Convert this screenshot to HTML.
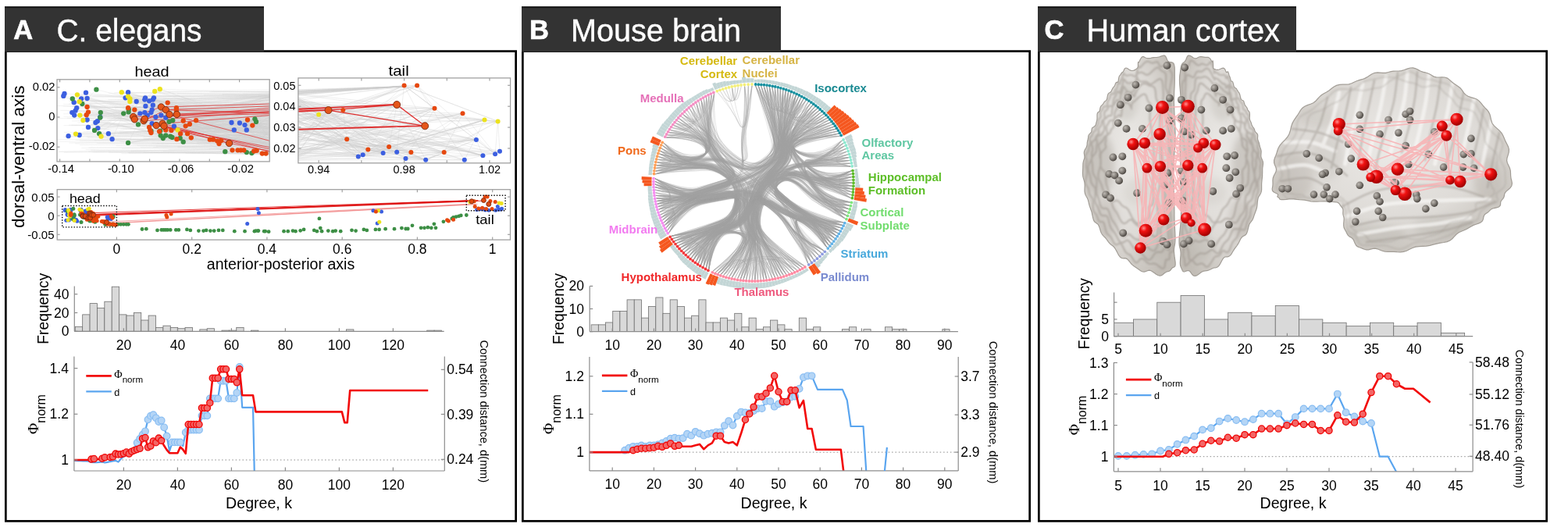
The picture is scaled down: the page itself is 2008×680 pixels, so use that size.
<!DOCTYPE html>
<html><head><meta charset="utf-8"><title>Rich-club figure</title>
<style>html,body{margin:0;padding:0;background:#fff}body{width:2008px;height:680px;overflow:hidden}svg{display:block}</style>
</head><body>
<svg width="2008" height="680" viewBox="0 0 2008 680" font-family="Liberation Sans, Arial, sans-serif">
<rect width="2008" height="680" fill="#fff"/>
<rect x="7.35" y="65.6" width="653.30" height="601.70" fill="none" stroke="#000" stroke-width="2.7"/>
<rect x="6" y="8.5" width="332" height="58.0" fill="#333"/>
<rect x="6" y="8.3" width="332" height="1.8" fill="#111"/>
<text x="17.2" y="50.2" font-size="34.5" text-anchor="start" font-weight="bold" fill="#fff" stroke="#fff" stroke-width="0.7">A</text>
<text x="72.5" y="53.4" font-size="40" text-anchor="start" fill="#fff"  textLength="186" lengthAdjust="spacingAndGlyphs" stroke="#fff" stroke-width="0.35">C. elegans</text>
<rect x="669.35" y="65.6" width="649.30" height="601.70" fill="none" stroke="#000" stroke-width="2.7"/>
<rect x="668" y="8.5" width="332" height="58.0" fill="#333"/>
<rect x="668" y="8.3" width="332" height="1.8" fill="#111"/>
<text x="678.0" y="50.2" font-size="34.5" text-anchor="start" font-weight="bold" fill="#fff" stroke="#fff" stroke-width="0.7">B</text>
<text x="731.0" y="53.4" font-size="40" text-anchor="start" fill="#fff"  textLength="218" lengthAdjust="spacingAndGlyphs" stroke="#fff" stroke-width="0.35">Mouse brain</text>
<rect x="1330.35" y="65.6" width="650.30" height="601.70" fill="none" stroke="#000" stroke-width="2.7"/>
<rect x="1329" y="8.5" width="331" height="58.0" fill="#333"/>
<rect x="1329" y="8.3" width="331" height="1.8" fill="#111"/>
<text x="1337.5" y="50.2" font-size="34.5" text-anchor="start" font-weight="bold" fill="#fff" stroke="#fff" stroke-width="0.7">C</text>
<text x="1391.5" y="53.4" font-size="40" text-anchor="start" fill="#fff"  textLength="247.5" lengthAdjust="spacingAndGlyphs" stroke="#fff" stroke-width="0.35">Human cortex</text>
<clipPath id="chead"><rect x="73" y="101.8" width="272.2" height="105.10000000000001"/></clipPath>
<path d="M82.5,119.9L362.9,137.2M81.3,122.9L362.9,163.1M110.0,118.7L362.9,148.4M111.6,126.0L362.9,168.2M104.1,126.5L362.9,170.0M94.7,131.2L362.9,122.6M98.2,138.2L362.9,118.2M96.6,141.7L362.9,188.0M92.3,144.1L362.9,139.0M95.2,147.6L362.9,136.9M111.6,153.5L362.9,201.4M113.0,162.9L362.9,156.9M87.6,174.2L362.9,187.9M101.7,173.0L362.9,157.4M122.4,157.0L362.9,171.2M124.8,155.2L362.9,129.8M128.3,150.0L362.9,170.8M125.3,164.1L362.9,190.6M138.9,171.2L362.9,161.4M143.6,178.2L362.9,179.8M164.1,118.2L362.9,173.9M164.1,118.2L362.9,122.5M164.1,118.2L362.9,181.3M160.6,125.3L362.9,167.1M160.6,125.3L362.9,142.6M160.6,125.3L362.9,119.7M174.7,130.0L362.9,190.3M174.7,130.0L362.9,157.1M174.7,130.0L362.9,177.9M186.0,125.3L362.9,191.5M186.0,125.3L362.9,177.5M186.0,125.3L362.9,195.1M185.3,127.6L362.9,150.5M185.3,127.6L362.9,184.9M185.3,127.6L362.9,154.7M191.1,129.3L362.9,196.3M191.1,129.3L362.9,191.5M191.1,129.3L362.9,125.3M197.0,125.3L362.9,128.6M197.0,125.3L362.9,135.4M197.0,125.3L362.9,198.8M195.8,127.6L362.9,154.0M195.8,127.6L362.9,170.1M195.8,127.6L362.9,142.5M186.4,135.9L362.9,160.0M186.4,135.9L362.9,149.7M186.4,135.9L362.9,146.8M195.8,134.7L362.9,166.6M195.8,134.7L362.9,166.5M195.8,134.7L362.9,193.6M179.4,145.3L362.9,174.8M179.4,145.3L362.9,195.7M179.4,145.3L362.9,189.6M185.3,144.1L362.9,201.0M185.3,144.1L362.9,173.9M185.3,144.1L362.9,130.9M188.8,147.6L362.9,189.9M188.8,147.6L362.9,198.7M188.8,147.6L362.9,193.7M193.5,144.1L362.9,165.2M193.5,144.1L362.9,177.5M193.5,144.1L362.9,134.9M199.4,150.0L362.9,187.5M199.4,150.0L362.9,165.6M199.4,150.0L362.9,141.2M194.7,140.6L362.9,122.4M194.7,140.6L362.9,189.4M194.7,140.6L362.9,200.9M206.4,147.6L362.9,124.5M206.4,147.6L362.9,184.8M206.4,147.6L362.9,151.8M212.3,150.7L362.9,129.8M212.3,150.7L362.9,141.9M212.3,150.7L362.9,182.2M194.7,158.2L362.9,191.0M194.7,158.2L362.9,120.8M194.7,158.2L362.9,169.1M222.9,161.7L362.9,120.9M222.9,161.7L362.9,177.9M222.9,161.7L362.9,145.1M296.5,157.0L362.9,191.6M296.5,157.0L362.9,200.1M296.5,157.0L362.9,159.8M306.9,157.5L362.9,201.6M306.9,157.5L362.9,143.3M306.9,157.5L362.9,123.6M313.5,160.1L362.9,167.8M313.5,160.1L362.9,119.7M313.5,160.1L362.9,133.8M299.8,166.4L362.9,151.6M299.8,166.4L362.9,168.7M299.8,166.4L362.9,130.3M315.8,166.4L362.9,120.6M315.8,166.4L362.9,190.5M315.8,166.4L362.9,143.6M98.9,121.3L362.9,198.2M101.7,130.2L362.9,193.0M102.4,147.6L362.9,149.0M106.4,154.0L362.9,156.0M97.0,171.6L362.9,161.1M129.5,174.7L362.9,171.6M155.8,118.2L362.9,167.5M155.8,118.2L362.9,164.4M155.8,118.2L362.9,169.6M164.1,123.6L362.9,196.7M164.1,123.6L362.9,160.0M164.1,123.6L362.9,153.6M166.4,126.5L362.9,178.0M166.4,126.5L362.9,137.2M166.4,126.5L362.9,142.5M166.4,130.0L362.9,199.9M166.4,130.0L362.9,161.2M166.4,130.0L362.9,163.5M198.2,117.0L362.9,118.0M198.2,117.0L362.9,152.2M198.2,117.0L362.9,166.2M204.8,114.2L362.9,118.7M204.8,114.2L362.9,169.2M204.8,114.2L362.9,170.6M227.6,166.4L362.9,122.1M227.6,166.4L362.9,170.2M227.6,166.4L362.9,156.5M123.4,114.7L362.9,174.6M92.8,126.5L362.9,146.9M105.3,133.0L362.9,176.9M128.8,144.1L362.9,179.5M128.3,150.5L362.9,118.9M121.0,166.9L362.9,122.2M127.1,171.2L362.9,174.3M158.2,145.3L362.9,198.6M158.2,145.3L362.9,138.3M158.2,145.3L362.9,155.7M164.8,140.1L362.9,167.2M164.8,140.1L362.9,144.1M164.8,140.1L362.9,147.9M164.6,143.4L362.9,143.5M164.6,143.4L362.9,148.3M164.6,143.4L362.9,167.5M164.1,182.9L362.9,142.5M164.1,182.9L362.9,149.0M164.1,182.9L362.9,182.4M177.0,159.4L362.9,119.3M177.0,159.4L362.9,165.3M177.0,159.4L362.9,179.3M193.5,167.6L362.9,143.3M193.5,167.6L362.9,135.9M193.5,167.6L362.9,185.1M205.2,167.6L362.9,137.3M205.2,167.6L362.9,132.9M205.2,167.6L362.9,153.9M205.7,173.5L362.9,176.2M205.7,173.5L362.9,125.7M205.7,173.5L362.9,144.3M208.8,177.0L362.9,145.3M208.8,177.0L362.9,187.6M208.8,177.0L362.9,154.2M212.3,173.5L362.9,189.5M212.3,173.5L362.9,131.4M212.3,173.5L362.9,145.6M218.2,174.7L362.9,172.1M218.2,174.7L362.9,192.0M218.2,174.7L362.9,155.2M220.5,175.9L362.9,136.1M220.5,175.9L362.9,127.3M220.5,175.9L362.9,161.9M216.5,155.9L362.9,133.2M216.5,155.9L362.9,185.4M216.5,155.9L362.9,188.1M221.2,154.2L362.9,132.6M221.2,154.2L362.9,140.6M221.2,154.2L362.9,185.4M230.7,177.0L362.9,171.4M230.7,177.0L362.9,185.3M230.7,177.0L362.9,146.3M234.7,181.7L362.9,128.0M234.7,181.7L362.9,141.8M234.7,181.7L362.9,184.3M288.3,194.2L362.9,140.0M288.3,194.2L362.9,146.4M288.3,194.2L362.9,152.4M315.8,195.1L362.9,152.6M315.8,195.1L362.9,151.7M315.8,195.1L362.9,195.0M322.4,196.1L362.9,130.3M322.4,196.1L362.9,117.4M322.4,196.1L362.9,196.9M326.4,152.3L362.9,191.6M326.4,152.3L362.9,200.6M326.4,152.3L362.9,153.8M328.0,155.9L362.9,197.5M328.0,155.9L362.9,195.6M328.0,155.9L362.9,135.9M111.6,137.0L362.9,180.2M113.0,143.6L362.9,187.9M110.7,147.2L362.9,173.2M172.3,140.6L362.9,161.0M172.3,140.6L362.9,141.5M172.3,140.6L362.9,145.9M164.1,138.2L362.9,136.3M164.1,138.2L362.9,122.8M164.1,138.2L362.9,166.9M214.7,131.6L362.9,141.4M214.7,131.6L362.9,185.7M214.7,131.6L362.9,120.9M225.9,138.2L362.9,193.6M225.9,138.2L362.9,175.8M225.9,138.2L362.9,195.3M225.9,141.7L362.9,193.0M225.9,141.7L362.9,193.2M225.9,141.7L362.9,165.9M234.7,154.7L362.9,118.2M234.7,154.7L362.9,180.2M234.7,154.7L362.9,131.6M237.7,161.3L362.9,142.4M237.7,161.3L362.9,173.2M237.7,161.3L362.9,161.5M242.9,158.9L362.9,152.1M242.9,158.9L362.9,196.6M242.9,158.9L362.9,168.9M251.1,154.2L362.9,146.0M251.1,154.2L362.9,138.4M251.1,154.2L362.9,190.0M191.1,162.9L362.9,157.5M191.1,162.9L362.9,183.3M191.1,162.9L362.9,146.8M192.3,166.9L362.9,133.8M192.3,166.9L362.9,162.3M192.3,166.9L362.9,186.2M193.5,170.0L362.9,131.6M193.5,170.0L362.9,184.1M193.5,170.0L362.9,195.1M204.1,168.3L362.9,185.3M204.1,168.3L362.9,186.8M204.1,168.3L362.9,117.7M212.3,166.4L362.9,170.3M212.3,166.4L362.9,190.1M212.3,166.4L362.9,121.3M219.4,166.9L362.9,140.0M219.4,166.9L362.9,139.8M219.4,166.9L362.9,161.7M226.4,178.2L362.9,152.9M226.4,178.2L362.9,157.1M226.4,178.2L362.9,182.8M231.1,171.2L362.9,117.2M231.1,171.2L362.9,121.7M231.1,171.2L362.9,127.8M240.1,171.2L362.9,127.6M240.1,171.2L362.9,122.8M240.1,171.2L362.9,199.6M244.8,176.3L362.9,189.4M244.8,176.3L362.9,124.3M244.8,176.3L362.9,159.6M268.8,178.7L362.9,143.8M268.8,178.7L362.9,143.7M268.8,178.7L362.9,146.8M273.0,178.7L362.9,171.8M273.0,178.7L362.9,166.7M273.0,178.7L362.9,147.6M278.2,180.6L362.9,133.2M278.2,180.6L362.9,144.9M278.2,180.6L362.9,127.5M280.5,184.1L362.9,164.1M280.5,184.1L362.9,177.7M280.5,184.1L362.9,149.2M283.3,180.1L362.9,123.8M283.3,180.1L362.9,132.2M283.3,180.1L362.9,148.7M297.5,192.3L362.9,168.2M297.5,192.3L362.9,183.3M297.5,192.3L362.9,149.3M304.5,192.3L362.9,184.9M304.5,192.3L362.9,169.8M304.5,192.3L362.9,153.6M308.3,192.3L362.9,148.6M308.3,192.3L362.9,159.1M308.3,192.3L362.9,176.6M312.3,192.3L362.9,152.7M312.3,192.3L362.9,175.8M312.3,192.3L362.9,156.1M325.2,193.5L362.9,137.8M325.2,193.5L362.9,162.4M325.2,193.5L362.9,175.9M328.7,192.8L362.9,123.1M328.7,192.8L362.9,153.0M328.7,192.8L362.9,153.1M335.8,196.6L362.9,191.5M335.8,196.6L362.9,196.4M335.8,196.6L362.9,148.7M340.5,196.6L362.9,193.1M340.5,196.6L362.9,184.0M340.5,196.6L362.9,139.3M317.0,153.5L362.9,156.4M317.0,153.5L362.9,127.5M317.0,153.5L362.9,185.9M323.3,160.6L362.9,173.1M323.3,160.6L362.9,192.2M323.3,160.6L362.9,184.2M170.7,149.5L362.9,173.6M170.7,149.5L362.9,179.2M170.7,149.5L362.9,164.8M172.3,152.8L362.9,125.8M172.3,152.8L362.9,166.8M172.3,152.8L362.9,117.5M184.1,154.7L362.9,129.2M184.1,154.7L362.9,182.6M184.1,154.7L362.9,120.8M185.3,152.3L362.9,124.8M185.3,152.3L362.9,125.5M185.3,152.3L362.9,191.6M200.1,160.6L362.9,132.2M200.1,160.6L362.9,119.0M200.1,160.6L362.9,188.3M208.1,158.2L362.9,127.3M208.1,158.2L362.9,188.5M208.1,158.2L362.9,174.1M210.0,161.3L362.9,187.9M210.0,161.3L362.9,197.7M210.0,161.3L362.9,166.1M206.4,137.0L362.9,184.7M206.4,137.0L362.9,120.1M206.4,137.0L362.9,182.0M212.3,140.6L362.9,160.3M212.3,140.6L362.9,177.6M212.3,140.6L362.9,126.1M217.0,146.5L362.9,180.5M217.0,146.5L362.9,196.2M217.0,146.5L362.9,122.2M226.4,146.5L362.9,144.5M226.4,146.5L362.9,164.8M226.4,146.5L362.9,187.2M293.5,183.4L362.9,137.6M293.5,183.4L362.9,132.3M293.5,183.4L362.9,138.2M193.5,170.0L127.1,171.2M234.7,154.7L204.1,168.3M172.3,140.6L244.8,176.3M160.6,125.3L242.9,158.9M208.1,158.2L105.3,133.0M231.1,171.2L306.9,157.5M240.1,171.2L217.0,146.5M170.7,149.5L222.9,161.7M212.3,166.4L194.7,158.2M306.9,157.5L185.3,127.6M200.1,160.6L170.7,149.5M217.0,146.5L297.5,192.3M102.4,147.6L199.4,150.0M164.1,182.9L129.5,174.7M212.3,150.7L212.3,140.6M234.7,181.7L92.8,126.5M218.2,174.7L231.1,171.2M164.1,182.9L198.2,117.0M221.2,154.2L94.7,131.2M164.1,182.9L323.3,160.6M251.1,154.2L155.8,118.2M315.8,166.4L225.9,138.2M128.8,144.1L315.8,195.1M170.7,149.5L206.4,147.6M244.8,176.3L323.3,160.6M164.1,123.6L335.8,196.6M96.6,141.7L170.7,149.5M138.9,171.2L212.3,166.4M113.0,162.9L335.8,196.6M123.4,114.7L105.3,133.0M125.3,164.1L198.2,117.0M158.2,145.3L128.8,144.1M106.4,154.0L164.8,140.1M194.7,140.6L102.4,147.6M95.2,147.6L158.2,145.3M299.8,166.4L113.0,162.9M234.7,181.7L101.7,130.2M268.8,178.7L186.0,125.3M160.6,125.3L179.4,145.3M186.0,125.3L164.6,143.4M212.3,173.5L95.2,147.6M214.7,131.6L308.3,192.3M111.6,137.0L81.3,122.9M96.6,141.7L328.0,155.9M326.4,152.3L280.5,184.1M251.1,154.2L172.3,152.8M143.6,178.2L166.4,126.5M184.1,154.7L193.5,170.0M188.8,147.6L288.3,194.2M179.4,145.3L193.5,167.6M143.6,178.2L278.2,180.6M186.4,135.9L283.3,180.1M127.1,171.2L185.3,127.6M237.7,161.3L234.7,154.7M308.3,192.3L218.2,174.7M164.6,143.4L195.8,127.6M111.6,137.0L293.5,183.4M195.8,134.7L185.3,152.3M206.4,137.0L164.1,138.2M124.8,155.2L218.2,174.7M101.7,130.2L194.7,158.2M98.9,121.3L234.7,154.7M312.3,192.3L185.3,144.1M195.8,127.6L206.4,147.6M326.4,152.3L244.8,176.3M220.5,175.9L102.4,147.6M325.2,193.5L170.7,149.5M230.7,177.0L98.9,121.3M125.3,164.1L195.8,127.6M101.7,130.2L193.5,170.0M157.5,138.3L362.9,137.2M284.3,120.4L362.9,120.4M129.9,178.5L362.9,176.9M151.0,149.3L362.9,149.7M259.4,145.3L362.9,146.4M96.5,138.7L362.9,133.4M96.6,179.4L362.9,182.3M114.5,132.2L362.9,131.2M252.4,182.3L362.9,183.2M215.0,128.8L362.9,128.1M116.6,159.2L362.9,160.1M118.7,137.1L362.9,140.4M76.2,181.3L362.9,186.9M303.3,147.7L362.9,147.7M212.8,167.7L362.9,170.7M238.4,141.0L362.9,142.7M188.4,165.1L362.9,166.9M69.4,178.7L362.9,181.1M190.3,158.9L362.9,158.6M116.6,159.4L362.9,153.9M192.4,168.7L362.9,168.3M208.6,193.8L362.9,196.3M102.3,180.4L362.9,182.0M81.3,145.8L362.9,142.1M88.0,160.1L362.9,166.0M148.6,186.7L362.9,188.6M102.0,185.7L362.9,187.0M297.8,174.3L362.9,174.6M153.7,181.6L362.9,185.8M281.6,152.0L362.9,152.5M188.6,125.8L362.9,122.3M88.1,133.1L362.9,128.4M191.6,173.0L362.9,173.3M173.1,169.0L362.9,167.3M183.5,177.6L362.9,176.8M113.4,189.0L362.9,191.7M159.4,146.7L362.9,147.0M216.1,135.0L362.9,132.0M120.4,179.7L362.9,175.5M182.4,132.7L362.9,130.3M111.0,149.3L362.9,145.3M75.6,125.9L362.9,121.1M189.9,121.8L362.9,118.2M179.5,149.7L362.9,151.3M81.4,149.3L362.9,147.9M75.4,194.3L362.9,190.2M92.1,155.0L362.9,150.5M222.6,144.7L362.9,142.6M81.6,175.2L362.9,172.1M263.4,154.3L362.9,155.6M143.0,137.0L362.9,134.6M270.0,167.4L362.9,166.9M92.0,171.6L362.9,177.9M215.1,117.3L362.9,114.5M91.2,130.7L362.9,124.4M82.1,169.4L362.9,175.0M118.4,194.9L362.9,194.7M267.3,190.4L362.9,191.7M77.3,141.4L362.9,143.0M302.6,124.1L362.9,123.9M278.7,126.2L362.9,126.0M151.4,171.4L362.9,175.7M111.9,176.2L362.9,179.1M275.2,161.3L362.9,162.3M158.4,150.2L362.9,147.7M261.3,155.5L362.9,154.7M110.7,174.7L362.9,176.0M244.3,148.0L362.9,147.9M106.8,173.9L362.9,167.9M184.1,177.7L362.9,179.1M92.8,136.0L362.9,140.6M227.5,187.3L362.9,189.3M179.9,188.8L362.9,190.7M151.2,146.6L362.9,142.4M167.4,193.5L362.9,190.0M209.3,125.9L362.9,123.2M229.1,136.3L362.9,134.0M106.5,168.6L362.9,169.7M71.7,135.4L362.9,142.3M123.2,162.0L362.9,161.1M261.8,165.4L362.9,166.3M201.0,132.1L362.9,129.9M88.4,183.1L362.9,177.8M74.7,194.3L362.9,190.0M289.5,123.9L362.9,123.9M123.8,183.4L362.9,184.7M227.3,177.9L362.9,179.9M154.3,165.3L362.9,164.8M96.2,183.9L362.9,185.1M270.1,133.5L362.9,133.6M183.5,175.3L362.9,171.9M154.3,155.8L362.9,151.6M205.3,175.9L362.9,175.3M229.0,165.5L362.9,164.0M155.4,196.7L362.9,195.1M175.2,123.8L362.9,121.4M109.6,191.5L362.9,194.3M284.9,196.0L362.9,196.2M298.9,159.9L362.9,159.8M303.0,189.3L362.9,189.6M188.4,178.9L362.9,178.2M315.1,190.7L362.9,190.6M299.6,131.8L362.9,131.4M247.2,140.6L362.9,140.7M226.7,120.3L362.9,121.6M137.0,151.6L362.9,150.0M252.1,176.8L362.9,176.0M94.3,141.0L362.9,139.8M88.0,129.3L362.9,132.9M241.8,195.1L362.9,197.3M285.2,146.8L362.9,146.2M145.9,154.1L362.9,154.4M202.7,145.8L362.9,148.2M139.3,154.1L362.9,158.2M268.2,140.8L362.9,140.1M268.1,117.9L362.9,116.8M199.9,159.9L362.9,157.6M81.2,133.4L362.9,137.2M183.8,195.4L362.9,197.6M310.7,119.9L362.9,119.8M72.1,151.6L362.9,149.3M81.5,160.7L362.9,155.0M145.8,136.8L362.9,139.9M172.1,137.9L362.9,133.9M174.9,167.2L362.9,168.7M294.2,181.7L362.9,181.4M102.3,177.7L362.9,181.4M194.5,183.5L362.9,183.9M137.9,130.5L362.9,125.4M227.7,188.8L362.9,190.9M184.3,170.3L362.9,173.7M269.9,165.2L362.9,165.0M196.9,130.7L362.9,128.4M237.7,196.4L362.9,196.6M169.6,145.2L362.9,144.8M267.1,153.2L362.9,154.6M107.2,142.2L362.9,142.5M170.5,185.1L362.9,188.0M298.8,166.0L362.9,165.6M210.7,161.0L362.9,160.9M137.9,173.8L362.9,178.2M94.1,170.5L362.9,168.8M196.0,188.7L362.9,192.0M227.8,132.7L362.9,134.9M113.5,147.7L362.9,151.7M146.9,138.7L362.9,143.3M301.9,142.4L362.9,142.3M138.5,127.6L362.9,124.9M310.9,123.4L362.9,123.3M118.2,123.4L362.9,123.7M252.3,184.1L362.9,184.6M270.8,117.5L362.9,116.9M306.2,122.6L362.9,122.5M188.1,138.5L362.9,138.8M80.5,135.9L362.9,142.4M104.4,189.5L362.9,185.4M314.0,171.0L362.9,171.0M103.9,121.4L362.9,124.7M112.3,132.2L362.9,136.2M284.9,121.0L362.9,121.8M200.9,147.6L362.9,144.9M165.1,196.0L362.9,194.0M101.2,128.7L362.9,123.9M155.9,190.2L362.9,186.2M116.2,192.2L362.9,198.1M310.9,136.7L362.9,136.7M303.7,155.8L362.9,156.0M146.2,118.8L362.9,117.2M253.6,179.6L362.9,179.8M183.4,160.1L362.9,159.6M200.8,183.7L362.9,181.6M215.6,191.7L362.9,193.7M113.1,194.1L362.9,198.2M110.3,138.3L362.9,134.6M81.9,195.3L362.9,194.0M284.4,126.2L362.9,125.3M283.6,180.6L362.9,181.5M238.1,159.1L362.9,160.3M91.7,160.3L362.9,159.5M105.0,165.1L362.9,162.8M193.9,146.9L362.9,145.6M157.3,165.1L362.9,169.7M300.0,186.0L362.9,186.3M139.6,195.2L362.9,192.7M99.2,157.1L362.9,160.1M153.0,168.7L362.9,166.5M307.6,153.3L362.9,153.3M200.1,187.0L362.9,190.4M199.3,152.4L362.9,153.2M85.9,151.1L362.9,155.9M260.8,121.8L362.9,123.0M163.7,195.5L362.9,194.3M121.8,160.9L362.9,165.4M175.3,186.4L362.9,188.2M158.1,141.1L362.9,141.1M167.4,146.8L362.9,148.2M285.0,163.8L362.9,163.1M123.1,146.7L362.9,148.0M103.3,123.6L362.9,121.3M138.7,119.4L362.9,119.8" stroke="#d2d2d2" stroke-width="0.6" fill="none" opacity="0.45" clip-path="url(#chead)"/>
<path d="M206.4,137.0L346.4,133.0M212.3,140.6L346.4,135.9M217.0,146.5L346.4,140.6M226.4,146.5L346.4,143.4M212.3,140.6L346.4,144.8M208.1,158.2L346.4,147.6M170.7,149.5L346.4,145.7M184.1,154.7L346.4,142.5M200.1,160.6L293.5,183.4M210.0,161.3L293.5,183.4M293.5,183.4L346.4,193.5M210.0,161.3L346.4,191.1M217.0,146.5L346.4,180.6M200.1,160.6L346.4,188.8M208.1,158.2L346.4,194.7M170.7,149.5L206.4,137.0M184.1,154.7L212.3,140.6M172.3,152.8L346.4,138.2" stroke="#e02020" stroke-width="1" fill="none" opacity="0.7" clip-path="url(#chead)"/>
<circle cx="82.5" cy="119.9" r="3.15" fill="#3c5fe0"/>
<circle cx="81.3" cy="122.9" r="3.15" fill="#3c5fe0"/>
<circle cx="110.0" cy="118.7" r="3.15" fill="#3c5fe0"/>
<circle cx="111.6" cy="126.0" r="3.15" fill="#3c5fe0"/>
<circle cx="104.1" cy="126.5" r="3.15" fill="#3c5fe0"/>
<circle cx="94.7" cy="131.2" r="3.15" fill="#3c5fe0"/>
<circle cx="98.2" cy="138.2" r="3.15" fill="#3c5fe0"/>
<circle cx="96.6" cy="141.7" r="3.15" fill="#3c5fe0"/>
<circle cx="92.3" cy="144.1" r="3.15" fill="#3c5fe0"/>
<circle cx="95.2" cy="147.6" r="3.15" fill="#3c5fe0"/>
<circle cx="111.6" cy="153.5" r="3.15" fill="#3c5fe0"/>
<circle cx="113.0" cy="162.9" r="3.15" fill="#3c5fe0"/>
<circle cx="87.6" cy="174.2" r="3.15" fill="#3c5fe0"/>
<circle cx="101.7" cy="173.0" r="3.15" fill="#3c5fe0"/>
<circle cx="122.4" cy="157.0" r="3.15" fill="#3c5fe0"/>
<circle cx="124.8" cy="155.2" r="3.15" fill="#3c5fe0"/>
<circle cx="128.3" cy="150.0" r="3.15" fill="#3c5fe0"/>
<circle cx="125.3" cy="164.1" r="3.15" fill="#3c5fe0"/>
<circle cx="138.9" cy="171.2" r="3.15" fill="#3c5fe0"/>
<circle cx="143.6" cy="178.2" r="3.15" fill="#3c5fe0"/>
<circle cx="164.1" cy="118.2" r="3.15" fill="#3c5fe0"/>
<circle cx="160.6" cy="125.3" r="3.15" fill="#3c5fe0"/>
<circle cx="174.7" cy="130.0" r="3.15" fill="#3c5fe0"/>
<circle cx="186.0" cy="125.3" r="3.15" fill="#3c5fe0"/>
<circle cx="185.3" cy="127.6" r="3.15" fill="#3c5fe0"/>
<circle cx="191.1" cy="129.3" r="3.15" fill="#3c5fe0"/>
<circle cx="197.0" cy="125.3" r="3.15" fill="#3c5fe0"/>
<circle cx="195.8" cy="127.6" r="3.15" fill="#3c5fe0"/>
<circle cx="186.4" cy="135.9" r="3.15" fill="#3c5fe0"/>
<circle cx="195.8" cy="134.7" r="3.15" fill="#3c5fe0"/>
<circle cx="179.4" cy="145.3" r="3.15" fill="#3c5fe0"/>
<circle cx="185.3" cy="144.1" r="3.15" fill="#3c5fe0"/>
<circle cx="188.8" cy="147.6" r="3.15" fill="#3c5fe0"/>
<circle cx="193.5" cy="144.1" r="3.15" fill="#3c5fe0"/>
<circle cx="199.4" cy="150.0" r="3.15" fill="#3c5fe0"/>
<circle cx="194.7" cy="140.6" r="3.15" fill="#3c5fe0"/>
<circle cx="206.4" cy="147.6" r="3.15" fill="#3c5fe0"/>
<circle cx="212.3" cy="150.7" r="3.15" fill="#3c5fe0"/>
<circle cx="194.7" cy="158.2" r="3.15" fill="#3c5fe0"/>
<circle cx="222.9" cy="161.7" r="3.15" fill="#3c5fe0"/>
<circle cx="296.5" cy="157.0" r="3.15" fill="#3c5fe0"/>
<circle cx="306.9" cy="157.5" r="3.15" fill="#3c5fe0"/>
<circle cx="313.5" cy="160.1" r="3.15" fill="#3c5fe0"/>
<circle cx="299.8" cy="166.4" r="3.15" fill="#3c5fe0"/>
<circle cx="315.8" cy="166.4" r="3.15" fill="#3c5fe0"/>
<circle cx="123.4" cy="114.7" r="3.15" fill="#3d8f45"/>
<circle cx="92.8" cy="126.5" r="3.15" fill="#3d8f45"/>
<circle cx="105.3" cy="133.0" r="3.15" fill="#3d8f45"/>
<circle cx="128.8" cy="144.1" r="3.15" fill="#3d8f45"/>
<circle cx="128.3" cy="150.5" r="3.15" fill="#3d8f45"/>
<circle cx="121.0" cy="166.9" r="3.15" fill="#3d8f45"/>
<circle cx="127.1" cy="171.2" r="3.15" fill="#3d8f45"/>
<circle cx="158.2" cy="145.3" r="3.15" fill="#3d8f45"/>
<circle cx="164.8" cy="140.1" r="3.15" fill="#3d8f45"/>
<circle cx="164.6" cy="143.4" r="3.15" fill="#3d8f45"/>
<circle cx="164.1" cy="182.9" r="3.15" fill="#3d8f45"/>
<circle cx="177.0" cy="159.4" r="3.15" fill="#3d8f45"/>
<circle cx="193.5" cy="167.6" r="3.15" fill="#3d8f45"/>
<circle cx="205.2" cy="167.6" r="3.15" fill="#3d8f45"/>
<circle cx="205.7" cy="173.5" r="3.15" fill="#3d8f45"/>
<circle cx="208.8" cy="177.0" r="3.15" fill="#3d8f45"/>
<circle cx="212.3" cy="173.5" r="3.15" fill="#3d8f45"/>
<circle cx="218.2" cy="174.7" r="3.15" fill="#3d8f45"/>
<circle cx="220.5" cy="175.9" r="3.15" fill="#3d8f45"/>
<circle cx="216.5" cy="155.9" r="3.15" fill="#3d8f45"/>
<circle cx="221.2" cy="154.2" r="3.15" fill="#3d8f45"/>
<circle cx="230.7" cy="177.0" r="3.15" fill="#3d8f45"/>
<circle cx="234.7" cy="181.7" r="3.15" fill="#3d8f45"/>
<circle cx="288.3" cy="194.2" r="3.15" fill="#3d8f45"/>
<circle cx="315.8" cy="195.1" r="3.15" fill="#3d8f45"/>
<circle cx="322.4" cy="196.1" r="3.15" fill="#3d8f45"/>
<circle cx="326.4" cy="152.3" r="3.15" fill="#3d8f45"/>
<circle cx="328.0" cy="155.9" r="3.15" fill="#3d8f45"/>
<circle cx="98.9" cy="121.3" r="3.15" fill="#ece21e"/>
<circle cx="101.7" cy="130.2" r="3.15" fill="#ece21e"/>
<circle cx="102.4" cy="147.6" r="3.15" fill="#ece21e"/>
<circle cx="106.4" cy="154.0" r="3.15" fill="#ece21e"/>
<circle cx="97.0" cy="171.6" r="3.15" fill="#ece21e"/>
<circle cx="129.5" cy="174.7" r="3.15" fill="#ece21e"/>
<circle cx="155.8" cy="118.2" r="3.15" fill="#ece21e"/>
<circle cx="164.1" cy="123.6" r="3.15" fill="#ece21e"/>
<circle cx="166.4" cy="126.5" r="3.15" fill="#ece21e"/>
<circle cx="166.4" cy="130.0" r="3.15" fill="#ece21e"/>
<circle cx="198.2" cy="117.0" r="3.15" fill="#ece21e"/>
<circle cx="204.8" cy="114.2" r="3.15" fill="#ece21e"/>
<circle cx="227.6" cy="166.4" r="3.15" fill="#ece21e"/>
<circle cx="111.6" cy="137.0" r="3.15" fill="#e6480f"/>
<circle cx="113.0" cy="143.6" r="3.15" fill="#e6480f"/>
<circle cx="110.7" cy="147.2" r="3.15" fill="#e6480f"/>
<circle cx="172.3" cy="140.6" r="3.15" fill="#e6480f"/>
<circle cx="164.1" cy="138.2" r="3.15" fill="#e6480f"/>
<circle cx="214.7" cy="131.6" r="3.15" fill="#e6480f"/>
<circle cx="225.9" cy="138.2" r="3.15" fill="#e6480f"/>
<circle cx="225.9" cy="141.7" r="3.15" fill="#e6480f"/>
<circle cx="234.7" cy="154.7" r="3.15" fill="#e6480f"/>
<circle cx="237.7" cy="161.3" r="3.15" fill="#e6480f"/>
<circle cx="242.9" cy="158.9" r="3.15" fill="#e6480f"/>
<circle cx="251.1" cy="154.2" r="3.15" fill="#e6480f"/>
<circle cx="191.1" cy="162.9" r="3.15" fill="#e6480f"/>
<circle cx="192.3" cy="166.9" r="3.15" fill="#e6480f"/>
<circle cx="193.5" cy="170.0" r="3.15" fill="#e6480f"/>
<circle cx="204.1" cy="168.3" r="3.15" fill="#e6480f"/>
<circle cx="212.3" cy="166.4" r="3.15" fill="#e6480f"/>
<circle cx="219.4" cy="166.9" r="3.15" fill="#e6480f"/>
<circle cx="226.4" cy="178.2" r="3.15" fill="#e6480f"/>
<circle cx="231.1" cy="171.2" r="3.15" fill="#e6480f"/>
<circle cx="240.1" cy="171.2" r="3.15" fill="#e6480f"/>
<circle cx="244.8" cy="176.3" r="3.15" fill="#e6480f"/>
<circle cx="268.8" cy="178.7" r="3.15" fill="#e6480f"/>
<circle cx="273.0" cy="178.7" r="3.15" fill="#e6480f"/>
<circle cx="278.2" cy="180.6" r="3.15" fill="#e6480f"/>
<circle cx="280.5" cy="184.1" r="3.15" fill="#e6480f"/>
<circle cx="283.3" cy="180.1" r="3.15" fill="#e6480f"/>
<circle cx="297.5" cy="192.3" r="3.15" fill="#e6480f"/>
<circle cx="304.5" cy="192.3" r="3.15" fill="#e6480f"/>
<circle cx="308.3" cy="192.3" r="3.15" fill="#e6480f"/>
<circle cx="312.3" cy="192.3" r="3.15" fill="#e6480f"/>
<circle cx="325.2" cy="193.5" r="3.15" fill="#e6480f"/>
<circle cx="328.7" cy="192.8" r="3.15" fill="#e6480f"/>
<circle cx="335.8" cy="196.6" r="3.15" fill="#e6480f"/>
<circle cx="340.5" cy="196.6" r="3.15" fill="#e6480f"/>
<circle cx="317.0" cy="153.5" r="3.15" fill="#e6480f"/>
<circle cx="323.3" cy="160.6" r="3.15" fill="#e6480f"/>
<circle cx="170.7" cy="149.5" r="4.2" fill="#e5561a" stroke="#7a2a10" stroke-width="0.9"/>
<circle cx="172.3" cy="152.8" r="4.2" fill="#e5561a" stroke="#7a2a10" stroke-width="0.9"/>
<circle cx="184.1" cy="154.7" r="4.2" fill="#e5561a" stroke="#7a2a10" stroke-width="0.9"/>
<circle cx="185.3" cy="152.3" r="4.2" fill="#e5561a" stroke="#7a2a10" stroke-width="0.9"/>
<circle cx="200.1" cy="160.6" r="4.2" fill="#e5561a" stroke="#7a2a10" stroke-width="0.9"/>
<circle cx="208.1" cy="158.2" r="4.2" fill="#e5561a" stroke="#7a2a10" stroke-width="0.9"/>
<circle cx="210.0" cy="161.3" r="4.2" fill="#e5561a" stroke="#7a2a10" stroke-width="0.9"/>
<circle cx="206.4" cy="137.0" r="4.2" fill="#e5561a" stroke="#7a2a10" stroke-width="0.9"/>
<circle cx="212.3" cy="140.6" r="4.2" fill="#e5561a" stroke="#7a2a10" stroke-width="0.9"/>
<circle cx="217.0" cy="146.5" r="4.2" fill="#e5561a" stroke="#7a2a10" stroke-width="0.9"/>
<circle cx="226.4" cy="146.5" r="4.2" fill="#e5561a" stroke="#7a2a10" stroke-width="0.9"/>
<circle cx="293.5" cy="183.4" r="4.2" fill="#e5561a" stroke="#7a2a10" stroke-width="0.9"/>
<rect x="73.0" y="101.8" width="272.2" height="105.1" fill="none" stroke="#a0a0a0" stroke-width="1.3"/>
<line x1="76.6" y1="203.4" x2="76.6" y2="206.9" stroke="#a0a0a0" stroke-width="1.2"/>
<line x1="76.6" y1="101.8" x2="76.6" y2="105.3" stroke="#a0a0a0" stroke-width="1.2"/>
<line x1="114.9" y1="203.4" x2="114.9" y2="206.9" stroke="#a0a0a0" stroke-width="1.2"/>
<line x1="114.9" y1="101.8" x2="114.9" y2="105.3" stroke="#a0a0a0" stroke-width="1.2"/>
<line x1="153.3" y1="203.4" x2="153.3" y2="206.9" stroke="#a0a0a0" stroke-width="1.2"/>
<line x1="153.3" y1="101.8" x2="153.3" y2="105.3" stroke="#a0a0a0" stroke-width="1.2"/>
<line x1="191.6" y1="203.4" x2="191.6" y2="206.9" stroke="#a0a0a0" stroke-width="1.2"/>
<line x1="191.6" y1="101.8" x2="191.6" y2="105.3" stroke="#a0a0a0" stroke-width="1.2"/>
<line x1="230.0" y1="203.4" x2="230.0" y2="206.9" stroke="#a0a0a0" stroke-width="1.2"/>
<line x1="230.0" y1="101.8" x2="230.0" y2="105.3" stroke="#a0a0a0" stroke-width="1.2"/>
<line x1="268.3" y1="203.4" x2="268.3" y2="206.9" stroke="#a0a0a0" stroke-width="1.2"/>
<line x1="268.3" y1="101.8" x2="268.3" y2="105.3" stroke="#a0a0a0" stroke-width="1.2"/>
<line x1="306.6" y1="203.4" x2="306.6" y2="206.9" stroke="#a0a0a0" stroke-width="1.2"/>
<line x1="306.6" y1="101.8" x2="306.6" y2="105.3" stroke="#a0a0a0" stroke-width="1.2"/>
<text x="78.1" y="220.5" font-size="14.8" text-anchor="middle" fill="#000" >-0.14</text>
<text x="154.8" y="220.5" font-size="14.8" text-anchor="middle" fill="#000" >-0.10</text>
<text x="231.5" y="220.5" font-size="14.8" text-anchor="middle" fill="#000" >-0.06</text>
<text x="308.1" y="220.5" font-size="14.8" text-anchor="middle" fill="#000" >-0.02</text>
<line x1="73.0" y1="111.8" x2="76.5" y2="111.8" stroke="#a0a0a0" stroke-width="1.2"/>
<text x="70.5" y="116.0" font-size="14.8" text-anchor="end" fill="#000" >0.02</text>
<line x1="73.0" y1="150.0" x2="76.5" y2="150.0" stroke="#a0a0a0" stroke-width="1.2"/>
<text x="70.5" y="154.2" font-size="14.8" text-anchor="end" fill="#000" >0</text>
<line x1="73.0" y1="188.2" x2="76.5" y2="188.2" stroke="#a0a0a0" stroke-width="1.2"/>
<text x="70.5" y="192.4" font-size="14.8" text-anchor="end" fill="#000" >-0.02</text>
<text x="194.5" y="98.2" font-size="18.7" text-anchor="middle" fill="#000" textLength="44.2" lengthAdjust="spacingAndGlyphs">head</text>
<clipPath id="ctail"><rect x="381.9" y="99.9" width="271.70000000000005" height="108.9"/></clipPath>
<path d="M375.3,199.4L464.7,198.2M375.3,156.8L508.2,134.0M375.3,191.1L640.0,193.8M375.3,188.7L471.3,191.6M375.3,156.5L545.2,204.8M375.3,169.3L458.8,200.6M375.3,195.7L544.2,161.3M375.3,137.2L592.5,145.3M375.3,196.7L568.7,194.9M375.3,166.5L556.5,138.7M375.3,190.7L508.2,194.7M375.3,196.0L408.2,146.7M375.3,119.6L508.2,134.0M375.3,151.3L637.6,155.4M375.3,191.5L444.2,178.2M375.3,159.3L592.5,145.3M375.3,151.8L458.8,200.6M375.3,173.9L490.6,196.1M375.3,173.3L545.2,204.8M375.3,143.7L568.7,194.9M375.3,125.7L609.9,178.9M375.3,178.9L439.3,141.1M375.3,122.8L618.4,199.2M375.3,183.8L420.5,141.1M375.3,123.0L517.6,109.5M375.3,146.1L408.2,146.7M375.3,173.5L556.5,138.7M375.3,191.0L420.5,141.1M375.3,174.7L490.6,196.1M375.3,137.3L420.5,141.1M375.3,135.1L544.2,161.3M375.3,202.7L534.1,109.5M375.3,174.4L517.6,109.5M375.3,197.8L458.8,200.6M375.3,163.9L490.6,196.1M375.3,191.2L444.2,178.2M375.3,137.8L637.6,155.4M375.3,190.8L464.7,198.2M375.3,152.5L508.2,134.0M375.3,204.9L545.2,204.8M375.3,202.9L498.1,188.1M375.3,135.2L568.7,194.9M375.3,147.7L490.6,196.1M375.3,128.9L464.7,198.2M375.3,149.6L458.8,200.6M375.3,148.8L618.4,199.2M375.3,194.0L490.6,196.1M375.3,193.7L609.9,178.9M375.3,164.1L620.5,153.5M375.3,122.4L408.2,146.7M375.3,193.7L519.5,202.9M375.3,134.4L471.3,191.6M375.3,133.5L556.5,138.7M375.3,200.9L556.5,138.7M375.3,200.0L458.8,200.6M375.3,152.6L471.3,191.6M375.3,145.3L618.4,199.2M375.3,120.4L637.6,155.4M375.3,139.1L545.2,204.8M375.3,191.5L534.1,109.5M375.3,138.2L508.2,134.0M375.3,151.9L444.2,178.2M375.3,142.5L508.2,134.0M375.3,140.6L594.8,204.8M375.3,203.4L609.9,178.9M375.3,127.0L498.1,188.1M375.3,144.2L444.2,178.2M375.3,167.6L498.1,188.1M375.3,160.2L471.3,191.6M375.3,136.3L545.2,204.8M375.3,149.7L498.1,188.1M375.3,132.8L618.4,199.2M375.3,164.5L508.2,194.7M375.3,165.3L508.2,194.7M375.3,132.9L568.7,194.9M375.3,156.6L534.1,109.5M375.3,124.1L464.7,198.2M375.3,193.9L637.6,155.4M375.3,118.7L444.2,178.2M375.3,141.1L408.2,146.7M375.3,178.4L498.1,188.1M375.3,151.9L458.8,200.6M375.3,205.2L508.2,134.0M375.3,153.4L508.2,194.7M375.3,160.3L444.2,178.2M375.3,127.3L408.2,146.7M375.3,147.4L609.9,178.9M375.3,130.0L420.5,141.1M375.3,126.7L458.8,200.6M375.3,130.2L568.7,194.9M375.3,159.8L464.7,198.2M375.3,130.6L620.5,153.5M375.3,150.6L534.1,109.5M375.3,169.2L640.0,193.8M375.3,173.8L508.2,194.7M375.3,125.4L618.4,199.2M375.3,204.3L490.6,196.1M375.3,144.1L545.2,204.8M375.3,196.2L464.7,198.2M375.3,146.0L408.2,146.7M375.3,191.8L609.9,178.9M375.3,175.3L517.6,109.5M375.3,154.9L464.7,198.2M375.3,182.8L508.2,134.0M375.3,154.9L508.2,134.0M375.3,167.8L498.1,188.1M375.3,143.5L471.3,191.6M375.3,167.4L544.2,161.3M375.3,180.8L420.5,141.1M375.3,166.6L420.5,141.1M375.3,198.9L637.6,155.4M375.3,132.5L544.2,161.3M375.3,158.7L408.2,146.7M375.3,166.5L508.2,134.0M375.3,126.6L534.1,109.5M375.3,171.3L594.8,204.8M375.3,135.1L458.8,200.6M375.3,176.6L556.5,138.7M375.3,126.1L464.7,198.2M375.3,127.5L544.2,161.3M375.3,194.7L458.8,200.6M375.3,145.3L526.4,194.9M375.3,123.0L526.4,194.9M375.3,178.2L498.1,188.1M375.3,201.2L556.5,138.7M375.3,136.0L556.5,138.7M375.3,159.7L408.2,146.7M375.3,130.2L508.2,134.0M375.3,203.1L444.2,178.2M375.3,140.7L618.4,199.2M375.3,162.7L471.3,191.6M375.3,176.7L498.1,188.1M375.3,205.2L634.1,197.3M375.3,148.1L420.5,141.1M375.3,197.8L556.5,138.7M375.3,194.7L592.5,145.3M375.3,184.2L498.1,188.1M375.3,205.1L420.5,141.1M375.3,204.2L420.5,141.1M375.3,191.1L592.5,145.3M375.3,131.8L545.2,204.8M375.3,160.9L458.8,200.6M375.3,129.0L620.5,153.5M375.3,183.7L458.8,200.6M375.3,167.6L490.6,196.1M375.3,155.3L634.1,197.3M375.3,155.5L568.7,194.9M375.3,165.7L490.6,196.1M375.3,197.6L592.5,145.3M375.3,121.2L444.2,178.2M375.3,155.6L517.6,109.5M375.3,136.0L618.4,199.2M375.3,128.8L609.9,178.9M375.3,202.3L594.8,204.8M375.3,182.1L508.2,134.0M375.3,140.0L519.5,202.9M375.3,166.8L609.9,178.9M375.3,203.4L508.2,134.0M375.3,135.2L444.2,178.2M375.3,136.5L609.9,178.9M375.3,123.7L408.2,146.7M375.3,183.1L592.5,145.3M375.3,127.5L420.5,141.1M375.3,176.8L508.2,194.7M375.3,182.4L526.4,194.9M375.3,129.3L508.2,194.7M375.3,124.2L545.2,204.8M375.3,129.4L517.6,109.5M375.3,179.5L519.5,202.9M375.3,187.3L544.2,161.3M594.8,204.8L620.5,153.5M464.7,198.2L545.2,204.8M508.2,194.7L620.5,153.5M526.4,194.9L444.2,178.2M594.8,204.8L640.0,193.8M517.6,109.5L439.3,141.1M568.7,194.9L545.2,204.8M594.8,204.8L408.2,146.7M444.2,178.2L517.6,109.5M534.1,109.5L420.5,141.1M458.8,200.6L609.9,178.9M420.5,141.1L640.0,193.8M508.2,134.0L556.5,138.7M534.1,109.5L634.1,197.3M471.3,191.6L544.2,161.3M517.6,109.5L634.1,197.3M464.7,198.2L620.5,153.5M545.2,204.8L609.9,178.9M420.5,141.1L519.5,202.9M498.1,188.1L620.5,153.5M620.5,153.5L498.1,188.1M634.1,197.3L517.6,109.5M508.2,134.0L471.3,191.6M498.1,188.1L444.2,178.2M408.2,146.7L544.2,161.3M556.5,138.7L544.2,161.3M420.5,141.1L490.6,196.1M556.5,138.7L464.7,198.2M545.2,204.8L508.2,194.7M498.1,188.1L568.7,194.9M556.5,138.7L517.6,109.5M544.2,161.3L517.6,109.5M490.6,196.1L420.5,141.1M498.1,188.1L471.3,191.6M620.5,153.5L490.6,196.1M458.8,200.6L526.4,194.9M519.5,202.9L618.4,199.2M508.2,194.7L544.2,161.3M545.2,204.8L609.9,178.9M471.3,191.6L458.8,200.6M490.6,196.1L408.2,146.7M519.5,202.9L568.7,194.9M634.1,197.3L439.3,141.1M444.2,178.2L634.1,197.3M620.5,153.5L458.8,200.6M458.8,200.6L556.5,138.7M568.7,194.9L490.6,196.1M508.2,194.7L592.5,145.3M620.5,153.5L458.8,200.6M592.5,145.3L568.7,194.9M458.8,200.6L444.2,178.2M498.1,188.1L508.2,134.0M458.8,200.6L568.7,194.9M556.5,138.7L439.3,141.1M637.6,155.4L439.3,141.1M637.6,155.4L634.1,197.3M498.1,188.1L609.9,178.9M618.4,199.2L408.2,146.7M517.6,109.5L517.6,109.5M517.6,109.5L637.6,155.4M508.2,194.7L517.6,109.5M534.1,109.5L594.8,204.8M458.8,200.6L637.6,155.4M517.6,109.5L534.1,109.5M508.2,134.0L545.2,204.8M568.7,194.9L568.7,194.9M640.0,193.8L637.6,155.4M637.6,155.4L568.7,194.9M618.4,199.2L568.7,194.9M634.1,197.3L592.5,145.3M568.7,194.9L519.5,202.9M490.6,196.1L439.3,141.1M544.2,161.3L519.5,202.9M534.1,109.5L556.5,138.7M545.2,204.8L471.3,191.6M498.1,188.1L439.3,141.1M444.2,178.2L609.9,178.9M544.2,161.3L458.8,200.6M609.9,178.9L618.4,199.2M609.9,178.9L458.8,200.6M592.5,145.3L519.5,202.9M444.2,178.2L439.3,141.1M545.2,204.8L568.7,194.9M458.8,200.6L458.8,200.6M517.6,109.5L637.6,155.4M439.3,141.1L508.2,134.0M545.2,204.8L637.6,155.4M439.3,141.1L408.2,146.7M545.2,204.8L594.8,204.8M420.5,141.1L464.7,198.2M375.3,120.2L518.8,110.5M375.3,117.8L518.8,110.5M375.3,117.1L518.8,110.5M375.3,121.3L518.8,110.5M375.3,117.0L518.8,110.5M375.3,118.1L518.8,110.5M375.3,119.2L518.8,110.5M375.3,120.3L518.8,110.5M375.3,120.0L518.8,110.5M375.3,116.2L518.8,110.5M375.3,115.4L518.8,110.5M375.3,116.6L518.8,110.5M375.3,118.1L518.8,110.5M375.3,117.7L518.8,110.5M375.3,120.0L518.8,110.5M375.3,119.8L518.8,110.5M375.3,118.9L518.8,110.5M375.3,119.4L518.8,110.5M375.3,121.8L518.8,110.5M375.3,115.0L518.8,110.5M375.3,117.5L518.8,110.5M375.3,117.4L518.8,110.5M375.3,117.0L518.8,110.5M375.3,119.3L518.8,110.5M375.3,121.2L518.8,110.5" stroke="#cfcfcf" stroke-width="0.6" fill="none" opacity="0.55" clip-path="url(#ctail)"/>
<path d="M375.3,139.6L508.2,134.0M375.3,140.6L508.2,133.5M375.3,143.4L420.5,141.1M375.3,142.5L420.5,140.6M375.3,166.2L544.2,161.3M375.3,165.5L544.2,160.8M420.5,141.1L544.2,161.3M508.2,134.0L544.2,161.3M420.5,141.1L508.2,134.0" stroke="#dd1111" stroke-width="1.3" fill="none" opacity="0.85" clip-path="url(#ctail)"/>
<circle cx="458.8" cy="200.6" r="3.0" fill="#3c5fe0"/>
<circle cx="464.7" cy="198.2" r="3.0" fill="#3c5fe0"/>
<circle cx="490.6" cy="196.1" r="3.0" fill="#3c5fe0"/>
<circle cx="508.2" cy="194.7" r="3.0" fill="#3c5fe0"/>
<circle cx="519.5" cy="202.9" r="3.0" fill="#3c5fe0"/>
<circle cx="545.2" cy="204.8" r="3.0" fill="#3c5fe0"/>
<circle cx="594.8" cy="204.8" r="3.0" fill="#3c5fe0"/>
<circle cx="609.9" cy="178.9" r="3.0" fill="#3c5fe0"/>
<circle cx="618.4" cy="199.2" r="3.0" fill="#3c5fe0"/>
<circle cx="634.1" cy="197.3" r="3.0" fill="#3c5fe0"/>
<circle cx="640.0" cy="193.8" r="3.0" fill="#3c5fe0"/>
<circle cx="408.2" cy="146.7" r="3.0" fill="#ece21e"/>
<circle cx="620.5" cy="153.5" r="3.0" fill="#ece21e"/>
<circle cx="637.6" cy="155.4" r="3.0" fill="#ece21e"/>
<circle cx="517.6" cy="109.5" r="3.0" fill="#e6480f"/>
<circle cx="534.1" cy="109.5" r="3.0" fill="#e6480f"/>
<circle cx="439.3" cy="141.1" r="3.0" fill="#e6480f"/>
<circle cx="556.5" cy="138.7" r="3.0" fill="#e6480f"/>
<circle cx="592.5" cy="145.3" r="3.0" fill="#e6480f"/>
<circle cx="444.2" cy="178.2" r="3.0" fill="#e6480f"/>
<circle cx="471.3" cy="191.6" r="3.0" fill="#e6480f"/>
<circle cx="498.1" cy="188.1" r="3.0" fill="#e6480f"/>
<circle cx="526.4" cy="194.9" r="3.0" fill="#e6480f"/>
<circle cx="568.7" cy="194.9" r="3.0" fill="#e6480f"/>
<circle cx="420.5" cy="141.1" r="4.5" fill="#e5561a" stroke="#7a2a10" stroke-width="0.9"/>
<circle cx="508.2" cy="134.0" r="4.5" fill="#e5561a" stroke="#7a2a10" stroke-width="0.9"/>
<circle cx="544.2" cy="161.3" r="4.5" fill="#e5561a" stroke="#7a2a10" stroke-width="0.9"/>
<rect x="381.9" y="99.9" width="271.7" height="108.9" fill="none" stroke="#a0a0a0" stroke-width="1.3"/>
<line x1="408.2" y1="205.3" x2="408.2" y2="208.8" stroke="#a0a0a0" stroke-width="1.2"/>
<line x1="408.2" y1="99.9" x2="408.2" y2="103.4" stroke="#a0a0a0" stroke-width="1.2"/>
<line x1="462.9" y1="205.3" x2="462.9" y2="208.8" stroke="#a0a0a0" stroke-width="1.2"/>
<line x1="462.9" y1="99.9" x2="462.9" y2="103.4" stroke="#a0a0a0" stroke-width="1.2"/>
<line x1="517.6" y1="205.3" x2="517.6" y2="208.8" stroke="#a0a0a0" stroke-width="1.2"/>
<line x1="517.6" y1="99.9" x2="517.6" y2="103.4" stroke="#a0a0a0" stroke-width="1.2"/>
<line x1="572.3" y1="205.3" x2="572.3" y2="208.8" stroke="#a0a0a0" stroke-width="1.2"/>
<line x1="572.3" y1="99.9" x2="572.3" y2="103.4" stroke="#a0a0a0" stroke-width="1.2"/>
<line x1="627.0" y1="205.3" x2="627.0" y2="208.8" stroke="#a0a0a0" stroke-width="1.2"/>
<line x1="627.0" y1="99.9" x2="627.0" y2="103.4" stroke="#a0a0a0" stroke-width="1.2"/>
<text x="408.2" y="221.8" font-size="14.5" text-anchor="middle" fill="#000" >0.94</text>
<text x="517.6" y="221.8" font-size="14.5" text-anchor="middle" fill="#000" >0.98</text>
<text x="627.0" y="221.8" font-size="14.5" text-anchor="middle" fill="#000" >1.02</text>
<line x1="381.9" y1="109.3" x2="385.4" y2="109.3" stroke="#a0a0a0" stroke-width="1.2"/>
<line x1="650.1" y1="109.3" x2="653.6" y2="109.3" stroke="#a0a0a0" stroke-width="1.2"/>
<text x="378.5" y="114.5" font-size="14.5" text-anchor="end" fill="#000" >0.05</text>
<line x1="381.9" y1="136.2" x2="385.4" y2="136.2" stroke="#a0a0a0" stroke-width="1.2"/>
<line x1="650.1" y1="136.2" x2="653.6" y2="136.2" stroke="#a0a0a0" stroke-width="1.2"/>
<text x="378.5" y="141.4" font-size="14.5" text-anchor="end" fill="#000" >0.04</text>
<line x1="381.9" y1="163.1" x2="385.4" y2="163.1" stroke="#a0a0a0" stroke-width="1.2"/>
<line x1="650.1" y1="163.1" x2="653.6" y2="163.1" stroke="#a0a0a0" stroke-width="1.2"/>
<text x="378.5" y="168.3" font-size="14.5" text-anchor="end" fill="#000" >0.03</text>
<line x1="381.9" y1="190.0" x2="385.4" y2="190.0" stroke="#a0a0a0" stroke-width="1.2"/>
<line x1="650.1" y1="190.0" x2="653.6" y2="190.0" stroke="#a0a0a0" stroke-width="1.2"/>
<text x="378.5" y="195.2" font-size="14.5" text-anchor="end" fill="#000" >0.02</text>
<text x="510.6" y="97.2" font-size="18.5" text-anchor="middle" fill="#000" textLength="26.2" lengthAdjust="spacingAndGlyphs">tail</text>
<clipPath id="cbot"><rect x="73.2" y="242.7" width="580.3" height="64.40000000000003"/></clipPath>
<path d="M118.5,274.6L617.8,257.2M119.1,274.7L600.4,257.3M120.4,275.5L598.3,257.0M114.7,275.5L612.4,256.5M124.2,276.1L611.5,257.5M115.4,272.7L608.5,256.5" stroke="#dd0d0d" stroke-width="0.9" fill="none" opacity="0.9" clip-path="url(#cbot)"/>
<path d="M133.6,284.2L596.9,261.5M138.1,286.3L611.5,261.6M139.1,285.7L609.7,261.3" stroke="#ea5050" stroke-width="0.8" fill="none" opacity="0.6" clip-path="url(#cbot)"/>
<circle cx="182.0" cy="293.5" r="2.4" fill="#3d8f45"/>
<circle cx="187.3" cy="293.2" r="2.4" fill="#3d8f45"/>
<circle cx="201.5" cy="294.9" r="2.4" fill="#3d8f45"/>
<circle cx="206.8" cy="294.4" r="2.4" fill="#3d8f45"/>
<circle cx="209.4" cy="294.4" r="2.4" fill="#3d8f45"/>
<circle cx="212.0" cy="294.4" r="2.4" fill="#3d8f45"/>
<circle cx="214.7" cy="294.4" r="2.4" fill="#3d8f45"/>
<circle cx="218.2" cy="294.4" r="2.4" fill="#3d8f45"/>
<circle cx="225.3" cy="294.4" r="2.4" fill="#3d8f45"/>
<circle cx="228.8" cy="294.4" r="2.4" fill="#3d8f45"/>
<circle cx="239.4" cy="293.9" r="2.4" fill="#3d8f45"/>
<circle cx="243.8" cy="294.9" r="2.4" fill="#3d8f45"/>
<circle cx="254.4" cy="295.6" r="2.4" fill="#3d8f45"/>
<circle cx="260.6" cy="295.6" r="2.4" fill="#3d8f45"/>
<circle cx="264.1" cy="294.9" r="2.4" fill="#3d8f45"/>
<circle cx="269.4" cy="295.6" r="2.4" fill="#3d8f45"/>
<circle cx="274.2" cy="295.6" r="2.4" fill="#3d8f45"/>
<circle cx="280.0" cy="294.9" r="2.4" fill="#3d8f45"/>
<circle cx="285.3" cy="294.9" r="2.4" fill="#3d8f45"/>
<circle cx="300.3" cy="296.2" r="2.4" fill="#3d8f45"/>
<circle cx="313.5" cy="296.2" r="2.4" fill="#3d8f45"/>
<circle cx="325.9" cy="296.2" r="2.4" fill="#3d8f45"/>
<circle cx="327.6" cy="295.6" r="2.4" fill="#3d8f45"/>
<circle cx="330.3" cy="295.6" r="2.4" fill="#3d8f45"/>
<circle cx="338.2" cy="296.2" r="2.4" fill="#3d8f45"/>
<circle cx="151.2" cy="287.3" r="2.4" fill="#3d8f45"/>
<circle cx="154.7" cy="287.3" r="2.4" fill="#3d8f45"/>
<circle cx="158.2" cy="287.3" r="2.4" fill="#3d8f45"/>
<circle cx="161.8" cy="287.3" r="2.4" fill="#3d8f45"/>
<circle cx="164.4" cy="287.3" r="2.4" fill="#3d8f45"/>
<circle cx="144.1" cy="286.8" r="2.4" fill="#3d8f45"/>
<circle cx="140.6" cy="286.8" r="2.4" fill="#3d8f45"/>
<circle cx="134.4" cy="286.8" r="2.4" fill="#3d8f45"/>
<circle cx="330.9" cy="295.6" r="2.4" fill="#3d8f45"/>
<circle cx="339.7" cy="296.2" r="2.4" fill="#3d8f45"/>
<circle cx="344.1" cy="296.7" r="2.4" fill="#3d8f45"/>
<circle cx="363.5" cy="296.2" r="2.4" fill="#3d8f45"/>
<circle cx="368.8" cy="296.2" r="2.4" fill="#3d8f45"/>
<circle cx="375.0" cy="295.6" r="2.4" fill="#3d8f45"/>
<circle cx="378.5" cy="296.2" r="2.4" fill="#3d8f45"/>
<circle cx="384.7" cy="295.3" r="2.4" fill="#3d8f45"/>
<circle cx="389.1" cy="293.9" r="2.4" fill="#3d8f45"/>
<circle cx="402.3" cy="294.9" r="2.4" fill="#3d8f45"/>
<circle cx="405.9" cy="296.2" r="2.4" fill="#3d8f45"/>
<circle cx="410.3" cy="292.1" r="2.4" fill="#3d8f45"/>
<circle cx="412.1" cy="296.2" r="2.4" fill="#3d8f45"/>
<circle cx="420.3" cy="295.6" r="2.4" fill="#3d8f45"/>
<circle cx="426.2" cy="296.2" r="2.4" fill="#3d8f45"/>
<circle cx="429.7" cy="295.6" r="2.4" fill="#3d8f45"/>
<circle cx="436.2" cy="296.2" r="2.4" fill="#3d8f45"/>
<circle cx="450.5" cy="294.8" r="2.4" fill="#3d8f45"/>
<circle cx="455.6" cy="295.6" r="2.4" fill="#3d8f45"/>
<circle cx="465.9" cy="293.9" r="2.4" fill="#3d8f45"/>
<circle cx="469.8" cy="294.9" r="2.4" fill="#3d8f45"/>
<circle cx="480.9" cy="293.9" r="2.4" fill="#3d8f45"/>
<circle cx="485.6" cy="293.9" r="2.4" fill="#3d8f45"/>
<circle cx="493.6" cy="293.2" r="2.4" fill="#3d8f45"/>
<circle cx="505.0" cy="293.2" r="2.4" fill="#3d8f45"/>
<circle cx="514.4" cy="292.1" r="2.4" fill="#3d8f45"/>
<circle cx="519.7" cy="293.0" r="2.4" fill="#3d8f45"/>
<circle cx="522.3" cy="293.0" r="2.4" fill="#3d8f45"/>
<circle cx="528.0" cy="288.8" r="2.4" fill="#3d8f45"/>
<circle cx="539.1" cy="291.8" r="2.4" fill="#3d8f45"/>
<circle cx="543.5" cy="291.8" r="2.4" fill="#3d8f45"/>
<circle cx="547.9" cy="291.2" r="2.4" fill="#3d8f45"/>
<circle cx="552.3" cy="291.8" r="2.4" fill="#3d8f45"/>
<circle cx="555.9" cy="286.8" r="2.4" fill="#3d8f45"/>
<circle cx="558.0" cy="291.8" r="2.4" fill="#3d8f45"/>
<circle cx="567.9" cy="283.8" r="2.4" fill="#3d8f45"/>
<circle cx="578.8" cy="279.9" r="2.4" fill="#3d8f45"/>
<circle cx="580.6" cy="278.5" r="2.4" fill="#3d8f45"/>
<circle cx="584.1" cy="277.6" r="2.4" fill="#3d8f45"/>
<circle cx="587.6" cy="276.8" r="2.4" fill="#3d8f45"/>
<circle cx="590.3" cy="275.9" r="2.4" fill="#3d8f45"/>
<circle cx="597.3" cy="275.5" r="2.4" fill="#3d8f45"/>
<circle cx="408.9" cy="279.9" r="2.4" fill="#3d8f45"/>
<circle cx="83.5" cy="268.6" r="2.5" fill="#3c5fe0"/>
<circle cx="83.2" cy="269.4" r="2.5" fill="#3c5fe0"/>
<circle cx="90.4" cy="268.3" r="2.5" fill="#3c5fe0"/>
<circle cx="90.8" cy="270.1" r="2.5" fill="#3c5fe0"/>
<circle cx="88.9" cy="270.3" r="2.5" fill="#3c5fe0"/>
<circle cx="86.6" cy="271.4" r="2.5" fill="#3c5fe0"/>
<circle cx="87.4" cy="273.2" r="2.5" fill="#3c5fe0"/>
<circle cx="87.0" cy="274.1" r="2.5" fill="#3c5fe0"/>
<circle cx="86.0" cy="274.7" r="2.5" fill="#3c5fe0"/>
<circle cx="86.7" cy="275.6" r="2.5" fill="#3c5fe0"/>
<circle cx="90.8" cy="277.1" r="2.5" fill="#3c5fe0"/>
<circle cx="91.2" cy="279.5" r="2.5" fill="#3c5fe0"/>
<circle cx="84.8" cy="282.3" r="2.5" fill="#3c5fe0"/>
<circle cx="88.3" cy="282.0" r="2.5" fill="#3c5fe0"/>
<circle cx="93.5" cy="278.0" r="2.5" fill="#3c5fe0"/>
<circle cx="94.1" cy="277.5" r="2.5" fill="#3c5fe0"/>
<circle cx="95.0" cy="276.2" r="2.5" fill="#3c5fe0"/>
<circle cx="94.2" cy="279.8" r="2.5" fill="#3c5fe0"/>
<circle cx="97.7" cy="281.5" r="2.5" fill="#3c5fe0"/>
<circle cx="98.8" cy="283.3" r="2.5" fill="#3c5fe0"/>
<circle cx="104.0" cy="268.2" r="2.5" fill="#3c5fe0"/>
<circle cx="103.1" cy="270.0" r="2.5" fill="#3c5fe0"/>
<circle cx="106.6" cy="271.1" r="2.5" fill="#3c5fe0"/>
<circle cx="109.5" cy="270.0" r="2.5" fill="#3c5fe0"/>
<circle cx="109.3" cy="270.6" r="2.5" fill="#3c5fe0"/>
<circle cx="110.8" cy="271.0" r="2.5" fill="#3c5fe0"/>
<circle cx="112.3" cy="270.0" r="2.5" fill="#3c5fe0"/>
<circle cx="112.0" cy="270.6" r="2.5" fill="#3c5fe0"/>
<circle cx="109.6" cy="272.6" r="2.5" fill="#3c5fe0"/>
<circle cx="112.0" cy="272.3" r="2.5" fill="#3c5fe0"/>
<circle cx="107.8" cy="275.0" r="2.5" fill="#3c5fe0"/>
<circle cx="109.3" cy="274.7" r="2.5" fill="#3c5fe0"/>
<circle cx="110.2" cy="275.6" r="2.5" fill="#3c5fe0"/>
<circle cx="111.4" cy="274.7" r="2.5" fill="#3c5fe0"/>
<circle cx="112.8" cy="276.2" r="2.5" fill="#3c5fe0"/>
<circle cx="111.7" cy="273.8" r="2.5" fill="#3c5fe0"/>
<circle cx="114.6" cy="275.6" r="2.5" fill="#3c5fe0"/>
<circle cx="116.1" cy="276.4" r="2.5" fill="#3c5fe0"/>
<circle cx="111.7" cy="278.3" r="2.5" fill="#3c5fe0"/>
<circle cx="118.7" cy="279.2" r="2.5" fill="#3c5fe0"/>
<circle cx="137.2" cy="278.0" r="2.5" fill="#3c5fe0"/>
<circle cx="139.8" cy="278.1" r="2.5" fill="#3c5fe0"/>
<circle cx="141.5" cy="278.7" r="2.5" fill="#3c5fe0"/>
<circle cx="138.1" cy="280.4" r="2.5" fill="#3c5fe0"/>
<circle cx="142.1" cy="280.4" r="2.5" fill="#3c5fe0"/>
<circle cx="93.8" cy="267.3" r="2.5" fill="#3d8f45"/>
<circle cx="86.1" cy="270.3" r="2.5" fill="#3d8f45"/>
<circle cx="89.2" cy="271.9" r="2.5" fill="#3d8f45"/>
<circle cx="95.1" cy="274.7" r="2.5" fill="#3d8f45"/>
<circle cx="95.0" cy="276.3" r="2.5" fill="#3d8f45"/>
<circle cx="93.2" cy="280.5" r="2.5" fill="#3d8f45"/>
<circle cx="94.7" cy="281.5" r="2.5" fill="#3d8f45"/>
<circle cx="102.5" cy="275.0" r="2.5" fill="#3d8f45"/>
<circle cx="104.2" cy="273.7" r="2.5" fill="#3d8f45"/>
<circle cx="104.1" cy="274.5" r="2.5" fill="#3d8f45"/>
<circle cx="104.0" cy="284.5" r="2.5" fill="#3d8f45"/>
<circle cx="107.2" cy="278.6" r="2.5" fill="#3d8f45"/>
<circle cx="111.4" cy="280.6" r="2.5" fill="#3d8f45"/>
<circle cx="114.3" cy="280.6" r="2.5" fill="#3d8f45"/>
<circle cx="114.4" cy="282.1" r="2.5" fill="#3d8f45"/>
<circle cx="115.2" cy="283.0" r="2.5" fill="#3d8f45"/>
<circle cx="116.1" cy="282.1" r="2.5" fill="#3d8f45"/>
<circle cx="117.6" cy="282.4" r="2.5" fill="#3d8f45"/>
<circle cx="118.2" cy="282.7" r="2.5" fill="#3d8f45"/>
<circle cx="117.2" cy="277.7" r="2.5" fill="#3d8f45"/>
<circle cx="118.3" cy="277.3" r="2.5" fill="#3d8f45"/>
<circle cx="120.7" cy="283.0" r="2.5" fill="#3d8f45"/>
<circle cx="121.7" cy="284.2" r="2.5" fill="#3d8f45"/>
<circle cx="135.2" cy="287.4" r="2.5" fill="#3d8f45"/>
<circle cx="142.1" cy="287.6" r="2.5" fill="#3d8f45"/>
<circle cx="143.7" cy="287.8" r="2.5" fill="#3d8f45"/>
<circle cx="144.7" cy="276.8" r="2.5" fill="#3d8f45"/>
<circle cx="145.1" cy="277.7" r="2.5" fill="#3d8f45"/>
<circle cx="87.6" cy="269.0" r="2.5" fill="#ece21e"/>
<circle cx="88.3" cy="271.2" r="2.5" fill="#ece21e"/>
<circle cx="88.5" cy="275.6" r="2.5" fill="#ece21e"/>
<circle cx="89.5" cy="277.2" r="2.5" fill="#ece21e"/>
<circle cx="87.1" cy="281.7" r="2.5" fill="#ece21e"/>
<circle cx="95.3" cy="282.4" r="2.5" fill="#ece21e"/>
<circle cx="101.9" cy="268.2" r="2.5" fill="#ece21e"/>
<circle cx="104.0" cy="269.5" r="2.5" fill="#ece21e"/>
<circle cx="104.6" cy="270.3" r="2.5" fill="#ece21e"/>
<circle cx="104.6" cy="271.1" r="2.5" fill="#ece21e"/>
<circle cx="112.5" cy="267.9" r="2.5" fill="#ece21e"/>
<circle cx="114.2" cy="267.2" r="2.5" fill="#ece21e"/>
<circle cx="119.9" cy="280.4" r="2.5" fill="#ece21e"/>
<circle cx="90.8" cy="272.9" r="2.5" fill="#e6480f"/>
<circle cx="91.2" cy="274.6" r="2.5" fill="#e6480f"/>
<circle cx="90.6" cy="275.5" r="2.5" fill="#e6480f"/>
<circle cx="106.0" cy="273.8" r="2.5" fill="#e6480f"/>
<circle cx="104.0" cy="273.2" r="2.5" fill="#e6480f"/>
<circle cx="116.7" cy="271.6" r="2.5" fill="#e6480f"/>
<circle cx="119.5" cy="273.2" r="2.5" fill="#e6480f"/>
<circle cx="119.5" cy="274.1" r="2.5" fill="#e6480f"/>
<circle cx="121.7" cy="277.4" r="2.5" fill="#e6480f"/>
<circle cx="122.5" cy="279.0" r="2.5" fill="#e6480f"/>
<circle cx="123.8" cy="278.5" r="2.5" fill="#e6480f"/>
<circle cx="125.8" cy="277.3" r="2.5" fill="#e6480f"/>
<circle cx="110.8" cy="279.5" r="2.5" fill="#e6480f"/>
<circle cx="111.1" cy="280.5" r="2.5" fill="#e6480f"/>
<circle cx="111.4" cy="281.2" r="2.5" fill="#e6480f"/>
<circle cx="114.0" cy="280.8" r="2.5" fill="#e6480f"/>
<circle cx="116.1" cy="280.4" r="2.5" fill="#e6480f"/>
<circle cx="117.9" cy="280.5" r="2.5" fill="#e6480f"/>
<circle cx="119.6" cy="283.3" r="2.5" fill="#e6480f"/>
<circle cx="120.8" cy="281.5" r="2.5" fill="#e6480f"/>
<circle cx="123.1" cy="281.5" r="2.5" fill="#e6480f"/>
<circle cx="124.2" cy="282.8" r="2.5" fill="#e6480f"/>
<circle cx="130.3" cy="283.4" r="2.5" fill="#e6480f"/>
<circle cx="131.3" cy="283.4" r="2.5" fill="#e6480f"/>
<circle cx="132.6" cy="283.9" r="2.5" fill="#e6480f"/>
<circle cx="133.2" cy="284.8" r="2.5" fill="#e6480f"/>
<circle cx="133.9" cy="283.8" r="2.5" fill="#e6480f"/>
<circle cx="137.5" cy="286.9" r="2.5" fill="#e6480f"/>
<circle cx="139.2" cy="286.9" r="2.5" fill="#e6480f"/>
<circle cx="140.2" cy="286.9" r="2.5" fill="#e6480f"/>
<circle cx="141.2" cy="286.9" r="2.5" fill="#e6480f"/>
<circle cx="144.4" cy="287.2" r="2.5" fill="#e6480f"/>
<circle cx="145.3" cy="287.0" r="2.5" fill="#e6480f"/>
<circle cx="147.1" cy="287.9" r="2.5" fill="#e6480f"/>
<circle cx="148.3" cy="287.9" r="2.5" fill="#e6480f"/>
<circle cx="142.4" cy="277.1" r="2.5" fill="#e6480f"/>
<circle cx="144.0" cy="278.9" r="2.5" fill="#e6480f"/>
<circle cx="105.6" cy="276.1" r="3.0" fill="#e04a10" stroke="#7a2a10" stroke-width="0.9"/>
<circle cx="106.0" cy="276.9" r="3.0" fill="#e04a10" stroke="#7a2a10" stroke-width="0.9"/>
<circle cx="109.0" cy="277.4" r="3.0" fill="#e04a10" stroke="#7a2a10" stroke-width="0.9"/>
<circle cx="109.3" cy="276.8" r="3.0" fill="#e04a10" stroke="#7a2a10" stroke-width="0.9"/>
<circle cx="113.0" cy="278.9" r="3.0" fill="#e04a10" stroke="#7a2a10" stroke-width="0.9"/>
<circle cx="115.0" cy="278.3" r="3.0" fill="#e04a10" stroke="#7a2a10" stroke-width="0.9"/>
<circle cx="115.5" cy="279.0" r="3.0" fill="#e04a10" stroke="#7a2a10" stroke-width="0.9"/>
<circle cx="114.6" cy="272.9" r="3.0" fill="#e04a10" stroke="#7a2a10" stroke-width="0.9"/>
<circle cx="116.1" cy="273.8" r="3.0" fill="#e04a10" stroke="#7a2a10" stroke-width="0.9"/>
<circle cx="117.3" cy="275.3" r="3.0" fill="#e04a10" stroke="#7a2a10" stroke-width="0.9"/>
<circle cx="119.6" cy="275.3" r="3.0" fill="#e04a10" stroke="#7a2a10" stroke-width="0.9"/>
<circle cx="136.5" cy="284.6" r="3.0" fill="#e04a10" stroke="#7a2a10" stroke-width="0.9"/>
<circle cx="610.7" cy="268.5" r="2.5" fill="#3c5fe0"/>
<circle cx="611.8" cy="268.0" r="2.5" fill="#3c5fe0"/>
<circle cx="616.3" cy="267.7" r="2.5" fill="#3c5fe0"/>
<circle cx="619.4" cy="267.4" r="2.5" fill="#3c5fe0"/>
<circle cx="621.4" cy="268.9" r="2.5" fill="#3c5fe0"/>
<circle cx="625.9" cy="269.2" r="2.5" fill="#3c5fe0"/>
<circle cx="634.7" cy="269.2" r="2.5" fill="#3c5fe0"/>
<circle cx="637.3" cy="264.6" r="2.5" fill="#3c5fe0"/>
<circle cx="638.8" cy="268.2" r="2.5" fill="#3c5fe0"/>
<circle cx="641.6" cy="267.9" r="2.5" fill="#3c5fe0"/>
<circle cx="642.6" cy="267.2" r="2.5" fill="#3c5fe0"/>
<circle cx="601.8" cy="258.8" r="2.5" fill="#ece21e"/>
<circle cx="639.2" cy="260.0" r="2.5" fill="#ece21e"/>
<circle cx="642.2" cy="260.4" r="2.5" fill="#ece21e"/>
<circle cx="621.1" cy="252.1" r="2.5" fill="#e6480f"/>
<circle cx="624.0" cy="252.1" r="2.5" fill="#e6480f"/>
<circle cx="607.3" cy="257.8" r="2.5" fill="#e6480f"/>
<circle cx="627.9" cy="257.4" r="2.5" fill="#e6480f"/>
<circle cx="634.2" cy="258.5" r="2.5" fill="#e6480f"/>
<circle cx="608.2" cy="264.5" r="2.5" fill="#e6480f"/>
<circle cx="612.9" cy="266.9" r="2.5" fill="#e6480f"/>
<circle cx="617.6" cy="266.2" r="2.5" fill="#e6480f"/>
<circle cx="622.6" cy="267.4" r="2.5" fill="#e6480f"/>
<circle cx="630.1" cy="267.4" r="2.5" fill="#e6480f"/>
<circle cx="604.0" cy="257.8" r="3.0" fill="#e04a10" stroke="#7a2a10" stroke-width="0.9"/>
<circle cx="619.4" cy="256.5" r="3.0" fill="#e04a10" stroke="#7a2a10" stroke-width="0.9"/>
<circle cx="625.8" cy="261.4" r="3.0" fill="#e04a10" stroke="#7a2a10" stroke-width="0.9"/>
<circle cx="477.9" cy="269.7" r="2.5" fill="#3c5fe0"/>
<circle cx="488.5" cy="271.1" r="2.5" fill="#3c5fe0"/>
<circle cx="483.2" cy="285.9" r="2.5" fill="#3c5fe0"/>
<circle cx="484.4" cy="269.7" r="2.5" fill="#ece21e"/>
<circle cx="485.8" cy="284.3" r="2.5" fill="#ece21e"/>
<circle cx="481.4" cy="270.9" r="2.5" fill="#e6480f"/>
<circle cx="572.6" cy="281.7" r="2.5" fill="#e6480f"/>
<circle cx="574.4" cy="282.9" r="2.5" fill="#e6480f"/>
<circle cx="580.6" cy="281.2" r="2.5" fill="#e6480f"/>
<circle cx="330.0" cy="267.4" r="2.5" fill="#3c5fe0"/>
<circle cx="331.4" cy="272.7" r="2.5" fill="#3c5fe0"/>
<circle cx="316.7" cy="286.5" r="2.5" fill="#3c5fe0"/>
<circle cx="212.9" cy="275.5" r="2.5" fill="#e6480f"/>
<circle cx="213.8" cy="278.0" r="2.5" fill="#e6480f"/>
<circle cx="219.1" cy="274.1" r="2.5" fill="#e6480f"/>
<rect x="73.2" y="242.7" width="580.3" height="64.4" fill="none" stroke="#a0a0a0" stroke-width="1.3"/>
<line x1="149.4" y1="303.6" x2="149.4" y2="307.1" stroke="#a0a0a0" stroke-width="1.2"/>
<line x1="149.4" y1="242.7" x2="149.4" y2="246.2" stroke="#a0a0a0" stroke-width="1.2"/>
<text x="149.4" y="325.2" font-size="17.5" text-anchor="middle" fill="#000" >0</text>
<line x1="245.7" y1="303.6" x2="245.7" y2="307.1" stroke="#a0a0a0" stroke-width="1.2"/>
<line x1="245.7" y1="242.7" x2="245.7" y2="246.2" stroke="#a0a0a0" stroke-width="1.2"/>
<text x="245.7" y="325.2" font-size="17.5" text-anchor="middle" fill="#000" >0.2</text>
<line x1="341.9" y1="303.6" x2="341.9" y2="307.1" stroke="#a0a0a0" stroke-width="1.2"/>
<line x1="341.9" y1="242.7" x2="341.9" y2="246.2" stroke="#a0a0a0" stroke-width="1.2"/>
<text x="341.9" y="325.2" font-size="17.5" text-anchor="middle" fill="#000" >0.4</text>
<line x1="438.2" y1="303.6" x2="438.2" y2="307.1" stroke="#a0a0a0" stroke-width="1.2"/>
<line x1="438.2" y1="242.7" x2="438.2" y2="246.2" stroke="#a0a0a0" stroke-width="1.2"/>
<text x="438.2" y="325.2" font-size="17.5" text-anchor="middle" fill="#000" >0.6</text>
<line x1="534.4" y1="303.6" x2="534.4" y2="307.1" stroke="#a0a0a0" stroke-width="1.2"/>
<line x1="534.4" y1="242.7" x2="534.4" y2="246.2" stroke="#a0a0a0" stroke-width="1.2"/>
<text x="534.4" y="325.2" font-size="17.5" text-anchor="middle" fill="#000" >0.8</text>
<line x1="630.7" y1="303.6" x2="630.7" y2="307.1" stroke="#a0a0a0" stroke-width="1.2"/>
<line x1="630.7" y1="242.7" x2="630.7" y2="246.2" stroke="#a0a0a0" stroke-width="1.2"/>
<text x="630.7" y="325.2" font-size="17.5" text-anchor="middle" fill="#000" >1</text>
<line x1="73.2" y1="252.1" x2="76.7" y2="252.1" stroke="#a0a0a0" stroke-width="1.2"/>
<line x1="650.0" y1="252.1" x2="653.5" y2="252.1" stroke="#a0a0a0" stroke-width="1.2"/>
<text x="69.5" y="257.5" font-size="15" text-anchor="end" fill="#000" >0.05</text>
<line x1="73.2" y1="276.2" x2="76.7" y2="276.2" stroke="#a0a0a0" stroke-width="1.2"/>
<line x1="650.0" y1="276.2" x2="653.5" y2="276.2" stroke="#a0a0a0" stroke-width="1.2"/>
<text x="69.5" y="281.6" font-size="15" text-anchor="end" fill="#000" >0</text>
<line x1="73.2" y1="300.3" x2="76.7" y2="300.3" stroke="#a0a0a0" stroke-width="1.2"/>
<line x1="650.0" y1="300.3" x2="653.5" y2="300.3" stroke="#a0a0a0" stroke-width="1.2"/>
<text x="69.5" y="305.7" font-size="15" text-anchor="end" fill="#000" >-0.05</text>
<rect x="79.7" y="263.5" width="69.7" height="27.4" fill="none" stroke="#111" stroke-width="1.4" stroke-dasharray="1.5 2"/>
<rect x="597.3" y="250.3" width="49.8" height="19.4" fill="none" stroke="#111" stroke-width="1.4" stroke-dasharray="1.5 2"/>
<text x="108.8" y="260.4" font-size="16.5" text-anchor="middle" fill="#000" textLength="39.7" lengthAdjust="spacingAndGlyphs">head</text>
<text x="621.0" y="286.8" font-size="16.5" text-anchor="middle" fill="#000" textLength="23.6" lengthAdjust="spacingAndGlyphs">tail</text>
<text x="359.5" y="344.9" font-size="19.6" text-anchor="middle" fill="#000" >anterior-posterior axis</text>
<text transform="translate(31.2,200.7) rotate(-90)" x="0" y="0" font-size="22.5" text-anchor="middle" fill="#000">dorsal-ventral axis</text>
<rect x="96.30" y="418.35" width="9.38" height="5.95" fill="#d9d9d9" stroke="#6f6f6f" stroke-width="0.8"/>
<rect x="105.68" y="402.88" width="9.38" height="21.42" fill="#d9d9d9" stroke="#6f6f6f" stroke-width="0.8"/>
<rect x="115.07" y="388.60" width="9.38" height="35.70" fill="#d9d9d9" stroke="#6f6f6f" stroke-width="0.8"/>
<rect x="124.45" y="394.55" width="9.38" height="29.75" fill="#d9d9d9" stroke="#6f6f6f" stroke-width="0.8"/>
<rect x="133.84" y="386.22" width="9.38" height="38.08" fill="#d9d9d9" stroke="#6f6f6f" stroke-width="0.8"/>
<rect x="143.22" y="367.18" width="9.38" height="57.12" fill="#d9d9d9" stroke="#6f6f6f" stroke-width="0.8"/>
<rect x="152.60" y="402.88" width="9.38" height="21.42" fill="#d9d9d9" stroke="#6f6f6f" stroke-width="0.8"/>
<rect x="161.99" y="404.07" width="9.38" height="20.23" fill="#d9d9d9" stroke="#6f6f6f" stroke-width="0.8"/>
<rect x="171.37" y="400.50" width="9.38" height="23.80" fill="#d9d9d9" stroke="#6f6f6f" stroke-width="0.8"/>
<rect x="180.76" y="410.02" width="9.38" height="14.28" fill="#d9d9d9" stroke="#6f6f6f" stroke-width="0.8"/>
<rect x="190.14" y="404.07" width="9.38" height="20.23" fill="#d9d9d9" stroke="#6f6f6f" stroke-width="0.8"/>
<rect x="199.52" y="419.54" width="9.38" height="4.76" fill="#d9d9d9" stroke="#6f6f6f" stroke-width="0.8"/>
<rect x="208.91" y="417.16" width="9.38" height="7.14" fill="#d9d9d9" stroke="#6f6f6f" stroke-width="0.8"/>
<rect x="218.29" y="419.54" width="9.38" height="4.76" fill="#d9d9d9" stroke="#6f6f6f" stroke-width="0.8"/>
<rect x="227.68" y="420.73" width="9.38" height="3.57" fill="#d9d9d9" stroke="#6f6f6f" stroke-width="0.8"/>
<rect x="237.06" y="419.54" width="9.38" height="4.76" fill="#d9d9d9" stroke="#6f6f6f" stroke-width="0.8"/>
<rect x="255.83" y="421.92" width="9.38" height="2.38" fill="#d9d9d9" stroke="#6f6f6f" stroke-width="0.8"/>
<rect x="265.21" y="420.73" width="9.38" height="3.57" fill="#d9d9d9" stroke="#6f6f6f" stroke-width="0.8"/>
<rect x="283.98" y="423.11" width="9.38" height="1.19" fill="#d9d9d9" stroke="#6f6f6f" stroke-width="0.8"/>
<rect x="293.36" y="423.11" width="9.38" height="1.19" fill="#d9d9d9" stroke="#6f6f6f" stroke-width="0.8"/>
<rect x="302.75" y="419.54" width="9.38" height="4.76" fill="#d9d9d9" stroke="#6f6f6f" stroke-width="0.8"/>
<rect x="321.52" y="423.11" width="9.38" height="1.19" fill="#d9d9d9" stroke="#6f6f6f" stroke-width="0.8"/>
<rect x="443.51" y="421.92" width="9.38" height="2.38" fill="#d9d9d9" stroke="#6f6f6f" stroke-width="0.8"/>
<rect x="546.73" y="423.11" width="9.38" height="1.19" fill="#d9d9d9" stroke="#6f6f6f" stroke-width="0.8"/>
<rect x="556.12" y="423.11" width="9.38" height="1.19" fill="#d9d9d9" stroke="#6f6f6f" stroke-width="0.8"/>
<line x1="95.3" y1="366.5" x2="95.3" y2="424.3" stroke="#8c8c8c" stroke-width="1.2"/>
<line x1="95.3" y1="424.3" x2="568.7" y2="424.3" stroke="#8c8c8c" stroke-width="1.2"/>
<line x1="158.4" y1="420.3" x2="158.4" y2="424.3" stroke="#8c8c8c" stroke-width="1.2"/>
<text x="158.4" y="447.6" font-size="17.5" text-anchor="middle" fill="#000" >20</text>
<line x1="227.4" y1="420.3" x2="227.4" y2="424.3" stroke="#8c8c8c" stroke-width="1.2"/>
<text x="227.4" y="447.6" font-size="17.5" text-anchor="middle" fill="#000" >40</text>
<line x1="296.4" y1="420.3" x2="296.4" y2="424.3" stroke="#8c8c8c" stroke-width="1.2"/>
<text x="296.4" y="447.6" font-size="17.5" text-anchor="middle" fill="#000" >60</text>
<line x1="365.4" y1="420.3" x2="365.4" y2="424.3" stroke="#8c8c8c" stroke-width="1.2"/>
<text x="365.4" y="447.6" font-size="17.5" text-anchor="middle" fill="#000" >80</text>
<line x1="434.4" y1="420.3" x2="434.4" y2="424.3" stroke="#8c8c8c" stroke-width="1.2"/>
<text x="434.4" y="447.6" font-size="17.5" text-anchor="middle" fill="#000" >100</text>
<line x1="503.4" y1="420.3" x2="503.4" y2="424.3" stroke="#8c8c8c" stroke-width="1.2"/>
<text x="503.4" y="447.6" font-size="17.5" text-anchor="middle" fill="#000" >120</text>
<line x1="95.3" y1="424.3" x2="99.3" y2="424.3" stroke="#8c8c8c" stroke-width="1.2"/>
<text x="88.5" y="430.3" font-size="17.5" text-anchor="end" fill="#000" >0</text>
<line x1="95.3" y1="400.5" x2="99.3" y2="400.5" stroke="#8c8c8c" stroke-width="1.2"/>
<text x="88.5" y="406.5" font-size="17.5" text-anchor="end" fill="#000" >20</text>
<line x1="95.3" y1="376.7" x2="99.3" y2="376.7" stroke="#8c8c8c" stroke-width="1.2"/>
<text x="88.5" y="382.7" font-size="17.5" text-anchor="end" fill="#000" >40</text>
<text transform="translate(62.0,395.2) rotate(-90)" x="0" y="0" font-size="19.3" text-anchor="middle" fill="#000">Frequency</text>
<clipPath id="cA"><rect x="94.9" y="446.5" width="474.4" height="156.5"/></clipPath>
<line x1="94.9" y1="589.0" x2="569.3" y2="589.0" stroke="#8a8a8a" stroke-width="1" stroke-dasharray="1.5 2.9"/>
<polyline points="92.85,589.59 96.30,589.88 99.75,590.17 103.20,590.17 106.65,590.47 110.10,590.47 113.55,590.76 117.00,591.94 120.45,592.23 123.90,592.23 127.35,591.94 130.80,591.35 134.25,592.52 137.70,591.94 141.15,591.05 144.60,590.47 148.05,589.88 151.50,591.64 154.95,587.53 158.40,584.60 161.85,582.54 165.30,580.19 168.75,577.26 172.20,572.86 175.65,566.99 179.10,562.00 182.55,556.71 186.00,552.31 189.45,537.34 192.90,532.65 196.35,531.18 199.80,535.29 203.25,539.99 206.70,538.52 210.15,547.32 213.60,558.48 217.05,577.55 220.50,566.40 223.95,566.40 227.40,566.40 230.85,566.40 234.30,571.10 237.75,553.78 241.20,550.55 244.65,550.55 248.10,550.55 251.55,550.55 255.00,550.55 258.45,532.35 261.90,532.35 265.35,532.35 268.80,510.34 272.25,510.34 275.70,510.34 279.15,510.34 282.60,487.74 286.05,487.74 289.50,487.74 292.95,510.34 296.40,510.34 299.85,510.34 303.30,503.00 306.75,469.84 310.20,521.79 313.65,521.79 317.10,521.79 320.55,521.79 324.00,521.79 326.07,618.35" fill="none" stroke="#5aa5ef" stroke-width="2.2" stroke-linejoin="round" clip-path="url(#cA)"/>
<circle cx="175.65" cy="566.99" r="4.3" fill="#b4d5f6" stroke="#88bdf2" stroke-width="1.2"/>
<circle cx="179.10" cy="562.00" r="4.3" fill="#b4d5f6" stroke="#88bdf2" stroke-width="1.2"/>
<circle cx="182.55" cy="556.71" r="4.3" fill="#b4d5f6" stroke="#88bdf2" stroke-width="1.2"/>
<circle cx="186.00" cy="552.31" r="4.3" fill="#b4d5f6" stroke="#88bdf2" stroke-width="1.2"/>
<circle cx="189.45" cy="537.34" r="4.3" fill="#b4d5f6" stroke="#88bdf2" stroke-width="1.2"/>
<circle cx="192.90" cy="532.65" r="4.3" fill="#b4d5f6" stroke="#88bdf2" stroke-width="1.2"/>
<circle cx="196.35" cy="531.18" r="4.3" fill="#b4d5f6" stroke="#88bdf2" stroke-width="1.2"/>
<circle cx="199.80" cy="535.29" r="4.3" fill="#b4d5f6" stroke="#88bdf2" stroke-width="1.2"/>
<circle cx="203.25" cy="539.99" r="4.3" fill="#b4d5f6" stroke="#88bdf2" stroke-width="1.2"/>
<circle cx="206.70" cy="538.52" r="4.3" fill="#b4d5f6" stroke="#88bdf2" stroke-width="1.2"/>
<circle cx="210.15" cy="547.32" r="4.3" fill="#b4d5f6" stroke="#88bdf2" stroke-width="1.2"/>
<circle cx="213.60" cy="558.48" r="4.3" fill="#b4d5f6" stroke="#88bdf2" stroke-width="1.2"/>
<circle cx="220.50" cy="566.40" r="4.3" fill="#b4d5f6" stroke="#88bdf2" stroke-width="1.2"/>
<circle cx="223.95" cy="566.40" r="4.3" fill="#b4d5f6" stroke="#88bdf2" stroke-width="1.2"/>
<circle cx="227.40" cy="566.40" r="4.3" fill="#b4d5f6" stroke="#88bdf2" stroke-width="1.2"/>
<circle cx="230.85" cy="566.40" r="4.3" fill="#b4d5f6" stroke="#88bdf2" stroke-width="1.2"/>
<circle cx="237.75" cy="553.78" r="4.3" fill="#b4d5f6" stroke="#88bdf2" stroke-width="1.2"/>
<circle cx="241.20" cy="550.55" r="4.3" fill="#b4d5f6" stroke="#88bdf2" stroke-width="1.2"/>
<circle cx="244.65" cy="550.55" r="4.3" fill="#b4d5f6" stroke="#88bdf2" stroke-width="1.2"/>
<circle cx="248.10" cy="550.55" r="4.3" fill="#b4d5f6" stroke="#88bdf2" stroke-width="1.2"/>
<circle cx="251.55" cy="550.55" r="4.3" fill="#b4d5f6" stroke="#88bdf2" stroke-width="1.2"/>
<circle cx="255.00" cy="550.55" r="4.3" fill="#b4d5f6" stroke="#88bdf2" stroke-width="1.2"/>
<circle cx="258.45" cy="532.35" r="4.3" fill="#b4d5f6" stroke="#88bdf2" stroke-width="1.2"/>
<circle cx="261.90" cy="532.35" r="4.3" fill="#b4d5f6" stroke="#88bdf2" stroke-width="1.2"/>
<circle cx="265.35" cy="532.35" r="4.3" fill="#b4d5f6" stroke="#88bdf2" stroke-width="1.2"/>
<circle cx="268.80" cy="510.34" r="4.3" fill="#b4d5f6" stroke="#88bdf2" stroke-width="1.2"/>
<circle cx="272.25" cy="510.34" r="4.3" fill="#b4d5f6" stroke="#88bdf2" stroke-width="1.2"/>
<circle cx="275.70" cy="510.34" r="4.3" fill="#b4d5f6" stroke="#88bdf2" stroke-width="1.2"/>
<circle cx="279.15" cy="510.34" r="4.3" fill="#b4d5f6" stroke="#88bdf2" stroke-width="1.2"/>
<circle cx="282.60" cy="487.74" r="4.3" fill="#b4d5f6" stroke="#88bdf2" stroke-width="1.2"/>
<circle cx="286.05" cy="487.74" r="4.3" fill="#b4d5f6" stroke="#88bdf2" stroke-width="1.2"/>
<circle cx="289.50" cy="487.74" r="4.3" fill="#b4d5f6" stroke="#88bdf2" stroke-width="1.2"/>
<circle cx="292.95" cy="510.34" r="4.3" fill="#b4d5f6" stroke="#88bdf2" stroke-width="1.2"/>
<circle cx="296.40" cy="510.34" r="4.3" fill="#b4d5f6" stroke="#88bdf2" stroke-width="1.2"/>
<circle cx="299.85" cy="510.34" r="4.3" fill="#b4d5f6" stroke="#88bdf2" stroke-width="1.2"/>
<circle cx="303.30" cy="503.00" r="4.3" fill="#b4d5f6" stroke="#88bdf2" stroke-width="1.2"/>
<circle cx="306.75" cy="469.84" r="4.3" fill="#b4d5f6" stroke="#88bdf2" stroke-width="1.2"/>
<polyline points="92.85,589.00 96.30,589.00 99.75,589.00 103.20,589.00 106.65,589.00 110.10,589.00 113.55,589.00 117.00,588.12 120.45,587.53 123.90,588.41 127.35,587.83 130.80,587.24 134.25,585.77 137.70,586.06 141.15,585.48 144.60,584.89 148.05,581.08 151.50,581.96 154.95,581.66 158.40,580.78 161.85,579.02 165.30,581.08 168.75,578.14 172.20,576.67 175.65,575.50 179.10,574.32 182.55,561.70 186.00,560.53 189.45,572.86 192.90,571.10 196.35,564.93 199.80,566.69 203.25,561.12 206.70,564.35 210.15,570.80 213.60,576.09 217.05,580.19 220.50,580.19 223.95,580.19 227.40,580.19 230.85,572.56 234.30,575.79 237.75,580.78 241.20,543.51 244.65,543.51 248.10,543.51 251.55,543.51 255.00,543.51 258.45,522.38 261.90,522.38 265.35,522.38 268.80,515.92 272.25,484.22 275.70,484.22 279.15,484.22 282.60,472.77 286.05,472.77 289.50,472.77 292.95,485.39 296.40,485.39 299.85,485.39 303.30,489.80 306.75,472.77 310.20,506.23 313.65,506.23 317.10,506.23 320.55,506.23 324.00,506.23 327.45,527.37 330.90,527.37 334.35,527.37 337.80,527.37 341.25,527.37 344.70,527.37 348.15,527.37 351.60,527.37 355.05,527.37 358.50,527.37 361.95,527.37 365.40,527.37 368.85,527.37 372.30,527.37 375.75,527.37 379.20,527.37 382.65,527.37 386.10,527.37 389.55,527.37 393.00,527.37 396.45,527.37 399.90,527.37 403.35,527.37 406.80,527.37 410.25,527.37 413.70,527.37 417.15,527.37 420.60,527.37 424.05,527.37 427.50,527.37 430.95,527.37 434.40,527.37 437.85,527.37 441.30,541.16 444.75,541.16 448.20,500.07 451.65,500.07 455.10,500.07 458.55,500.07 462.00,500.07 465.45,500.07 468.90,500.07 472.35,500.07 475.80,500.07 479.25,500.07 482.70,500.07 486.15,500.07 489.60,500.07 493.05,500.07 496.50,500.07 499.95,500.07 503.40,500.07 506.85,500.07 510.30,500.07 513.75,500.07 517.20,500.07 520.65,500.07 524.10,500.07 527.55,500.07 531.00,500.07 534.45,500.07 537.90,500.07 541.35,500.07 544.80,500.07 548.25,500.07" fill="none" stroke="#f20a0a" stroke-width="2.6" stroke-linejoin="round" clip-path="url(#cA)"/>
<circle cx="117.00" cy="588.12" r="4.1" fill="#f36666" stroke="#f00505" stroke-width="1.3"/>
<circle cx="120.45" cy="587.53" r="4.1" fill="#f36666" stroke="#f00505" stroke-width="1.3"/>
<circle cx="130.80" cy="587.24" r="4.1" fill="#f36666" stroke="#f00505" stroke-width="1.3"/>
<circle cx="134.25" cy="585.77" r="4.1" fill="#f36666" stroke="#f00505" stroke-width="1.3"/>
<circle cx="141.15" cy="585.48" r="4.1" fill="#f36666" stroke="#f00505" stroke-width="1.3"/>
<circle cx="144.60" cy="584.89" r="4.1" fill="#f36666" stroke="#f00505" stroke-width="1.3"/>
<circle cx="148.05" cy="581.08" r="4.1" fill="#f36666" stroke="#f00505" stroke-width="1.3"/>
<circle cx="151.50" cy="581.96" r="4.1" fill="#f36666" stroke="#f00505" stroke-width="1.3"/>
<circle cx="154.95" cy="581.66" r="4.1" fill="#f36666" stroke="#f00505" stroke-width="1.3"/>
<circle cx="158.40" cy="580.78" r="4.1" fill="#f36666" stroke="#f00505" stroke-width="1.3"/>
<circle cx="161.85" cy="579.02" r="4.1" fill="#f36666" stroke="#f00505" stroke-width="1.3"/>
<circle cx="165.30" cy="581.08" r="4.1" fill="#f36666" stroke="#f00505" stroke-width="1.3"/>
<circle cx="168.75" cy="578.14" r="4.1" fill="#f36666" stroke="#f00505" stroke-width="1.3"/>
<circle cx="172.20" cy="576.67" r="4.1" fill="#f36666" stroke="#f00505" stroke-width="1.3"/>
<circle cx="175.65" cy="575.50" r="4.1" fill="#f36666" stroke="#f00505" stroke-width="1.3"/>
<circle cx="179.10" cy="574.32" r="4.1" fill="#f36666" stroke="#f00505" stroke-width="1.3"/>
<circle cx="182.55" cy="561.70" r="4.1" fill="#f36666" stroke="#f00505" stroke-width="1.3"/>
<circle cx="186.00" cy="560.53" r="4.1" fill="#f36666" stroke="#f00505" stroke-width="1.3"/>
<circle cx="189.45" cy="572.86" r="4.1" fill="#f36666" stroke="#f00505" stroke-width="1.3"/>
<circle cx="192.90" cy="571.10" r="4.1" fill="#f36666" stroke="#f00505" stroke-width="1.3"/>
<circle cx="196.35" cy="564.93" r="4.1" fill="#f36666" stroke="#f00505" stroke-width="1.3"/>
<circle cx="199.80" cy="566.69" r="4.1" fill="#f36666" stroke="#f00505" stroke-width="1.3"/>
<circle cx="203.25" cy="561.12" r="4.1" fill="#f36666" stroke="#f00505" stroke-width="1.3"/>
<circle cx="206.70" cy="564.35" r="4.1" fill="#f36666" stroke="#f00505" stroke-width="1.3"/>
<circle cx="241.20" cy="543.51" r="4.1" fill="#f36666" stroke="#f00505" stroke-width="1.3"/>
<circle cx="244.65" cy="543.51" r="4.1" fill="#f36666" stroke="#f00505" stroke-width="1.3"/>
<circle cx="248.10" cy="543.51" r="4.1" fill="#f36666" stroke="#f00505" stroke-width="1.3"/>
<circle cx="251.55" cy="543.51" r="4.1" fill="#f36666" stroke="#f00505" stroke-width="1.3"/>
<circle cx="255.00" cy="543.51" r="4.1" fill="#f36666" stroke="#f00505" stroke-width="1.3"/>
<circle cx="258.45" cy="522.38" r="4.1" fill="#f36666" stroke="#f00505" stroke-width="1.3"/>
<circle cx="261.90" cy="522.38" r="4.1" fill="#f36666" stroke="#f00505" stroke-width="1.3"/>
<circle cx="265.35" cy="522.38" r="4.1" fill="#f36666" stroke="#f00505" stroke-width="1.3"/>
<circle cx="268.80" cy="515.92" r="4.1" fill="#f36666" stroke="#f00505" stroke-width="1.3"/>
<circle cx="272.25" cy="484.22" r="4.1" fill="#f36666" stroke="#f00505" stroke-width="1.3"/>
<circle cx="275.70" cy="484.22" r="4.1" fill="#f36666" stroke="#f00505" stroke-width="1.3"/>
<circle cx="279.15" cy="484.22" r="4.1" fill="#f36666" stroke="#f00505" stroke-width="1.3"/>
<circle cx="282.60" cy="472.77" r="4.1" fill="#f36666" stroke="#f00505" stroke-width="1.3"/>
<circle cx="286.05" cy="472.77" r="4.1" fill="#f36666" stroke="#f00505" stroke-width="1.3"/>
<circle cx="289.50" cy="472.77" r="4.1" fill="#f36666" stroke="#f00505" stroke-width="1.3"/>
<circle cx="292.95" cy="485.39" r="4.1" fill="#f36666" stroke="#f00505" stroke-width="1.3"/>
<circle cx="296.40" cy="485.39" r="4.1" fill="#f36666" stroke="#f00505" stroke-width="1.3"/>
<circle cx="299.85" cy="485.39" r="4.1" fill="#f36666" stroke="#f00505" stroke-width="1.3"/>
<circle cx="303.30" cy="489.80" r="4.1" fill="#f36666" stroke="#f00505" stroke-width="1.3"/>
<circle cx="306.75" cy="472.77" r="4.1" fill="#f36666" stroke="#f00505" stroke-width="1.3"/>
<line x1="94.9" y1="456.5" x2="94.9" y2="603.0" stroke="#8c8c8c" stroke-width="1.2"/>
<line x1="569.3" y1="456.5" x2="569.3" y2="603.0" stroke="#8c8c8c" stroke-width="1.2"/>
<line x1="94.9" y1="603.0" x2="569.3" y2="603.0" stroke="#8c8c8c" stroke-width="1.2"/>
<line x1="158.4" y1="598.5" x2="158.4" y2="603.0" stroke="#8c8c8c" stroke-width="1.2"/>
<text x="158.4" y="626.7" font-size="17.5" text-anchor="middle" fill="#000" >20</text>
<line x1="227.4" y1="598.5" x2="227.4" y2="603.0" stroke="#8c8c8c" stroke-width="1.2"/>
<text x="227.4" y="626.7" font-size="17.5" text-anchor="middle" fill="#000" >40</text>
<line x1="296.4" y1="598.5" x2="296.4" y2="603.0" stroke="#8c8c8c" stroke-width="1.2"/>
<text x="296.4" y="626.7" font-size="17.5" text-anchor="middle" fill="#000" >60</text>
<line x1="365.4" y1="598.5" x2="365.4" y2="603.0" stroke="#8c8c8c" stroke-width="1.2"/>
<text x="365.4" y="626.7" font-size="17.5" text-anchor="middle" fill="#000" >80</text>
<line x1="434.4" y1="598.5" x2="434.4" y2="603.0" stroke="#8c8c8c" stroke-width="1.2"/>
<text x="434.4" y="626.7" font-size="17.5" text-anchor="middle" fill="#000" >100</text>
<line x1="503.4" y1="598.5" x2="503.4" y2="603.0" stroke="#8c8c8c" stroke-width="1.2"/>
<text x="503.4" y="626.7" font-size="17.5" text-anchor="middle" fill="#000" >120</text>
<line x1="94.9" y1="589.0" x2="99.4" y2="589.0" stroke="#8c8c8c" stroke-width="1.2"/>
<text x="87.9" y="595.0" font-size="17.5" text-anchor="end" fill="#000" >1</text>
<line x1="94.9" y1="530.3" x2="99.4" y2="530.3" stroke="#8c8c8c" stroke-width="1.2"/>
<text x="87.9" y="536.3" font-size="17.5" text-anchor="end" fill="#000" >1.2</text>
<line x1="94.9" y1="471.6" x2="99.4" y2="471.6" stroke="#8c8c8c" stroke-width="1.2"/>
<text x="87.9" y="477.6" font-size="17.5" text-anchor="end" fill="#000" >1.4</text>
<line x1="564.8" y1="473.3" x2="569.3" y2="473.3" stroke="#8c8c8c" stroke-width="1.2"/>
<text x="572.3" y="479.3" font-size="17.5" text-anchor="start" fill="#000" >0.54</text>
<line x1="564.8" y1="530.5" x2="569.3" y2="530.5" stroke="#8c8c8c" stroke-width="1.2"/>
<text x="572.3" y="536.5" font-size="17.5" text-anchor="start" fill="#000" >0.39</text>
<line x1="564.8" y1="588.3" x2="569.3" y2="588.3" stroke="#8c8c8c" stroke-width="1.2"/>
<text x="572.3" y="594.3" font-size="17.5" text-anchor="start" fill="#000" >0.24</text>
<line x1="110.3" y1="481.4" x2="142.8" y2="481.4" stroke="#f20a0a" stroke-width="2.6"/>
<line x1="110.3" y1="501.4" x2="142.8" y2="501.4" stroke="#5aa5ef" stroke-width="2.2"/>
<text x="146.3" y="483.5" font-size="14.2" fill="#000" font-family="Liberation Serif, serif">&#934;<tspan font-family="Liberation Sans, Arial, sans-serif" font-size="11.6" dy="6.5">norm</tspan></text>
<text x="146.3" y="506.5" font-size="12.6" text-anchor="start" fill="#000" >d</text>
<text transform="translate(49.4,530.6) rotate(-90)" x="0" y="0" font-size="19.5" text-anchor="middle" fill="#000"><tspan font-family="Liberation Serif, serif">&#934;</tspan><tspan font-size="16" dy="8.8">norm</tspan></text>
<text x="331.6" y="651.4" font-size="19.6" text-anchor="middle" fill="#000" >Degree, k</text>
<text transform="translate(614.5,526.8) rotate(90)" x="0" y="0" font-size="14.6" text-anchor="middle" fill="#000">Connection distance, d(mm)</text>
<path d="M1034.8 130.8Q998.4 175.0 998.3 187.7T979.3 214.1T938.2 234.7T899.0 247.6T843.8 268.0M897.8 338.9Q909.6 296.9 925.8 289.2T945.4 259.9T932.2 224.1T907.0 193.2T853.5 176.2M1087.6 205.5Q1050.7 212.5 1030.5 213.5T991.9 228.4T967.2 263.8T964.1 297.1T937.6 355.0M958.3 110.2Q959.2 142.0 955.8 158.1T955.5 193.7T941.8 201.8T915.5 176.8T901.4 127.0M874.1 319.9Q903.1 294.9 859.8 302.3M839.9 219.0Q880.3 216.4 902.5 214.4T944.2 225.1T982.6 251.6T1019.3 273.3T1076.5 291.7M839.9 219.0Q876.5 207.7 894.4 202.5T908.3 181.4T898.2 128.8M1073.7 171.2Q1010.8 182.4 1013.5 195.1T999.9 221.5T998.8 250.0T1028.6 273.1T1063.8 311.0M922.7 117.2Q939.4 145.1 945.5 157.5T953.9 155.9T958.3 110.2M999.3 114.7Q1001.5 169.8 1037.7 132.7M1073.7 171.2Q1009.6 183.8 1011.1 197.0T995.6 224.6T973.4 260.8T974.6 294.9T1006.6 351.1M1002.7 115.7Q1001.0 173.7 1004.7 186.9T993.4 214.3T994.8 243.8T1026.1 269.4T1076.5 291.7M1090.1 218.9Q1058.4 238.0 1038.7 225.1T1002.7 224.9T1001.5 251.2T1031.1 272.5T1078.3 288.3M981.5 356.9Q967.3 310.2 959.2 298.8T953.1 266.3T933.7 248.3T896.1 253.9T839.0 236.0M850.1 284.9Q883.8 261.3 901.2 257.7T941.2 249.7T982.3 258.2T1018.8 277.8T1066.2 307.9M859.8 302.3Q907.5 292.9 928.8 289.0T957.4 265.9T983.0 259.5T1018.1 280.3T1066.2 307.9M1034.8 130.8Q1006.8 176.8 1012.3 189.0T1035.3 227.8T1088.4 258.9M1040.6 134.8Q1004.0 178.9 1005.2 192.6T989.1 221.3T966.7 258.8T967.0 294.3T966.8 358.0M1063.6 156.8Q1011.9 180.6 1016.3 191.7T1039.2 217.9T1090.0 249.6M885.4 330.1Q908.1 299.1 924.1 292.9T943.6 266.6T927.3 250.7T892.6 257.5T847.3 278.3M999.3 114.7Q1000.4 176.8 1001.7 190.2T987.0 218.9T966.7 256.9T967.6 293.0T996.0 354.2M1009.5 118.0Q1003.2 170.6 1046.2 139.2M891.5 334.7Q906.5 295.9 923.5 289.5T943.8 262.1T930.5 227.5T894.6 214.2T841.1 211.7M839.1 228.8Q877.0 247.0 892.1 241.9T927.4 230.4T932.5 210.9T909.4 182.8T898.2 128.8M1025.6 125.3Q1000.0 170.5 1000.4 180.8T982.9 202.8T947.2 202.7T920.6 175.9T904.6 125.2" fill="none" stroke="#a2a2a2" stroke-width="0.55" stroke-opacity="0.5"/>
<path d="M1078.3 179.8Q1053.9 205.0 1038.0 204.2T1040.3 217.1T1091.0 234.2M891.5 334.7Q916.6 298.8 936.0 291.6T962.6 263.8T988.8 229.9T1030.4 228.1T1091.0 234.2M866.6 311.4Q911.2 297.4 930.7 292.1T957.2 267.8T982.3 261.6T1009.9 289.5T1054.9 320.9M1003.1 352.2Q977.2 311.9 972.1 301.6T972.1 271.6T993.2 263.9T1024.9 281.8T1061.3 313.9M913.1 347.0Q963.8 313.0 955.8 357.7M978.3 110.7Q996.3 174.8 999.3 188.7T986.8 217.7T968.0 255.5T971.7 291.3T1023.5 343.8M1078.3 288.3Q1044.9 282.2 1030.7 278.7T1021.3 289.4T1048.5 326.8M963.0 110.0Q960.5 141.8 957.1 157.8T957.0 193.2T943.5 201.1T917.1 176.3T914.6 120.4M907.8 344.5Q915.6 296.1 936.2 289.5T963.6 261.3T989.0 225.7T1028.4 210.9T1081.6 186.9M974.8 110.4Q994.7 166.9 1006.1 116.8M869.0 314.3Q912.5 298.3 931.6 292.7T957.8 267.8T982.9 261.3T1018.6 280.5T1058.8 316.8M944.8 356.4Q967.7 312.0 964.3 301.4T966.9 270.6T990.3 262.2T1024.4 279.1T1074.7 295.1M1031.8 128.9Q1004.5 175.6 1008.0 188.9T996.0 216.4T996.4 245.8T1028.3 268.8T1070.6 301.6M974.8 110.4Q996.7 173.8 1000.4 187.2T989.3 215.4T991.1 245.7T1022.8 272.2T1061.3 313.9M1051.5 143.8Q1008.6 178.5 1011.2 191.2T998.1 218.0T997.8 247.0T1028.4 270.8T1070.6 301.6M898.2 128.8Q902.2 165.4 875.3 147.0M840.1 250.4Q875.7 254.2 889.8 249.6T923.1 239.7T926.4 222.4T891.9 212.8T839.5 222.8M904.4 342.7Q910.8 295.0 928.2 287.0T949.7 256.6T937.8 219.2T913.4 187.0T901.4 127.0M901.1 340.9Q907.0 294.0 924.8 287.6T946.2 259.4T933.1 223.3T908.9 191.1T859.1 166.8M1068.4 304.8Q1043.4 284.6 1029.4 280.7T1020.2 290.9T1045.2 329.6M967.6 110.0Q991.6 174.4 994.5 188.8T981.2 218.6T960.8 256.9T963.9 293.1T963.2 358.0M1090.8 226.5Q1058.8 237.4 1040.9 223.6T1039.7 232.0T1088.4 258.9M885.4 330.1Q906.6 295.6 923.2 288.8T943.4 260.8T930.3 226.0T894.1 214.7T843.6 200.7M919.0 118.5Q942.0 144.4 945.3 111.5M869.0 314.3Q909.7 297.1 929.6 292.6T956.3 269.2T980.8 263.2T1009.0 290.6T1038.3 334.8" fill="none" stroke="#a2a2a2" stroke-width="0.55" stroke-opacity="0.5"/>
<path d="M901.1 340.9Q906.5 296.0 924.0 290.4T944.7 264.0T927.7 246.3T892.6 252.7T839.1 228.8M847.3 278.3Q875.9 253.5 890.4 250.2T924.2 241.0T927.4 222.1T892.7 211.3T843.6 200.7M871.5 317.1Q912.9 296.0 932.9 289.7T960.4 263.1T987.2 230.2T1029.4 229.1T1090.0 249.6M1037.7 132.7Q1005.2 179.6 1005.6 192.8T988.8 221.0T966.5 258.6T966.4 294.2T966.8 358.0M1009.5 118.0Q994.7 171.5 994.8 183.5T976.4 208.5T939.3 211.3T899.6 205.7T841.1 211.7M959.5 357.9Q965.0 311.5 956.9 300.6T951.3 269.3T932.8 252.4T895.6 257.6T846.0 274.9M879.6 325.2Q913.4 297.4 933.5 291.5T960.9 265.6T987.3 233.2T1028.0 240.1T1085.1 271.6M848.6 186.6Q876.0 204.5 892.5 201.6T902.5 185.7T853.5 176.2M882.5 327.7Q905.2 295.0 922.3 288.8T942.8 261.6T929.7 227.4T893.6 216.6T840.4 215.3M1019.3 122.1Q997.8 175.9 998.8 189.8T982.0 218.6T958.2 256.0T932.9 286.4T901.1 340.9M1067.9 162.4Q1010.1 180.1 1013.2 192.8T1000.4 218.9T999.9 247.0T1029.2 271.2T1078.3 288.3M913.1 347.0Q957.5 310.7 950.1 302.4T925.9 297.1T871.5 317.1M971.2 110.2Q990.8 174.0 993.3 188.5T979.1 218.3T957.7 256.4T958.4 292.6T930.4 353.2M981.9 111.1Q990.9 173.1 991.9 186.7T975.1 214.8T951.3 251.5T925.8 281.0T862.0 305.4M865.5 157.9Q902.0 166.1 907.9 123.5M874.1 319.9Q911.3 293.8 932.3 287.8T960.7 261.1T987.4 227.2T1029.5 224.9T1090.1 218.9M848.6 186.6Q876.0 208.4 894.0 201.8T907.0 180.6T886.2 137.2M923.4 351.1Q959.7 310.9 952.3 300.3T948.0 269.6T930.7 253.3T894.9 259.6T851.7 288.2M871.5 317.1Q911.3 297.7 931.1 292.7T957.8 268.4T982.7 262.0T1011.2 288.9T1054.9 320.9M1091.0 234.2Q1056.9 239.2 1036.2 228.3T998.4 230.8T976.1 264.9T975.2 297.2T1020.2 345.5M971.2 110.2Q991.4 174.5 992.9 188.5T977.4 217.6T955.3 255.5T931.0 285.8T907.8 344.5M842.9 264.5Q877.3 252.0 892.3 246.6T927.4 234.5T932.2 214.0T909.3 184.3T892.1 132.9M967.6 110.0Q997.2 168.6 1012.8 119.3M891.5 334.7Q908.1 296.9 924.3 289.7T944.0 261.3T930.7 226.4T894.8 213.2T843.6 200.7M992.4 113.0Q993.8 174.5 995.2 188.6T979.1 217.7T956.2 255.3T931.2 285.6T901.1 340.9" fill="none" stroke="#a2a2a2" stroke-width="0.55" stroke-opacity="0.5"/>
<path d="M1043.4 137.0Q1005.9 180.9 1004.7 193.4T985.4 220.7T961.3 257.8T958.5 293.0T913.1 347.0M981.9 111.1Q989.1 170.2 990.3 182.9T973.4 209.1T933.7 229.1T895.8 240.5T839.1 228.8M1037.7 132.7Q1000.0 176.1 999.3 188.5T979.7 214.5T938.5 235.2T899.4 248.6T844.9 271.5M840.1 250.4Q882.0 255.0 899.7 252.5T940.1 246.1T981.5 255.6T1017.3 277.9T1066.2 307.9M970.5 357.9Q972.4 312.7 967.8 302.4T968.6 272.2T990.8 264.3T1023.4 282.2T1061.3 313.9M859.8 302.3Q909.8 295.0 930.0 290.0T957.4 265.9T983.0 259.5T1018.0 280.3T1066.2 307.9M988.9 112.2Q1002.8 174.4 1008.4 185.9T1034.2 214.1T1091.0 234.2M1006.6 351.1Q979.1 311.9 1026.7 342.1M897.8 338.9Q914.0 297.5 935.0 292.2T962.9 266.7T988.8 233.7T1028.6 241.8T1086.3 267.4M978.3 110.7Q991.7 173.7 992.0 186.7T974.4 214.2T935.3 236.3T898.1 250.2T856.9 297.7M870.2 152.3Q903.4 173.8 913.6 190.8T941.9 222.6T957.7 259.5T964.4 294.3T1003.1 352.2M1065.7 159.5Q1012.9 178.9 1016.5 188.3T1036.7 200.2T1083.0 190.6M879.6 325.2Q913.5 296.0 933.7 289.4T961.3 262.2T987.9 228.4T1029.9 225.9T1090.8 226.5M839.3 243.2Q882.9 252.3 900.8 248.1T941.9 238.7T984.8 221.5T1027.9 222.7T1090.1 218.9M1037.7 132.7Q1008.5 178.7 1013.1 190.8T1035.3 228.9T1083.6 275.8M888.4 332.4Q909.2 300.4 925.1 294.2T944.7 268.3T928.6 252.9T893.9 259.7T856.9 297.7M1037.7 132.7Q1000.7 173.9 999.8 184.8T980.0 208.2T942.2 209.7T901.9 202.8T848.6 186.6M1046.2 139.2Q1004.5 178.8 1006.6 192.7T991.9 221.4T970.2 258.7T970.7 294.0T996.0 354.2M839.0 236.0Q875.9 251.5 890.0 246.4T923.6 235.7T927.2 217.8T892.8 208.0T847.2 190.1M1051.5 143.8Q1011.0 180.7 1012.1 192.8T997.2 219.1T996.6 248.6T1026.3 273.6T1058.8 316.8M866.6 311.4Q904.3 294.1 920.8 287.5T941.1 260.5T928.4 226.9T892.9 216.3T839.5 222.8M894.6 336.8Q908.4 293.2 926.5 285.7T948.9 255.8T937.4 218.6T913.2 186.6T904.6 125.2M948.5 356.9Q969.9 312.5 965.2 302.2T966.3 272.1T989.1 264.2T1022.4 282.2T1061.3 313.9M996.0 354.2Q970.0 313.6 944.8 356.4M1067.9 162.4Q1008.9 182.9 1010.1 196.1T994.2 223.9T971.8 260.4T970.7 295.1T996.0 354.2" fill="none" stroke="#a2a2a2" stroke-width="0.55" stroke-opacity="0.5"/>
<path d="M1081.6 186.9Q1049.6 208.8 1029.7 210.6T991.5 226.6T967.1 262.5T964.7 296.4T941.2 355.8M1090.9 238.1Q1058.8 239.2 1040.9 225.0T1039.6 233.5T1088.4 258.9M848.7 281.6Q883.2 259.8 900.7 257.0T940.7 249.8T981.7 258.6T1018.0 278.7T1061.3 313.9M963.0 110.0Q957.7 142.7 954.5 159.1T954.0 195.2T939.4 203.9T912.6 179.1T875.3 147.0M1090.0 249.6Q1058.8 239.9 1040.8 225.9T1039.4 234.7T1088.4 258.9M894.6 336.8Q909.0 300.1 925.3 294.3T945.3 268.8T929.0 253.2T894.7 261.8T856.9 297.7M839.1 228.8Q876.3 243.4 891.9 240.0T927.7 230.3T932.9 210.7T912.5 180.1T901.4 127.0M1009.5 118.0Q1003.2 176.8 1005.0 189.8T991.2 217.7T991.3 248.5T1013.9 282.9T1038.3 334.8M970.5 357.9Q968.7 310.7 959.3 299.6T952.1 267.7T933.0 250.2T895.3 254.4T840.6 253.9M1078.3 179.8Q1053.6 205.6 1037.7 205.6T1038.5 230.2T1088.4 258.9M853.3 291.4Q884.2 260.0 902.0 256.9T942.4 248.9T983.8 256.6T1020.4 275.7T1078.3 288.3M883.4 139.5Q905.6 171.9 915.9 189.0T944.3 220.9T960.2 258.0T966.7 293.0T1016.8 347.0M1022.5 123.7Q997.9 173.9 997.2 185.7T977.7 210.9T936.8 230.8T897.9 243.2T839.0 236.0M1089.2 213.1Q1056.1 213.7 1039.4 211.4T1039.5 231.5T1087.5 263.2M847.3 278.3Q877.5 252.4 892.7 247.6T927.8 235.9T932.5 215.0T908.9 185.5T892.1 132.9M977.9 357.4Q964.3 312.1 956.3 303.4T928.2 296.0T869.0 314.3M1051.5 143.8Q1002.7 179.1 1002.8 192.5T984.4 220.3T959.3 256.8T932.0 285.7T888.4 332.4M839.7 246.8Q876.2 251.7 890.6 246.4T924.6 235.1T928.5 216.2T904.8 188.0T859.1 166.8M840.6 253.9Q876.4 251.2 891.2 246.1T925.7 234.6T930.0 214.9T906.6 186.1T872.7 149.6M1012.8 119.3Q1004.9 175.4 1010.5 187.4T1035.7 215.7T1090.0 249.6M1006.1 116.8Q998.9 175.9 1001.0 190.0T986.6 219.3T965.7 257.3T967.1 293.4T981.5 356.9M907.8 344.5Q914.9 298.1 935.9 293.1T963.7 267.9T989.2 235.0T1028.1 244.8T1083.6 275.8M1054.9 320.9Q1027.5 303.1 1054.9 320.9M1029.9 340.3Q969.2 311.8 920.0 349.8M937.7 113.0Q939.7 144.9 922.7 117.2" fill="none" stroke="#a2a2a2" stroke-width="0.55" stroke-opacity="0.5"/>
<path d="M1056.6 148.8Q1010.3 176.6 1014.8 186.7T1036.5 200.9T1083.0 190.6M871.5 317.1Q906.2 291.6 923.8 283.8T946.0 254.0T935.0 217.5T910.7 186.9T898.2 128.8M1090.4 245.8Q1053.6 242.9 1031.5 230.9T990.6 232.2T965.2 266.1T962.2 298.0T916.5 348.5M974.8 110.4Q991.4 174.0 991.9 187.4T974.9 215.4T951.5 252.4T926.9 282.6T869.0 314.3M876.8 322.6Q905.4 293.6 922.4 286.6T943.2 258.2T930.7 222.9T905.2 193.2T853.5 176.2M1056.6 148.8Q1009.6 176.1 1014.4 186.2T1036.1 199.5T1081.6 186.9M843.8 268.0Q875.9 252.3 890.5 248.3T924.6 238.1T928.2 218.8T903.4 191.1T853.5 176.2M855.0 294.6Q878.1 261.2 891.9 255.6T924.7 244.1T927.6 225.3T892.9 213.3T839.9 219.0M897.8 338.9Q913.0 296.7 934.4 292.0T962.8 267.0T988.6 234.2T1027.5 245.0T1085.1 271.6M923.4 351.1Q957.7 311.8 951.2 303.6T926.1 297.1T882.5 327.7M1031.8 128.9Q999.2 176.0 998.9 188.9T979.8 215.9T939.1 237.3T900.4 251.3T855.0 294.6M1085.1 271.6Q1054.4 261.5 1035.8 240.8T1000.7 232.5T999.1 258.1T1028.7 277.9T1058.8 316.8M985.4 111.6Q998.0 173.0 1005.7 186.3T1032.2 225.9T1088.4 258.9M864.2 308.4Q900.7 290.2 918.9 285.0T941.0 259.1T928.5 225.2T893.0 214.3T841.8 208.0M1063.6 156.8Q1003.8 176.6 1003.0 187.3T983.1 209.9T944.7 210.4T913.3 186.0T853.5 176.2M888.4 332.4Q905.7 296.4 922.8 290.8T943.4 264.8T926.8 247.9T891.5 252.6T840.1 250.4M1034.8 130.8Q1006.9 179.6 1007.5 192.5T991.8 220.2T970.8 257.6T970.6 293.1T1010.0 349.8M856.9 297.7Q878.0 257.9 892.2 253.1T925.7 241.7T928.8 221.7T893.8 210.7T850.1 183.2M840.6 253.9Q882.0 253.4 900.1 251.5T941.0 245.3T982.7 254.2T1020.2 273.6T1076.5 291.7M1091.0 234.2Q1058.9 235.8 1040.9 223.2T1039.4 233.6T1088.4 258.9M840.1 250.4Q881.1 251.6 899.1 251.0T939.8 246.5T981.0 256.2T1017.9 276.8T1061.3 313.9M1074.7 295.1Q1039.6 289.6 1027.3 283.1T1019.1 291.4T1034.7 337.3M974.2 357.7Q963.7 312.0 957.4 301.3T953.3 270.2T934.5 253.8T897.8 262.2T851.7 288.2M1090.7 241.9Q1058.7 240.7 1040.7 226.3T1039.1 235.4T1086.3 267.4M882.5 327.7Q905.2 293.8 922.6 287.2T943.5 259.2T930.7 224.0T895.1 211.1T850.1 183.2" fill="none" stroke="#a2a2a2" stroke-width="0.55" stroke-opacity="0.5"/>
<path d="M875.3 147.0Q909.4 168.7 919.0 186.5T947.5 218.2T984.6 247.2T1020.5 270.8T1070.6 301.6M970.5 357.9Q966.6 311.3 958.3 300.3T952.3 268.8T933.4 251.7T896.0 257.4T843.8 268.0M1065.7 159.5Q1008.6 183.1 1009.0 196.2T991.8 223.8T968.6 260.6T967.9 295.4T966.8 358.0M1037.7 132.7Q1008.1 175.7 1013.2 186.8T1037.4 212.9T1090.1 218.9M888.4 332.4Q909.1 294.5 926.1 286.3T947.3 255.9T935.6 219.1T911.5 187.3T892.1 132.9M1059.0 151.4Q1006.6 181.1 1007.9 194.6T991.9 222.9T969.2 260.0T969.0 295.0T977.9 357.4M1069.9 165.3Q1004.7 180.5 1003.5 192.2T982.8 216.9T940.5 236.1T899.9 246.6T841.3 257.5M1026.7 342.1Q981.5 309.8 976.1 299.4T975.5 269.1T996.4 261.1T1027.6 279.2T1074.7 295.1M1019.3 122.1Q1004.8 174.0 1010.7 185.6T1036.2 212.7T1090.5 222.7M981.9 111.1Q995.5 175.2 997.9 189.2T984.3 218.6T964.2 256.8T964.4 293.1T985.2 356.4M901.1 340.9Q914.6 295.4 935.2 288.8T962.8 260.6T988.3 225.1T1027.8 210.0T1080.0 183.4M985.4 111.6Q999.6 175.0 1006.3 188.2T1031.7 227.5T1082.1 279.8M876.8 322.6Q914.4 296.1 933.9 288.7T960.8 260.4T987.3 226.0T1027.6 211.7T1087.6 205.5M1081.6 186.9Q1054.4 207.8 1038.3 207.0T1039.0 229.9T1088.4 258.9M885.4 330.1Q912.2 298.4 932.5 293.7T959.5 269.5T984.1 262.5T1019.9 280.3T1058.8 316.8M1040.6 134.8Q1003.0 178.5 1004.2 192.4T988.0 221.2T965.2 258.7T963.5 294.3T952.1 357.4M864.2 308.4Q909.0 293.5 930.2 289.0T958.9 264.8T984.8 257.5T1020.0 277.7T1079.9 284.8M1091.0 234.2Q1058.2 238.1 1038.2 226.8T1001.7 228.2T1000.1 254.7T1029.5 275.6T1063.8 311.0M1088.5 209.3Q1055.2 212.2 1036.9 211.8T1002.3 224.4T1001.0 251.2T1031.6 271.3T1074.7 295.1M848.6 186.6Q876.2 208.2 894.4 201.5T906.2 181.5T892.1 132.9M879.6 325.2Q913.1 295.3 933.5 288.7T961.2 261.2T987.7 227.0T1028.2 213.6T1089.2 213.1M1069.9 165.3Q1011.1 180.4 1016.2 191.6T1039.7 218.3T1090.7 241.9M1037.7 132.7Q1007.7 177.0 1010.2 189.4T997.2 215.8T997.6 244.7T1028.5 268.9T1078.3 288.3M963.0 110.0Q959.8 141.9 956.4 158.0T956.2 193.6T942.5 201.6T916.6 176.2T904.6 125.2M948.5 356.9Q961.1 312.0 953.4 303.4T926.8 296.4T869.0 314.3" fill="none" stroke="#a2a2a2" stroke-width="0.55" stroke-opacity="0.5"/>
<path d="M1043.4 137.0Q1007.5 174.8 1013.0 185.7T1035.6 199.9T1086.6 201.7M1078.3 179.8Q1051.5 209.1 1032.2 210.2T995.8 225.5T973.3 261.5T973.3 295.6T1003.1 352.2M1046.2 139.2Q1003.8 179.6 1003.6 192.8T985.3 220.7T960.9 257.7T934.5 287.2T907.8 344.5M1090.1 218.9Q1058.7 235.2 1040.8 222.4T1039.2 233.2T1087.5 263.2M904.4 342.7Q911.3 301.9 901.1 340.9M1083.6 275.8Q1054.5 262.5 1083.6 275.8M883.4 139.5Q903.5 164.0 889.1 135.0M1034.8 130.8Q1007.8 177.4 1012.9 189.3T1035.8 226.1T1088.4 258.9M1078.3 179.8Q1054.9 208.1 1038.4 205.1T1040.1 217.5T1090.1 218.9M871.5 317.1Q902.0 293.8 859.8 302.3M1046.2 139.2Q1000.9 176.5 1000.2 188.8T980.4 214.4T938.8 234.6T899.5 247.7T842.0 261.0M1040.6 134.8Q999.9 174.4 999.3 186.1T979.7 210.6T941.6 212.9T901.0 206.5T840.4 215.3M1028.7 127.0Q1002.3 178.5 1002.0 191.6T983.9 219.6T960.2 257.0T958.6 292.5T913.1 347.0M1083.6 275.8Q1055.2 260.0 1082.1 279.8M1089.2 213.1Q1055.7 211.7 1039.3 209.9T1040.8 223.9T1089.4 253.4M1085.1 271.6Q1054.3 262.6 1036.2 240.9T1001.7 231.1T1000.6 256.2T1030.6 275.5T1072.7 298.4M1059.0 151.4Q1001.2 177.6 1001.1 190.2T981.8 216.2T940.0 236.2T900.4 249.6T843.8 268.0M1048.9 141.5Q1007.4 180.5 1008.4 193.7T992.5 221.6T970.8 258.8T970.1 294.1T999.6 353.2M859.8 302.3Q909.1 293.2 930.1 288.3T958.6 263.8T985.5 232.3T1026.6 240.8T1082.1 279.8M842.9 264.5Q876.9 254.2 891.4 248.4T925.6 236.1T929.6 216.3T905.7 187.6T867.8 155.0M864.2 308.4Q903.7 290.3 921.3 283.3T943.3 254.7T931.7 219.0T907.9 188.3T872.7 149.6M1054.1 146.3Q1008.0 180.5 1009.5 193.7T994.6 221.5T973.3 258.3T973.8 293.2T1020.2 345.5M981.9 111.1Q999.1 168.9 1031.8 128.9M845.9 193.6Q876.1 205.2 893.2 201.2T903.9 183.8T870.2 152.3M1023.5 343.8Q974.5 309.2 965.5 298.4T957.9 267.3T937.3 250.6T898.6 257.6T843.8 268.0" fill="none" stroke="#a2a2a2" stroke-width="0.55" stroke-opacity="0.5"/>
<path d="M888.4 332.4Q912.4 298.7 932.6 294.1T959.5 270.1T984.0 263.1T1011.9 289.7T1054.9 320.9M978.3 110.7Q996.7 175.1 999.5 188.8T986.8 217.7T968.0 255.5T971.2 291.3T1023.5 343.8M856.9 297.7Q885.0 261.7 902.7 258.0T942.9 249.3T984.2 256.7T1020.9 275.4T1079.9 284.8M985.4 111.6Q994.0 175.0 995.5 189.0T980.1 218.3T958.0 256.3T957.5 292.4T923.4 351.1M985.4 111.6Q993.8 174.9 995.0 188.8T978.9 217.8T956.4 255.6T932.7 286.8T907.8 344.5M978.3 110.7Q991.3 171.4 991.3 183.2T973.1 208.3T936.8 211.5T898.1 206.2T839.9 219.0M879.6 325.2Q908.7 299.7 924.1 293.0T943.3 266.6T927.2 251.0T892.9 258.7T850.1 284.9M1019.3 122.1Q1005.7 176.7 1011.0 188.9T1034.6 226.4T1086.3 267.4M1069.9 165.3Q1007.8 182.6 1009.6 196.2T994.1 224.2T971.6 260.8T971.6 295.3T992.4 355.0M1054.1 146.3Q1001.4 175.2 1001.0 186.6T981.4 210.4T943.0 211.9T902.6 203.2T844.7 197.1M930.4 353.2Q960.9 311.1 953.3 300.4T948.6 269.5T931.0 253.1T894.8 258.3T850.1 284.9M948.5 356.9Q966.4 313.3 962.7 303.2T964.6 273.7T986.7 266.4T1012.9 292.2T1038.3 334.8M904.4 342.7Q916.8 297.8 936.8 290.7T963.7 262.5T989.4 227.5T1028.5 211.6T1087.6 205.5M1067.9 162.4Q1012.0 179.8 1016.5 190.3T1039.5 215.9T1090.5 222.7M1090.5 222.7Q1058.5 237.0 1040.4 224.2T1038.4 236.2T1082.1 279.8M841.3 257.5Q875.4 252.6 889.7 248.8T923.4 239.3T926.8 221.3T892.4 210.3T841.8 208.0M839.5 222.8Q880.5 215.6 902.4 214.5T943.7 226.2T981.9 252.9T1018.2 275.3T1070.6 301.6M1048.9 141.5Q1008.8 175.3 1013.7 185.5T1035.4 198.4T1081.6 186.9M891.5 334.7Q905.4 294.9 922.9 289.0T943.8 262.1T930.5 227.5T894.3 215.4T841.1 211.7M981.5 356.9Q966.5 311.2 958.9 300.1T953.4 268.4T934.1 251.3T896.6 257.8T842.9 264.5M1081.6 186.9Q1053.8 205.7 1038.0 205.7T1040.3 219.6T1089.4 253.4M1086.6 201.7Q1054.5 209.1 1036.5 209.6T1002.3 223.0T1001.3 249.9T1032.0 269.9T1078.3 288.3M1016.1 120.6Q995.9 173.0 995.8 185.3T977.0 211.2T936.3 231.3T897.6 244.0T839.3 243.2M1078.3 179.8Q1052.6 206.3 1034.5 207.8T1000.0 222.9T998.6 251.3T1028.5 273.6T1058.8 316.8M879.6 325.2Q907.2 292.8 924.7 285.0T946.6 255.0T935.2 218.3T911.5 186.6T895.1 130.8" fill="none" stroke="#a2a2a2" stroke-width="0.55" stroke-opacity="0.5"/>
<path d="M1019.3 122.1Q999.6 176.3 1001.7 190.5T986.9 219.9T965.1 257.8T964.3 293.8T966.8 358.0M848.7 281.6Q877.0 258.3 891.0 253.2T924.2 242.2T927.2 223.5T892.4 213.0T841.1 211.7M1066.2 307.9Q1040.7 288.6 1027.9 282.9T1019.7 291.4T1045.2 329.6M1054.1 146.3Q1004.9 180.1 1006.2 193.9T990.0 222.4T966.9 259.6T965.7 294.9T959.5 357.9M949.2 111.0Q940.0 144.9 937.7 113.0M859.8 302.3Q902.0 292.6 919.3 287.3T940.5 262.1T924.8 246.4T890.6 253.1T841.3 257.5M1022.5 123.7Q1006.0 177.0 1011.2 189.4T1034.6 227.1T1085.1 271.6M977.9 357.4Q966.7 311.8 957.4 303.2T929.2 296.7T866.6 311.4M855.0 294.6Q877.6 258.8 891.7 254.1T924.9 243.2T927.8 224.1T893.0 212.2T841.8 208.0M850.1 284.9Q883.8 261.4 901.1 257.9T941.0 249.9T982.0 258.5T1017.9 279.1T1063.8 311.0M848.6 186.6Q878.7 201.8 896.5 197.8T909.2 179.5T911.2 121.9M897.8 338.9Q904.9 292.7 923.4 287.1T945.4 259.9T932.2 224.1T906.9 193.3T853.5 176.2M897.8 338.9Q910.9 297.4 932.1 294.1T959.8 271.4T983.7 264.5T1010.7 291.5T1045.2 329.6M944.8 356.4Q966.1 311.6 956.9 301.1T950.5 270.6T932.6 254.4T896.0 259.6T855.0 294.6M920.0 349.8Q964.1 311.8 960.3 301.8T962.6 272.1T986.0 264.8T1012.9 290.9T1051.8 323.9M1061.3 313.9Q1042.1 286.7 1028.8 281.8T1022.2 289.4T1054.9 320.9M888.4 332.4Q910.0 294.4 927.1 286.0T948.8 255.1T937.6 217.9T914.0 185.8T911.2 121.9M953.6 110.5Q956.9 142.6 953.7 158.9T953.4 194.9T939.3 203.4T913.0 178.4T880.6 141.9M923.4 351.1Q957.0 310.4 950.7 299.4T947.4 268.0T929.8 251.2T893.9 257.1T843.8 268.0M1025.6 125.3Q999.2 171.4 999.0 182.0T980.5 204.6T943.8 205.3T915.1 180.1T872.7 149.6M907.8 344.5Q916.1 300.9 935.8 295.7T962.1 270.8T986.1 263.3T1021.1 280.7T1061.3 313.9M871.5 317.1Q904.0 295.4 921.2 290.1T942.1 265.0T926.2 249.4T891.7 255.7T846.0 274.9M866.6 311.4Q905.4 290.6 923.2 282.9T945.7 253.3T934.9 216.9T910.9 186.3T901.4 127.0M859.1 166.8Q899.1 168.4 883.4 139.5M1054.1 146.3Q1005.7 180.2 1007.1 193.9T991.4 222.4T968.9 259.6T967.4 294.8T977.9 357.4" fill="none" stroke="#a2a2a2" stroke-width="0.55" stroke-opacity="0.5"/>
<path d="M952.1 357.4Q962.4 312.8 954.9 304.5T928.9 298.2T885.4 330.1M862.0 305.4Q911.1 296.7 930.5 291.3T957.1 266.9T982.4 260.7T1018.1 280.4T1058.8 316.8M1043.4 137.0Q1008.0 178.3 1013.2 190.6T1035.4 230.0T1085.1 271.6M1031.8 128.9Q997.0 172.9 997.3 185.2T978.7 210.5T940.8 213.2T900.4 207.6T839.5 222.8M916.5 348.5Q960.0 310.8 951.5 302.5T925.1 296.3T871.5 317.1M1040.6 134.8Q1007.3 177.2 1012.9 189.4T1035.5 228.5T1088.4 258.9M1031.8 128.9Q1001.4 177.9 1001.9 191.5T984.7 220.0T961.1 257.5T959.7 293.0T920.0 349.8M1090.1 218.9Q1054.6 234.9 1032.9 225.6T993.0 230.0T968.5 265.0T967.0 297.9T948.5 356.9M847.2 190.1Q875.8 205.0 892.5 201.9T903.5 184.8T855.3 173.0M879.6 325.2Q906.8 293.3 924.0 285.6T945.3 256.1T933.4 219.7T907.8 189.8T877.9 144.4M1061.3 154.0Q1010.9 177.8 1015.5 188.2T1037.0 201.6T1087.6 205.5M1090.9 230.4Q1056.4 237.3 1035.5 227.4T997.1 230.9T974.3 265.3T973.7 297.8T1003.1 352.2M1083.0 190.6Q1050.5 208.0 1031.3 210.5T994.4 227.1T971.0 262.9T969.5 296.8T977.9 357.4M855.0 294.6Q884.0 263.9 900.9 260.4T939.9 252.6T980.1 261.5T1008.6 289.5T1041.8 332.3M970.5 357.9Q964.8 313.4 957.8 305.4T931.4 298.9T904.4 342.7M1051.5 143.8Q1005.4 180.4 1006.1 193.8T989.2 222.2T966.0 259.4T964.9 294.7T952.1 357.4M841.3 257.5Q882.5 255.9 900.3 253.0T940.9 245.9T982.5 254.8T1019.2 275.4T1074.7 295.1M1048.9 141.5Q1005.2 178.3 1008.1 192.1T994.7 220.6T973.9 257.4T975.0 292.3T1029.9 340.3M894.6 336.8Q907.7 298.7 924.5 293.1T944.7 267.6T928.2 251.5T893.0 257.3T848.7 281.6M865.5 157.9Q900.3 176.0 910.7 192.4T938.7 223.6T953.6 260.5T956.8 295.4T966.8 358.0M1070.6 301.6Q1040.9 288.3 1028.0 282.6T1021.4 289.8T1041.8 332.3M1034.8 130.8Q1007.3 178.2 1012.3 190.7T1034.9 229.2T1082.1 279.8M999.3 114.7Q1000.3 173.6 1004.1 186.8T992.9 214.4T994.4 244.1T1026.5 268.7T1074.7 295.1M1059.0 151.4Q1003.0 178.4 1002.0 190.3T981.7 215.5T939.7 235.1T899.5 246.2T841.3 257.5M862.0 305.4Q904.7 290.5 922.1 282.9T943.9 253.6T932.7 217.7T908.8 187.2T883.4 139.5" fill="none" stroke="#a2a2a2" stroke-width="0.55" stroke-opacity="0.5"/>
<path d="M1085.6 198.0Q1054.6 207.5 1038.6 206.8T1040.7 219.8T1090.4 245.8M967.6 110.0Q991.4 174.5 994.0 188.9T980.4 218.6T959.7 256.9T960.6 293.2T952.1 357.4M920.0 349.8Q959.4 309.0 951.6 297.6T946.7 265.2T929.1 247.4T892.8 251.3T839.0 232.4M1088.5 209.3Q1054.5 209.7 1038.4 209.8T1038.3 235.2T1083.6 275.8M971.2 110.2Q991.9 174.8 993.2 188.7T977.4 217.6T955.3 255.5T931.1 285.9T907.8 344.5M1078.3 288.3Q1041.9 286.2 1028.6 281.2T1020.1 290.3T1034.7 337.3M978.3 110.7Q999.5 173.8 1006.2 186.2T1033.4 214.7T1090.0 249.6M1051.5 143.8Q1007.5 176.5 1013.6 188.4T1038.4 216.5T1091.0 234.2M1006.1 116.8Q1001.5 174.1 1008.4 187.0T1033.7 225.7T1088.4 258.9M840.4 215.3Q875.2 208.4 892.3 204.0T903.6 185.3T865.5 157.9M1019.3 122.1Q1003.2 174.2 1006.9 187.3T995.4 214.4T996.4 243.6T1029.0 266.3T1079.9 284.8M1043.4 137.0Q1009.1 178.0 1011.2 190.2T997.8 216.2T998.0 245.0T1028.6 269.3T1078.3 288.3M1061.3 154.0Q1007.6 182.3 1007.7 195.4T990.2 223.2T966.7 260.2T965.1 295.1T952.1 357.4M848.7 281.6Q877.3 259.9 855.0 294.6M930.1 114.8Q940.0 144.9 946.2 157.3T955.9 155.7T958.3 110.2M1090.4 245.8Q1058.1 242.8 1038.2 229.7T1001.8 229.1T1000.3 255.3T1029.0 277.0T1066.2 307.9M871.5 317.1Q909.4 295.2 930.5 290.9T958.8 267.2T984.1 260.3T1019.6 279.5T1068.4 304.8M839.0 236.0Q875.5 250.8 889.7 246.3T923.3 236.5T926.8 219.0T892.2 210.0T843.6 200.7M839.0 232.4Q882.6 250.9 900.7 247.8T941.8 240.1T984.7 224.3T1027.9 225.4T1089.4 253.4M963.2 358.0Q963.1 312.8 955.6 304.4T929.0 297.7T882.5 327.7M897.8 338.9Q907.1 295.2 924.4 288.7T945.0 260.7T931.7 225.2T896.0 210.7T848.6 186.6M1090.9 238.1Q1054.4 239.7 1032.5 229.1T992.2 231.9T967.4 266.2T965.4 298.5T937.6 355.0M844.9 271.5Q877.9 252.8 893.1 247.2T928.5 234.6T933.6 213.7T910.7 184.0T904.6 125.2M1063.6 156.8Q1003.1 178.0 1002.2 189.6T982.0 213.9T939.8 232.5T899.6 243.4T839.1 228.8M850.1 284.9Q883.9 256.2 902.0 252.9T943.1 243.9T985.7 225.8T1028.6 223.2T1090.9 230.4" fill="none" stroke="#a2a2a2" stroke-width="0.55" stroke-opacity="0.5"/>
<path d="M1040.6 134.8Q1008.6 173.8 1048.9 141.5M985.4 111.6Q996.9 168.0 999.3 114.7M959.5 357.9Q963.2 311.8 954.7 303.1T926.5 295.4T864.2 308.4M1084.3 194.2Q1053.9 207.8 1035.9 208.8T1001.7 223.0T1000.5 250.4T1029.8 273.1T1072.7 298.4M841.1 211.7Q875.8 209.9 894.1 203.3T907.8 181.4T898.2 128.8M874.1 319.9Q902.7 293.4 920.4 288.2T941.9 262.6T925.6 245.9T890.7 250.4T839.1 239.6M850.1 284.9Q877.7 255.6 892.3 250.2T926.5 238.0T930.4 217.5T907.1 187.5T870.2 152.3M1071.8 168.2Q1012.0 181.7 1014.4 193.8T1000.9 219.3T1000.3 247.0T1030.5 269.7T1079.9 284.8M1019.3 122.1Q995.0 173.4 995.8 186.8T978.0 214.2T937.5 235.4T898.7 247.9T848.7 281.6M999.3 114.7Q996.0 175.3 997.7 189.5T982.3 218.9T960.2 256.9T960.4 292.9T934.0 354.2M978.3 110.7Q995.1 175.4 997.2 189.4T983.2 218.7T962.8 256.9T965.1 293.2T974.2 357.7M1090.8 226.5Q1058.3 237.9 1038.4 226.0T1002.0 226.9T1000.6 253.5T1029.8 275.0T1068.4 304.8M992.4 113.0Q998.2 174.9 1001.2 188.8T988.6 217.8T969.4 255.5T972.8 291.2T1026.7 342.1M1065.7 159.5Q1011.6 181.0 1016.1 192.4T1037.9 228.0T1088.4 258.9M1023.5 343.8Q978.1 312.4 988.8 355.8M907.8 344.5Q910.2 300.4 926.6 294.6T946.2 268.6T929.3 252.5T894.1 259.6T850.1 284.9M977.9 357.4Q971.8 313.9 977.9 357.4M923.4 351.1Q960.7 312.2 953.4 304.3T927.3 297.9T897.8 338.9M891.5 334.7Q912.6 295.5 934.0 290.2T962.5 264.4T988.8 230.8T1030.4 229.2T1090.7 241.9M1074.7 295.1Q1041.4 287.8 1068.4 304.8M891.5 334.7Q914.7 298.4 934.9 292.6T962.1 266.6T988.2 233.9T1027.8 243.2T1085.1 271.6M920.0 349.8Q957.9 309.7 950.9 298.6T946.8 266.9T929.2 249.6T893.5 255.9T840.6 253.9M919.0 118.5Q940.7 144.8 945.8 157.4T955.8 155.9T953.6 110.5M1059.0 151.4Q1011.8 179.6 1016.0 190.4T1039.0 216.1T1090.9 238.1M1058.8 316.8Q1040.2 288.8 1026.8 283.7T1018.3 292.7T1034.7 337.3" fill="none" stroke="#a2a2a2" stroke-width="0.55" stroke-opacity="0.5"/>
<path d="M1054.1 146.3Q1000.6 176.4 1000.4 188.8T981.0 214.4T939.2 234.0T899.5 246.4T840.1 250.4M882.5 327.7Q912.5 294.7 933.3 288.4T961.4 261.2T987.8 226.8T1028.1 212.8T1088.5 209.3M1075.4 174.3Q1007.2 184.3 1007.0 197.2T988.1 224.2T962.8 260.1T935.3 288.5T904.4 342.7M839.1 239.6Q882.2 254.9 899.7 251.9T939.9 245.2T981.2 255.1T1017.8 276.4T1063.8 311.0M1012.8 119.3Q995.8 174.7 996.7 188.5T979.5 217.0T955.2 253.9T928.9 283.4T876.8 322.6M1025.6 125.3Q999.8 176.9 1001.0 190.8T984.6 219.8T961.4 257.5T959.3 293.2T926.9 352.2M1079.9 284.8Q1044.8 282.2 1030.7 278.5T1021.3 289.3T1048.5 326.8M1006.1 116.8Q1002.8 171.9 1008.8 182.9T1032.8 197.7T1083.0 190.6M1090.1 218.9Q1058.9 236.4 1090.4 245.8M963.2 358.0Q969.8 312.4 966.4 301.7T968.7 271.0T991.4 262.7T1024.5 280.2T1072.7 298.4M904.4 342.7Q916.9 301.6 936.1 295.8T961.9 270.4T986.1 262.9T1021.1 280.6T1063.8 311.0M891.5 334.7Q913.5 298.4 934.0 293.3T961.3 268.4T986.3 260.6T1019.9 281.0T1074.7 295.1M971.2 110.2Q996.3 172.6 1000.5 185.8T990.3 213.2T992.8 242.7T1026.4 266.5T1079.9 284.8M971.2 110.2Q996.1 174.5 999.4 188.0T987.7 216.5T989.2 247.4T1013.3 281.7T1045.2 329.6M1080.0 183.4Q1054.1 205.7 1038.2 204.9T1040.4 219.3T1090.9 238.1M1048.9 141.5Q1000.2 177.2 1000.6 190.6T982.1 218.0T956.3 253.8T928.7 282.2T862.0 305.4M839.0 236.0Q875.2 250.9 889.5 247.1T923.0 238.2T926.4 221.3T891.7 212.5T839.5 222.8M839.5 222.8Q873.9 211.7 841.1 211.7M1043.4 137.0Q1003.8 179.4 1004.0 192.8T986.4 221.0T962.7 258.3T960.1 293.7T926.9 352.2M888.4 332.4Q915.2 298.0 935.1 291.4T962.2 264.4T988.5 231.0T1030.2 228.1T1090.4 245.8M897.8 338.9Q913.7 300.3 933.4 295.6T959.5 271.6T983.3 264.8T1010.3 291.7T1041.8 332.3M1076.5 291.7Q1043.5 284.6 1030.0 279.9T1021.4 289.4T1051.8 323.9M1028.7 127.0Q998.8 174.4 998.0 186.2T978.3 211.3T937.2 231.0T897.6 241.3T839.0 236.0M1019.3 122.1Q999.9 175.2 1003.4 189.6T990.9 219.0T970.7 256.5T972.4 292.1T1020.2 345.5M1009.5 118.0Q1000.7 173.7 1004.7 187.3T993.7 215.3T994.7 245.0T1026.4 269.8T1070.6 301.6" fill="none" stroke="#a2a2a2" stroke-width="0.55" stroke-opacity="0.5"/>
<path d="M1026.7 342.1Q980.7 310.3 975.4 300.1T974.7 270.3T995.3 262.8T1027.4 279.2T1063.8 311.0M876.8 322.6Q912.9 296.5 933.2 290.5T960.8 264.4T987.4 231.6T1028.0 239.6T1088.4 258.9M859.8 302.3Q909.7 296.4 929.1 291.5T955.3 267.9T980.1 262.3T1007.4 291.0T1038.3 334.8M857.2 169.8Q899.8 167.9 886.2 137.2M1063.6 156.8Q1010.5 181.0 1012.6 193.6T998.6 220.3T997.8 249.2T1027.6 273.1T1061.3 313.9M1091.0 234.2Q1058.7 234.8 1038.9 224.3T1002.9 226.2T1001.8 252.0T1031.2 272.9T1079.9 284.8M839.5 222.8Q874.5 211.3 891.9 205.8T902.3 187.0T865.5 157.9M851.7 288.2Q876.6 255.6 891.0 252.1T924.5 242.6T927.5 223.6T893.1 211.1T841.8 208.0M904.4 342.7Q918.3 300.8 937.5 294.1T963.6 267.1T989.3 234.0T1029.1 241.2T1086.3 267.4M851.7 288.2Q884.8 260.1 902.5 255.7T943.1 246.0T985.6 228.5T1028.4 228.9T1089.4 253.4M850.1 284.9Q877.4 260.8 848.7 281.6M907.8 344.5Q916.5 298.1 936.9 292.0T964.3 265.1T990.0 231.1T1031.2 228.8T1090.9 238.1M1067.9 162.4Q1008.9 183.8 1008.8 196.7T990.9 224.1T967.2 260.8T965.9 295.5T952.1 357.4M859.8 302.3Q903.7 288.8 921.8 281.6T944.6 252.6T933.8 216.6T910.0 186.2T895.1 130.8M848.6 186.6Q881.2 213.1 903.4 210.9T945.0 221.9T983.1 249.5T1019.5 272.3T1074.7 295.1M882.5 327.7Q907.3 293.0 924.8 285.3T946.7 255.4T935.1 218.7T911.7 186.6T892.1 132.9M907.8 344.5Q916.0 298.8 936.6 293.2T963.9 267.3T989.5 234.2T1029.1 241.9T1086.3 267.4M874.1 319.9Q907.2 292.5 924.5 284.5T946.3 254.3T935.2 217.7T911.5 186.3T898.2 128.8M953.6 110.5Q955.5 143.5 952.2 160.3T951.5 197.2T936.6 206.6T909.6 182.6T855.3 173.0M894.6 336.8Q908.0 299.2 924.8 293.7T945.1 268.3T928.7 252.6T894.1 260.5T853.3 291.4M1048.9 141.5Q1005.8 177.3 1012.3 190.3T1036.4 228.3T1085.1 271.6M840.6 253.9Q882.1 256.4 899.5 253.7T939.6 247.1T980.8 256.8T1017.4 277.7T1058.8 316.8M1040.6 134.8Q1004.4 177.1 1007.6 190.9T994.8 219.3T994.0 249.5T1016.6 282.6T1041.8 332.3M1090.1 218.9Q1055.6 238.4 1034.3 227.4T995.4 230.0T972.0 265.0T968.6 298.0T981.5 356.9M1090.8 226.5Q1058.4 237.4 1038.5 225.7T1002.2 226.7T1000.8 253.2T1028.9 276.3T1070.6 301.6" fill="none" stroke="#a2a2a2" stroke-width="0.55" stroke-opacity="0.5"/>
<path d="M871.5 317.1Q910.9 296.5 931.3 291.6T958.8 267.2T984.1 260.3T1019.8 279.3T1068.4 304.8M985.4 111.6Q995.6 175.6 997.2 189.5T982.2 218.8T961.0 257.0T962.7 293.1T952.1 357.4M985.4 111.6Q991.5 172.8 992.1 186.0T974.6 213.3T935.1 235.0T897.4 248.3T850.1 284.9M1043.4 137.0Q1002.7 178.8 1003.5 192.5T986.4 221.0T962.7 258.3T961.4 293.6T926.9 352.2M1025.6 125.3Q1004.4 177.2 1006.5 190.6T992.7 218.7T992.1 249.3T1015.6 282.4T1034.7 337.3M842.0 261.0Q878.3 252.9 893.4 246.5T929.0 233.1T934.5 212.4T912.7 182.1T914.6 120.4M1002.7 115.7Q998.2 168.1 1002.7 115.7M981.9 111.1Q996.9 173.5 1000.8 187.2T989.9 215.7T991.4 246.1T1023.4 271.7T1058.8 316.8M959.5 357.9Q972.6 313.0 1020.2 345.5M848.7 281.6Q879.3 257.1 894.0 250.0T928.9 235.7T933.9 214.5T911.7 183.6T904.6 125.2M1069.9 165.3Q1007.2 174.1 1012.8 119.3M1002.7 115.7Q997.8 175.7 999.8 189.8T985.2 219.2T963.9 257.3T964.7 293.5T966.8 358.0M1002.7 115.7Q996.4 175.5 996.4 188.7T978.4 216.6T954.4 253.6T928.1 282.9T876.8 322.6M882.5 327.7Q907.2 299.0 882.5 327.7M851.7 288.2Q882.9 259.8 900.3 257.8T940.0 251.5T980.5 260.4T1010.1 287.9T1048.5 326.8M888.4 332.4Q907.6 292.5 925.8 285.0T948.5 255.2T937.2 218.1T912.0 187.6T907.9 123.5M847.3 278.3Q876.5 256.9 890.7 252.3T924.0 241.8T927.1 223.3T893.2 210.0T841.1 211.7M844.9 271.5Q876.6 254.3 891.1 249.2T925.1 237.7T928.9 218.1T905.6 188.6T859.1 166.8M1061.3 313.9Q1042.7 285.7 1029.0 281.4T1020.6 290.7T1051.8 323.9M1067.9 162.4Q1001.8 177.8 1001.8 189.9T982.4 214.7T940.2 233.3T899.4 242.5T839.0 232.4M839.0 232.4Q877.0 246.3 892.4 241.5T928.2 230.4T933.5 210.6T910.5 182.3T907.9 123.5M869.0 314.3Q911.1 292.9 931.7 286.4T959.8 258.9T986.5 224.6T1026.6 209.3T1085.6 198.0M847.2 190.1Q881.4 211.3 903.0 210.7T943.8 223.7T981.5 251.7T1017.5 275.2T1061.3 313.9M1022.5 123.7Q996.3 170.6 996.9 182.1T979.0 206.0T942.0 207.3T912.2 183.4T857.2 169.8M1084.3 194.2Q1053.9 204.0 1080.0 183.4" fill="none" stroke="#a2a2a2" stroke-width="0.55" stroke-opacity="0.5"/>
<path d="M876.8 322.6Q911.4 296.4 932.2 291.3T960.1 266.6T985.6 259.0T1021.3 277.4T1078.3 288.3M874.1 319.9Q907.3 299.0 885.4 330.1M1037.7 132.7Q999.7 173.9 999.1 185.3T979.5 209.5T941.6 211.6T901.5 203.9T842.7 204.3M1046.2 139.2Q1008.3 178.5 1010.5 191.2T997.0 218.2T996.7 247.6T1027.2 271.9T1063.8 311.0M1084.3 194.2Q1054.4 211.1 1035.8 210.9T1000.8 224.2T999.3 252.0T1028.4 275.0T1061.3 313.9M1082.1 279.8Q1050.5 263.2 1030.0 243.4T991.3 236.3T966.7 269.3T964.1 300.5T937.6 355.0M842.0 261.0Q875.9 253.2 890.3 248.5T924.1 237.9T927.7 219.0T893.2 208.7T850.1 183.2M1006.1 116.8Q1005.3 174.5 1010.4 185.4T1035.3 211.6T1090.1 218.9M874.1 319.9Q904.6 295.6 921.5 289.9T942.0 264.0T925.9 247.7T891.3 254.1T841.3 257.5M996.0 354.2Q968.8 310.2 960.8 298.9T954.7 266.8T934.8 249.2T896.4 253.5T839.7 246.8M1016.8 347.0Q971.3 310.1 963.6 299.4T957.5 268.4T937.2 252.0T898.7 258.8T847.3 278.3M1090.1 218.9Q1058.5 235.0 1038.6 223.7T1002.6 225.1T1001.4 251.6T1031.5 271.9T1076.5 291.7M1028.7 127.0Q999.7 176.9 1000.5 190.7T983.5 219.4T959.6 256.8T934.6 287.4T907.8 344.5M995.9 113.8Q1000.3 174.6 1003.5 187.8T991.5 215.7T992.7 246.0T1024.5 271.2T1061.3 313.9M1009.5 118.0Q996.5 172.1 995.9 183.3T976.7 207.4T939.7 209.7T900.3 203.0T844.7 197.1M844.7 197.1Q877.5 203.1 894.8 199.4T907.1 181.1T892.1 132.9M846.0 274.9Q877.3 258.6 891.2 252.3T924.3 239.8T927.7 220.8T893.2 209.4T847.2 190.1M851.7 288.2Q883.2 258.8 900.8 256.9T941.0 250.5T981.9 259.1T1017.7 279.6T1061.3 313.9M1073.7 171.2Q1003.1 180.6 1003.1 193.1T983.6 218.8T941.3 238.4T901.0 250.2T846.0 274.9M872.7 149.6Q902.8 174.7 914.3 190.8T944.2 221.4T960.7 258.0T968.0 292.6T1029.9 340.3M870.2 152.3Q906.5 171.1 917.4 187.6T947.5 217.8T985.1 246.2T1021.1 269.6T1078.3 288.3M839.0 232.4Q874.8 247.6 889.4 244.5T923.3 236.2T926.8 218.7T892.8 207.4T843.6 200.7M1009.5 118.0Q1005.7 173.4 1010.3 183.5T1032.8 197.0T1081.6 186.9M1085.1 271.6Q1052.0 265.3 1033.0 243.8T996.8 235.1T974.2 268.3T973.8 299.6T1006.6 351.1M845.9 193.6Q874.1 210.5 840.4 215.3" fill="none" stroke="#a2a2a2" stroke-width="0.55" stroke-opacity="0.5"/>
<path d="M841.1 211.7Q876.4 216.2 896.2 215.6T933.4 228.9T947.9 264.0T954.0 297.0T930.4 353.2M1028.7 127.0Q997.5 175.3 998.1 188.8T980.2 216.7T955.0 253.0T929.3 283.0T864.2 308.4M955.8 357.7Q968.6 313.4 964.2 303.4T965.1 273.9T986.9 266.7T1013.1 292.3T1034.7 337.3M977.9 357.4Q976.2 312.4 970.1 302.2T969.4 272.1T991.4 264.3T1022.7 283.7T1061.3 313.9M848.6 186.6Q876.6 207.0 894.7 200.8T907.2 180.6T895.1 130.8M1048.9 141.5Q1001.1 176.9 1000.5 189.3T980.8 215.2T939.2 235.5T899.3 246.9T843.8 268.0M981.5 356.9Q966.9 310.9 959.1 299.7T953.3 267.9T933.9 250.5T896.1 255.8T841.3 257.5M843.6 200.7Q879.1 215.2 900.2 214.4T939.9 227.4T956.8 262.7T964.5 296.0T1013.5 348.5M1071.8 168.2Q1004.1 177.0 1004.0 187.6T984.8 209.8T946.5 209.4T916.7 182.8T865.5 157.9M1048.9 141.5Q1009.9 179.5 1011.6 191.8T997.5 218.2T997.2 247.4T1027.7 271.4T1066.2 307.9M874.1 319.9Q905.9 296.4 922.1 290.0T941.9 263.2T925.7 246.6T891.0 252.5T839.7 246.8M1069.9 165.3Q1010.9 177.7 1015.5 187.5T1036.6 199.7T1078.3 179.8M1051.5 143.8Q1008.6 178.3 1011.3 191.1T998.2 217.7T998.1 246.6T1028.6 270.4T1072.7 298.4M840.1 250.4Q880.6 253.7 898.1 252.8T937.8 248.3T978.2 258.7T1006.5 288.6T1034.7 337.3M839.3 243.2Q875.3 250.2 889.7 246.3T923.5 236.8T927.0 218.8T892.4 209.5T845.9 193.6M1090.9 238.1Q1058.8 237.0 1040.8 224.3T1038.9 235.8T1086.3 267.4M1012.8 119.3Q998.8 174.3 997.0 185.3T976.7 209.5T939.4 212.5T899.3 208.0T839.5 222.8M1089.2 213.1Q1053.9 204.5 1087.6 205.5M1075.4 174.3Q1005.0 177.6 1005.0 188.0T985.9 209.6T947.8 208.7T917.5 182.2T875.3 147.0M958.3 110.2Q956.3 146.6 952.7 165.0T951.4 205.1T932.8 234.2T896.0 248.1T847.3 278.3M1074.7 295.1Q1045.7 281.5 1076.5 291.7M1019.3 122.1Q1003.0 174.7 1006.5 188.1T994.7 215.7T995.4 245.3T1026.6 270.3T1070.6 301.6M1085.6 198.0Q1053.8 208.0 1035.9 209.2T1001.6 223.7T1000.4 251.0T1029.8 273.3T1070.6 301.6M885.4 330.1Q915.5 298.9 935.0 292.3T961.7 265.5T988.0 232.6T1028.1 241.0T1087.5 263.2M978.3 110.7Q995.9 175.1 998.6 189.0T985.6 218.2T966.2 256.2T969.2 292.3T1006.6 351.1" fill="none" stroke="#a2a2a2" stroke-width="0.55" stroke-opacity="0.5"/>
<path d="M885.4 330.1Q906.4 297.9 901.1 340.9M864.2 308.4Q910.4 295.0 930.9 289.8T958.7 265.1T984.6 257.9T1020.8 276.7T1078.3 288.3M937.7 113.0Q942.6 144.2 949.2 111.0M862.0 305.4Q903.7 295.6 876.8 322.6M1054.1 146.3Q1010.3 179.9 1014.9 191.6T1036.9 227.9T1086.3 267.4M840.4 215.3Q873.7 212.4 839.9 219.0M897.8 338.9Q907.1 298.2 924.5 293.3T945.4 268.5T928.9 252.7T894.0 259.6T853.3 291.4M864.2 308.4Q908.0 295.5 928.4 291.5T955.5 268.8T980.0 263.1T1008.6 290.4T1034.7 337.3M1043.4 137.0Q1007.7 173.2 1028.7 127.0M855.3 173.0Q903.6 174.8 915.1 190.7T946.0 220.0T983.9 247.8T1020.5 270.4T1078.3 288.3M840.1 250.4Q876.5 252.7 890.9 247.0T924.9 235.1T928.9 215.9T905.3 187.5T863.3 160.8M1085.6 198.0Q1055.0 210.9 1038.5 209.8T1038.8 232.3T1083.6 275.8M985.4 111.6Q997.4 168.0 1012.8 119.3M1063.6 156.8Q1004.6 177.1 1003.4 187.5T983.1 209.9T944.7 210.4T913.1 186.2T853.5 176.2M1088.5 209.3Q1056.0 211.0 1039.4 208.0T1040.9 219.8T1090.5 222.7M864.2 308.4Q908.8 293.6 930.1 289.1T958.7 265.1T984.6 257.9T1020.4 277.2T1078.3 288.3M850.1 284.9Q883.6 259.0 901.4 256.2T941.8 248.8T983.2 256.9T1019.5 276.7T1074.7 295.1M841.3 257.5Q875.1 251.9 889.5 248.7T923.3 240.2T926.6 222.5T891.6 214.0T839.9 219.0M885.4 330.1Q913.0 297.2 933.6 291.8T961.4 266.4T987.5 234.0T1028.0 241.4T1083.6 275.8M843.8 268.0Q876.7 258.4 853.3 291.4M1073.7 171.2Q1006.4 178.3 1005.5 188.2T985.6 209.4T947.4 208.7T917.4 182.1T872.7 149.6M981.9 111.1Q999.7 174.8 1006.3 187.7T1031.5 227.5T1085.1 271.6M948.5 356.9Q960.4 311.8 952.8 303.0T925.8 295.3T864.2 308.4M897.8 338.9Q914.5 297.0 935.3 291.2T963.2 264.8T989.2 231.1T1030.7 228.3T1090.7 241.9M1063.8 311.0Q1042.5 285.6 1028.4 281.8T1020.1 291.1T1038.3 334.8" fill="none" stroke="#a2a2a2" stroke-width="0.55" stroke-opacity="0.5"/>
<path d="M1012.8 119.3Q995.2 173.7 995.6 186.9T977.5 214.1T937.2 235.6T898.3 247.2T850.1 284.9M992.4 113.0Q992.3 172.1 992.6 184.7T974.6 211.2T934.7 231.8T896.9 245.6T840.6 253.9M882.5 327.7Q913.1 296.7 933.7 290.9T961.4 264.9T987.8 232.0T1028.4 239.4T1088.4 258.9M886.2 137.2Q907.1 170.7 918.3 187.1T948.3 217.7T985.0 247.1T1019.9 272.0T1066.2 307.9M840.4 215.3Q879.0 215.9 900.0 215.6T939.5 228.9T956.6 263.8T964.0 296.7T1013.5 348.5M851.7 288.2Q884.7 263.4 901.9 258.8T941.7 249.6T982.9 257.8T1019.4 277.3T1070.6 301.6M1028.7 127.0Q1000.6 176.9 1002.4 191.1T987.1 220.4T964.6 258.2T965.0 293.9T955.8 357.7M1089.4 253.4Q1058.0 241.1 1038.1 229.3T1001.7 229.9T1000.2 255.8T1028.3 278.3T1066.2 307.9M891.5 334.7Q908.1 296.4 924.4 289.1T944.3 260.5T931.1 225.3T895.1 212.7T847.2 190.1M891.5 334.7Q907.6 299.0 866.6 311.4M1009.5 118.0Q1001.6 174.2 1005.2 187.5T993.7 215.3T994.7 245.0T1026.2 270.0T1070.6 301.6M926.9 352.2Q960.5 309.2 952.5 297.7T947.4 265.2T929.6 247.2T893.4 251.7T839.1 228.8M875.3 147.0Q899.8 167.3 875.3 147.0M934.0 354.2Q960.5 311.6 952.4 303.0T925.6 296.1T869.0 314.3M1006.6 351.1Q975.2 312.3 970.7 302.3T971.0 272.9T991.5 265.7T1014.4 292.9T1041.8 332.3M1012.8 119.3Q1003.0 171.4 1009.0 182.3T1032.4 195.8T1078.3 179.8M1046.2 139.2Q1007.6 178.1 1010.2 191.0T997.0 218.2T996.7 247.6T1027.0 272.1T1063.8 311.0M1002.7 115.7Q998.6 168.4 999.3 114.7M842.0 261.0Q875.9 254.2 839.1 228.8M839.3 243.2Q882.9 252.5 900.8 248.6T941.9 239.8T984.9 223.1T1028.1 223.3T1091.0 234.2M844.7 197.1Q875.5 206.0 892.2 202.7T903.5 185.1T855.3 173.0M850.1 183.2Q881.8 211.1 903.7 209.8T945.0 221.8T983.0 249.6T1019.2 272.7T1072.7 298.4M888.4 332.4Q904.6 293.6 922.4 287.8T943.8 260.8T930.6 225.8T894.5 214.0T844.7 197.1M871.5 317.1Q904.7 294.4 921.3 287.8T941.7 260.5T928.9 226.6T893.5 214.3T840.4 215.3M907.8 344.5Q914.4 298.6 935.3 294.0T962.9 269.6T987.3 261.7T1022.4 279.0T1072.7 298.4" fill="none" stroke="#a2a2a2" stroke-width="0.55" stroke-opacity="0.5"/>
<path d="M1046.2 139.2Q1000.4 176.2 999.9 188.5T980.3 214.2T938.8 234.2T898.9 245.6T841.3 257.5M847.2 190.1Q875.1 207.6 892.1 203.1T902.9 185.3T855.3 173.0M859.1 166.8Q902.1 175.9 912.7 192.6T941.8 223.7T958.3 260.0T964.3 294.3T1016.8 347.0M842.0 261.0Q876.7 250.7 891.7 246.0T926.6 234.6T931.2 214.4T908.6 184.7T883.4 139.5M1086.6 201.7Q1055.4 211.6 1037.0 210.8T1002.5 222.8T1001.5 249.5T1030.7 272.0T1079.9 284.8M839.5 222.8Q874.8 211.3 892.5 205.3T903.8 185.4T875.3 147.0M859.8 302.3Q909.0 290.5 930.1 284.4T958.8 257.7T985.8 223.7T1026.2 208.9T1085.6 198.0M941.5 112.2Q942.5 144.1 937.7 113.0M978.3 110.7Q998.3 174.6 1001.3 187.8T989.5 215.6T991.1 246.1T1023.7 271.0T1058.8 316.8M981.5 356.9Q968.7 310.8 960.0 299.7T953.3 267.9T933.9 250.5T896.2 256.0T841.3 257.5M1051.5 143.8Q1005.9 179.5 1007.9 193.2T993.3 221.7T971.7 258.7T973.0 293.8T1006.6 351.1M1090.1 218.9Q1058.0 233.0 1038.0 223.4T1001.4 226.8T999.8 253.9T1029.0 275.6T1061.3 313.9M1016.1 120.6Q1002.3 174.7 1005.8 188.1T994.0 216.0T994.7 245.9T1026.3 270.4T1066.2 307.9M999.6 353.2Q979.3 311.2 973.4 300.7T972.8 270.0T994.6 261.6T1026.1 280.0T1076.5 291.7M914.6 120.4Q913.7 166.0 923.4 183.6T951.4 215.7T987.3 245.5T1021.6 270.6T1068.4 304.8M891.5 334.7Q912.6 295.2 934.0 289.7T962.6 263.5T988.8 229.5T1030.4 226.9T1090.9 230.4M985.4 111.6Q996.7 174.8 999.7 188.8T987.1 218.0T967.8 255.9T970.6 291.8T1016.8 347.0M845.9 193.6Q877.9 204.5 896.1 199.4T908.9 180.2T914.6 120.4M920.0 349.8Q957.8 310.7 950.3 302.1T923.8 294.8T864.2 308.4M1009.5 118.0Q1001.1 173.7 1005.0 187.2T993.8 215.0T994.9 244.7T1026.9 269.0T1072.7 298.4M845.9 193.6Q876.4 203.7 893.1 200.8T902.8 185.0T863.3 160.8M1059.0 151.4Q1007.3 181.1 1008.8 194.6T993.3 222.7T971.1 259.6T971.4 294.6T996.0 354.2M1040.6 134.8Q1002.6 178.0 1004.7 192.1T989.7 221.2T967.5 258.7T967.0 294.3T974.2 357.7M844.7 197.1Q874.6 211.2 892.4 204.4T903.7 184.2T870.2 152.3M981.5 356.9Q972.9 313.1 968.2 303.0T968.6 273.3T989.9 265.9T1014.2 292.5T1045.2 329.6" fill="none" stroke="#a2a2a2" stroke-width="0.55" stroke-opacity="0.5"/>
<path d="M863.3 160.8Q903.3 165.2 914.6 120.4M920.0 349.8Q959.7 311.0 952.2 300.5T948.0 270.1T930.9 254.2T895.7 262.0T856.9 297.7M999.3 114.7Q1002.7 175.5 1008.6 188.0T1032.9 226.9T1086.3 267.4M1065.7 159.5Q1006.9 182.5 1007.3 195.8T989.9 223.7T965.9 260.4T963.4 295.2T941.2 355.8M839.9 219.0Q877.9 220.6 899.4 218.2T939.5 229.3T956.5 264.1T963.6 296.8T1013.5 348.5M891.5 334.7Q909.2 294.9 926.1 286.9T947.0 256.7T934.9 219.9T911.1 187.7T883.4 139.5M1087.5 263.2Q1054.7 261.2 1036.5 239.7T1002.0 230.3T1000.8 255.6T1028.6 278.1T1072.7 298.4M995.9 113.8Q998.0 173.7 1002.0 187.7T990.8 216.5T991.7 247.1T1015.8 280.7T1051.8 323.9M1026.7 342.1Q975.3 309.2 966.2 298.6T958.5 267.9T937.9 251.6T899.3 259.3T847.3 278.3M1056.6 148.8Q1007.3 180.8 1008.7 194.2T993.3 222.4T971.3 259.3T970.9 294.4T999.6 353.2M879.6 325.2Q912.0 297.6 932.3 292.6T959.6 268.1T984.7 260.9T1019.9 280.0T1068.4 304.8M1016.8 347.0Q977.7 311.3 973.1 301.1T973.3 271.3T994.0 263.8T1025.1 282.1T1058.8 316.8M920.0 349.8Q962.3 312.3 916.5 348.5M992.4 355.0Q975.3 312.3 970.5 302.0T970.9 271.9T992.4 264.1T1024.6 281.8T1061.3 313.9M839.3 243.2Q875.3 251.5 889.6 247.5T923.2 238.1T926.5 220.7T892.7 208.7T841.1 211.7M1031.8 128.9Q998.5 173.6 998.0 185.4T978.7 210.2T940.9 212.9T900.7 206.3T839.9 219.0M1061.3 154.0Q1005.3 172.3 1019.3 122.1M1016.8 347.0Q972.5 310.4 962.1 302.0T929.9 294.3T866.6 311.4M1012.8 119.3Q1000.3 175.4 1003.4 189.5T990.5 218.6T970.6 256.1T973.2 291.7T1023.5 343.8M971.2 110.2Q990.9 174.2 993.3 188.6T978.9 218.2T957.3 256.3T956.7 292.5T926.9 352.2M981.5 356.9Q968.2 312.0 960.1 301.4T954.3 270.6T935.4 254.4T897.9 260.6T855.0 294.6M901.1 340.9Q917.1 298.9 936.8 292.1T963.6 264.4T989.5 230.4T1030.8 229.3T1091.0 234.2M1013.5 348.5Q970.7 309.0 962.8 297.7T956.5 265.4T936.1 247.6T897.1 252.1T839.0 236.0M888.4 332.4Q913.6 298.8 933.7 293.5T960.7 268.6T985.6 261.1T1020.7 279.7T1070.6 301.6M920.0 349.8Q957.8 310.7 951.1 300.0T947.5 269.2T930.2 252.9T894.6 259.5T850.1 284.9" fill="none" stroke="#a2a2a2" stroke-width="0.55" stroke-opacity="0.5"/>
<path d="M1012.8 119.3Q999.8 176.0 1002.1 190.1T988.1 219.4T967.3 257.3T968.2 293.3T992.4 355.0M1086.6 201.7Q1054.5 206.1 1038.6 205.2T1040.8 217.7T1090.5 222.7M871.5 317.1Q903.3 293.9 920.6 288.2T941.6 262.1T925.4 245.3T891.1 251.9T839.0 236.0M1080.0 183.4Q1053.1 205.6 1037.3 206.5T1037.2 235.0T1083.6 275.8M891.5 334.7Q912.7 294.5 933.9 288.7T962.3 261.6T988.4 226.9T1028.0 211.4T1087.6 205.5M866.6 311.4Q903.1 294.4 920.4 289.3T941.6 264.4T925.8 248.9T891.3 254.8T846.0 274.9M1083.6 275.8Q1049.4 264.9 1028.9 243.8T989.9 235.3T964.6 268.3T960.8 299.4T916.5 348.5M1019.3 122.1Q1004.3 172.9 1010.3 184.1T1033.8 198.5T1086.6 201.7M1078.3 179.8Q1051.5 206.7 1033.0 208.7T997.6 224.8T975.8 260.5T975.4 294.3T1026.7 342.1M882.5 327.7Q913.2 299.7 932.6 294.4T958.7 269.8T983.2 263.1T1011.7 289.5T1051.8 323.9M842.9 264.5Q876.8 251.9 891.7 246.9T926.5 235.1T931.0 214.9T906.4 186.9T880.6 141.9M985.4 111.6Q996.6 172.4 1001.3 186.3T991.1 214.6T992.9 244.6T1026.0 268.4T1070.6 301.6M1087.5 263.2Q1055.8 258.0 1037.3 237.6T1002.5 229.2T1001.5 254.2T1030.4 275.2T1079.9 284.8M844.7 197.1Q875.2 207.7 892.4 203.0T902.3 185.7T863.3 160.8M882.5 327.7Q912.3 298.7 932.2 293.8T958.9 269.6T983.5 262.8T1011.4 289.7T1054.9 320.9M1071.8 168.2Q1008.3 184.3 1007.8 197.0T988.9 224.1T964.1 260.4T961.4 294.7T920.0 349.8M1075.4 174.3Q1013.2 183.2 1017.4 194.2T1038.0 230.8T1088.4 258.9M992.4 355.0Q969.2 313.2 926.9 352.2M1054.1 146.3Q1008.3 177.9 1011.5 190.7T998.9 217.2T998.8 245.8T1029.0 269.9T1078.3 288.3M1088.5 209.3Q1054.4 210.4 1036.3 211.2T1001.8 225.1T1000.4 252.2T1029.7 274.2T1068.4 304.8M1063.6 156.8Q1004.7 179.0 1003.0 190.1T982.0 213.9T939.8 232.5T899.5 242.8T839.1 228.8M934.0 354.2Q960.1 311.4 953.1 300.7T949.1 269.9T931.4 253.5T895.4 260.1T851.7 288.2M840.6 253.9Q881.7 251.2 900.0 250.2T941.2 244.7T983.0 253.5T1020.1 273.5T1079.9 284.8M844.9 271.5Q875.7 255.4 840.1 250.4M1031.8 128.9Q1000.9 177.5 1001.6 191.3T984.7 220.0T961.1 257.5T959.3 293.0T920.0 349.8" fill="none" stroke="#a2a2a2" stroke-width="0.55" stroke-opacity="0.5"/>
<path d="M971.2 110.2Q992.7 173.8 996.6 188.4T984.8 218.1T965.7 256.2T970.1 292.2T1006.6 351.1M907.8 344.5Q909.3 298.7 925.8 292.6T945.4 265.8T928.2 248.5T892.8 254.7T839.7 246.8M985.4 111.6Q990.6 170.5 991.3 182.8T973.8 208.4T937.4 211.6T898.6 205.6T839.9 219.0M1019.3 122.1Q997.6 175.7 998.2 189.3T980.6 217.6T956.2 254.6T930.7 284.9T882.5 327.7M885.4 330.1Q903.2 292.9 921.4 287.8T943.2 261.6T930.0 227.2T893.9 215.7T841.1 211.7M926.4 116.0Q941.7 144.4 945.3 111.5M978.3 110.7Q998.8 168.9 1022.5 123.7M995.9 113.8Q1000.9 172.9 1007.8 185.2T1034.7 212.4T1091.0 234.2M1087.6 205.5Q1054.1 205.3 1038.5 205.2T1040.8 219.9T1090.8 226.5M839.0 236.0Q875.1 252.1 843.8 268.0M847.3 278.3Q876.6 257.1 890.7 252.2T924.1 241.5T927.2 222.9T892.7 211.4T841.8 208.0M1072.7 298.4Q1045.2 282.3 1066.2 307.9M1016.1 120.6Q1002.0 176.8 1003.9 190.5T989.5 219.2T969.0 257.0T969.8 292.8T1006.6 351.1M845.9 193.6Q880.8 213.8 902.8 211.9T944.2 223.4T982.2 251.0T1018.3 274.2T1068.4 304.8M930.4 353.2Q963.5 312.1 961.0 301.7T964.6 271.5T988.1 263.7T1021.5 282.3T1063.8 311.0M1006.6 351.1Q971.6 311.0 963.3 300.5T956.8 269.8T937.1 253.6T899.0 260.5T853.3 291.4M1082.1 279.8Q1053.8 263.3 1035.3 242.3T1000.4 233.4T998.9 258.8T1028.1 279.0T1058.8 316.8M1083.0 190.6Q1055.2 209.7 1038.7 207.9T1040.4 220.6T1089.4 253.4M842.0 261.0Q875.1 249.9 889.9 247.0T924.0 238.1T927.5 219.4T893.1 208.7T848.6 186.6M1090.0 249.6Q1058.8 238.5 1040.8 225.4T1039.1 235.7T1087.5 263.2M1028.7 127.0Q997.3 172.5 997.3 184.4T978.5 209.2T940.8 211.6T900.8 204.8T841.8 208.0M1090.0 249.6Q1058.7 236.1 1040.7 224.4T1039.0 236.2T1086.3 267.4M971.2 110.2Q988.3 172.0 989.6 185.4T973.1 213.2T934.1 234.9T896.8 248.1T850.1 284.9M1051.5 143.8Q1003.3 179.3 1002.5 192.0T982.9 218.9T957.2 254.9T930.4 284.1T869.0 314.3M839.1 239.6Q875.7 247.9 890.6 243.7T925.2 233.5T929.3 214.4T905.3 186.7T867.8 155.0" fill="none" stroke="#a2a2a2" stroke-width="0.55" stroke-opacity="0.5"/>
<path d="M937.6 355.0Q962.5 311.6 954.6 301.1T949.7 270.4T932.1 254.3T896.0 260.7T855.0 294.6M876.8 322.6Q906.2 296.2 922.4 289.5T942.1 262.1T925.8 244.9T891.2 250.8T839.1 228.8M882.5 327.7Q906.2 297.5 922.9 291.8T943.2 266.1T927.0 250.1T892.4 257.4T846.0 274.9M1022.5 123.7Q996.5 174.4 996.9 187.6T978.6 214.8T938.1 236.2T899.3 249.2T851.7 288.2M850.1 284.9Q877.3 258.5 891.3 253.0T924.6 241.4T927.7 222.3T893.1 210.5T844.7 197.1M995.9 113.8Q997.8 174.4 1001.3 188.6T989.2 217.7T970.0 255.3T972.4 291.0T1029.9 340.3M862.0 305.4Q910.5 293.4 931.1 287.7T959.4 261.9T986.5 229.4T1029.0 228.6T1090.0 249.6M967.6 110.0Q994.4 171.9 999.3 185.5T989.8 213.4T992.4 243.0T1025.6 267.5T1078.3 288.3M864.2 308.4Q901.6 293.4 888.4 332.4M1019.3 122.1Q1004.0 174.8 1007.2 187.7T995.3 214.7T996.2 243.9T1027.5 268.7T1078.3 288.3M1089.2 213.1Q1054.7 207.7 1038.9 207.1T1041.0 221.5T1091.0 234.2M1090.5 222.7Q1058.8 234.6 1040.7 222.4T1039.3 233.3T1086.3 267.4M866.6 311.4Q903.0 294.6 920.6 289.9T942.1 265.6T926.6 250.7T892.7 258.8T853.3 291.4M839.0 236.0Q882.3 253.2 900.1 250.4T940.7 243.6T982.3 253.2T1019.4 274.0T1074.7 295.1M1065.7 159.5Q1012.4 180.7 1016.6 191.5T1039.4 218.2T1090.7 241.9M907.9 123.5Q908.3 170.6 920.4 186.0T950.9 215.8T987.1 245.4T1021.3 270.8T1070.6 301.6M839.0 236.0Q882.4 254.0 900.0 251.0T940.4 244.1T981.9 253.9T1019.1 274.6T1070.6 301.6M1006.1 116.8Q995.7 174.1 995.3 186.7T976.6 213.4T936.4 234.7T897.9 247.2T847.3 278.3M871.5 317.1Q911.4 296.5 931.7 291.3T959.2 266.5T984.8 259.3T1021.2 277.1T1074.7 295.1M1010.0 349.8Q981.8 310.5 975.3 300.0T974.1 269.4T995.5 261.0T1027.3 278.6T1078.3 288.3M841.3 257.5Q875.0 251.7 889.5 248.7T923.3 240.5T926.5 222.9T892.0 212.7T839.5 222.8M1068.4 304.8Q1042.2 286.3 1028.6 281.7T1020.6 290.6T1041.8 332.3M844.7 197.1Q878.6 215.8 899.7 214.6T939.2 227.3T955.8 262.8T962.6 296.4T1003.1 352.2M1066.2 307.9Q1042.8 286.1 1070.6 301.6M1002.7 115.7Q1002.8 173.2 1009.0 184.9T1035.1 211.8T1090.5 222.7" fill="none" stroke="#a2a2a2" stroke-width="0.55" stroke-opacity="0.5"/>
<path d="M923.4 351.1Q969.2 312.4 1020.2 345.5M1086.6 201.7Q1053.2 202.9 1038.0 203.8T1040.8 219.5T1090.8 226.5M904.6 125.2Q902.0 166.6 853.5 176.2M1086.3 267.4Q1055.2 258.8 1036.3 239.2T1000.8 232.1T999.2 257.8T1028.2 278.7T1058.8 316.8M985.4 111.6Q991.6 173.6 993.2 187.7T977.2 216.7T954.0 254.1T928.9 284.1T885.4 330.1M1085.1 271.6Q1054.3 262.8 1082.1 279.8M856.9 297.7Q877.8 259.1 891.9 254.5T925.0 243.8T927.9 224.7T892.9 213.0T841.1 211.7M1082.1 279.8Q1052.5 263.8 1033.2 243.5T996.7 235.9T974.3 268.8T971.8 299.8T1010.0 349.8M963.0 110.0Q955.7 145.0 952.4 162.5T951.3 200.9T935.7 211.8T897.2 207.1T839.5 222.8M891.5 334.7Q906.4 297.2 923.4 291.6T943.9 265.8T927.2 249.2T892.5 256.5T842.0 261.0M867.8 155.0Q904.5 172.9 914.0 190.6T941.6 222.9T957.5 259.7T962.5 294.5T1003.1 352.2M1048.9 141.5Q999.5 173.9 999.7 185.6T980.8 209.9T942.6 211.5T901.7 205.4T844.7 197.1M844.9 271.5Q877.9 261.9 856.9 297.7M1006.1 116.8Q1003.2 175.4 1005.7 188.2T993.1 215.4T994.2 245.3T1025.9 270.2T1068.4 304.8M1037.7 132.7Q1004.7 178.7 1006.1 192.3T990.8 220.8T969.2 258.3T969.2 293.9T992.4 355.0M978.3 110.7Q995.1 174.7 998.1 188.9T985.3 218.3T965.8 256.4T968.7 292.5T1003.1 352.2M845.9 193.6Q879.0 213.7 899.8 213.3T938.8 227.1T955.2 262.8T962.6 296.4T996.0 354.2M855.0 294.6Q878.3 257.7 892.7 252.1T926.5 239.7T930.1 219.2T905.8 189.6T863.3 160.8M937.6 355.0Q961.8 311.6 954.2 301.0T949.6 270.2T931.9 253.9T895.6 259.7T853.3 291.4M907.9 123.5Q910.9 168.0 921.8 184.5T951.2 215.3T987.5 244.8T1022.8 268.5T1074.7 295.1M985.4 111.6Q999.9 175.2 1006.4 188.3T1031.3 228.6T1082.1 279.8M862.0 305.4Q908.2 290.5 930.0 285.4T959.4 259.8T986.5 226.5T1029.0 225.2T1090.5 222.7M1019.3 122.1Q999.3 176.6 1000.2 190.5T983.6 219.4T960.5 257.1T959.9 292.8T923.4 351.1M839.0 232.4Q882.3 253.6 899.9 250.7T940.2 244.0T981.7 253.9T1018.6 275.1T1068.4 304.8M1069.9 165.3Q1003.8 178.1 1003.2 189.2T983.1 212.4T944.2 213.3T903.1 204.9T844.7 197.1" fill="none" stroke="#a2a2a2" stroke-width="0.55" stroke-opacity="0.5"/>
<path d="M1059.0 151.4Q1008.0 177.3 1014.2 189.1T1038.9 216.9T1091.0 234.2M1067.9 162.4Q1003.1 172.9 971.2 110.2M840.4 215.3Q874.8 210.4 892.3 204.8T902.0 186.8T870.2 152.3M1071.8 168.2Q1011.6 182.8 1013.6 195.3T999.3 221.7T998.1 250.4T1027.5 274.2T1058.8 316.8M1029.9 340.3Q973.8 310.1 963.8 302.0T932.5 295.6T876.8 322.6M1081.6 186.9Q1049.2 207.9 1029.3 210.1T991.2 226.5T966.7 262.4T963.7 296.3T937.6 355.0M1085.1 271.6Q1054.3 262.7 1036.1 241.0T1001.6 231.4T1000.4 256.5T1029.5 277.1T1070.6 301.6M841.1 211.7Q881.2 212.8 903.1 212.0T944.5 224.0T982.9 250.7T1019.6 272.5T1078.3 288.3M981.9 111.1Q990.5 171.0 991.1 183.3T973.4 209.1T933.7 229.1T896.0 241.6T839.1 228.8M1009.5 118.0Q1000.9 170.5 1007.9 181.9T1032.5 196.5T1080.0 183.4M953.6 110.5Q955.1 144.6 951.6 161.9T950.5 199.9T935.2 210.3T897.6 203.4T841.8 208.0M839.0 236.0Q877.0 248.7 892.0 243.2T927.2 231.3T932.2 211.6T909.6 182.7T895.1 130.8M839.1 228.8Q876.4 251.7 890.3 245.9T923.7 234.7T927.3 216.9T893.0 207.1T848.6 186.6M853.3 291.4Q883.9 261.3 901.3 258.3T941.2 250.9T982.0 259.3T1018.8 278.2T1061.3 313.9M879.6 325.2Q912.8 294.9 933.3 288.4T961.1 260.9T987.6 226.6T1028.3 213.7T1088.5 209.3M904.6 125.2Q908.0 168.8 916.2 186.9T941.1 220.1T954.2 257.9T957.6 293.7T944.8 356.4M901.1 340.9Q911.9 297.7 933.1 294.1T960.9 270.9T984.9 263.8T1012.4 290.2T1054.9 320.9M937.7 113.0Q943.0 144.1 948.0 156.8T956.0 155.6T958.3 110.2M1019.3 122.1Q1000.1 177.2 1000.5 190.7T983.4 219.3T960.2 257.0T958.4 292.7T920.0 349.8M1040.6 134.8Q1005.4 177.0 1011.7 190.1T1035.4 229.1T1083.6 275.8M1089.2 213.1Q1054.2 205.2 1084.3 194.2M1090.7 241.9Q1058.2 239.2 1038.2 227.8T1001.7 229.0T1000.1 255.3T1028.4 277.7T1063.8 311.0M1087.6 205.5Q1054.7 210.0 1038.4 209.7T1038.8 233.1T1083.6 275.8M988.8 355.8Q965.9 310.2 959.0 298.7T953.9 266.1T934.2 248.2T896.3 253.4T839.0 236.0M911.2 121.9Q908.0 168.3 915.9 186.2T940.0 219.2T952.1 256.9T954.5 292.6T920.0 349.8" fill="none" stroke="#a2a2a2" stroke-width="0.55" stroke-opacity="0.5"/>
<path d="M848.6 186.6Q876.3 204.2 893.0 200.9T904.2 183.6T861.2 163.7M1083.6 275.8Q1053.9 263.1 1035.5 241.9T1000.6 233.0T999.0 258.5T1028.5 278.4T1058.8 316.8M848.7 281.6Q875.8 252.2 890.5 249.7T924.4 241.1T927.6 222.0T893.1 210.0T844.7 197.1M1002.7 115.7Q1002.5 175.1 1005.2 188.0T992.8 215.3T994.0 245.2T1025.4 270.7T1068.4 304.8M971.2 110.2Q991.6 174.4 991.7 187.4T974.2 214.9T950.7 251.7T926.0 281.7T864.2 308.4M885.4 330.1Q912.8 294.5 933.5 287.9T961.3 260.0T987.5 225.0T1027.8 211.5T1083.0 190.6M1009.5 118.0Q999.2 174.8 1002.7 189.0T990.4 218.3T970.6 255.8T973.4 291.4T1026.7 342.1M1028.7 127.0Q1000.8 177.4 1001.7 191.2T984.9 220.0T961.6 257.6T960.5 293.2T926.9 352.2M1069.9 165.3Q1007.8 182.4 1009.8 196.0T994.7 224.1T972.3 260.6T970.5 295.1T999.6 353.2M1079.9 284.8Q1043.7 283.8 1030.0 279.4T1021.3 289.3T1045.2 329.6M839.9 219.0Q880.4 215.7 902.4 214.3T943.8 225.8T982.0 252.6T1019.0 274.0T1070.6 301.6M851.7 288.2Q885.3 261.5 902.8 255.9T943.2 244.8T985.8 226.9T1028.6 225.7T1090.9 238.1M848.6 186.6Q876.1 205.8 893.3 201.2T903.5 183.9T870.2 152.3M859.8 302.3Q906.7 290.9 928.9 287.1T958.6 263.8T985.5 232.3T1026.2 242.2T1082.1 279.8M1028.7 127.0Q1007.0 176.4 1009.3 188.7T996.4 214.9T997.1 243.9T1028.2 268.3T1079.9 284.8M995.9 113.8Q1003.3 171.4 1056.6 148.8M859.8 302.3Q911.1 296.2 930.5 290.7T957.2 266.1T982.8 259.8T1018.9 279.1T1063.8 311.0M885.4 330.1Q910.7 298.1 931.1 294.0T958.0 270.9T982.0 264.4T1008.8 292.1T1038.3 334.8M885.4 330.1Q915.0 298.5 934.8 292.1T961.7 265.5T988.0 232.6T1027.8 241.9T1087.5 263.2M1084.3 194.2Q1053.2 205.1 1035.7 207.2T1002.1 222.3T1001.1 249.3T1030.7 271.5T1078.3 288.3M1063.6 156.8Q1004.6 181.1 1005.4 194.8T988.0 222.9T963.5 259.6T960.0 294.3T920.0 349.8M879.6 325.2Q910.1 291.8 931.6 286.0T960.4 258.7T986.6 223.5T1026.8 209.3T1078.3 179.8M1006.1 116.8Q993.7 170.7 994.2 182.8T976.2 207.8T939.2 210.4T899.8 204.0T842.7 204.3M1089.2 213.1Q1054.8 211.1 1036.7 211.5T1002.3 224.8T1001.1 251.5T1030.5 273.1T1074.7 295.1M846.0 274.9Q883.3 258.6 901.0 255.4T941.4 247.7T982.9 256.1T1019.5 276.1T1074.7 295.1" fill="none" stroke="#a2a2a2" stroke-width="0.55" stroke-opacity="0.5"/>
<path d="M874.1 319.9Q911.1 296.0 931.8 291.0T959.8 266.3T985.3 258.8T1021.4 277.0T1078.3 288.3M869.0 314.3Q904.5 295.2 921.1 289.1T941.4 262.9T925.4 246.6T891.0 253.2T840.1 250.4M988.8 355.8Q974.8 311.8 970.5 301.1T971.7 270.3T993.8 261.8T1026.5 278.8T1076.5 291.7M1090.7 241.9Q1059.0 233.8 1091.0 234.2M1090.1 218.9Q1055.2 235.2 1033.7 225.8T994.3 230.1T970.4 265.1T968.6 298.1T966.8 358.0M1061.3 154.0Q1007.1 181.1 1008.9 194.7T993.8 222.9T971.7 259.7T971.7 294.6T999.6 353.2M1072.7 298.4Q1044.1 283.8 1030.2 279.8T1020.8 290.2T1051.8 323.9M874.1 319.9Q905.1 296.5 921.9 290.9T942.5 265.5T926.5 249.9T892.3 257.8T847.3 278.3M1081.6 186.9Q1053.4 207.7 1035.2 208.7T1000.7 223.2T999.4 251.2T1029.0 273.7T1063.8 311.0M1073.7 171.2Q1007.3 183.7 1008.1 197.1T991.0 225.0T966.9 261.3T964.8 295.8T944.8 356.4M845.9 193.6Q877.5 204.5 895.5 199.6T908.1 180.5T904.6 125.2M930.4 353.2Q965.1 312.2 961.6 301.9T964.2 271.9T987.5 264.3T1020.3 283.7T1058.8 316.8M981.5 356.9Q975.8 312.8 1020.2 345.5M916.5 348.5Q954.8 310.6 949.4 299.9T947.1 269.0T930.0 252.8T894.2 258.4T850.1 284.9M974.8 110.4Q994.3 175.6 995.9 189.4T981.1 218.6T960.2 256.9T961.6 293.1T952.1 357.4M1029.9 340.3Q979.5 310.1 974.9 299.9T975.1 270.1T995.5 262.7T1026.9 280.3T1063.8 311.0M1009.5 118.0Q1000.6 173.6 1004.7 187.2T993.7 215.3T994.7 245.0T1026.8 269.1T1070.6 301.6M1040.6 134.8Q999.8 174.0 999.3 185.5T979.8 209.7T941.8 211.8T901.5 204.4T842.7 204.3M882.5 327.7Q912.5 298.4 932.6 293.3T959.6 268.8T984.5 261.7T1020.4 279.5T1063.8 311.0M1078.3 179.8Q1054.7 207.7 1038.4 205.4T1040.2 218.7T1090.9 230.4M1069.9 165.3Q1009.9 181.0 1012.9 193.9T999.8 220.5T999.0 248.9T1028.6 272.7T1068.4 304.8M1046.2 139.2Q1004.0 179.5 1002.3 191.5T981.9 217.8T956.1 253.6T928.1 281.7T862.0 305.4M851.7 288.2Q878.6 257.1 893.1 250.9T927.4 237.6T931.6 216.7T907.5 187.3T880.6 141.9M901.1 340.9Q916.9 299.0 936.7 292.3T963.6 265.0T989.5 231.2T1030.8 228.6T1090.7 241.9M1040.6 134.8Q1005.9 176.6 1009.1 189.8T996.8 217.3T996.8 246.6T1027.5 271.0T1068.4 304.8" fill="none" stroke="#a2a2a2" stroke-width="0.55" stroke-opacity="0.5"/>
<path d="M1067.9 162.4Q1010.8 180.8 1013.4 193.3T1000.1 219.4T999.5 247.7T1029.4 271.1T1074.7 295.1M945.3 111.5Q941.2 144.5 926.4 116.0M898.2 128.8Q908.2 170.0 919.8 186.0T949.9 216.3T986.4 245.8T1022.4 268.7T1070.6 301.6M914.6 120.4Q911.4 167.5 919.9 185.9T945.5 219.5T959.6 257.5T963.0 293.4T988.8 355.8M841.3 257.5Q875.4 250.1 890.1 246.6T924.3 237.0T928.0 218.0T904.2 189.7T853.5 176.2M850.1 183.2Q875.2 207.2 841.1 211.7M891.5 334.7Q914.8 299.6 934.5 294.0T961.2 268.6T986.1 260.9T1021.6 278.8T1072.7 298.4M967.6 110.0Q991.9 175.0 993.7 189.0T979.0 218.4T957.8 256.5T959.3 292.7T934.0 354.2M853.3 291.4Q876.7 257.9 839.7 246.8M845.9 193.6Q875.0 208.5 892.2 203.3T904.0 184.1T861.2 163.7M888.4 332.4Q909.0 299.4 924.5 292.5T943.5 265.3T926.9 248.7T892.4 256.5T841.3 257.5M1046.2 139.2Q1001.1 177.2 1000.5 189.8T981.0 216.2T939.7 237.1T899.9 248.5T850.1 284.9M839.9 219.0Q875.2 210.8 893.1 204.6T905.4 183.7T883.4 139.5M1090.9 238.1Q1058.5 234.8 1038.7 224.8T1002.5 227.4T1001.2 253.3T1030.8 273.9T1074.7 295.1M859.8 302.3Q910.4 293.6 930.9 288.0T959.0 262.6T986.0 230.6T1027.0 239.8T1087.5 263.2M978.3 110.7Q996.0 173.1 1000.2 186.9T989.7 215.4T991.4 245.8T1023.8 271.1T1061.3 313.9M1075.4 174.3Q1004.2 177.3 1004.5 187.9T985.7 209.8T947.6 209.0T917.5 182.2T872.7 149.6M1025.6 125.3Q1003.3 175.7 1006.6 189.3T994.2 217.5T994.3 247.6T1018.3 280.2T1054.9 320.9M963.0 110.0Q961.3 146.2 955.4 164.4T951.7 204.3T932.8 233.1T895.6 245.9T843.8 268.0M866.6 311.4Q910.3 296.6 930.3 291.8T957.2 267.8T982.3 261.6T1010.9 288.8T1054.9 320.9M1051.5 143.8Q1005.0 180.3 1005.4 193.7T988.1 222.0T964.4 259.1T963.8 294.3T937.6 355.0M981.5 356.9Q971.0 313.1 967.3 302.9T968.8 273.1T990.3 265.6T1014.0 292.5T1048.5 326.8M1059.0 151.4Q1001.0 170.4 988.9 112.2M974.8 110.4Q1000.5 176.3 1006.2 188.8T1030.9 227.7T1082.1 279.8M1056.6 148.8Q1010.8 176.6 1014.9 186.2T1035.4 197.9T1078.3 179.8" fill="none" stroke="#a2a2a2" stroke-width="0.55" stroke-opacity="0.5"/>
<path d="M841.3 257.5Q877.3 250.5 892.6 245.2T928.2 233.1T933.4 212.6T911.8 182.2T904.6 125.2M920.0 349.8Q957.3 310.0 950.6 298.9T946.9 267.4T929.4 250.4T893.5 256.2T842.0 261.0M839.1 239.6Q882.1 256.8 899.2 253.3T938.7 246.4T979.6 256.8T1007.7 287.2T1048.5 326.8M1046.2 139.2Q1008.9 178.2 1011.2 190.6T997.8 217.0T997.9 245.9T1029.1 269.1T1074.7 295.1M1059.0 151.4Q1010.6 177.7 1015.4 188.1T1036.5 200.7T1088.5 209.3M1083.6 275.8Q1055.1 260.0 1036.5 239.7T1001.7 231.3T1000.7 256.2T1030.4 275.7T1074.7 295.1M904.4 342.7Q908.9 294.5 926.5 287.3T947.9 257.9T935.3 221.1T909.8 189.8T877.9 144.4M876.8 322.6Q911.0 295.6 932.1 290.7T960.4 265.9T986.7 233.8T1027.4 241.7T1082.1 279.8M1075.4 174.3Q1006.3 177.3 1006.4 187.2T987.9 208.1T950.6 206.6T920.0 180.4T901.4 127.0M879.6 325.2Q908.9 298.2 923.9 290.4T942.5 261.9T929.4 228.0T893.9 215.0T839.5 222.8M999.6 353.2Q971.0 312.2 961.5 304.1T931.7 297.5T888.4 332.4M898.2 128.8Q907.9 169.4 916.8 187.4T942.9 220.5T957.2 258.3T961.9 294.0T977.9 357.4M1067.9 162.4Q1006.3 182.4 1007.1 195.9T989.8 223.9T965.7 260.5T962.6 295.2T937.6 355.0M886.2 137.2Q904.2 163.5 870.2 152.3M1082.1 279.8Q1051.4 264.9 1031.8 244.3T994.6 236.4T971.4 269.5T969.6 300.8T981.5 356.9M874.1 319.9Q907.1 294.5 923.2 286.6T943.4 257.2T931.0 221.7T905.9 191.7T859.1 166.8M844.7 197.1Q875.2 207.1 892.1 203.1T903.0 185.4T857.2 169.8M1043.4 137.0Q1007.9 175.9 1013.4 187.2T1037.8 214.0T1090.5 222.7M1086.3 267.4Q1052.1 261.8 1032.0 242.0T994.2 235.2T970.5 268.7T969.6 300.2T970.5 357.9M1019.3 122.1Q998.7 168.9 978.3 110.7M1040.6 134.8Q1002.2 178.5 1001.9 191.6T983.3 219.3T958.5 256.1T932.5 286.2T888.4 332.4M1090.1 218.9Q1058.5 237.9 1040.5 224.3T1038.7 235.0T1083.6 275.8M1088.4 258.9Q1051.8 260.7 1031.5 240.9T993.1 234.2T968.7 268.0T966.5 299.8T952.1 357.4M847.3 278.3Q876.9 258.5 890.8 253.2T924.0 242.1T927.1 223.7T892.6 212.1T840.4 215.3M1090.9 238.1Q1058.7 238.2 1040.7 225.1T1038.9 235.8T1085.1 271.6" fill="none" stroke="#a2a2a2" stroke-width="0.55" stroke-opacity="0.5"/>
<path d="M904.4 342.7Q914.6 296.7 935.7 291.3T963.9 265.2T989.7 231.4T1031.0 227.5T1090.7 241.9M897.8 338.9Q908.7 299.7 925.3 294.1T945.4 268.5T928.9 252.7T894.2 260.5T853.3 291.4M847.3 278.3Q883.5 258.9 901.2 255.7T941.7 247.8T983.2 256.0T1020.3 275.0T1076.5 291.7M937.6 355.0Q960.8 309.7 953.3 298.2T948.5 265.5T930.4 247.4T893.6 250.7T839.1 228.8M1046.2 139.2Q1002.2 178.5 1003.4 192.5T986.7 221.3T962.9 258.5T961.0 293.8T926.9 352.2M1046.2 139.2Q1008.7 175.2 1013.6 185.5T1035.8 200.0T1083.0 190.6M1090.5 222.7Q1058.8 236.7 1090.8 226.5M888.4 332.4Q906.9 296.4 923.5 289.7T943.4 262.1T930.2 227.7T894.2 215.5T840.4 215.3M1083.6 275.8Q1053.2 262.8 1034.0 242.6T997.9 235.0T975.9 267.9T975.1 298.8T1023.5 343.8M846.0 274.9Q877.9 253.1 893.0 247.7T928.2 235.2T933.0 214.3T910.6 183.9T898.2 128.8M1090.1 218.9Q1054.7 232.9 1033.0 224.6T993.2 230.0T968.9 265.0T965.6 298.1T952.1 357.4M871.5 317.1Q912.6 294.0 932.5 286.7T959.6 258.1T986.1 223.3T1026.2 208.2T1080.0 183.4M1043.4 137.0Q1006.4 172.5 1046.2 139.2M1051.5 143.8Q1010.4 178.6 1015.0 189.7T1038.4 216.9T1090.7 241.9M876.8 322.6Q914.0 297.7 933.7 291.4T960.7 265.0T987.2 232.5T1028.0 239.7T1086.3 267.4M864.2 308.4Q910.5 296.6 930.2 291.6T957.0 267.5T982.1 261.3T1010.4 289.0T1054.9 320.9M1026.7 342.1Q973.1 311.4 964.6 303.7T936.0 298.4T907.8 344.5M897.8 338.9Q914.0 295.5 935.0 289.4T963.0 262.1T988.9 227.2T1028.0 210.9T1087.6 205.5M869.0 314.3Q910.0 292.6 931.3 287.1T960.2 261.1T987.1 227.6T1029.4 225.9T1090.8 226.5M1090.1 218.9Q1058.0 239.2 1038.2 226.2T1002.0 226.1T1000.5 252.9T1030.4 273.7T1068.4 304.8M1073.7 171.2Q1004.9 182.4 1006.9 196.5T991.0 225.0T966.9 261.3T963.8 295.8T944.8 356.4M992.4 113.0Q1002.7 176.3 1008.2 188.7T1032.4 226.8T1083.6 275.8M839.3 243.2Q881.8 252.5 899.7 250.7T940.4 244.9T981.9 254.4T1019.6 274.0T1070.6 301.6M843.8 268.0Q881.8 258.5 899.0 256.2T938.4 250.0T978.9 259.8T1007.1 289.1T1038.3 334.8M1046.2 139.2Q1007.7 177.3 1010.6 190.1T998.0 216.7T998.1 245.6T1029.5 268.4T1076.5 291.7" fill="none" stroke="#a2a2a2" stroke-width="0.55" stroke-opacity="0.5"/>
<path d="M916.5 348.5Q962.8 312.0 959.0 302.1T961.2 272.8T984.3 265.8T1011.0 292.3T1038.3 334.8M1075.4 174.3Q1007.6 178.2 1007.0 187.7T987.7 208.2T950.3 206.8T922.1 178.4T898.2 128.8M847.2 190.1Q875.4 206.5 892.4 202.5T903.2 184.9T857.2 169.8M1022.5 123.7Q1003.6 174.3 1010.3 186.9T1036.4 215.9T1090.4 245.8M859.8 302.3Q909.4 290.9 930.4 284.8T958.9 257.9T985.9 224.1T1026.7 210.2T1086.6 201.7M1031.8 128.9Q1008.0 177.2 1012.9 188.9T1036.9 216.0T1089.4 253.4M866.6 311.4Q902.0 293.4 919.9 288.8T941.6 264.4T925.8 248.9T891.6 256.3T846.0 274.9M848.7 281.6Q876.8 252.5 891.7 248.6T926.2 237.9T930.1 217.6T907.3 187.2T867.8 155.0M978.3 110.7Q1000.3 171.9 1006.4 182.8T1031.6 199.3T1084.3 194.2M901.1 340.9Q913.8 299.3 934.2 294.8T961.2 270.6T985.3 263.3T1020.7 280.7T1058.8 316.8M898.2 128.8Q904.2 163.9 904.6 125.2M1063.8 311.0Q1041.9 286.9 1028.6 282.0T1020.1 291.1T1048.5 326.8M1090.7 241.9Q1053.9 243.3 1031.9 231.0T991.4 232.1T966.3 266.2T963.8 298.3T926.9 352.2M1073.7 171.2Q1011.6 182.6 1016.3 194.3T1037.7 231.5T1085.1 271.6M870.2 152.3Q902.5 174.2 912.5 191.2T940.3 222.9T955.5 260.0T963.2 294.7T981.5 356.9M876.8 322.6Q904.5 295.5 921.6 289.8T942.3 264.0T926.0 247.6T891.6 254.7T840.6 253.9M840.6 253.9Q882.5 258.7 899.7 255.0T939.4 247.4T980.4 257.2T1009.0 286.8T1054.9 320.9M1089.2 213.1Q1055.9 212.4 1039.4 210.3T1040.8 223.6T1089.4 253.4M879.6 325.2Q904.2 296.2 871.5 317.1M876.8 322.6Q903.2 294.5 921.0 289.7T942.4 264.8T926.2 248.7T891.3 253.7T842.9 264.5M877.9 144.4Q905.7 171.6 917.6 187.3T948.5 216.7T985.8 245.2T1023.0 266.6T1079.9 284.8M1071.8 168.2Q1013.5 182.2 1017.4 192.8T1039.8 218.5T1090.4 245.8M859.8 302.3Q902.5 291.3 919.6 284.9T940.7 257.9T928.3 223.9T893.3 212.0T843.6 200.7M894.6 336.8Q909.5 299.3 925.1 292.3T944.0 264.7T927.2 247.5T891.6 251.5T839.3 243.2M851.7 288.2Q878.7 256.1 893.6 250.1T928.3 236.9T932.8 215.8T908.4 186.7T892.1 132.9" fill="none" stroke="#a2a2a2" stroke-width="0.55" stroke-opacity="0.5"/>
<path d="M1071.8 168.2Q1005.4 182.6 1006.2 196.2T988.6 224.0T963.8 260.3T959.8 294.6T916.5 348.5M904.4 342.7Q913.1 298.9 933.8 294.8T961.0 271.4T984.8 264.2T1012.6 290.2T1051.8 323.9M1088.4 258.9Q1050.3 262.5 1029.9 241.6T990.9 233.8T965.7 267.4T962.5 299.0T923.4 351.1M839.1 228.8Q881.7 253.5 899.0 251.1T938.7 245.2T979.6 256.0T1008.2 286.3T1048.5 326.8M1037.7 132.7Q998.4 176.3 1000.2 190.6T983.9 219.7T959.6 256.8T933.7 286.9T901.1 340.9M871.5 317.1Q907.1 298.7 894.6 336.8M1090.9 238.1Q1058.5 238.8 1038.6 227.0T1002.4 227.6T1001.0 253.7T1031.2 273.3T1072.7 298.4M888.4 332.4Q915.9 297.8 935.4 290.5T962.2 262.4T988.4 228.2T1030.1 226.4T1090.1 218.9M891.5 334.7Q907.7 299.0 924.5 293.7T945.0 268.5T928.8 253.1T894.1 260.0T856.9 297.7M1028.7 127.0Q1006.0 174.6 1011.8 186.1T1036.9 212.5T1090.5 222.7M1061.3 154.0Q1007.4 180.1 1010.1 193.7T996.4 221.7T994.8 251.5T1017.3 283.6T1034.7 337.3M920.0 349.8Q960.0 312.0 952.7 304.0T927.6 298.4T894.6 336.8M863.3 160.8Q901.2 176.3 912.4 192.5T941.9 223.2T958.3 259.7T964.4 294.2T1013.5 348.5M856.9 297.7Q878.2 261.1 892.0 255.7T924.9 244.4T927.7 225.5T892.8 214.0T839.9 219.0M1090.5 222.7Q1058.8 238.3 1089.4 253.4M1025.6 125.3Q1002.1 177.0 1004.3 190.9T990.0 219.9T969.0 257.6T970.6 293.2T999.6 353.2M1069.9 165.3Q1011.5 182.3 1013.5 194.8T999.3 221.1T998.3 249.9T1027.7 273.8T1061.3 313.9M859.8 302.3Q910.6 292.6 931.1 286.4T959.2 259.8T986.4 226.7T1029.0 223.7T1090.8 226.5M1063.6 156.8Q1005.2 180.9 1007.1 194.9T991.6 223.6T968.4 260.4T967.1 295.3T966.8 358.0M1066.2 307.9Q1041.4 288.0 1061.3 313.9M1040.6 134.8Q1007.2 173.7 1065.7 159.5M876.8 322.6Q910.8 297.2 931.3 292.6T958.6 268.7T983.5 262.0T1019.0 280.7T1058.8 316.8M862.0 305.4Q909.2 295.0 929.7 290.4T957.2 266.7T982.7 260.4T1019.1 278.9T1061.3 313.9M981.9 111.1Q995.6 172.6 1000.2 186.7T990.1 215.5T991.6 245.8T1024.3 270.5T1061.3 313.9M864.2 308.4Q904.9 296.0 921.3 290.2T941.6 264.8T926.0 249.8T892.1 257.7T850.1 284.9" fill="none" stroke="#a2a2a2" stroke-width="0.55" stroke-opacity="0.5"/>
<path d="M974.8 110.4Q993.1 175.2 994.5 189.1T979.0 218.2T957.2 256.2T957.4 292.3T923.4 351.1M1069.9 165.3Q1011.7 183.5 1012.9 196.0T997.6 222.7T995.8 252.1T1016.9 284.8T1038.3 334.8M853.5 176.2Q900.0 178.2 911.1 194.5T940.4 225.0T956.8 261.2T963.0 295.3T1006.6 351.1M977.9 357.4Q969.5 313.1 960.4 305.1T932.5 299.5T901.1 340.9M1070.6 301.6Q1044.0 283.9 1030.0 280.0T1021.5 289.7T1051.8 323.9M842.9 264.5Q875.3 253.1 839.3 243.2M967.6 110.0Q996.6 170.3 1003.9 181.6T1030.2 197.2T1081.6 186.9M995.9 113.8Q997.8 175.1 1000.5 189.2T987.4 218.5T967.5 256.5T969.1 292.5T1006.6 351.1M859.8 302.3Q910.2 293.7 930.7 288.3T958.8 263.2T985.8 231.4T1026.5 241.2T1085.1 271.6M839.1 239.6Q881.8 253.5 899.5 251.2T939.9 245.2T981.2 255.1T1017.6 276.9T1063.8 311.0M1016.8 347.0Q972.6 309.8 964.2 299.0T957.3 267.9T936.9 251.2T898.3 257.8T844.9 271.5M913.1 347.0Q960.9 309.7 952.1 299.2T946.6 268.4T929.4 252.0T894.2 259.6T847.3 278.3M1073.7 171.2Q1008.6 184.8 1008.2 197.5T989.4 224.6T964.6 260.8T963.0 295.0T923.4 351.1M907.8 344.5Q908.8 296.1 925.9 289.4T946.2 261.0T932.6 225.3T896.5 211.2T850.1 183.2M1034.8 130.8Q1007.3 176.8 1012.6 188.8T1037.1 216.8T1089.4 253.4M897.8 338.9Q916.5 298.0 936.3 290.8T963.1 262.6T989.1 228.0T1028.7 213.4T1089.2 213.1M897.8 338.9Q907.6 297.9 924.4 292.1T944.5 265.7T927.6 248.8T892.5 255.4T840.6 253.9M1051.5 143.8Q1006.7 176.1 1013.2 188.1T1038.4 217.0T1091.0 234.2M1043.4 137.0Q1001.3 178.0 1001.8 191.6T984.0 219.9T959.3 256.7T933.9 287.2T894.6 336.8M1040.6 134.8Q1005.3 178.3 1007.5 191.8T993.4 220.2T972.6 257.3T974.6 292.4T1023.5 343.8M1040.6 134.8Q1008.1 178.8 1013.0 191.1T1035.3 229.5T1082.1 279.8M913.1 347.0Q960.1 311.9 953.1 304.2T928.6 299.0T907.8 344.5M971.2 110.2Q998.0 174.1 1005.0 186.9T1031.1 226.2T1087.5 263.2M985.2 356.4Q968.4 310.0 960.0 298.5T953.5 265.9T934.0 247.8T895.9 252.2T839.0 232.4M1086.6 201.7Q1053.2 207.0 1035.5 209.2T1001.4 224.5T1000.0 252.0T1028.7 275.1T1066.2 307.9" fill="none" stroke="#a2a2a2" stroke-width="0.55" stroke-opacity="0.5"/>
<path d="M948.5 356.9Q968.4 312.9 964.1 302.7T965.6 272.8T988.1 265.3T1015.1 290.4T1051.8 323.9M843.8 268.0Q876.8 257.9 856.9 297.7M851.7 288.2Q877.3 258.7 891.3 253.7T924.5 242.6T927.5 223.6T892.5 213.1T841.8 208.0M895.1 130.8Q907.6 170.7 918.9 186.9T948.7 217.7T984.9 247.6T1019.2 273.1T1058.8 316.8M862.0 305.4Q902.3 293.8 920.0 289.2T941.8 265.2T926.4 250.5T892.7 259.0T855.0 294.6M851.7 288.2Q877.4 257.2 891.6 252.2T925.2 240.7T928.4 221.0T893.8 209.3T850.1 183.2M1090.7 241.9Q1058.1 237.3 1038.1 226.9T1001.5 229.2T999.8 255.6T1029.2 276.4T1061.3 313.9M891.5 334.7Q908.8 300.0 925.1 294.2T945.0 268.5T928.8 253.1T894.3 260.6T856.9 297.7M1002.7 115.7Q1001.1 173.6 1004.8 186.7T993.5 214.0T995.0 243.5T1026.5 268.8T1078.3 288.3M1019.3 122.1Q1004.2 175.0 1007.3 187.8T995.3 214.7T996.2 243.9T1027.9 268.2T1078.3 288.3M1038.3 334.8Q1023.1 306.8 1041.8 332.3M862.0 305.4Q909.6 296.1 929.5 291.3T956.3 267.7T981.3 261.7T1010.5 288.8T1048.5 326.8M885.4 330.1Q905.7 296.8 922.7 291.3T943.3 265.6T926.9 249.2T892.3 256.5T842.9 264.5M1091.0 234.2Q1058.9 237.4 1040.9 224.0T1039.4 233.7T1088.4 258.9M999.6 353.2Q972.9 312.4 969.6 302.1T971.2 272.2T992.3 264.7T1017.7 290.0T1054.9 320.9M967.6 110.0Q990.5 174.2 992.7 188.6T978.2 218.1T956.7 256.2T957.2 292.3T923.4 351.1M842.7 204.3Q875.5 217.7 895.4 215.8T932.5 227.8T946.6 263.0T950.0 296.2T916.5 348.5M999.6 353.2Q971.0 309.5 962.1 298.1T955.0 265.6T935.0 247.6T896.4 251.2T839.0 232.4M855.0 294.6Q878.1 261.2 891.9 255.6T924.7 244.1T927.6 225.3T892.6 214.0T839.9 219.0M977.9 357.4Q966.2 311.4 958.6 300.4T953.2 269.0T934.0 252.0T896.9 259.3T844.9 271.5M1088.4 258.9Q1055.2 260.0 1082.1 279.8M883.4 139.5Q903.1 172.1 912.2 189.3T938.1 221.4T951.5 258.7T954.8 294.0T934.0 354.2M1006.1 116.8Q996.8 175.3 996.3 188.0T977.5 215.2T952.9 251.6T927.0 281.2T859.8 302.3M839.1 228.8Q881.4 252.0 898.9 250.2T939.0 245.0T979.9 255.7T1009.0 285.7T1051.8 323.9M1090.4 245.8Q1058.1 240.4 1038.1 228.6T1001.6 229.4T1000.1 255.6T1028.9 277.0T1063.8 311.0" fill="none" stroke="#a2a2a2" stroke-width="0.55" stroke-opacity="0.5"/>
<path d="M851.7 288.2Q879.7 257.7 894.5 250.6T929.5 236.2T934.5 214.8T911.5 184.5T907.9 123.5M1019.3 122.1Q995.6 169.3 996.9 180.7T980.0 204.1T943.6 204.8T916.3 178.7T875.3 147.0M937.6 355.0Q964.9 312.8 920.0 349.8M874.1 319.9Q912.2 296.3 932.6 290.6T960.3 265.0T986.9 232.8T1027.1 242.1T1085.1 271.6M1079.9 284.8Q1043.2 284.2 1029.3 280.0T1019.2 290.9T1034.7 337.3M1089.4 253.4Q1058.6 238.9 1040.6 226.0T1038.8 236.7T1086.3 267.4M1088.5 209.3Q1055.4 213.4 1036.8 212.6T1001.9 224.8T1000.6 251.9T1030.6 272.9T1070.6 301.6M1090.9 238.1Q1054.4 240.9 1032.5 229.7T992.2 231.9T967.4 266.2T965.9 298.5T937.6 355.0M842.9 264.5Q878.1 252.2 893.4 246.4T929.1 233.5T934.5 212.7T912.3 182.7T914.6 120.4M988.9 112.2Q999.4 170.9 1006.5 182.5T1031.8 197.7T1085.6 198.0M963.0 110.0Q955.9 146.4 952.6 164.5T951.7 204.3T932.8 233.1T895.9 247.0T843.8 268.0M892.1 132.9Q901.2 167.0 853.5 176.2M992.4 113.0Q992.6 173.1 993.1 186.3T975.4 213.7T935.8 235.4T897.9 248.7T851.7 288.2M848.7 281.6Q877.1 253.6 891.9 249.1T926.3 237.7T930.3 217.3T906.2 188.1T870.2 152.3M853.3 291.4Q884.6 259.2 902.5 255.5T943.3 246.3T985.8 228.7T1028.5 226.6T1089.4 253.4M888.4 332.4Q914.0 297.1 934.5 291.1T962.2 264.7T988.4 231.4T1030.2 229.9T1090.0 249.6M988.8 355.8Q968.2 310.6 960.2 299.4T954.0 267.5T934.4 250.1T896.7 256.6T840.6 253.9M904.4 342.7Q909.3 299.7 925.8 294.0T945.7 268.2T928.9 252.0T893.5 257.8T848.7 281.6M1065.7 159.5Q1004.3 179.3 1003.0 190.7T982.2 215.0T940.0 233.8T899.7 244.8T839.1 239.6M1019.3 122.1Q997.2 168.5 967.6 110.0M923.4 351.1Q959.2 310.7 951.0 302.1T924.4 295.1T862.0 305.4M1025.6 125.3Q1002.2 173.8 1006.7 187.4T995.9 215.0T996.7 244.2T1029.0 267.0T1078.3 288.3M1080.0 183.4Q1050.9 207.5 1032.0 209.7T995.7 226.0T973.1 261.9T972.9 295.9T999.6 353.2M1043.4 137.0Q1007.3 181.1 1007.0 193.8T989.4 221.5T966.9 258.9T965.3 294.5T966.8 358.0M992.4 113.0Q999.4 176.1 1001.4 189.6T987.6 218.2T968.0 256.1T970.5 292.1T1013.5 348.5" fill="none" stroke="#a2a2a2" stroke-width="0.55" stroke-opacity="0.5"/>
<path d="M839.0 236.0Q877.1 250.6 891.6 244.5T926.1 232.1T930.7 212.8T907.6 184.3T880.6 141.9M1025.6 125.3Q1007.3 174.0 1011.8 184.0T1033.3 196.0T1080.0 183.4M897.8 338.9Q915.6 296.8 935.7 289.8T962.8 261.5T988.7 226.4T1028.0 210.7T1085.6 198.0M1069.9 165.3Q1011.0 176.5 1048.9 141.5M963.0 110.0Q957.3 147.0 953.7 165.5T952.4 206.1T933.8 235.6T897.1 250.0T853.3 291.4M911.2 121.9Q907.7 161.6 914.6 120.4M1078.3 179.8Q1054.2 207.7 1037.9 206.9T1038.4 230.7T1087.5 263.2M850.1 284.9Q878.8 253.9 894.2 248.4T929.8 235.7T935.1 214.2T912.7 183.6T914.6 120.4M971.2 110.2Q994.3 175.9 995.8 189.6T981.0 218.6T960.3 256.9T961.0 293.2T955.8 357.7M978.3 110.7Q995.4 174.2 998.9 188.3T987.1 217.5T968.3 255.3T972.3 291.1T1026.7 342.1M848.7 281.6Q877.7 254.8 892.4 249.4T926.9 237.1T931.1 216.5T907.7 186.6T877.9 144.4M948.5 356.9Q971.0 312.0 966.1 301.5T967.2 270.9T990.3 262.6T1024.0 280.0T1072.7 298.4M999.3 114.7Q998.8 175.6 1001.3 189.5T987.8 218.6T967.8 256.5T970.4 292.5T1006.6 351.1M839.1 228.8Q877.9 248.2 893.1 242.2T928.7 229.8T934.2 210.0T911.8 181.4T914.6 120.4M843.6 200.7Q876.8 207.9 895.3 201.5T908.7 180.5T911.2 121.9M840.1 250.4Q875.9 253.6 890.0 248.5T923.5 237.8T927.0 219.7T892.4 210.1T844.7 197.1M867.8 155.0Q901.3 174.6 911.0 191.6T938.1 223.3T952.6 260.3T956.7 295.2T955.8 357.7M885.4 330.1Q912.5 296.3 933.5 291.0T961.7 265.5T988.0 232.6T1027.8 242.0T1087.5 263.2M866.6 311.4Q903.9 295.0 920.7 289.3T941.4 263.9T925.6 248.2T891.1 254.4T843.8 268.0M907.8 344.5Q914.7 300.5 934.7 296.0T960.8 272.0T984.4 265.0T1010.4 292.3T1045.2 329.6M839.0 232.4Q875.0 249.3 889.3 246.0T923.0 237.8T926.4 221.0T891.8 212.0T839.5 222.8M847.2 190.1Q874.9 209.5 892.5 203.4T903.8 183.9T865.5 157.9M966.8 358.0Q961.3 312.2 954.3 303.5T927.7 296.2T869.0 314.3M1083.6 275.8Q1054.0 263.7 1036.0 241.5T1001.9 231.1T1000.9 255.8T1030.5 275.5T1076.5 291.7M1029.9 340.3Q973.3 309.6 963.1 301.3T931.6 294.6T866.6 311.4" fill="none" stroke="#a2a2a2" stroke-width="0.55" stroke-opacity="0.5"/>
<path d="M859.8 302.3Q900.4 289.6 918.5 284.3T940.6 258.4T928.2 224.7T892.7 214.7T841.8 208.0M971.2 110.2Q995.8 172.7 1000.1 186.1T989.9 213.9T992.2 243.8T1025.3 268.4T1074.7 295.1M971.2 110.2Q997.5 172.6 1004.9 185.0T1033.0 213.4T1090.9 238.1M988.9 112.2Q1001.7 174.3 1007.8 186.3T1034.2 214.9T1090.4 245.8M847.3 278.3Q875.5 252.5 839.1 228.8M1069.9 165.3Q1006.2 182.4 1007.7 196.1T991.4 224.4T967.7 261.0T966.8 295.6T955.8 357.7M876.8 322.6Q903.8 294.1 921.2 288.4T942.1 262.1T925.8 244.9T890.9 249.6T839.1 228.8M1009.5 118.0Q1004.5 172.8 1009.8 183.4T1033.2 198.3T1083.0 190.6M1085.1 271.6Q1050.8 267.0 1031.8 244.8T995.2 235.5T972.0 268.9T968.5 300.3T985.2 356.4M1002.7 115.7Q1001.5 174.6 1008.2 187.6T1033.4 225.9T1086.3 267.4M839.1 228.8Q875.5 247.2 890.1 243.2T924.4 233.5T928.2 215.2T906.1 186.3T857.2 169.8M856.9 297.7Q878.8 257.9 893.2 252.1T927.2 239.4T930.9 218.5T906.7 188.7T870.2 152.3M988.9 112.2Q1002.1 176.3 1007.7 188.9T1031.7 228.2T1082.1 279.8M930.1 114.8Q941.0 144.5 933.9 113.8M882.5 327.7Q905.2 296.9 922.7 292.0T943.8 267.3T927.8 251.9T893.4 259.4T853.3 291.4M864.2 308.4Q902.6 293.3 919.8 287.9T940.9 262.5T925.1 246.5T890.9 253.6T840.6 253.9M886.2 137.2Q898.8 168.3 875.3 147.0M864.2 308.4Q908.4 290.2 930.1 284.6T959.2 258.0T986.0 223.8T1026.7 209.7T1084.3 194.2M1082.1 279.8Q1054.2 262.3 1035.7 241.6T1000.8 233.0T999.4 258.1T1028.6 278.5T1063.8 311.0M841.3 257.5Q882.2 257.6 899.5 254.7T939.4 247.8T980.4 257.5T1009.9 286.2T1054.9 320.9M861.2 163.7Q898.2 169.1 875.3 147.0M1076.5 291.7Q1041.5 287.2 1028.6 281.6T1020.0 290.6T1041.8 332.3M1090.1 218.9Q1058.7 236.5 1040.7 223.0T1039.0 234.0T1087.5 263.2M879.6 325.2Q908.0 296.5 923.6 288.7T942.9 259.7T930.1 224.9T894.5 212.1T845.9 193.6M974.8 110.4Q990.8 170.1 991.1 181.5T973.5 205.6T937.6 207.7T899.5 200.6T850.1 183.2" fill="none" stroke="#a2a2a2" stroke-width="0.55" stroke-opacity="0.5"/>
<path d="M1078.3 179.8Q1053.6 203.3 1081.6 186.9M1016.1 120.6Q996.3 170.8 996.5 182.2T978.2 205.9T941.3 207.4T911.1 184.3T855.3 173.0M941.5 112.2Q939.5 145.0 937.7 113.0M1086.3 267.4Q1050.6 263.4 1030.3 242.7T991.7 235.0T967.1 268.4T964.6 299.9T937.6 355.0M1085.1 271.6Q1055.9 257.3 1037.2 237.8T1002.3 230.1T1001.3 254.8T1031.6 273.5T1079.9 284.8M999.3 114.7Q1000.5 174.2 1003.9 187.5T992.3 215.4T993.5 245.4T1025.9 269.6T1066.2 307.9M882.5 327.7Q908.1 299.6 894.6 336.8M1006.1 116.8Q996.5 175.1 996.1 187.9T977.5 215.2T952.9 251.6T927.9 281.9T859.8 302.3M1016.1 120.6Q1006.2 175.8 1011.3 187.3T1036.0 215.2T1090.7 241.9M857.2 169.8Q898.1 177.8 908.2 194.0T935.6 224.7T949.9 261.1T954.5 295.5T937.6 355.0M1061.3 154.0Q1004.2 171.9 1002.7 115.7M934.0 354.2Q965.1 312.5 961.7 302.2T964.3 272.3T987.4 264.8T1013.5 291.0T1054.9 320.9M874.1 319.9Q906.2 295.6 922.2 288.5T942.0 260.5T929.2 226.4T893.5 214.9T841.1 211.7M1071.8 168.2Q1011.0 181.5 1013.8 194.0T1000.5 220.0T999.8 248.1T1029.8 271.1T1074.7 295.1M974.8 110.4Q998.4 172.0 1005.5 183.9T1033.2 211.8T1090.1 218.9M1056.6 148.8Q1003.5 177.1 1002.1 188.0T981.4 211.5T942.9 213.2T902.3 205.0T841.8 208.0M842.0 261.0Q877.8 251.9 893.0 246.1T928.5 233.4T933.8 212.7T911.4 182.9T907.9 123.5M999.6 353.2Q970.6 312.1 961.1 304.0T931.1 297.1T885.4 330.1M1012.8 119.3Q1003.6 175.8 1009.6 188.6T1033.4 228.6T1085.1 271.6M1090.8 226.5Q1058.2 234.6 1038.2 224.5T1001.7 227.4T1000.1 254.1T1029.0 276.1T1063.8 311.0M1010.0 349.8Q973.9 311.9 963.9 304.1T933.8 298.4T897.8 338.9M840.1 250.4Q881.0 254.5 898.5 253.0T938.3 247.9T979.0 258.2T1006.3 288.8T1041.8 332.3M843.6 200.7Q875.7 208.6 893.6 202.6T905.2 183.0T886.2 137.2M1078.3 179.8Q1053.9 208.6 1037.6 208.1T1037.4 233.8T1082.1 279.8M1063.6 156.8Q1003.4 180.4 1004.9 194.4T988.3 223.0T963.9 259.7T961.5 294.4T923.4 351.1" fill="none" stroke="#a2a2a2" stroke-width="0.55" stroke-opacity="0.5"/>
<path d="M874.1 319.9Q903.5 294.0 920.8 288.4T941.8 262.4T925.6 245.5T890.7 249.9T839.0 236.0M1074.7 295.1Q1042.4 285.9 1028.8 281.2T1021.8 289.2T1038.3 334.8M926.9 352.2Q959.3 310.4 952.0 299.4T947.7 267.9T930.0 250.9T894.1 257.4T842.9 264.5M842.7 204.3Q874.9 208.6 892.2 203.8T904.9 183.8T863.3 160.8M992.4 113.0Q992.3 170.2 992.8 182.0T975.0 206.6T938.5 209.0T899.8 201.7T845.9 193.6M934.0 354.2Q960.7 311.4 953.4 300.7T949.1 269.9T931.4 253.5T895.6 260.5T851.7 288.2M999.3 114.7Q993.8 173.4 994.1 186.6T976.2 213.9T936.3 235.6T898.0 247.5T851.7 288.2M1075.4 174.3Q1000.8 172.4 967.6 110.0M857.2 169.8Q899.5 177.0 909.5 193.7T937.0 224.8T951.8 261.4T957.1 295.8T955.8 357.7M1056.6 148.8Q1008.6 176.2 1014.2 187.1T1036.8 201.6T1087.6 205.5M953.6 110.5Q958.3 146.1 953.3 164.4T950.6 204.1T932.0 232.8T895.1 245.8T842.9 264.5M1010.0 349.8Q969.7 310.0 962.2 299.0T956.3 267.4T936.1 250.4T897.5 256.2T842.0 261.0M882.5 327.7Q914.1 297.8 934.1 291.7T961.3 265.5T987.6 232.9T1028.2 240.4T1086.3 267.4M988.9 112.2Q997.4 173.1 1001.7 186.9T991.0 215.4T992.4 245.6T1025.9 268.6T1063.8 311.0M974.8 110.4Q994.8 175.7 996.5 189.5T982.0 218.7T961.4 256.9T962.2 293.3T963.2 358.0M988.8 355.8Q969.4 311.6 961.1 300.9T954.8 270.0T935.6 253.7T897.8 259.8T851.7 288.2M992.4 113.0Q999.2 176.3 1001.0 189.8T986.8 218.5T966.9 256.5T969.0 292.6T1003.1 352.2M1059.0 151.4Q1003.5 175.5 1002.8 186.1T983.1 208.4T945.1 208.7T915.1 183.2T861.2 163.7M839.1 239.6Q875.8 249.9 890.3 245.2T924.4 234.6T928.2 216.0T904.1 188.5T857.2 169.8M862.0 305.4Q901.3 289.9 919.3 284.1T941.2 257.4T928.9 223.1T893.9 210.9T847.2 190.1M1073.7 171.2Q1012.5 182.0 1017.0 193.0T1039.8 219.8T1090.0 249.6M869.0 314.3Q903.5 289.7 922.0 283.0T944.8 254.4T933.5 218.2T910.8 186.2T886.2 137.2M1022.5 123.7Q1002.1 175.1 1005.8 188.9T993.8 217.3T994.0 247.5T1017.6 280.6T1054.9 320.9M901.1 340.9Q917.4 299.5 937.0 292.7T963.5 265.3T989.4 231.6T1030.8 229.0T1090.4 245.8M1028.7 127.0Q1000.4 171.3 1000.3 181.6T982.1 203.7T945.8 203.9T917.4 178.3T889.1 135.0" fill="none" stroke="#a2a2a2" stroke-width="0.55" stroke-opacity="0.5"/>
<path d="M1083.0 190.6Q1053.7 206.8 1035.8 207.9T1001.8 222.1T1000.8 249.4T1030.0 272.5T1076.5 291.7M1086.6 201.7Q1054.2 206.4 1038.5 206.4T1040.7 221.3T1090.4 245.8M1054.1 146.3Q1010.3 179.8 1012.2 192.1T998.2 218.5T997.8 247.5T1028.3 271.2T1068.4 304.8M953.6 110.5Q954.6 144.7 951.3 162.1T950.5 200.1T935.1 210.7T897.6 203.4T841.1 211.7M985.4 111.6Q992.9 174.4 994.2 188.4T978.2 217.4T955.3 255.0T930.4 285.2T897.8 338.9M841.3 257.5Q883.3 254.7 901.1 250.1T942.1 240.2T984.9 222.5T1028.0 223.1T1090.1 218.9M847.2 190.1Q874.4 210.2 891.7 204.6T902.5 185.9T853.5 176.2M1059.0 151.4Q1011.0 178.6 1015.6 189.4T1038.9 214.3T1090.8 226.5M1026.7 342.1Q974.5 308.0 965.5 296.7T957.9 264.7T937.1 247.2T897.7 251.8T839.0 236.0M886.2 137.2Q901.6 174.1 912.1 190.2T939.5 221.4T953.2 258.8T957.5 294.3T948.5 356.9M1022.5 123.7Q1004.9 171.4 1040.6 134.8M904.4 342.7Q916.2 297.5 936.6 291.0T963.9 263.5T989.7 228.9T1030.9 225.1T1090.1 218.9M1040.6 134.8Q1000.7 175.7 999.7 187.4T979.6 212.4T938.1 232.0T898.3 242.8T839.1 239.6M1076.5 291.7Q1045.6 281.6 1070.6 301.6M840.4 215.3Q877.2 206.9 895.4 201.6T909.2 180.9T911.2 121.9M1022.5 123.7Q999.9 176.8 1001.2 190.8T985.3 219.9T962.6 257.7T961.6 293.6T941.2 355.8M1054.1 146.3Q1002.7 178.0 1001.5 189.9T981.2 215.2T939.4 235.1T899.7 247.8T842.0 261.0M839.5 222.8Q876.8 218.8 897.2 217.7T935.4 230.4T950.8 265.4T956.8 298.3T959.5 357.9M1084.3 194.2Q1054.8 211.0 1036.4 210.4T1001.7 223.0T1000.5 250.4T1030.5 272.0T1072.7 298.4M894.6 336.8Q913.2 298.7 933.7 294.0T960.9 269.8T985.4 262.4T1020.6 280.4T1063.8 311.0M1073.7 171.2Q1004.6 181.5 1003.9 193.7T983.6 219.1T941.5 238.8T901.1 250.5T847.3 278.3M923.4 351.1Q959.8 311.9 952.3 303.7T926.5 297.4T885.4 330.1M1058.8 316.8Q1041.4 287.4 1028.1 282.6T1020.9 290.6T1048.5 326.8M971.2 110.2Q997.0 171.2 1004.6 183.2T1030.7 198.5T1089.2 213.1M1086.3 267.4Q1054.8 261.1 1036.5 239.8T1001.9 230.7T1000.7 255.9T1030.7 275.2T1072.7 298.4" fill="none" stroke="#a2a2a2" stroke-width="0.55" stroke-opacity="0.5"/>
<path d="M1012.8 119.3Q1002.0 177.1 1003.6 190.6T988.9 219.2T968.4 257.0T970.0 292.9T1003.1 352.2M1009.5 118.0Q997.3 175.6 996.9 188.5T978.3 216.0T953.8 252.6T927.8 282.3T866.6 311.4M992.4 355.0Q978.0 311.8 972.2 301.4T971.6 271.0T993.4 262.8T1025.9 280.1T1070.6 301.6M1048.9 141.5Q1009.2 179.2 1014.0 191.3T1036.0 229.4T1085.1 271.6M847.3 278.3Q884.3 259.0 902.0 254.2T942.7 244.1T985.4 226.5T1028.4 227.1T1090.7 241.9M850.1 183.2Q880.5 211.2 901.4 211.3T940.8 225.4T957.7 261.3T963.1 295.1T1016.8 347.0M904.4 342.7Q917.8 298.1 937.1 290.3T963.1 260.8T988.6 225.2T1027.7 209.2T1080.0 183.4M841.8 208.0Q876.9 207.7 895.3 201.7T908.1 181.5T911.2 121.9M988.9 112.2Q993.4 174.3 994.0 187.8T976.8 216.0T953.1 253.1T927.8 283.1T874.1 319.9M841.3 257.5Q875.6 253.5 889.9 249.1T923.5 239.1T926.9 221.0T892.8 209.0T842.7 204.3M1078.3 288.3Q1046.8 279.5 1078.3 288.3M1043.4 137.0Q998.3 174.3 998.7 186.7T979.9 212.3T938.3 231.8T898.7 243.4T839.0 236.0M1025.6 125.3Q999.6 176.8 1000.7 190.7T984.1 219.6T960.7 257.2T957.0 292.9T920.0 349.8M871.5 317.1Q903.3 291.2 921.2 284.8T943.1 256.9T930.9 221.5T904.6 192.8T859.1 166.8M1067.9 162.4Q1005.7 178.5 1004.1 188.8T983.2 211.0T944.6 211.6T903.6 203.3T850.1 183.2M1056.6 148.8Q1002.7 177.8 1001.6 189.7T981.3 214.7T939.4 234.2T899.3 245.3T840.1 250.4M1025.6 125.3Q997.9 175.5 998.1 188.8T979.9 216.5T954.8 252.9T928.3 282.2T864.2 308.4M1054.1 146.3Q1008.9 181.2 1009.9 194.1T994.3 221.6T973.0 258.5T973.6 293.4T1016.8 347.0M1090.7 241.9Q1055.2 240.2 1033.6 229.6T994.1 232.5T970.1 266.8T966.8 299.2T963.2 358.0M1051.5 143.8Q1004.0 178.7 1006.7 192.9T992.5 221.9T970.6 259.1T971.8 294.2T996.0 354.2M894.6 336.8Q904.9 294.1 922.9 288.7T944.2 262.0T930.8 227.3T894.5 215.2T841.8 208.0M1059.0 151.4Q1008.5 181.8 1009.4 194.9T993.3 222.7T971.1 259.6T971.1 294.6T996.0 354.2M882.5 327.7Q912.2 295.9 933.2 290.5T961.4 264.9T987.8 232.0T1028.7 238.4T1088.4 258.9M1006.1 116.8Q1002.0 174.7 1005.1 187.8T993.1 215.4T994.2 245.3T1025.9 270.1T1068.4 304.8M1090.8 226.5Q1058.3 234.9 1038.3 224.6T1001.9 227.1T1000.3 253.8T1030.1 274.4T1066.2 307.9" fill="none" stroke="#a2a2a2" stroke-width="0.55" stroke-opacity="0.5"/>
<path d="M1046.2 139.2Q1002.2 172.0 1002.8 182.4T985.3 204.1T949.1 203.6T920.2 177.7T907.9 123.5M985.4 111.6Q999.6 169.1 1031.8 128.9M1012.8 119.3Q1000.2 175.9 1002.6 190.0T988.9 219.2T968.4 257.0T970.6 292.8T1003.1 352.2M904.4 342.7Q914.7 297.1 935.8 291.7T963.8 265.8T989.6 232.2T1030.8 232.0T1090.0 249.6M894.6 336.8Q917.0 302.1 935.5 295.8T960.7 270.0T985.1 262.7T1019.8 281.5T1061.3 313.9M926.9 352.2Q962.0 312.6 959.2 302.6T962.3 273.2T985.1 266.1T1012.3 291.7T1038.3 334.8M842.0 261.0Q883.4 255.5 901.3 251.1T942.2 241.4T985.1 224.0T1028.2 221.8T1090.9 230.4M877.9 144.4Q906.8 170.9 917.8 187.5T947.6 218.2T984.6 247.3T1019.9 271.8T1068.4 304.8M974.2 357.7Q968.7 314.1 970.5 357.9M842.0 261.0Q876.3 257.1 851.7 288.2M839.1 228.8Q882.9 250.1 900.8 246.3T941.9 237.4T984.8 220.8T1028.0 221.9T1090.5 222.7M1089.4 253.4Q1058.5 241.1 1040.4 227.5T1038.6 237.6T1083.6 275.8M859.8 302.3Q909.2 291.2 930.4 285.5T959.2 259.2T986.3 225.9T1028.9 223.3T1090.1 218.9M1061.3 154.0Q1007.4 182.0 1008.0 195.3T991.0 223.3T967.9 260.2T966.0 295.3T963.2 358.0M871.5 317.1Q904.9 292.2 922.2 285.0T943.6 256.2T931.5 220.6T907.1 190.0T865.5 157.9M988.8 355.8Q972.8 311.7 969.5 301.0T971.8 270.1T993.9 261.5T1027.1 277.7T1078.3 288.3M1009.5 118.0Q1001.2 175.1 1004.3 188.7T992.0 217.1T992.4 247.7T1016.8 280.6T1048.5 326.8M894.6 336.8Q909.8 294.5 927.1 286.4T948.7 256.0T937.0 218.8T912.1 187.5T901.4 127.0M888.4 332.4Q913.0 299.1 933.1 294.1T959.8 269.7T984.4 262.7T1019.6 281.1T1058.8 316.8M907.8 344.5Q908.8 295.6 926.0 288.8T946.6 260.2T933.2 224.2T907.9 192.8T855.3 173.0M842.7 204.3Q877.8 204.6 895.7 200.0T909.3 180.1T911.2 121.9M1090.1 218.9Q1058.9 230.7 1090.9 238.1M1086.6 201.7Q1050.4 210.1 1030.7 212.2T992.9 228.2T968.6 263.7T966.3 297.3T952.1 357.4M859.8 302.3Q907.6 292.9 928.9 288.9T957.5 265.7T983.2 259.2T1019.5 278.2T1068.4 304.8M839.1 239.6Q875.3 246.9 890.1 243.5T924.7 234.2T928.6 215.4T904.7 187.6T861.2 163.7" fill="none" stroke="#a2a2a2" stroke-width="0.55" stroke-opacity="0.5"/>
<path d="M1090.7 241.9Q1056.1 239.6 1035.0 229.3T996.3 232.3T973.1 266.5T971.2 298.8T992.4 355.0M1048.9 141.5Q1000.2 176.2 1000.0 188.7T980.6 214.7T939.1 234.7T898.9 244.9T842.0 261.0M848.6 186.6Q874.7 208.6 843.6 200.7M944.8 356.4Q970.5 312.4 965.2 302.2T965.8 272.3T988.6 264.5T1021.8 282.7T1058.8 316.8M1031.8 128.9Q997.6 173.7 997.6 186.1T978.6 211.7T937.5 231.5T898.0 242.6T839.1 239.6M839.9 219.0Q876.6 207.0 894.2 202.3T907.2 182.2T892.1 132.9M1061.3 154.0Q1006.0 181.1 1007.4 194.9T991.3 223.3T968.3 260.2T968.3 295.1T966.8 358.0M859.8 302.3Q903.9 293.5 920.2 287.0T940.3 260.2T924.6 243.8T890.7 251.4T839.0 232.4M995.9 113.8Q993.9 169.5 994.4 180.6T976.8 204.0T940.8 205.3T912.2 181.3T865.5 157.9M992.4 113.0Q990.5 168.8 992.0 181.0T975.3 205.8T939.0 207.9T899.9 202.1T850.1 183.2M1075.4 174.3Q1010.8 184.9 1011.7 197.8T995.5 225.0T973.1 261.1T972.5 295.4T1003.1 352.2M992.4 355.0Q967.4 310.0 959.9 298.5T954.3 266.1T934.5 248.1T896.3 253.0T839.0 236.0M842.7 204.3Q875.7 207.1 893.1 202.4T905.3 183.0T875.3 147.0M1022.5 123.7Q996.2 172.1 996.4 184.1T977.8 209.1T940.3 211.7T900.1 206.1T841.1 211.7M839.5 222.8Q875.8 207.8 893.0 203.6T905.1 184.2T875.3 147.0M992.4 113.0Q1002.0 170.4 1019.3 122.1M974.8 110.4Q1000.3 175.3 1006.4 187.5T1032.0 224.0T1087.5 263.2M992.4 113.0Q998.4 172.8 1002.7 186.4T992.2 214.2T993.8 244.0T1025.4 269.7T1074.7 295.1M879.6 325.2Q914.1 295.4 933.7 287.9T960.5 259.0T986.7 223.9T1026.8 209.2T1080.0 183.4M992.4 113.0Q998.7 174.6 1001.8 188.4T989.7 217.0T990.4 247.9T1013.6 282.3T1041.8 332.3M1034.8 130.8Q1000.3 168.9 1006.1 116.8M874.1 319.9Q903.8 294.2 921.0 288.4T941.8 262.1T925.6 245.1T891.0 251.0T839.0 232.4M894.6 336.8Q914.1 297.3 934.9 291.8T962.7 265.9T988.7 232.7T1028.8 240.3T1088.4 258.9M851.7 288.2Q883.1 262.2 900.1 259.2T939.3 252.1T979.5 261.3T1006.7 290.6T1038.3 334.8M1056.6 148.8Q1006.8 181.6 1006.9 194.7T989.4 222.6T966.0 259.7T964.7 294.8T948.5 356.9" fill="none" stroke="#a2a2a2" stroke-width="0.55" stroke-opacity="0.5"/>
<path d="M988.9 112.2Q995.1 175.2 997.0 189.3T982.1 218.8T960.5 256.9T961.5 293.1T944.8 356.4M842.0 261.0Q875.3 253.5 839.7 246.8M1083.6 275.8Q1053.6 264.7 1035.7 242.2T1001.6 231.6T1000.5 256.5T1030.4 275.8T1072.7 298.4M1071.8 168.2Q1004.7 181.6 1004.0 193.9T983.9 219.8T942.0 239.9T901.7 251.6T853.3 291.4M864.2 308.4Q911.9 298.2 930.6 292.7T956.3 268.2T981.1 262.2T1010.4 289.0T1045.2 329.6M1088.5 209.3Q1055.8 211.3 1039.4 209.1T1040.9 220.2T1090.7 241.9M1025.6 125.3Q1003.7 177.1 1005.9 190.6T992.1 219.1T971.9 256.4T972.7 291.8T1026.7 342.1M1051.5 143.8Q1010.8 177.4 1015.1 187.7T1036.1 200.6T1088.5 209.3M842.7 204.3Q874.7 209.5 892.1 204.2T903.9 184.6T863.3 160.8M1051.5 143.8Q1002.5 176.6 1001.2 187.9T980.7 212.1T942.3 214.4T901.3 208.2T839.5 222.8M1002.7 115.7Q1000.3 175.2 1003.2 188.9T990.5 217.5T990.8 248.3T1015.3 281.4T1038.3 334.8M1019.3 122.1Q1001.0 177.1 1002.4 190.9T986.9 219.9T965.1 257.8T965.1 293.8T966.8 358.0M948.5 356.9Q962.5 312.4 954.6 304.1T928.1 297.8T879.6 325.2M1087.6 205.5Q1053.9 207.5 1036.3 209.0T1002.4 223.4T1001.4 250.2T1030.7 272.3T1078.3 288.3M1063.6 156.8Q1005.8 181.4 1007.2 195.1T991.0 223.5T967.6 260.4T966.2 295.3T959.5 357.9M1006.1 116.8Q1002.4 173.3 1009.0 185.3T1035.3 214.9T1090.9 230.4M1051.5 143.8Q1007.5 180.8 1008.4 193.9T992.5 221.9T970.6 259.1T970.4 294.3T996.0 354.2M1059.0 151.4Q1008.7 181.6 1009.9 194.7T994.3 222.4T972.6 259.2T973.5 294.0T1010.0 349.8M842.7 204.3Q878.0 216.3 898.7 215.4T937.6 228.4T953.8 263.8T959.6 297.3T985.2 356.4M851.7 288.2Q884.4 264.9 901.2 260.2T940.3 251.3T980.9 260.1T1009.7 288.2T1051.8 323.9M1019.3 122.1Q1007.5 175.3 1012.1 185.8T1034.6 201.3T1089.2 213.1M1065.7 159.5Q1004.5 179.7 1003.1 191.3T982.3 215.8T940.1 235.0T899.9 246.4T840.1 250.4M839.1 239.6Q881.5 254.2 899.0 251.9T939.0 246.2T979.9 256.5T1009.4 285.8T1051.8 323.9M894.6 336.8Q907.4 295.4 924.4 288.6T944.8 260.2T931.6 224.7T895.5 212.4T850.1 183.2M967.6 110.0Q986.4 170.7 988.2 184.2T972.2 211.6T933.0 232.7T895.8 246.0T842.9 264.5" fill="none" stroke="#a2a2a2" stroke-width="0.55" stroke-opacity="0.5"/>
<path d="M888.4 332.4Q913.1 297.8 933.7 292.6T961.3 267.6T986.4 259.7T1021.8 277.9T1078.3 288.3M920.0 349.8Q965.1 312.9 1003.1 352.2M904.4 342.7Q917.0 298.2 937.0 291.4T963.9 263.5T989.7 228.9T1030.9 226.5T1090.1 218.9M839.9 219.0Q873.9 212.4 891.3 206.7T902.4 187.2T857.2 169.8M1087.5 263.2Q1054.2 262.2 1035.9 240.6T1001.1 231.4T999.6 257.2T1028.7 278.0T1061.3 313.9M999.6 353.2Q974.7 312.9 1013.5 348.5M866.6 311.4Q902.3 292.9 919.8 287.4T941.1 261.7T925.1 245.2T890.7 251.4T839.1 239.6M1059.0 151.4Q1002.7 178.3 1001.9 190.4T981.7 215.7T939.8 235.5T899.7 247.1T842.0 261.0M1090.8 226.5Q1058.9 234.4 1090.1 218.9M846.0 274.9Q883.4 255.3 901.5 252.1T942.6 243.4T985.4 225.9T1028.4 225.1T1090.9 238.1M1090.8 226.5Q1054.9 236.0 1033.1 226.6T993.3 230.8T968.9 265.6T967.6 298.3T952.1 357.4M985.4 111.6Q991.5 172.9 992.1 186.1T974.7 213.6T935.3 235.3T897.6 248.6T851.7 288.2M995.9 113.8Q994.1 174.2 994.5 187.6T976.9 215.5T952.8 252.3T925.9 280.8T866.6 311.4M1006.6 351.1Q979.2 311.1 973.7 300.6T973.4 270.1T994.9 261.8T1026.8 279.4T1074.7 295.1M901.1 340.9Q908.1 299.4 894.6 336.8M871.5 317.1Q913.7 298.0 933.0 291.7T959.6 265.7T985.3 258.2T1021.8 275.9T1079.9 284.8M1025.6 125.3Q1002.0 176.0 1005.1 190.0T992.3 218.9T972.2 256.2T973.8 291.5T1029.9 340.3M995.9 113.8Q997.0 176.0 998.1 189.8T982.2 218.8T960.3 256.9T959.7 293.0T937.6 355.0M1048.9 141.5Q1004.0 179.4 1005.1 193.2T988.6 221.9T965.4 259.2T964.5 294.5T948.5 356.9M1016.1 120.6Q1005.1 173.1 1010.5 183.8T1033.5 198.0T1084.3 194.2M839.1 228.8Q875.0 250.4 844.9 271.5M907.8 344.5Q914.9 295.7 936.0 289.7T964.0 262.4T989.5 227.3T1029.3 213.5T1086.6 201.7M839.3 243.2Q875.3 249.4 889.8 245.6T923.9 236.0T927.5 217.7T893.1 207.9T850.1 183.2M1090.7 241.9Q1058.5 239.8 1038.7 227.5T1002.6 227.5T1001.4 253.3T1030.2 274.9T1076.5 291.7M839.1 228.8Q881.3 252.6 898.7 250.7T938.5 245.5T979.3 256.3T1008.8 285.9T1045.2 329.6" fill="none" stroke="#a2a2a2" stroke-width="0.55" stroke-opacity="0.5"/>
<path d="M864.2 308.4Q910.4 293.3 931.3 287.5T959.7 261.6T986.7 228.8T1029.1 229.0T1090.7 241.9M850.1 183.2Q880.4 211.0 901.3 211.2T940.5 225.6T957.3 261.4T964.8 295.2T1013.5 348.5M1079.9 284.8Q1043.2 284.5 1029.6 279.9T1019.9 290.4T1041.8 332.3M1009.5 118.0Q999.7 175.2 1002.8 189.3T990.1 218.4T970.3 256.0T972.1 291.7T1023.5 343.8M1086.6 201.7Q1055.5 208.9 1085.6 198.0M1023.5 343.8Q973.8 308.7 965.0 297.6T957.6 266.0T936.9 248.8T897.8 254.1T840.1 250.4M1028.7 127.0Q1001.0 177.7 1001.2 191.1T983.5 219.4T959.6 256.8T933.8 286.7T907.8 344.5M843.8 268.0Q877.3 248.5 893.0 244.7T929.2 233.9T934.6 212.9T911.8 183.3T914.6 120.4M864.2 308.4Q907.3 291.9 924.0 283.4T945.5 253.0T934.7 216.7T910.4 186.6T901.4 127.0M981.5 356.9Q967.1 312.3 958.2 303.9T929.5 297.0T876.8 322.6M1056.6 148.8Q1011.5 181.2 1015.4 192.8T1036.3 230.7T1083.6 275.8M1041.8 332.3Q1024.1 306.0 1045.2 329.6M839.1 239.6Q880.9 251.0 898.8 250.3T939.2 245.9T980.3 256.2T1011.1 284.3T1054.9 320.9M850.1 183.2Q879.6 211.5 900.1 211.7T938.7 226.1T954.7 262.2T960.1 296.3T988.8 355.8M888.4 332.4Q909.9 296.4 925.8 287.9T945.5 257.6T933.0 221.4T908.1 190.4T867.8 155.0M866.6 311.4Q912.5 296.2 932.3 290.1T959.5 264.1T986.3 232.1T1027.3 240.1T1085.1 271.6M894.6 336.8Q912.5 294.1 934.0 288.4T962.5 261.3T988.4 226.3T1028.2 211.5T1085.6 198.0M988.9 112.2Q992.6 173.8 993.4 187.3T976.2 215.4T952.3 252.2T928.1 283.0T866.6 311.4M913.1 347.0Q963.3 311.6 959.2 301.7T961.2 272.4T984.4 265.4T1010.5 292.5T1041.8 332.3M842.9 264.5Q875.2 253.5 840.1 250.4M841.1 211.7Q873.8 211.6 845.9 193.6M985.4 111.6Q995.2 174.2 998.6 188.6T986.3 218.3T966.7 256.3T969.1 292.4T1006.6 351.1M1090.9 230.4Q1059.0 236.7 1090.7 241.9M853.3 291.4Q877.0 258.7 848.7 281.6M974.8 110.4Q994.6 175.0 997.3 189.1T984.1 218.5T964.4 256.6T966.5 292.9T992.4 355.0" fill="none" stroke="#a2a2a2" stroke-width="0.55" stroke-opacity="0.5"/>
<path d="M843.6 200.7Q880.7 213.2 902.4 212.4T943.3 225.0T981.0 252.8T1016.7 276.5T1058.8 316.8M1087.5 263.2Q1054.7 260.6 1036.1 239.9T1001.0 231.6T999.3 257.5T1028.0 278.8T1058.8 316.8M901.1 340.9Q907.9 299.3 888.4 332.4M1083.6 275.8Q1054.2 262.7 1036.0 241.3T1001.4 231.8T1000.3 256.9T1029.7 276.9T1070.6 301.6M967.6 110.0Q990.2 174.0 992.9 188.5T979.0 218.4T957.8 256.5T959.0 292.7T934.0 354.2M967.6 110.0Q995.8 174.4 999.1 187.9T987.6 216.3T989.2 247.1T1014.4 280.7T1048.5 326.8M839.0 232.4Q875.4 253.0 843.8 268.0M970.5 357.9Q967.0 310.1 958.4 298.5T952.0 265.8T932.9 247.6T895.6 252.9T839.1 228.8M1080.0 183.4Q1055.4 211.5 1038.7 208.7T1038.3 231.5T1088.4 258.9M1089.2 213.1Q1054.9 207.3 1086.6 201.7M913.1 347.0Q956.4 310.7 949.5 302.3T923.8 295.2T869.0 314.3M1025.6 125.3Q997.9 175.1 997.7 187.9T978.8 214.8T938.2 236.0T899.5 250.0T850.1 284.9M1031.8 128.9Q1004.2 175.8 1007.6 189.3T995.5 217.1T995.7 246.8T1026.1 272.0T1063.8 311.0M864.2 308.4Q911.2 293.8 931.6 287.7T959.7 261.3T986.7 228.4T1029.2 224.4T1090.9 238.1M1006.1 116.8Q994.8 172.3 994.7 184.5T975.9 209.9T935.5 229.9T896.9 241.5T839.0 232.4M1067.9 162.4Q1004.8 178.5 1003.5 189.2T982.8 212.1T944.1 213.1T903.0 204.6T844.7 197.1M907.8 344.5Q915.0 299.1 935.6 294.3T962.9 269.6T987.3 261.7T1021.7 280.1T1072.7 298.4M953.6 110.5Q953.5 146.0 950.8 163.8T950.4 203.0T931.7 231.3T894.7 243.9T840.1 250.4M1063.6 156.8Q1005.2 176.6 1004.2 186.6T984.1 208.3T946.2 208.2T915.3 183.1T867.8 155.0M1054.1 146.3Q1004.4 180.4 1004.2 193.5T985.6 221.2T960.8 257.8T934.5 287.6T901.1 340.9M847.3 278.3Q881.8 258.0 899.2 256.5T938.8 251.0T979.1 260.5T1006.8 290.0T1038.3 334.8M844.7 197.1Q876.5 209.5 895.2 202.1T909.5 179.6T911.2 121.9M1020.2 345.5Q971.0 311.4 962.6 303.5T934.0 297.8T891.5 334.7M841.8 208.0Q873.8 211.8 847.2 190.1M844.7 197.1Q875.6 206.7 892.8 202.2T904.1 183.8T867.8 155.0" fill="none" stroke="#a2a2a2" stroke-width="0.55" stroke-opacity="0.5"/>
<path d="M1037.7 132.7Q1007.2 177.3 1012.6 189.5T1035.5 228.0T1087.5 263.2M840.6 253.9Q875.9 255.0 889.9 250.2T923.2 240.1T926.5 222.6T891.7 213.5T839.5 222.8M1087.6 205.5Q1053.3 212.8 1034.1 213.4T997.8 227.8T975.5 262.9T974.2 296.1T1016.8 347.0M920.0 349.8Q957.4 310.2 950.7 299.3T947.0 267.9T929.6 251.1T893.6 256.7T843.8 268.0M1025.6 125.3Q1006.7 177.5 1008.4 190.0T994.7 216.9T994.9 246.9T1025.3 272.6T1061.3 313.9M1016.1 120.6Q1000.9 177.0 1002.4 190.8T987.1 219.7T965.6 257.7T965.9 293.7T974.2 357.7M1026.7 342.1Q973.1 309.9 965.4 299.6T959.2 269.3T938.9 253.6T900.5 261.5T856.9 297.7M871.5 317.1Q905.7 297.2 922.2 291.4T942.5 266.0T926.8 250.8T892.7 258.7T851.7 288.2M842.0 261.0Q876.5 249.4 891.8 245.2T927.1 234.2T931.8 213.9T908.1 185.2T889.1 135.0M904.4 342.7Q914.3 297.3 935.5 292.4T963.6 267.1T989.3 234.0T1028.6 242.9T1086.3 267.4M1091.0 234.2Q1056.4 238.8 1035.5 228.3T997.2 231.3T974.3 265.6T973.2 298.1T1003.1 352.2M1087.5 263.2Q1054.2 263.0 1036.3 240.4T1002.1 230.0T1001.0 255.2T1030.9 274.7T1074.7 295.1M999.3 114.7Q999.5 175.6 1002.0 189.3T988.8 218.2T969.2 256.0T972.1 291.7T1020.2 345.5M948.5 356.9Q966.9 313.1 963.3 302.9T965.4 273.1T987.8 265.6T1013.3 292.0T1048.5 326.8M1022.5 123.7Q997.9 174.6 997.3 187.0T977.9 213.1T937.2 233.8T898.3 246.6T842.9 264.5M845.9 193.6Q877.3 207.0 895.8 200.6T908.2 180.9T914.6 120.4M999.6 353.2Q967.1 311.8 958.9 303.4T930.9 296.9T874.1 319.9M1078.3 179.8Q1053.7 203.4 1083.0 190.6M981.5 356.9Q971.5 313.3 967.3 303.2T968.1 273.7T989.2 266.4T1014.0 292.6T1038.3 334.8M1012.8 119.3Q1001.3 174.6 1004.9 188.3T993.1 216.5T993.7 246.7T1025.3 271.3T1058.8 316.8M864.2 308.4Q904.9 293.5 921.1 286.3T941.2 258.2T928.8 224.0T893.7 211.8T844.7 197.1M1067.9 162.4Q1011.3 182.0 1013.3 194.4T999.1 220.8T998.1 249.6T1028.1 273.0T1061.3 313.9M953.6 110.5Q958.3 142.1 954.9 158.3T954.8 193.9T941.1 202.0T916.1 176.0T898.2 128.8M1073.7 171.2Q1010.1 185.8 1008.9 198.0T989.4 224.6T964.6 260.8T962.4 295.0T923.4 351.1M1025.6 125.3Q998.1 176.0 999.2 190.0T982.4 218.8T958.3 256.1T933.0 286.5T897.8 338.9" fill="none" stroke="#a2a2a2" stroke-width="0.55" stroke-opacity="0.5"/>
<path d="M844.9 271.5Q876.4 253.9 890.9 249.2T924.8 238.2T928.5 218.7T904.0 190.5T855.3 173.0M992.4 355.0Q969.6 311.8 961.5 301.3T955.6 270.7T936.4 254.6T898.7 261.0T856.9 297.7M1085.6 198.0Q1054.4 207.9 1038.4 207.8T1038.3 233.6T1087.5 263.2M1089.2 213.1Q1055.5 209.9 1039.3 207.8T1041.0 219.9T1090.8 226.5M844.9 271.5Q875.8 254.3 890.2 250.5T923.8 240.8T927.0 222.4T892.5 211.2T841.8 208.0M841.1 211.7Q876.9 214.8 896.6 215.0T933.6 229.0T948.3 264.1T953.6 297.2T934.0 354.2M1073.7 171.2Q1011.6 181.4 1016.6 192.5T1039.9 217.9T1090.4 245.8M876.8 322.6Q904.0 295.8 921.6 290.9T943.0 266.3T927.0 250.8T892.8 258.7T850.1 284.9M1022.5 123.7Q998.1 174.6 997.4 186.8T977.8 212.5T937.0 233.0T897.7 244.1T841.3 257.5M897.8 338.9Q908.5 299.3 925.1 293.7T945.2 268.0T928.6 252.0T893.8 259.8T850.1 284.9M851.7 288.2Q885.1 261.2 902.6 256.3T943.1 246.0T985.6 228.5T1028.4 228.5T1089.4 253.4M999.3 114.7Q998.8 174.2 1002.4 188.2T990.7 217.0T991.3 247.7T1016.4 280.4T1045.2 329.6M1002.7 115.7Q996.5 175.4 996.1 188.3T977.6 215.7T953.3 252.5T927.1 281.8T866.6 311.4M995.9 113.8Q999.1 173.3 1003.2 186.8T992.2 214.8T993.7 244.7T1025.7 269.7T1070.6 301.6M1073.7 171.2Q1004.9 181.8 1004.1 194.1T983.9 219.6T941.8 239.5T901.2 250.2T850.1 284.9M981.9 111.1Q991.3 171.7 991.4 183.9T973.4 209.6T933.7 229.8T895.8 241.8T839.0 236.0M974.2 357.7Q975.0 312.0 969.7 301.5T970.0 270.8T992.5 262.3T1024.6 280.7T1074.7 295.1M926.9 352.2Q970.3 312.0 1029.9 340.3M1067.9 162.4Q1008.3 181.7 1010.8 195.1T996.5 223.0T975.0 259.2T975.7 293.4T1026.7 342.1M874.1 319.9Q906.5 293.8 923.1 286.0T943.7 256.7T931.5 221.1T905.5 191.9T863.3 160.8M1016.8 347.0Q971.2 312.7 934.0 354.2M1038.3 334.8Q1022.1 307.5 1038.3 334.8M1061.3 154.0Q1005.1 181.0 1006.2 194.7T989.4 223.1T965.6 260.0T964.8 294.8T941.2 355.8M901.1 340.9Q916.6 298.3 936.6 291.5T963.6 263.9T989.5 229.6T1030.8 228.6T1090.8 226.5M1090.9 230.4Q1058.8 235.2 1040.8 223.1T1039.2 234.4T1086.3 267.4" fill="none" stroke="#a2a2a2" stroke-width="0.55" stroke-opacity="0.5"/>
<path d="M1040.6 134.8Q1001.6 177.8 1003.3 192.0T987.5 221.1T964.4 258.6T962.4 294.2T944.8 356.4M888.4 332.4Q914.8 297.1 934.9 290.4T962.2 263.0T988.5 229.0T1030.3 226.3T1090.8 226.5M869.0 314.3Q904.4 296.0 921.5 290.9T942.5 266.2T926.9 251.2T893.1 259.6T855.0 294.6M952.1 357.4Q963.3 311.0 955.5 299.9T950.3 268.2T931.8 250.9T894.8 256.0T842.0 261.0M850.1 183.2Q879.6 212.0 900.2 211.9T939.0 226.1T955.1 262.1T959.6 296.2T992.4 355.0M851.7 288.2Q884.1 260.8 901.6 257.4T941.8 249.3T983.1 257.5T1020.2 276.0T1072.7 298.4M988.9 112.2Q1000.0 172.4 1007.0 184.5T1034.2 212.1T1090.8 226.5M955.8 357.7Q963.8 313.2 916.5 348.5M879.6 325.2Q915.1 297.6 934.5 290.6T961.3 263.1T987.9 229.6T1029.9 226.6T1090.9 238.1M1002.7 115.7Q999.9 175.8 1002.3 189.5T988.9 218.4T969.1 256.2T971.7 292.0T1016.8 347.0M839.0 232.4Q874.4 248.5 842.0 261.0M839.0 236.0Q876.3 251.4 890.5 245.7T924.4 234.2T928.2 215.7T904.5 188.0T857.2 169.8M1088.5 209.3Q1055.1 211.7 1036.8 211.6T1002.3 224.4T1001.0 251.2T1030.8 272.5T1074.7 295.1M839.1 228.8Q880.9 252.5 898.2 250.9T937.7 246.0T978.1 257.1T1007.7 286.6T1034.7 337.3M1086.6 201.7Q1054.6 206.4 1038.7 205.2T1040.7 217.5T1090.1 218.9M879.6 325.2Q913.5 296.1 933.8 289.6T961.3 262.5T987.9 228.8T1029.9 226.6T1090.9 230.4M1063.6 156.8Q1003.3 176.8 1002.6 187.8T982.6 211.0T944.0 211.9T902.9 204.2T847.2 190.1M978.3 110.7Q999.5 175.1 1005.9 188.0T1031.0 228.3T1083.6 275.8M851.7 288.2Q883.2 260.0 900.7 257.7T940.5 251.0T981.2 259.8T1008.8 288.8T1054.9 320.9M839.1 228.8Q876.8 246.3 892.0 241.5T927.4 230.4T932.5 210.9T912.0 180.4T898.2 128.8M966.8 358.0Q966.7 311.8 958.4 301.1T952.4 270.0T933.7 253.5T896.9 260.5T850.1 284.9M874.1 319.9Q906.7 297.7 922.6 291.3T942.3 265.0T926.2 249.2T891.4 254.3T844.9 271.5M842.9 264.5Q881.9 255.2 899.8 253.6T940.3 247.8T981.5 257.0T1018.2 277.3T1063.8 311.0M1006.1 116.8Q1004.3 171.4 1046.2 139.2M1071.8 168.2Q1002.2 178.7 1002.3 190.8T982.8 215.6T940.5 234.1T899.7 243.9T839.0 236.0" fill="none" stroke="#a2a2a2" stroke-width="0.55" stroke-opacity="0.5"/>
<path d="M1061.3 154.0Q1006.4 182.0 1005.5 194.7T986.1 221.8T961.0 258.2T934.4 287.6T897.8 338.9M1080.0 183.4Q1053.7 208.3 1035.4 208.6T1000.9 222.4T999.8 250.3T1029.0 273.6T1068.4 304.8M871.5 317.1Q904.2 293.1 921.2 286.5T942.1 258.9T929.5 224.3T894.2 211.5T845.9 193.6M856.9 297.7Q884.9 258.2 902.9 254.6T943.8 245.2T986.2 226.8T1028.9 226.2T1090.9 230.4M1002.7 115.7Q999.1 175.3 1002.0 189.3T988.9 218.4T969.1 256.2T971.4 292.0T1016.8 347.0M1046.2 139.2Q1004.5 178.4 1007.0 192.3T993.0 221.1T971.7 258.2T970.8 293.5T1010.0 349.8" fill="none" stroke="#a2a2a2" stroke-width="0.55" stroke-opacity="0.5"/>
<path d="M915.5 115.1L919.3 113.6L916.2 105.5L912.2 107.0Z" fill="#c3d6d6"/>
<path d="M919.3 113.6L923.1 112.3L920.8 105.5L916.7 106.9Z" fill="#c3d6d6"/>
<path d="M923.1 112.3L926.9 111.1L924.9 104.4L920.8 105.7Z" fill="#c3d6d6"/>
<path d="M926.9 111.1L930.8 110.0L929.1 103.6L925.0 104.7Z" fill="#c3d6d6"/>
<path d="M930.8 110.0L934.7 109.0L933.4 103.5L929.3 104.5Z" fill="#c3d6d6"/>
<path d="M934.7 109.0L938.7 108.1L937.7 103.2L933.6 104.1Z" fill="#c3d6d6"/>
<path d="M938.7 108.1L942.6 107.4L941.8 102.7L937.7 103.4Z" fill="#c3d6d6"/>
<path d="M942.6 107.4L946.6 106.8L946.0 102.6L941.9 103.2Z" fill="#c3d6d6"/>
<path d="M946.6 106.8L950.7 106.3L950.2 102.3L946.1 102.8Z" fill="#c3d6d6"/>
<circle cx="918.3" cy="116.7" r="1.9" fill="#f3ef7a"/>
<circle cx="922.0" cy="115.3" r="1.9" fill="#f3ef7a"/>
<circle cx="925.8" cy="114.1" r="1.9" fill="#f3ef7a"/>
<circle cx="929.6" cy="112.9" r="1.9" fill="#f3ef7a"/>
<circle cx="933.4" cy="111.9" r="1.9" fill="#f3ef7a"/>
<circle cx="937.2" cy="111.0" r="1.9" fill="#f3ef7a"/>
<circle cx="941.1" cy="110.2" r="1.9" fill="#f3ef7a"/>
<circle cx="945.0" cy="109.5" r="1.9" fill="#f3ef7a"/>
<circle cx="949.0" cy="109.0" r="1.9" fill="#f3ef7a"/>
<path d="M950.7 106.3L955.6 105.8L955.1 98.4L949.9 98.9Z" fill="#c3d6d6"/>
<path d="M955.6 105.8L960.5 105.6L960.3 100.1L955.2 100.4Z" fill="#c3d6d6"/>
<path d="M960.5 105.6L965.4 105.5L965.4 100.2L960.3 100.3Z" fill="#c3d6d6"/>
<circle cx="953.4" cy="108.5" r="1.9" fill="#f3ef7a"/>
<circle cx="958.2" cy="108.2" r="1.9" fill="#f3ef7a"/>
<circle cx="963.0" cy="108.0" r="1.9" fill="#f3ef7a"/>
<path d="M965.9 105.5L969.6 105.6L969.7 102.0L965.9 101.9Z" fill="#c3d6d6"/>
<path d="M969.6 105.6L973.3 105.8L973.5 101.8L969.7 101.6Z" fill="#c3d6d6"/>
<path d="M973.3 105.8L977.0 106.0L977.3 101.8L973.5 101.5Z" fill="#c3d6d6"/>
<path d="M977.0 106.0L980.6 106.4L981.1 102.2L977.3 101.8Z" fill="#c3d6d6"/>
<path d="M980.6 106.4L984.3 106.9L984.9 102.7L981.1 102.2Z" fill="#c3d6d6"/>
<path d="M984.3 106.9L987.9 107.5L988.7 103.1L984.9 102.5Z" fill="#c3d6d6"/>
<path d="M987.9 107.5L991.6 108.2L992.5 103.8L988.7 103.0Z" fill="#c3d6d6"/>
<path d="M991.6 108.2L995.2 109.0L996.2 104.5L992.5 103.7Z" fill="#c3d6d6"/>
<path d="M995.2 109.0L998.7 109.9L999.9 105.4L996.2 104.5Z" fill="#c3d6d6"/>
<path d="M998.7 109.9L1002.3 110.9L1003.7 106.3L1000.0 105.3Z" fill="#c3d6d6"/>
<path d="M1002.3 110.9L1005.8 111.9L1007.4 107.3L1003.7 106.1Z" fill="#c3d6d6"/>
<path d="M1005.8 111.9L1009.3 113.1L1011.0 108.3L1007.4 107.1Z" fill="#c3d6d6"/>
<path d="M1009.3 113.1L1012.8 114.4L1014.6 109.7L1011.0 108.3Z" fill="#c3d6d6"/>
<path d="M1012.8 114.4L1016.2 115.8L1018.2 111.0L1014.7 109.5Z" fill="#c3d6d6"/>
<path d="M1016.2 115.8L1019.6 117.3L1022.0 111.9L1018.5 110.4Z" fill="#c3d6d6"/>
<path d="M1019.6 117.3L1022.9 118.8L1025.5 113.5L1022.0 111.9Z" fill="#c3d6d6"/>
<path d="M1022.9 118.8L1026.2 120.5L1029.1 115.0L1025.7 113.2Z" fill="#c3d6d6"/>
<path d="M1026.2 120.5L1029.4 122.2L1032.5 116.8L1029.1 115.0Z" fill="#c3d6d6"/>
<path d="M1029.4 122.2L1032.6 124.1L1036.1 118.2L1032.8 116.3Z" fill="#c3d6d6"/>
<path d="M1032.6 124.1L1035.7 126.0L1039.5 120.2L1036.2 118.2Z" fill="#c3d6d6"/>
<path d="M1035.7 126.0L1038.8 128.0L1042.7 122.3L1039.5 120.2Z" fill="#c3d6d6"/>
<path d="M1038.8 128.0L1041.8 130.1L1045.9 124.5L1042.8 122.3Z" fill="#c3d6d6"/>
<path d="M1041.8 130.1L1044.8 132.3L1049.2 126.5L1046.1 124.2Z" fill="#c3d6d6"/>
<path d="M1044.8 132.3L1047.7 134.6L1052.4 128.7L1049.4 126.3Z" fill="#c3d6d6"/>
<path d="M1047.7 134.6L1050.5 136.9L1055.5 131.2L1052.5 128.7Z" fill="#c3d6d6"/>
<path d="M1050.5 136.9L1053.3 139.3L1058.5 133.6L1055.6 131.0Z" fill="#c3d6d6"/>
<path d="M1053.3 139.3L1055.9 141.8L1061.4 136.2L1058.6 133.6Z" fill="#c3d6d6"/>
<path d="M1055.9 141.8L1058.5 144.4L1064.5 138.6L1061.7 135.9Z" fill="#c3d6d6"/>
<path d="M1058.5 144.4L1061.1 147.0L1071.4 137.6L1068.6 134.6Z" fill="#f5571f"/>
<path d="M1061.1 147.0L1063.5 149.8L1074.9 139.9L1072.1 136.9Z" fill="#f5571f"/>
<path d="M1063.5 149.8L1065.9 152.5L1078.3 142.4L1075.6 139.3Z" fill="#f5571f"/>
<path d="M1065.9 152.5L1068.2 155.4L1081.7 145.0L1079.1 141.8Z" fill="#f5571f"/>
<path d="M1068.2 155.4L1070.4 158.3L1085.0 147.7L1082.5 144.4Z" fill="#f5571f"/>
<path d="M1070.4 158.3L1072.6 161.3L1088.2 150.5L1085.8 147.1Z" fill="#f5571f"/>
<path d="M1072.6 161.3L1074.6 164.3L1091.4 153.4L1089.1 149.9Z" fill="#f5571f"/>
<path d="M1074.6 164.3L1076.6 167.4L1094.5 156.5L1092.3 152.9Z" fill="#f5571f"/>
<path d="M1076.6 167.4L1078.5 170.5L1097.6 159.6L1095.4 156.0Z" fill="#f5571f"/>
<path d="M1078.5 170.5L1080.2 173.7L1100.5 162.9L1098.5 159.1Z" fill="#f5571f"/>
<circle cx="967.7" cy="108.0" r="1.9" fill="#17909f"/>
<circle cx="971.3" cy="108.2" r="1.9" fill="#17909f"/>
<circle cx="974.9" cy="108.4" r="1.9" fill="#17909f"/>
<circle cx="978.5" cy="108.7" r="1.9" fill="#17909f"/>
<circle cx="982.1" cy="109.1" r="1.9" fill="#17909f"/>
<circle cx="985.7" cy="109.7" r="1.9" fill="#17909f"/>
<circle cx="989.3" cy="110.3" r="1.9" fill="#17909f"/>
<circle cx="992.8" cy="111.0" r="1.9" fill="#17909f"/>
<circle cx="996.3" cy="111.8" r="1.9" fill="#17909f"/>
<circle cx="999.8" cy="112.8" r="1.9" fill="#17909f"/>
<circle cx="1003.3" cy="113.8" r="1.9" fill="#17909f"/>
<circle cx="1006.8" cy="114.9" r="1.9" fill="#17909f"/>
<circle cx="1010.2" cy="116.1" r="1.9" fill="#17909f"/>
<circle cx="1013.5" cy="117.4" r="1.9" fill="#17909f"/>
<circle cx="1016.9" cy="118.8" r="1.9" fill="#17909f"/>
<circle cx="1020.2" cy="120.3" r="1.9" fill="#17909f"/>
<circle cx="1023.4" cy="121.9" r="1.9" fill="#17909f"/>
<circle cx="1026.6" cy="123.6" r="1.9" fill="#17909f"/>
<circle cx="1029.8" cy="125.3" r="1.9" fill="#17909f"/>
<circle cx="1032.9" cy="127.2" r="1.9" fill="#17909f"/>
<circle cx="1035.9" cy="129.1" r="1.9" fill="#17909f"/>
<circle cx="1038.9" cy="131.1" r="1.9" fill="#17909f"/>
<circle cx="1041.8" cy="133.2" r="1.9" fill="#17909f"/>
<circle cx="1044.7" cy="135.4" r="1.9" fill="#17909f"/>
<circle cx="1047.5" cy="137.6" r="1.9" fill="#17909f"/>
<circle cx="1050.2" cy="140.0" r="1.9" fill="#17909f"/>
<circle cx="1052.9" cy="142.4" r="1.9" fill="#17909f"/>
<circle cx="1055.5" cy="144.9" r="1.9" fill="#17909f"/>
<circle cx="1058.0" cy="147.4" r="1.9" fill="#17909f"/>
<circle cx="1060.5" cy="150.1" r="1.9" fill="#17909f"/>
<circle cx="1062.8" cy="152.8" r="1.9" fill="#17909f"/>
<circle cx="1065.1" cy="155.5" r="1.9" fill="#17909f"/>
<circle cx="1067.3" cy="158.3" r="1.9" fill="#17909f"/>
<circle cx="1069.5" cy="161.2" r="1.9" fill="#17909f"/>
<circle cx="1071.5" cy="164.2" r="1.9" fill="#17909f"/>
<circle cx="1073.5" cy="167.1" r="1.9" fill="#17909f"/>
<circle cx="1075.4" cy="170.2" r="1.9" fill="#17909f"/>
<circle cx="1077.2" cy="173.3" r="1.9" fill="#17909f"/>
<path d="M1081.5 176.1L1083.3 179.7L1091.8 175.7L1089.9 171.8Z" fill="#c3d6d6"/>
<path d="M1083.3 179.7L1084.9 183.4L1092.8 180.0L1091.1 176.1Z" fill="#c3d6d6"/>
<path d="M1084.9 183.4L1086.5 187.1L1093.6 184.3L1092.0 180.4Z" fill="#c3d6d6"/>
<path d="M1086.5 187.1L1087.9 190.9L1094.7 188.5L1093.2 184.5Z" fill="#c3d6d6"/>
<path d="M1087.9 190.9L1089.3 194.7L1096.1 192.5L1094.7 188.5Z" fill="#c3d6d6"/>
<path d="M1089.3 194.7L1090.4 198.6L1096.9 196.7L1095.7 192.7Z" fill="#c3d6d6"/>
<path d="M1090.4 198.6L1091.5 202.5L1097.3 201.0L1096.1 196.9Z" fill="#c3d6d6"/>
<path d="M1091.5 202.5L1092.5 206.4L1097.0 205.4L1096.0 201.3Z" fill="#c3d6d6"/>
<path d="M1092.5 206.4L1093.3 210.4L1097.5 209.6L1096.6 205.5Z" fill="#c3d6d6"/>
<path d="M1093.3 210.4L1094.0 214.3L1098.0 213.7L1097.3 209.6Z" fill="#c3d6d6"/>
<circle cx="1080.1" cy="179.0" r="1.9" fill="#8de8cf"/>
<circle cx="1081.8" cy="182.6" r="1.9" fill="#8de8cf"/>
<circle cx="1083.4" cy="186.2" r="1.9" fill="#8de8cf"/>
<circle cx="1084.9" cy="189.9" r="1.9" fill="#8de8cf"/>
<circle cx="1086.2" cy="193.6" r="1.9" fill="#8de8cf"/>
<circle cx="1087.5" cy="197.4" r="1.9" fill="#8de8cf"/>
<circle cx="1088.6" cy="201.2" r="1.9" fill="#8de8cf"/>
<circle cx="1089.6" cy="205.0" r="1.9" fill="#8de8cf"/>
<circle cx="1090.4" cy="208.9" r="1.9" fill="#8de8cf"/>
<circle cx="1091.2" cy="212.8" r="1.9" fill="#8de8cf"/>
<path d="M1094.3 216.4L1094.8 220.3L1098.4 219.9L1097.9 215.9Z" fill="#c3d6d6"/>
<path d="M1094.8 220.3L1095.1 224.3L1098.9 224.0L1098.5 219.9Z" fill="#c3d6d6"/>
<path d="M1095.1 224.3L1095.4 228.3L1099.2 228.1L1099.0 224.0Z" fill="#c3d6d6"/>
<path d="M1095.4 228.3L1095.5 232.3L1099.7 232.2L1099.6 228.1Z" fill="#c3d6d6"/>
<path d="M1095.5 232.3L1095.5 236.2L1100.1 236.3L1100.1 232.2Z" fill="#c3d6d6"/>
<path d="M1095.5 236.2L1095.3 240.2L1101.3 240.5L1101.5 236.3Z" fill="#c3d6d6"/>
<path d="M1095.3 240.2L1095.1 244.2L1105.1 245.0L1105.3 240.7Z" fill="#f5571f"/>
<path d="M1095.1 244.2L1094.7 248.2L1106.6 249.5L1107.0 245.2Z" fill="#f5571f"/>
<path d="M1094.7 248.2L1094.2 252.1L1108.1 254.1L1108.6 249.7Z" fill="#f5571f"/>
<path d="M1094.2 252.1L1093.6 256.1L1109.3 258.8L1110.0 254.4Z" fill="#f5571f"/>
<circle cx="1092.0" cy="218.6" r="1.9" fill="#5dbb2a"/>
<circle cx="1092.5" cy="222.5" r="1.9" fill="#5dbb2a"/>
<circle cx="1092.8" cy="226.4" r="1.9" fill="#5dbb2a"/>
<circle cx="1092.9" cy="230.3" r="1.9" fill="#5dbb2a"/>
<circle cx="1093.0" cy="234.2" r="1.9" fill="#5dbb2a"/>
<circle cx="1092.9" cy="238.2" r="1.9" fill="#5dbb2a"/>
<circle cx="1092.7" cy="242.1" r="1.9" fill="#5dbb2a"/>
<circle cx="1092.4" cy="246.0" r="1.9" fill="#5dbb2a"/>
<circle cx="1092.0" cy="249.8" r="1.9" fill="#5dbb2a"/>
<circle cx="1091.4" cy="253.7" r="1.9" fill="#5dbb2a"/>
<path d="M1093.3 257.6L1092.4 262.1L1097.5 263.2L1098.4 258.6Z" fill="#c3d6d6"/>
<path d="M1092.4 262.1L1091.3 266.5L1097.0 268.0L1098.1 263.3Z" fill="#c3d6d6"/>
<path d="M1091.3 266.5L1090.0 270.8L1095.8 272.5L1097.1 268.0Z" fill="#c3d6d6"/>
<path d="M1090.0 270.8L1088.6 275.1L1094.5 277.1L1096.0 272.6Z" fill="#c3d6d6"/>
<path d="M1088.6 275.1L1087.1 279.4L1093.2 281.7L1094.8 277.2Z" fill="#c3d6d6"/>
<path d="M1087.1 279.4L1085.4 283.6L1097.4 288.6L1099.2 284.0Z" fill="#f5571f"/>
<circle cx="1090.4" cy="259.3" r="1.9" fill="#80e57e"/>
<circle cx="1089.4" cy="263.7" r="1.9" fill="#80e57e"/>
<circle cx="1088.3" cy="268.0" r="1.9" fill="#80e57e"/>
<circle cx="1087.0" cy="272.2" r="1.9" fill="#80e57e"/>
<circle cx="1085.5" cy="276.4" r="1.9" fill="#80e57e"/>
<circle cx="1083.9" cy="280.6" r="1.9" fill="#80e57e"/>
<path d="M1084.8 284.9L1083.2 288.5L1091.4 292.3L1093.1 288.4Z" fill="#c3d6d6"/>
<path d="M1083.2 288.5L1081.4 292.0L1089.2 296.0L1091.1 292.2Z" fill="#c3d6d6"/>
<path d="M1081.4 292.0L1079.5 295.6L1085.7 298.9L1087.7 295.2Z" fill="#c3d6d6"/>
<path d="M1079.5 295.6L1077.6 299.0L1083.4 302.5L1085.5 298.8Z" fill="#c3d6d6"/>
<path d="M1077.6 299.0L1075.5 302.4L1081.1 305.9L1083.3 302.4Z" fill="#c3d6d6"/>
<path d="M1075.5 302.4L1073.3 305.7L1078.7 309.4L1081.0 305.9Z" fill="#c3d6d6"/>
<path d="M1073.3 305.7L1071.0 309.0L1075.6 312.3L1078.0 308.9Z" fill="#c3d6d6"/>
<path d="M1071.0 309.0L1068.6 312.2L1073.0 315.6L1075.5 312.2Z" fill="#c3d6d6"/>
<path d="M1068.6 312.2L1066.1 315.3L1069.7 318.3L1072.3 315.1Z" fill="#c3d6d6"/>
<path d="M1066.1 315.3L1063.5 318.3L1066.9 321.3L1069.6 318.1Z" fill="#c3d6d6"/>
<path d="M1063.5 318.3L1060.8 321.3L1063.6 323.9L1066.3 320.8Z" fill="#c3d6d6"/>
<circle cx="1081.8" cy="285.7" r="1.9" fill="#62b2e6"/>
<circle cx="1080.1" cy="289.2" r="1.9" fill="#62b2e6"/>
<circle cx="1078.3" cy="292.6" r="1.9" fill="#62b2e6"/>
<circle cx="1076.4" cy="296.1" r="1.9" fill="#62b2e6"/>
<circle cx="1074.4" cy="299.4" r="1.9" fill="#62b2e6"/>
<circle cx="1072.3" cy="302.7" r="1.9" fill="#62b2e6"/>
<circle cx="1070.1" cy="305.9" r="1.9" fill="#62b2e6"/>
<circle cx="1067.8" cy="309.1" r="1.9" fill="#62b2e6"/>
<circle cx="1065.4" cy="312.2" r="1.9" fill="#62b2e6"/>
<circle cx="1062.9" cy="315.2" r="1.9" fill="#62b2e6"/>
<circle cx="1060.3" cy="318.1" r="1.9" fill="#62b2e6"/>
<path d="M1059.6 322.5L1056.5 325.6L1058.9 328.1L1062.2 324.9Z" fill="#c3d6d6"/>
<path d="M1056.5 325.6L1053.2 328.7L1056.2 331.9L1059.6 328.8Z" fill="#c3d6d6"/>
<path d="M1053.2 328.7L1049.8 331.7L1053.0 335.4L1056.5 332.3Z" fill="#c3d6d6"/>
<path d="M1049.8 331.7L1046.3 334.5L1050.0 339.1L1053.7 336.1Z" fill="#c3d6d6"/>
<path d="M1046.3 334.5L1042.8 337.2L1047.2 343.2L1051.0 340.3Z" fill="#c3d6d6"/>
<path d="M1042.8 337.2L1039.1 339.8L1047.0 351.3L1051.1 348.4Z" fill="#f5571f"/>
<path d="M1039.1 339.8L1035.3 342.2L1041.8 352.4L1045.9 349.7Z" fill="#f5571f"/>
<circle cx="1056.3" cy="322.3" r="1.9" fill="#8d9be0"/>
<circle cx="1053.1" cy="325.4" r="1.9" fill="#8d9be0"/>
<circle cx="1049.9" cy="328.3" r="1.9" fill="#8d9be0"/>
<circle cx="1046.5" cy="331.2" r="1.9" fill="#8d9be0"/>
<circle cx="1043.0" cy="333.9" r="1.9" fill="#8d9be0"/>
<circle cx="1039.5" cy="336.5" r="1.9" fill="#8d9be0"/>
<circle cx="1035.8" cy="338.9" r="1.9" fill="#8d9be0"/>
<path d="M1033.8 343.2L1030.6 345.1L1032.3 348.2L1035.7 346.2Z" fill="#c3d6d6"/>
<path d="M1030.6 345.1L1027.2 346.9L1029.1 350.3L1032.5 348.4Z" fill="#c3d6d6"/>
<path d="M1027.2 346.9L1023.9 348.7L1025.7 352.3L1029.2 350.5Z" fill="#c3d6d6"/>
<path d="M1023.9 348.7L1020.4 350.3L1022.2 354.1L1025.7 352.4Z" fill="#c3d6d6"/>
<path d="M1020.4 350.3L1017.0 351.9L1018.6 355.8L1022.2 354.2Z" fill="#c3d6d6"/>
<path d="M1017.0 351.9L1013.4 353.3L1015.0 357.3L1018.7 355.8Z" fill="#c3d6d6"/>
<path d="M1013.4 353.3L1009.9 354.7L1011.4 358.8L1015.1 357.4Z" fill="#c3d6d6"/>
<path d="M1009.9 354.7L1006.3 355.9L1007.7 360.2L1011.4 358.9Z" fill="#c3d6d6"/>
<path d="M1006.3 355.9L1002.6 357.0L1004.0 361.7L1007.8 360.5Z" fill="#c3d6d6"/>
<path d="M1002.6 357.0L999.0 358.1L1000.3 363.0L1004.1 362.0Z" fill="#c3d6d6"/>
<path d="M999.0 358.1L995.3 359.0L996.5 364.2L1000.3 363.2Z" fill="#c3d6d6"/>
<path d="M995.3 359.0L991.5 359.8L992.7 365.3L996.5 364.4Z" fill="#c3d6d6"/>
<path d="M991.5 359.8L987.8 360.5L988.9 366.6L992.8 365.9Z" fill="#c3d6d6"/>
<path d="M987.8 360.5L984.0 361.1L985.0 367.6L988.9 367.0Z" fill="#c3d6d6"/>
<path d="M984.0 361.1L980.2 361.6L981.0 368.2L985.0 367.7Z" fill="#c3d6d6"/>
<path d="M980.2 361.6L976.4 362.0L977.0 368.9L981.0 368.4Z" fill="#c3d6d6"/>
<path d="M976.4 362.0L972.6 362.3L973.0 369.2L977.0 368.9Z" fill="#c3d6d6"/>
<path d="M972.6 362.3L968.8 362.4L969.0 369.4L973.0 369.2Z" fill="#c3d6d6"/>
<path d="M968.8 362.4L965.0 362.5L965.0 369.8L969.0 369.8Z" fill="#c3d6d6"/>
<path d="M965.0 362.5L961.2 362.4L961.0 369.9L965.0 370.0Z" fill="#c3d6d6"/>
<path d="M961.2 362.4L957.4 362.3L956.9 369.8L961.0 370.0Z" fill="#c3d6d6"/>
<path d="M957.4 362.3L953.6 362.0L952.9 369.6L956.9 369.9Z" fill="#c3d6d6"/>
<path d="M953.6 362.0L949.8 361.6L948.9 369.2L952.9 369.6Z" fill="#c3d6d6"/>
<path d="M949.8 361.6L946.0 361.1L944.8 368.8L948.9 369.4Z" fill="#c3d6d6"/>
<path d="M946.0 361.1L942.2 360.5L940.8 368.2L944.8 368.9Z" fill="#c3d6d6"/>
<path d="M942.2 360.5L938.5 359.8L936.8 367.6L940.8 368.4Z" fill="#c3d6d6"/>
<path d="M938.5 359.8L934.7 359.0L932.8 366.9L936.8 367.8Z" fill="#c3d6d6"/>
<path d="M934.7 359.0L931.0 358.1L928.9 366.1L932.8 367.1Z" fill="#c3d6d6"/>
<path d="M931.0 358.1L927.4 357.0L924.9 365.2L928.8 366.3Z" fill="#c3d6d6"/>
<path d="M927.4 357.0L923.7 355.9L921.0 364.2L924.9 365.4Z" fill="#c3d6d6"/>
<path d="M923.7 355.9L920.1 354.7L917.1 363.0L920.9 364.3Z" fill="#c3d6d6"/>
<path d="M920.1 354.7L916.6 353.3L912.1 364.5L916.0 365.9Z" fill="#f5571f"/>
<path d="M916.6 353.3L913.0 351.9L907.9 363.8L911.7 365.4Z" fill="#f5571f"/>
<path d="M913.0 351.9L909.6 350.3L903.6 363.0L907.5 364.7Z" fill="#f5571f"/>
<circle cx="1030.9" cy="342.0" r="1.9" fill="#ff8aa2"/>
<circle cx="1027.7" cy="343.9" r="1.9" fill="#ff8aa2"/>
<circle cx="1024.4" cy="345.6" r="1.9" fill="#ff8aa2"/>
<circle cx="1021.1" cy="347.3" r="1.9" fill="#ff8aa2"/>
<circle cx="1017.7" cy="348.8" r="1.9" fill="#ff8aa2"/>
<circle cx="1014.2" cy="350.3" r="1.9" fill="#ff8aa2"/>
<circle cx="1010.8" cy="351.7" r="1.9" fill="#ff8aa2"/>
<circle cx="1007.2" cy="352.9" r="1.9" fill="#ff8aa2"/>
<circle cx="1003.7" cy="354.1" r="1.9" fill="#ff8aa2"/>
<circle cx="1000.1" cy="355.2" r="1.9" fill="#ff8aa2"/>
<circle cx="996.5" cy="356.1" r="1.9" fill="#ff8aa2"/>
<circle cx="992.8" cy="357.0" r="1.9" fill="#ff8aa2"/>
<circle cx="989.2" cy="357.7" r="1.9" fill="#ff8aa2"/>
<circle cx="985.5" cy="358.4" r="1.9" fill="#ff8aa2"/>
<circle cx="981.8" cy="358.9" r="1.9" fill="#ff8aa2"/>
<circle cx="978.1" cy="359.3" r="1.9" fill="#ff8aa2"/>
<circle cx="974.3" cy="359.7" r="1.9" fill="#ff8aa2"/>
<circle cx="970.6" cy="359.9" r="1.9" fill="#ff8aa2"/>
<circle cx="966.9" cy="360.0" r="1.9" fill="#ff8aa2"/>
<circle cx="963.1" cy="360.0" r="1.9" fill="#ff8aa2"/>
<circle cx="959.4" cy="359.9" r="1.9" fill="#ff8aa2"/>
<circle cx="955.6" cy="359.7" r="1.9" fill="#ff8aa2"/>
<circle cx="951.9" cy="359.3" r="1.9" fill="#ff8aa2"/>
<circle cx="948.2" cy="358.9" r="1.9" fill="#ff8aa2"/>
<circle cx="944.5" cy="358.4" r="1.9" fill="#ff8aa2"/>
<circle cx="940.8" cy="357.7" r="1.9" fill="#ff8aa2"/>
<circle cx="937.1" cy="357.0" r="1.9" fill="#ff8aa2"/>
<circle cx="933.5" cy="356.1" r="1.9" fill="#ff8aa2"/>
<circle cx="929.9" cy="355.2" r="1.9" fill="#ff8aa2"/>
<circle cx="926.3" cy="354.1" r="1.9" fill="#ff8aa2"/>
<circle cx="922.8" cy="352.9" r="1.9" fill="#ff8aa2"/>
<circle cx="919.2" cy="351.7" r="1.9" fill="#ff8aa2"/>
<circle cx="915.8" cy="350.3" r="1.9" fill="#ff8aa2"/>
<circle cx="912.3" cy="348.8" r="1.9" fill="#ff8aa2"/>
<path d="M907.5 349.4L904.0 347.6L899.7 355.8L903.4 357.7Z" fill="#c3d6d6"/>
<path d="M904.0 347.6L900.5 345.7L896.0 353.6L899.7 355.6Z" fill="#c3d6d6"/>
<path d="M900.5 345.7L897.1 343.7L892.6 351.1L896.3 353.2Z" fill="#c3d6d6"/>
<path d="M897.1 343.7L893.7 341.7L889.1 348.8L892.7 351.0Z" fill="#c3d6d6"/>
<path d="M893.7 341.7L890.5 339.5L885.7 346.3L889.2 348.6Z" fill="#c3d6d6"/>
<path d="M890.5 339.5L887.2 337.2L882.5 343.6L885.9 346.0Z" fill="#c3d6d6"/>
<path d="M887.2 337.2L884.1 334.8L879.2 341.1L882.5 343.6Z" fill="#c3d6d6"/>
<path d="M884.1 334.8L881.0 332.4L876.2 338.0L879.5 340.6Z" fill="#c3d6d6"/>
<path d="M881.0 332.4L878.0 329.8L873.2 335.2L876.4 337.9Z" fill="#c3d6d6"/>
<path d="M878.0 329.8L875.1 327.1L870.4 332.1L873.5 334.9Z" fill="#c3d6d6"/>
<path d="M875.1 327.1L872.3 324.4L867.8 328.8L870.8 331.7Z" fill="#c3d6d6"/>
<path d="M872.3 324.4L869.5 321.6L865.5 325.3L868.4 328.2Z" fill="#c3d6d6"/>
<path d="M869.5 321.6L866.9 318.7L862.8 322.2L865.6 325.3Z" fill="#c3d6d6"/>
<path d="M866.9 318.7L864.3 315.7L860.2 319.1L862.9 322.2Z" fill="#c3d6d6"/>
<path d="M864.3 315.7L861.8 312.7L857.8 315.8L860.3 319.0Z" fill="#c3d6d6"/>
<path d="M861.8 312.7L859.4 309.6L844.9 320.1L847.6 323.7Z" fill="#f5571f"/>
<path d="M859.4 309.6L857.2 306.4L843.9 315.4L846.5 319.0Z" fill="#f5571f"/>
<path d="M857.2 306.4L855.0 303.1L843.2 310.6L845.6 314.2Z" fill="#f5571f"/>
<circle cx="906.9" cy="346.3" r="1.9" fill="#f2373b"/>
<circle cx="903.5" cy="344.5" r="1.9" fill="#f2373b"/>
<circle cx="900.1" cy="342.6" r="1.9" fill="#f2373b"/>
<circle cx="896.7" cy="340.6" r="1.9" fill="#f2373b"/>
<circle cx="893.5" cy="338.5" r="1.9" fill="#f2373b"/>
<circle cx="890.3" cy="336.3" r="1.9" fill="#f2373b"/>
<circle cx="887.2" cy="334.0" r="1.9" fill="#f2373b"/>
<circle cx="884.1" cy="331.7" r="1.9" fill="#f2373b"/>
<circle cx="881.1" cy="329.2" r="1.9" fill="#f2373b"/>
<circle cx="878.2" cy="326.6" r="1.9" fill="#f2373b"/>
<circle cx="875.4" cy="324.0" r="1.9" fill="#f2373b"/>
<circle cx="872.7" cy="321.3" r="1.9" fill="#f2373b"/>
<circle cx="870.0" cy="318.5" r="1.9" fill="#f2373b"/>
<circle cx="867.5" cy="315.6" r="1.9" fill="#f2373b"/>
<circle cx="865.0" cy="312.6" r="1.9" fill="#f2373b"/>
<circle cx="862.6" cy="309.6" r="1.9" fill="#f2373b"/>
<circle cx="860.3" cy="306.5" r="1.9" fill="#f2373b"/>
<circle cx="858.1" cy="303.4" r="1.9" fill="#f2373b"/>
<path d="M854.0 301.6L852.1 298.4L844.1 303.0L846.2 306.4Z" fill="#c3d6d6"/>
<path d="M852.1 298.4L850.2 295.1L842.4 299.4L844.3 302.9Z" fill="#c3d6d6"/>
<path d="M850.2 295.1L848.5 291.8L840.7 295.7L842.6 299.2Z" fill="#c3d6d6"/>
<path d="M848.5 291.8L846.8 288.5L839.2 292.0L841.0 295.6Z" fill="#c3d6d6"/>
<path d="M846.8 288.5L845.2 285.0L837.7 288.3L839.3 291.9Z" fill="#c3d6d6"/>
<path d="M845.2 285.0L843.8 281.6L836.2 284.6L837.7 288.3Z" fill="#c3d6d6"/>
<path d="M843.8 281.6L842.4 278.1L835.0 280.8L836.5 284.5Z" fill="#c3d6d6"/>
<path d="M842.4 278.1L841.2 274.6L833.8 277.1L835.1 280.8Z" fill="#c3d6d6"/>
<path d="M841.2 274.6L840.0 271.0L832.9 273.2L834.1 276.9Z" fill="#c3d6d6"/>
<path d="M840.0 271.0L839.0 267.4L832.3 269.2L833.4 273.0Z" fill="#c3d6d6"/>
<path d="M839.0 267.4L838.1 263.8L831.5 265.4L832.4 269.2Z" fill="#c3d6d6"/>
<path d="M838.1 263.8L837.2 260.2L830.8 261.5L831.7 265.3Z" fill="#c3d6d6"/>
<path d="M837.2 260.2L836.5 256.5L830.3 257.6L831.0 261.5Z" fill="#c3d6d6"/>
<path d="M836.5 256.5L835.9 252.8L829.8 253.7L830.5 257.6Z" fill="#c3d6d6"/>
<path d="M835.9 252.8L835.4 249.1L829.8 249.8L830.3 253.7Z" fill="#c3d6d6"/>
<path d="M835.4 249.1L835.0 245.4L829.9 245.9L830.3 249.7Z" fill="#c3d6d6"/>
<path d="M835.0 245.4L834.7 241.7L829.6 242.0L829.9 245.9Z" fill="#c3d6d6"/>
<path d="M834.7 241.7L834.6 238.0L829.5 238.1L829.7 242.0Z" fill="#c3d6d6"/>
<path d="M834.6 238.0L834.5 234.2L824.5 234.2L824.6 238.3Z" fill="#f5571f"/>
<path d="M834.5 234.2L834.5 230.5L822.6 230.2L822.5 234.2Z" fill="#f5571f"/>
<path d="M834.5 230.5L834.7 226.8L821.7 226.0L821.6 230.1Z" fill="#f5571f"/>
<circle cx="855.2" cy="298.7" r="1.9" fill="#f58ef0"/>
<circle cx="853.3" cy="295.5" r="1.9" fill="#f58ef0"/>
<circle cx="851.5" cy="292.3" r="1.9" fill="#f58ef0"/>
<circle cx="849.9" cy="289.0" r="1.9" fill="#f58ef0"/>
<circle cx="848.3" cy="285.7" r="1.9" fill="#f58ef0"/>
<circle cx="846.8" cy="282.4" r="1.9" fill="#f58ef0"/>
<circle cx="845.4" cy="279.0" r="1.9" fill="#f58ef0"/>
<circle cx="844.2" cy="275.5" r="1.9" fill="#f58ef0"/>
<circle cx="843.0" cy="272.1" r="1.9" fill="#f58ef0"/>
<circle cx="841.9" cy="268.6" r="1.9" fill="#f58ef0"/>
<circle cx="840.9" cy="265.0" r="1.9" fill="#f58ef0"/>
<circle cx="840.1" cy="261.5" r="1.9" fill="#f58ef0"/>
<circle cx="839.3" cy="257.9" r="1.9" fill="#f58ef0"/>
<circle cx="838.7" cy="254.3" r="1.9" fill="#f58ef0"/>
<circle cx="838.1" cy="250.6" r="1.9" fill="#f58ef0"/>
<circle cx="837.7" cy="247.0" r="1.9" fill="#f58ef0"/>
<circle cx="837.4" cy="243.4" r="1.9" fill="#f58ef0"/>
<circle cx="837.1" cy="239.7" r="1.9" fill="#f58ef0"/>
<circle cx="837.0" cy="236.0" r="1.9" fill="#f58ef0"/>
<circle cx="837.0" cy="232.4" r="1.9" fill="#f58ef0"/>
<circle cx="837.1" cy="228.7" r="1.9" fill="#f58ef0"/>
<path d="M834.9 224.3L835.2 220.4L830.7 219.9L830.4 223.9Z" fill="#c3d6d6"/>
<path d="M835.2 220.4L835.7 216.6L831.1 215.9L830.6 219.9Z" fill="#c3d6d6"/>
<path d="M835.7 216.6L836.3 212.8L831.5 212.0L830.9 215.9Z" fill="#c3d6d6"/>
<path d="M836.3 212.8L837.0 208.9L832.0 208.0L831.3 211.9Z" fill="#c3d6d6"/>
<path d="M837.0 208.9L837.8 205.2L832.8 204.0L831.9 207.9Z" fill="#c3d6d6"/>
<path d="M837.8 205.2L838.8 201.4L833.6 200.0L832.6 204.0Z" fill="#c3d6d6"/>
<path d="M838.8 201.4L839.8 197.7L834.3 196.0L833.2 199.9Z" fill="#c3d6d6"/>
<path d="M839.8 197.7L841.0 194.0L835.4 192.1L834.1 196.0Z" fill="#c3d6d6"/>
<path d="M841.0 194.0L842.3 190.3L836.1 188.1L834.7 191.9Z" fill="#c3d6d6"/>
<path d="M842.3 190.3L843.7 186.7L836.8 184.0L835.3 187.8Z" fill="#c3d6d6"/>
<path d="M843.7 186.7L845.2 183.1L834.2 178.3L832.5 182.3Z" fill="#f5571f"/>
<path d="M845.2 183.1L846.8 179.6L835.9 174.5L834.2 178.3Z" fill="#f5571f"/>
<circle cx="837.5" cy="222.6" r="1.9" fill="#ff9f57"/>
<circle cx="837.9" cy="218.8" r="1.9" fill="#ff9f57"/>
<circle cx="838.5" cy="215.0" r="1.9" fill="#ff9f57"/>
<circle cx="839.1" cy="211.3" r="1.9" fill="#ff9f57"/>
<circle cx="839.8" cy="207.6" r="1.9" fill="#ff9f57"/>
<circle cx="840.7" cy="203.9" r="1.9" fill="#ff9f57"/>
<circle cx="841.7" cy="200.2" r="1.9" fill="#ff9f57"/>
<circle cx="842.8" cy="196.5" r="1.9" fill="#ff9f57"/>
<circle cx="844.0" cy="192.9" r="1.9" fill="#ff9f57"/>
<circle cx="845.3" cy="189.4" r="1.9" fill="#ff9f57"/>
<circle cx="846.7" cy="185.8" r="1.9" fill="#ff9f57"/>
<circle cx="848.2" cy="182.3" r="1.9" fill="#ff9f57"/>
<path d="M848.7 175.7L850.5 172.4L842.4 168.0L840.5 171.6Z" fill="#c3d6d6"/>
<path d="M850.5 172.4L852.3 169.1L844.4 164.5L842.4 168.0Z" fill="#c3d6d6"/>
<path d="M852.3 169.1L854.3 165.9L846.6 161.1L844.5 164.5Z" fill="#c3d6d6"/>
<path d="M854.3 165.9L856.4 162.8L848.8 157.7L846.6 161.1Z" fill="#c3d6d6"/>
<path d="M856.4 162.8L858.6 159.6L851.7 154.8L849.4 158.1Z" fill="#c3d6d6"/>
<path d="M858.6 159.6L860.8 156.6L854.3 151.7L851.9 155.0Z" fill="#c3d6d6"/>
<path d="M860.8 156.6L863.2 153.6L857.1 148.8L854.6 151.9Z" fill="#c3d6d6"/>
<path d="M863.2 153.6L865.6 150.7L859.7 145.7L857.1 148.8Z" fill="#c3d6d6"/>
<path d="M865.6 150.7L868.1 147.9L862.4 142.8L859.8 145.8Z" fill="#c3d6d6"/>
<path d="M868.1 147.9L870.7 145.2L865.2 139.9L862.5 142.8Z" fill="#c3d6d6"/>
<path d="M870.7 145.2L873.4 142.5L868.1 137.0L865.2 139.9Z" fill="#c3d6d6"/>
<path d="M873.4 142.5L876.2 139.9L871.1 134.4L868.2 137.2Z" fill="#c3d6d6"/>
<path d="M876.2 139.9L879.0 137.3L874.2 131.8L871.2 134.5Z" fill="#c3d6d6"/>
<path d="M879.0 137.3L881.9 134.9L877.6 129.7L874.6 132.3Z" fill="#c3d6d6"/>
<path d="M881.9 134.9L884.9 132.6L881.0 127.6L877.9 130.1Z" fill="#c3d6d6"/>
<path d="M884.9 132.6L887.9 130.3L884.4 125.4L881.2 127.8Z" fill="#c3d6d6"/>
<path d="M887.9 130.3L891.1 128.1L887.9 123.5L884.7 125.8Z" fill="#c3d6d6"/>
<path d="M891.1 128.1L894.2 126.0L891.3 121.5L888.0 123.6Z" fill="#c3d6d6"/>
<path d="M894.2 126.0L897.5 124.0L894.7 119.4L891.3 121.5Z" fill="#c3d6d6"/>
<path d="M897.5 124.0L900.8 122.1L898.1 117.4L894.7 119.4Z" fill="#c3d6d6"/>
<path d="M900.8 122.1L904.1 120.3L901.7 115.6L898.2 117.5Z" fill="#c3d6d6"/>
<path d="M904.1 120.3L907.6 118.6L905.3 114.1L901.8 115.9Z" fill="#c3d6d6"/>
<path d="M907.6 118.6L911.0 117.0L909.3 113.4L905.8 115.0Z" fill="#c3d6d6"/>
<path d="M911.0 117.0L914.5 115.5L913.0 112.0L909.4 113.5Z" fill="#c3d6d6"/>
<circle cx="851.8" cy="175.2" r="1.9" fill="#f490c4"/>
<circle cx="853.6" cy="172.0" r="1.9" fill="#f490c4"/>
<circle cx="855.5" cy="168.8" r="1.9" fill="#f490c4"/>
<circle cx="857.4" cy="165.7" r="1.9" fill="#f490c4"/>
<circle cx="859.5" cy="162.6" r="1.9" fill="#f490c4"/>
<circle cx="861.7" cy="159.6" r="1.9" fill="#f490c4"/>
<circle cx="864.0" cy="156.7" r="1.9" fill="#f490c4"/>
<circle cx="866.3" cy="153.8" r="1.9" fill="#f490c4"/>
<circle cx="868.7" cy="151.0" r="1.9" fill="#f490c4"/>
<circle cx="871.2" cy="148.2" r="1.9" fill="#f490c4"/>
<circle cx="873.8" cy="145.6" r="1.9" fill="#f490c4"/>
<circle cx="876.5" cy="143.0" r="1.9" fill="#f490c4"/>
<circle cx="879.3" cy="140.5" r="1.9" fill="#f490c4"/>
<circle cx="882.1" cy="138.0" r="1.9" fill="#f490c4"/>
<circle cx="885.0" cy="135.7" r="1.9" fill="#f490c4"/>
<circle cx="887.9" cy="133.4" r="1.9" fill="#f490c4"/>
<circle cx="890.9" cy="131.2" r="1.9" fill="#f490c4"/>
<circle cx="894.0" cy="129.1" r="1.9" fill="#f490c4"/>
<circle cx="897.2" cy="127.1" r="1.9" fill="#f490c4"/>
<circle cx="900.4" cy="125.2" r="1.9" fill="#f490c4"/>
<circle cx="903.7" cy="123.4" r="1.9" fill="#f490c4"/>
<circle cx="907.0" cy="121.7" r="1.9" fill="#f490c4"/>
<circle cx="910.3" cy="120.1" r="1.9" fill="#f490c4"/>
<circle cx="913.8" cy="118.5" r="1.9" fill="#f490c4"/>
<text x="944.2" y="82.7" font-size="15" text-anchor="end" font-weight="bold" fill="#d5b90f" >Cerebellar</text>
<text x="944.2" y="100.4" font-size="15" text-anchor="end" font-weight="bold" fill="#d5b90f" >Cortex</text>
<text x="950.6" y="81.9" font-size="15" text-anchor="start" font-weight="bold" fill="#d6b445" >Cerebellar</text>
<text x="950.6" y="99.4" font-size="15" text-anchor="start" font-weight="bold" fill="#d6b445" >Nuclei</text>
<text x="1043.2" y="117.6" font-size="15" text-anchor="start" font-weight="bold" fill="#1a8a92" >Isocortex</text>
<text x="819.7" y="131.3" font-size="15" text-anchor="start" font-weight="bold" fill="#e571b8" >Medulla</text>
<text x="791.0" y="197.5" font-size="15" text-anchor="start" font-weight="bold" fill="#f06a1d" >Pons</text>
<text x="1103.5" y="188.2" font-size="15" text-anchor="start" font-weight="bold" fill="#5fc7a2" >Olfactory</text>
<text x="1103.5" y="204.4" font-size="15" text-anchor="start" font-weight="bold" fill="#5fc7a2" >Areas</text>
<text x="1111.8" y="232.4" font-size="15" text-anchor="start" font-weight="bold" fill="#5ebf29" >Hippocampal</text>
<text x="1111.8" y="248.5" font-size="15" text-anchor="start" font-weight="bold" fill="#5ebf29" >Formation</text>
<text x="1101.5" y="277.0" font-size="15" text-anchor="start" font-weight="bold" fill="#72dd6f" >Cortical</text>
<text x="1101.5" y="294.0" font-size="15" text-anchor="start" font-weight="bold" fill="#72dd6f" >Subplate</text>
<text x="779.7" y="299.1" font-size="15" text-anchor="start" font-weight="bold" fill="#f27bf0" >Midbrain</text>
<text x="1076.6" y="329.7" font-size="15" text-anchor="start" font-weight="bold" fill="#49a9dc" >Striatum</text>
<text x="795.6" y="359.6" font-size="15" text-anchor="start" font-weight="bold" fill="#f0282a" >Hypothalamus</text>
<text x="940.4" y="379.1" font-size="15" text-anchor="start" font-weight="bold" fill="#ee5a7e" >Thalamus</text>
<text x="1050.7" y="360.3" font-size="15" text-anchor="start" font-weight="bold" fill="#7a8bd0" >Pallidum</text>
<rect x="757.17" y="415.87" width="9.18" height="8.73" fill="#d9d9d9" stroke="#6f6f6f" stroke-width="0.8"/>
<rect x="766.35" y="415.87" width="9.18" height="8.73" fill="#d9d9d9" stroke="#6f6f6f" stroke-width="0.8"/>
<rect x="775.53" y="412.96" width="9.18" height="11.64" fill="#d9d9d9" stroke="#6f6f6f" stroke-width="0.8"/>
<rect x="784.71" y="398.41" width="9.18" height="26.19" fill="#d9d9d9" stroke="#6f6f6f" stroke-width="0.8"/>
<rect x="793.88" y="398.41" width="9.18" height="26.19" fill="#d9d9d9" stroke="#6f6f6f" stroke-width="0.8"/>
<rect x="803.06" y="383.86" width="9.18" height="40.74" fill="#d9d9d9" stroke="#6f6f6f" stroke-width="0.8"/>
<rect x="812.24" y="383.86" width="9.18" height="40.74" fill="#d9d9d9" stroke="#6f6f6f" stroke-width="0.8"/>
<rect x="821.41" y="407.14" width="9.18" height="17.46" fill="#d9d9d9" stroke="#6f6f6f" stroke-width="0.8"/>
<rect x="830.59" y="392.59" width="9.18" height="32.01" fill="#d9d9d9" stroke="#6f6f6f" stroke-width="0.8"/>
<rect x="839.77" y="380.95" width="9.18" height="43.65" fill="#d9d9d9" stroke="#6f6f6f" stroke-width="0.8"/>
<rect x="848.94" y="401.32" width="9.18" height="23.28" fill="#d9d9d9" stroke="#6f6f6f" stroke-width="0.8"/>
<rect x="858.12" y="383.86" width="9.18" height="40.74" fill="#d9d9d9" stroke="#6f6f6f" stroke-width="0.8"/>
<rect x="867.30" y="392.59" width="9.18" height="32.01" fill="#d9d9d9" stroke="#6f6f6f" stroke-width="0.8"/>
<rect x="876.48" y="407.14" width="9.18" height="17.46" fill="#d9d9d9" stroke="#6f6f6f" stroke-width="0.8"/>
<rect x="885.65" y="404.23" width="9.18" height="20.37" fill="#d9d9d9" stroke="#6f6f6f" stroke-width="0.8"/>
<rect x="894.83" y="383.86" width="9.18" height="40.74" fill="#d9d9d9" stroke="#6f6f6f" stroke-width="0.8"/>
<rect x="904.01" y="412.96" width="9.18" height="11.64" fill="#d9d9d9" stroke="#6f6f6f" stroke-width="0.8"/>
<rect x="913.18" y="412.96" width="9.18" height="11.64" fill="#d9d9d9" stroke="#6f6f6f" stroke-width="0.8"/>
<rect x="922.36" y="407.14" width="9.18" height="17.46" fill="#d9d9d9" stroke="#6f6f6f" stroke-width="0.8"/>
<rect x="931.54" y="410.05" width="9.18" height="14.55" fill="#d9d9d9" stroke="#6f6f6f" stroke-width="0.8"/>
<rect x="940.71" y="401.32" width="9.18" height="23.28" fill="#d9d9d9" stroke="#6f6f6f" stroke-width="0.8"/>
<rect x="949.89" y="418.78" width="9.18" height="5.82" fill="#d9d9d9" stroke="#6f6f6f" stroke-width="0.8"/>
<rect x="959.07" y="407.14" width="9.18" height="17.46" fill="#d9d9d9" stroke="#6f6f6f" stroke-width="0.8"/>
<rect x="968.25" y="421.69" width="9.18" height="2.91" fill="#d9d9d9" stroke="#6f6f6f" stroke-width="0.8"/>
<rect x="977.42" y="418.78" width="9.18" height="5.82" fill="#d9d9d9" stroke="#6f6f6f" stroke-width="0.8"/>
<rect x="986.60" y="410.05" width="9.18" height="14.55" fill="#d9d9d9" stroke="#6f6f6f" stroke-width="0.8"/>
<rect x="995.78" y="415.87" width="9.18" height="8.73" fill="#d9d9d9" stroke="#6f6f6f" stroke-width="0.8"/>
<rect x="1004.95" y="421.69" width="9.18" height="2.91" fill="#d9d9d9" stroke="#6f6f6f" stroke-width="0.8"/>
<rect x="1023.31" y="407.14" width="9.18" height="17.46" fill="#d9d9d9" stroke="#6f6f6f" stroke-width="0.8"/>
<rect x="1032.48" y="421.69" width="9.18" height="2.91" fill="#d9d9d9" stroke="#6f6f6f" stroke-width="0.8"/>
<rect x="1041.66" y="418.78" width="9.18" height="5.82" fill="#d9d9d9" stroke="#6f6f6f" stroke-width="0.8"/>
<rect x="1078.37" y="421.69" width="9.18" height="2.91" fill="#d9d9d9" stroke="#6f6f6f" stroke-width="0.8"/>
<rect x="1087.55" y="418.78" width="9.18" height="5.82" fill="#d9d9d9" stroke="#6f6f6f" stroke-width="0.8"/>
<rect x="1105.90" y="421.69" width="9.18" height="2.91" fill="#d9d9d9" stroke="#6f6f6f" stroke-width="0.8"/>
<rect x="1133.43" y="418.78" width="9.18" height="5.82" fill="#d9d9d9" stroke="#6f6f6f" stroke-width="0.8"/>
<rect x="1142.61" y="421.69" width="9.18" height="2.91" fill="#d9d9d9" stroke="#6f6f6f" stroke-width="0.8"/>
<rect x="1151.79" y="421.69" width="9.18" height="2.91" fill="#d9d9d9" stroke="#6f6f6f" stroke-width="0.8"/>
<rect x="1206.85" y="421.69" width="9.18" height="2.91" fill="#d9d9d9" stroke="#6f6f6f" stroke-width="0.8"/>
<line x1="755.2" y1="366.5" x2="755.2" y2="424.6" stroke="#8c8c8c" stroke-width="1.2"/>
<line x1="755.2" y1="424.6" x2="1226.9" y2="424.6" stroke="#8c8c8c" stroke-width="1.2"/>
<line x1="784.2" y1="420.6" x2="784.2" y2="424.6" stroke="#8c8c8c" stroke-width="1.2"/>
<text x="784.2" y="447.9" font-size="17.5" text-anchor="middle" fill="#000" >10</text>
<line x1="837.4" y1="420.6" x2="837.4" y2="424.6" stroke="#8c8c8c" stroke-width="1.2"/>
<text x="837.4" y="447.9" font-size="17.5" text-anchor="middle" fill="#000" >20</text>
<line x1="890.6" y1="420.6" x2="890.6" y2="424.6" stroke="#8c8c8c" stroke-width="1.2"/>
<text x="890.6" y="447.9" font-size="17.5" text-anchor="middle" fill="#000" >30</text>
<line x1="943.8" y1="420.6" x2="943.8" y2="424.6" stroke="#8c8c8c" stroke-width="1.2"/>
<text x="943.8" y="447.9" font-size="17.5" text-anchor="middle" fill="#000" >40</text>
<line x1="997.0" y1="420.6" x2="997.0" y2="424.6" stroke="#8c8c8c" stroke-width="1.2"/>
<text x="997.0" y="447.9" font-size="17.5" text-anchor="middle" fill="#000" >50</text>
<line x1="1050.2" y1="420.6" x2="1050.2" y2="424.6" stroke="#8c8c8c" stroke-width="1.2"/>
<text x="1050.2" y="447.9" font-size="17.5" text-anchor="middle" fill="#000" >60</text>
<line x1="1103.4" y1="420.6" x2="1103.4" y2="424.6" stroke="#8c8c8c" stroke-width="1.2"/>
<text x="1103.4" y="447.9" font-size="17.5" text-anchor="middle" fill="#000" >70</text>
<line x1="1156.6" y1="420.6" x2="1156.6" y2="424.6" stroke="#8c8c8c" stroke-width="1.2"/>
<text x="1156.6" y="447.9" font-size="17.5" text-anchor="middle" fill="#000" >80</text>
<line x1="1209.8" y1="420.6" x2="1209.8" y2="424.6" stroke="#8c8c8c" stroke-width="1.2"/>
<text x="1209.8" y="447.9" font-size="17.5" text-anchor="middle" fill="#000" >90</text>
<line x1="755.2" y1="424.6" x2="759.2" y2="424.6" stroke="#8c8c8c" stroke-width="1.2"/>
<text x="748.0" y="430.6" font-size="17.5" text-anchor="end" fill="#000" >0</text>
<line x1="755.2" y1="395.5" x2="759.2" y2="395.5" stroke="#8c8c8c" stroke-width="1.2"/>
<text x="748.0" y="401.5" font-size="17.5" text-anchor="end" fill="#000" >10</text>
<line x1="755.2" y1="366.4" x2="759.2" y2="366.4" stroke="#8c8c8c" stroke-width="1.2"/>
<text x="748.0" y="372.4" font-size="17.5" text-anchor="end" fill="#000" >20</text>
<text transform="translate(722.0,395.4) rotate(-90)" x="0" y="0" font-size="19.3" text-anchor="middle" fill="#000">Frequency</text>
<clipPath id="cB"><rect x="754.9" y="447" width="472.30000000000007" height="155.89999999999998"/></clipPath>
<line x1="754.9" y1="579.1" x2="1227.2" y2="579.1" stroke="#8a8a8a" stroke-width="1" stroke-dasharray="1.5 2.9"/>
<polyline points="752.28,579.10 757.60,579.10 762.92,579.10 768.24,579.10 773.56,579.10 778.88,579.10 784.20,579.10 789.52,579.10 794.84,579.10 800.16,576.67 805.48,573.75 810.80,571.80 816.12,571.80 821.44,570.34 826.76,571.80 832.08,570.34 837.40,570.34 842.72,569.37 848.04,567.42 853.36,564.99 858.68,561.59 864.00,560.61 869.32,561.59 874.64,561.10 879.96,555.75 885.28,557.69 890.60,552.83 895.92,555.26 901.24,557.69 906.56,555.75 911.88,554.77 917.20,553.32 922.52,553.32 927.84,545.04 933.16,539.21 938.48,544.56 943.80,532.88 949.12,527.53 954.44,528.50 959.76,528.99 965.08,526.07 970.40,523.15 975.72,523.15 981.04,513.91 986.36,513.91 991.68,520.72 997.00,517.31 1002.32,515.37 1007.64,514.40 1012.96,508.56 1018.28,507.58 1023.60,497.85 1028.92,483.26 1034.24,481.31 1039.56,481.31 1047.01,498.83 1078.93,498.83 1084.78,512.45 1089.57,546.02 1105.53,546.02 1110.85,627.75" fill="none" stroke="#5aa5ef" stroke-width="2.2" stroke-linejoin="round" clip-path="url(#cB)"/>
<circle cx="800.16" cy="576.67" r="4.3" fill="#b4d5f6" stroke="#88bdf2" stroke-width="1.2"/>
<circle cx="805.48" cy="573.75" r="4.3" fill="#b4d5f6" stroke="#88bdf2" stroke-width="1.2"/>
<circle cx="810.80" cy="571.80" r="4.3" fill="#b4d5f6" stroke="#88bdf2" stroke-width="1.2"/>
<circle cx="816.12" cy="571.80" r="4.3" fill="#b4d5f6" stroke="#88bdf2" stroke-width="1.2"/>
<circle cx="821.44" cy="570.34" r="4.3" fill="#b4d5f6" stroke="#88bdf2" stroke-width="1.2"/>
<circle cx="826.76" cy="571.80" r="4.3" fill="#b4d5f6" stroke="#88bdf2" stroke-width="1.2"/>
<circle cx="832.08" cy="570.34" r="4.3" fill="#b4d5f6" stroke="#88bdf2" stroke-width="1.2"/>
<circle cx="837.40" cy="570.34" r="4.3" fill="#b4d5f6" stroke="#88bdf2" stroke-width="1.2"/>
<circle cx="842.72" cy="569.37" r="4.3" fill="#b4d5f6" stroke="#88bdf2" stroke-width="1.2"/>
<circle cx="848.04" cy="567.42" r="4.3" fill="#b4d5f6" stroke="#88bdf2" stroke-width="1.2"/>
<circle cx="853.36" cy="564.99" r="4.3" fill="#b4d5f6" stroke="#88bdf2" stroke-width="1.2"/>
<circle cx="858.68" cy="561.59" r="4.3" fill="#b4d5f6" stroke="#88bdf2" stroke-width="1.2"/>
<circle cx="864.00" cy="560.61" r="4.3" fill="#b4d5f6" stroke="#88bdf2" stroke-width="1.2"/>
<circle cx="869.32" cy="561.59" r="4.3" fill="#b4d5f6" stroke="#88bdf2" stroke-width="1.2"/>
<circle cx="874.64" cy="561.10" r="4.3" fill="#b4d5f6" stroke="#88bdf2" stroke-width="1.2"/>
<circle cx="879.96" cy="555.75" r="4.3" fill="#b4d5f6" stroke="#88bdf2" stroke-width="1.2"/>
<circle cx="885.28" cy="557.69" r="4.3" fill="#b4d5f6" stroke="#88bdf2" stroke-width="1.2"/>
<circle cx="890.60" cy="552.83" r="4.3" fill="#b4d5f6" stroke="#88bdf2" stroke-width="1.2"/>
<circle cx="895.92" cy="555.26" r="4.3" fill="#b4d5f6" stroke="#88bdf2" stroke-width="1.2"/>
<circle cx="901.24" cy="557.69" r="4.3" fill="#b4d5f6" stroke="#88bdf2" stroke-width="1.2"/>
<circle cx="906.56" cy="555.75" r="4.3" fill="#b4d5f6" stroke="#88bdf2" stroke-width="1.2"/>
<circle cx="911.88" cy="554.77" r="4.3" fill="#b4d5f6" stroke="#88bdf2" stroke-width="1.2"/>
<circle cx="917.20" cy="553.32" r="4.3" fill="#b4d5f6" stroke="#88bdf2" stroke-width="1.2"/>
<circle cx="922.52" cy="553.32" r="4.3" fill="#b4d5f6" stroke="#88bdf2" stroke-width="1.2"/>
<circle cx="927.84" cy="545.04" r="4.3" fill="#b4d5f6" stroke="#88bdf2" stroke-width="1.2"/>
<circle cx="933.16" cy="539.21" r="4.3" fill="#b4d5f6" stroke="#88bdf2" stroke-width="1.2"/>
<circle cx="938.48" cy="544.56" r="4.3" fill="#b4d5f6" stroke="#88bdf2" stroke-width="1.2"/>
<circle cx="943.80" cy="532.88" r="4.3" fill="#b4d5f6" stroke="#88bdf2" stroke-width="1.2"/>
<circle cx="949.12" cy="527.53" r="4.3" fill="#b4d5f6" stroke="#88bdf2" stroke-width="1.2"/>
<circle cx="954.44" cy="528.50" r="4.3" fill="#b4d5f6" stroke="#88bdf2" stroke-width="1.2"/>
<circle cx="959.76" cy="528.99" r="4.3" fill="#b4d5f6" stroke="#88bdf2" stroke-width="1.2"/>
<circle cx="965.08" cy="526.07" r="4.3" fill="#b4d5f6" stroke="#88bdf2" stroke-width="1.2"/>
<circle cx="970.40" cy="523.15" r="4.3" fill="#b4d5f6" stroke="#88bdf2" stroke-width="1.2"/>
<circle cx="975.72" cy="523.15" r="4.3" fill="#b4d5f6" stroke="#88bdf2" stroke-width="1.2"/>
<circle cx="981.04" cy="513.91" r="4.3" fill="#b4d5f6" stroke="#88bdf2" stroke-width="1.2"/>
<circle cx="986.36" cy="513.91" r="4.3" fill="#b4d5f6" stroke="#88bdf2" stroke-width="1.2"/>
<circle cx="991.68" cy="520.72" r="4.3" fill="#b4d5f6" stroke="#88bdf2" stroke-width="1.2"/>
<circle cx="997.00" cy="517.31" r="4.3" fill="#b4d5f6" stroke="#88bdf2" stroke-width="1.2"/>
<circle cx="1002.32" cy="515.37" r="4.3" fill="#b4d5f6" stroke="#88bdf2" stroke-width="1.2"/>
<circle cx="1007.64" cy="514.40" r="4.3" fill="#b4d5f6" stroke="#88bdf2" stroke-width="1.2"/>
<circle cx="1012.96" cy="508.56" r="4.3" fill="#b4d5f6" stroke="#88bdf2" stroke-width="1.2"/>
<circle cx="1018.28" cy="507.58" r="4.3" fill="#b4d5f6" stroke="#88bdf2" stroke-width="1.2"/>
<circle cx="1023.60" cy="497.85" r="4.3" fill="#b4d5f6" stroke="#88bdf2" stroke-width="1.2"/>
<circle cx="1028.92" cy="483.26" r="4.3" fill="#b4d5f6" stroke="#88bdf2" stroke-width="1.2"/>
<circle cx="1034.24" cy="481.31" r="4.3" fill="#b4d5f6" stroke="#88bdf2" stroke-width="1.2"/>
<circle cx="1039.56" cy="481.31" r="4.3" fill="#b4d5f6" stroke="#88bdf2" stroke-width="1.2"/>
<polyline points="752.28,579.10 757.60,579.10 762.92,579.10 768.24,579.10 773.56,579.10 778.88,579.10 784.20,579.10 789.52,579.10 794.84,579.10 800.16,579.10 805.48,579.10 810.80,576.67 816.12,575.21 821.44,574.24 826.76,574.24 832.08,573.75 837.40,573.26 842.72,571.32 848.04,572.29 853.36,570.34 858.68,567.91 864.00,571.32 869.32,570.34 874.64,571.80 879.96,571.80 885.28,571.80 890.60,570.34 895.92,568.88 901.24,575.21 906.56,570.34 911.88,567.42 917.20,558.18 922.52,558.18 927.84,565.96 933.16,567.42 938.48,565.96 943.80,570.34 949.12,554.77 954.44,537.50 959.76,529.96 965.08,521.21 970.40,508.07 975.72,508.07 981.04,503.69 986.36,496.88 991.68,481.31 997.00,501.75 1002.32,514.40 1007.64,514.40 1012.96,499.80 1018.28,499.80 1023.60,522.18 1028.92,512.94 1034.24,548.94 1039.56,548.94 1044.88,575.69 1050.20,575.69 1055.52,575.69 1060.84,575.69 1066.16,575.69 1071.48,575.69 1076.80,575.69 1083.18,627.75" fill="none" stroke="#f20a0a" stroke-width="2.6" stroke-linejoin="round" clip-path="url(#cB)"/>
<circle cx="810.80" cy="576.67" r="4.1" fill="#f36666" stroke="#f00505" stroke-width="1.3"/>
<circle cx="816.12" cy="575.21" r="4.1" fill="#f36666" stroke="#f00505" stroke-width="1.3"/>
<circle cx="821.44" cy="574.24" r="4.1" fill="#f36666" stroke="#f00505" stroke-width="1.3"/>
<circle cx="826.76" cy="574.24" r="4.1" fill="#f36666" stroke="#f00505" stroke-width="1.3"/>
<circle cx="832.08" cy="573.75" r="4.1" fill="#f36666" stroke="#f00505" stroke-width="1.3"/>
<circle cx="837.40" cy="573.26" r="4.1" fill="#f36666" stroke="#f00505" stroke-width="1.3"/>
<circle cx="842.72" cy="571.32" r="4.1" fill="#f36666" stroke="#f00505" stroke-width="1.3"/>
<circle cx="848.04" cy="572.29" r="4.1" fill="#f36666" stroke="#f00505" stroke-width="1.3"/>
<circle cx="853.36" cy="570.34" r="4.1" fill="#f36666" stroke="#f00505" stroke-width="1.3"/>
<circle cx="858.68" cy="567.91" r="4.1" fill="#f36666" stroke="#f00505" stroke-width="1.3"/>
<circle cx="864.00" cy="571.32" r="4.1" fill="#f36666" stroke="#f00505" stroke-width="1.3"/>
<circle cx="869.32" cy="570.34" r="4.1" fill="#f36666" stroke="#f00505" stroke-width="1.3"/>
<circle cx="917.20" cy="558.18" r="4.1" fill="#f36666" stroke="#f00505" stroke-width="1.3"/>
<circle cx="922.52" cy="558.18" r="4.1" fill="#f36666" stroke="#f00505" stroke-width="1.3"/>
<circle cx="954.44" cy="537.50" r="4.1" fill="#f36666" stroke="#f00505" stroke-width="1.3"/>
<circle cx="959.76" cy="529.96" r="4.1" fill="#f36666" stroke="#f00505" stroke-width="1.3"/>
<circle cx="965.08" cy="521.21" r="4.1" fill="#f36666" stroke="#f00505" stroke-width="1.3"/>
<circle cx="970.40" cy="508.07" r="4.1" fill="#f36666" stroke="#f00505" stroke-width="1.3"/>
<circle cx="975.72" cy="508.07" r="4.1" fill="#f36666" stroke="#f00505" stroke-width="1.3"/>
<circle cx="981.04" cy="503.69" r="4.1" fill="#f36666" stroke="#f00505" stroke-width="1.3"/>
<circle cx="986.36" cy="496.88" r="4.1" fill="#f36666" stroke="#f00505" stroke-width="1.3"/>
<circle cx="991.68" cy="481.31" r="4.1" fill="#f36666" stroke="#f00505" stroke-width="1.3"/>
<circle cx="997.00" cy="501.75" r="4.1" fill="#f36666" stroke="#f00505" stroke-width="1.3"/>
<circle cx="1002.32" cy="514.40" r="4.1" fill="#f36666" stroke="#f00505" stroke-width="1.3"/>
<circle cx="1007.64" cy="514.40" r="4.1" fill="#f36666" stroke="#f00505" stroke-width="1.3"/>
<circle cx="1012.96" cy="499.80" r="4.1" fill="#f36666" stroke="#f00505" stroke-width="1.3"/>
<circle cx="1018.28" cy="499.80" r="4.1" fill="#f36666" stroke="#f00505" stroke-width="1.3"/>
<line x1="754.9" y1="457.0" x2="754.9" y2="602.9" stroke="#8c8c8c" stroke-width="1.2"/>
<line x1="1227.2" y1="457.0" x2="1227.2" y2="602.9" stroke="#8c8c8c" stroke-width="1.2"/>
<line x1="754.9" y1="602.9" x2="1227.2" y2="602.9" stroke="#8c8c8c" stroke-width="1.2"/>
<line x1="784.2" y1="598.4" x2="784.2" y2="602.9" stroke="#8c8c8c" stroke-width="1.2"/>
<text x="784.2" y="626.0" font-size="17.5" text-anchor="middle" fill="#000" >10</text>
<line x1="837.4" y1="598.4" x2="837.4" y2="602.9" stroke="#8c8c8c" stroke-width="1.2"/>
<text x="837.4" y="626.0" font-size="17.5" text-anchor="middle" fill="#000" >20</text>
<line x1="890.6" y1="598.4" x2="890.6" y2="602.9" stroke="#8c8c8c" stroke-width="1.2"/>
<text x="890.6" y="626.0" font-size="17.5" text-anchor="middle" fill="#000" >30</text>
<line x1="943.8" y1="598.4" x2="943.8" y2="602.9" stroke="#8c8c8c" stroke-width="1.2"/>
<text x="943.8" y="626.0" font-size="17.5" text-anchor="middle" fill="#000" >40</text>
<line x1="997.0" y1="598.4" x2="997.0" y2="602.9" stroke="#8c8c8c" stroke-width="1.2"/>
<text x="997.0" y="626.0" font-size="17.5" text-anchor="middle" fill="#000" >50</text>
<line x1="1050.2" y1="598.4" x2="1050.2" y2="602.9" stroke="#8c8c8c" stroke-width="1.2"/>
<text x="1050.2" y="626.0" font-size="17.5" text-anchor="middle" fill="#000" >60</text>
<line x1="1103.4" y1="598.4" x2="1103.4" y2="602.9" stroke="#8c8c8c" stroke-width="1.2"/>
<text x="1103.4" y="626.0" font-size="17.5" text-anchor="middle" fill="#000" >70</text>
<line x1="1156.6" y1="598.4" x2="1156.6" y2="602.9" stroke="#8c8c8c" stroke-width="1.2"/>
<text x="1156.6" y="626.0" font-size="17.5" text-anchor="middle" fill="#000" >80</text>
<line x1="1209.8" y1="598.4" x2="1209.8" y2="602.9" stroke="#8c8c8c" stroke-width="1.2"/>
<text x="1209.8" y="626.0" font-size="17.5" text-anchor="middle" fill="#000" >90</text>
<line x1="754.9" y1="579.1" x2="759.4" y2="579.1" stroke="#8c8c8c" stroke-width="1.2"/>
<text x="747.9" y="585.1" font-size="17.5" text-anchor="end" fill="#000" >1</text>
<line x1="754.9" y1="530.4" x2="759.4" y2="530.4" stroke="#8c8c8c" stroke-width="1.2"/>
<text x="747.9" y="536.4" font-size="17.5" text-anchor="end" fill="#000" >1.1</text>
<line x1="754.9" y1="481.8" x2="759.4" y2="481.8" stroke="#8c8c8c" stroke-width="1.2"/>
<text x="747.9" y="487.8" font-size="17.5" text-anchor="end" fill="#000" >1.2</text>
<line x1="1222.7" y1="482.0" x2="1227.2" y2="482.0" stroke="#8c8c8c" stroke-width="1.2"/>
<text x="1230.2" y="488.0" font-size="17.5" text-anchor="start" fill="#000" >3.7</text>
<line x1="1222.7" y1="531.2" x2="1227.2" y2="531.2" stroke="#8c8c8c" stroke-width="1.2"/>
<text x="1230.2" y="537.2" font-size="17.5" text-anchor="start" fill="#000" >3.3</text>
<line x1="1222.7" y1="579.1" x2="1227.2" y2="579.1" stroke="#8c8c8c" stroke-width="1.2"/>
<text x="1230.2" y="585.1" font-size="17.5" text-anchor="start" fill="#000" >2.9</text>
<line x1="770.9" y1="480.9" x2="803.4" y2="480.9" stroke="#f20a0a" stroke-width="2.6"/>
<line x1="770.9" y1="500.9" x2="803.4" y2="500.9" stroke="#5aa5ef" stroke-width="2.2"/>
<text x="806.9" y="483.0" font-size="14.2" fill="#000" font-family="Liberation Serif, serif">&#934;<tspan font-family="Liberation Sans, Arial, sans-serif" font-size="11.6" dy="6.5">norm</tspan></text>
<text x="806.9" y="506.0" font-size="12.6" text-anchor="start" fill="#000" >d</text>
<polyline points="1132.9,603.0 1135.9,572.8" fill="none" stroke="#5aa5ef" stroke-width="2.2"/>
<text transform="translate(709.4,530.6) rotate(-90)" x="0" y="0" font-size="19.5" text-anchor="middle" fill="#000"><tspan font-family="Liberation Serif, serif">&#934;</tspan><tspan font-size="16" dy="8.8">norm</tspan></text>
<text x="991.0" y="651.4" font-size="19.6" text-anchor="middle" fill="#000" >Degree, k</text>
<text transform="translate(1267.4,528.0) rotate(90)" x="0" y="0" font-size="14.6" text-anchor="middle" fill="#000">Connection distance, d(mm)</text>
<defs>
<radialGradient id="gbrain" cx="50%" cy="45%" r="62%"><stop offset="0" stop-color="#ebe9e6"/><stop offset="0.6" stop-color="#dedbd7"/><stop offset="1" stop-color="#c2bdb6"/></radialGradient>
<radialGradient id="gsph" cx="35%" cy="35%" r="65%"><stop offset="0" stop-color="#bdb8b2"/><stop offset="0.5" stop-color="#8a857f"/><stop offset="1" stop-color="#4d4843"/></radialGradient>
<radialGradient id="rsph" cx="35%" cy="32%" r="68%"><stop offset="0" stop-color="#ff9090"/><stop offset="0.35" stop-color="#f21212"/><stop offset="1" stop-color="#a00000"/></radialGradient>
<filter id="fb" x="-10%" y="-10%" width="120%" height="120%"><feGaussianBlur stdDeviation="1.3"/></filter>
<filter id="fb2" x="-20%" y="-20%" width="140%" height="140%"><feGaussianBlur stdDeviation="4"/></filter>
</defs>
<clipPath id="cbt0"><path d="M1493.3 73.4 1492.4 72.0 1491.3 71.2 1489.9 71.1 1488.3 71.5 1486.6 72.1 1484.9 72.8 1483.3 73.2 1481.7 73.4 1480.3 73.5 1478.8 73.5 1477.2 73.6 1475.5 73.9 1473.7 74.3 1471.8 74.6 1470.1 74.7 1468.5 74.5 1467.0 74.0 1465.7 73.3 1464.5 72.7 1463.4 72.6 1462.4 73.0 1461.5 74.1 1460.6 75.5 1459.8 77.1 1459.2 78.5 1458.7 79.4 1458.4 79.8 1458.1 79.8 1457.9 79.6 1457.7 79.5 1457.5 79.7 1457.5 80.4 1457.4 81.4 1457.4 82.5 1457.4 83.6 1457.4 84.6 1457.3 85.4 1457.1 86.1 1456.7 86.8 1456.0 87.6 1454.9 88.5 1453.6 89.4 1452.1 90.1 1450.5 90.5 1448.9 90.5 1447.3 89.9 1445.8 89.0 1444.3 88.0 1443.0 87.2 1441.8 87.0 1440.9 87.4 1440.1 88.2 1439.5 89.4 1439.0 90.6 1438.5 91.5 1438.1 92.2 1437.7 92.6 1437.3 92.8 1436.9 92.9 1436.5 93.2 1436.1 93.8 1435.7 94.4 1435.3 95.1 1435.0 95.7 1434.6 96.1 1434.3 96.4 1433.9 96.7 1433.6 97.2 1433.2 98.0 1432.9 99.1 1432.6 100.6 1432.4 102.1 1432.1 103.5 1431.8 104.6 1431.5 105.2 1431.1 105.4 1430.7 105.4 1430.2 105.3 1429.7 105.4 1429.2 105.9 1428.8 106.6 1428.3 107.6 1427.9 108.7 1427.4 109.7 1426.9 110.6 1426.3 111.3 1425.8 112.0 1425.2 112.7 1424.7 113.6 1424.2 114.6 1423.7 115.6 1423.2 116.6 1422.7 117.5 1422.1 118.1 1421.4 118.5 1420.7 118.8 1420.1 119.2 1419.4 119.9 1418.9 120.8 1418.5 122.1 1418.2 123.6 1417.9 125.1 1417.7 126.5 1417.3 127.6 1416.8 128.4 1416.2 128.9 1415.6 129.4 1415.0 129.8 1414.4 130.4 1413.8 131.1 1413.3 132.0 1412.8 132.8 1412.2 133.6 1411.6 134.2 1411.0 134.9 1410.3 135.5 1409.8 136.2 1409.3 137.1 1409.0 138.2 1408.7 139.4 1408.5 140.6 1408.3 141.6 1407.9 142.4 1407.4 143.0 1406.9 143.4 1406.2 143.8 1405.7 144.4 1405.3 145.1 1405.1 146.2 1405.0 147.4 1405.0 148.9 1405.0 150.3 1405.0 151.7 1404.9 153.1 1404.7 154.3 1404.4 155.4 1404.1 156.5 1403.8 157.6 1403.5 158.7 1403.2 159.7 1402.7 160.6 1402.2 161.3 1401.5 161.9 1400.7 162.4 1399.9 162.9 1399.2 163.4 1398.6 164.1 1398.3 164.9 1398.1 165.8 1398.0 166.8 1397.9 167.8 1397.7 168.7 1397.3 169.5 1396.7 170.2 1396.0 170.9 1395.2 171.7 1394.6 172.5 1394.1 173.3 1393.8 174.3 1393.7 175.4 1393.6 176.4 1393.4 177.4 1393.2 178.5 1393.0 179.5 1392.7 180.5 1392.5 181.5 1392.3 182.6 1392.2 183.8 1392.2 184.9 1392.0 186.1 1391.7 187.3 1391.2 188.5 1390.6 189.7 1389.8 191.0 1389.1 192.3 1388.6 193.6 1388.3 195.0 1388.3 196.4 1388.5 197.7 1388.8 199.0 1388.9 200.2 1388.9 201.5 1388.7 202.7 1388.3 204.0 1387.8 205.4 1387.4 206.8 1387.1 208.3 1386.9 209.8 1386.9 211.4 1386.8 213.1 1386.8 214.9 1386.7 217.0 1386.6 219.2 1386.5 221.4 1386.6 223.7 1386.8 225.9 1387.3 227.9 1387.9 229.8 1388.4 231.7 1388.9 233.6 1389.1 235.6 1389.2 237.8 1389.1 240.2 1389.0 242.6 1389.0 244.9 1389.3 247.0 1389.8 248.9 1390.6 250.5 1391.4 252.0 1392.3 253.5 1393.0 255.1 1393.6 256.9 1394.1 258.9 1394.6 261.0 1395.1 263.0 1395.7 264.9 1396.4 266.7 1397.0 268.5 1397.7 270.4 1398.3 272.4 1398.7 274.6 1399.2 276.9 1399.7 279.2 1400.3 281.3 1401.0 283.0 1402.0 284.2 1403.2 285.1 1404.3 285.9 1405.5 286.7 1406.5 287.9 1407.3 289.5 1408.1 291.6 1408.8 293.9 1409.5 296.2 1410.3 298.3 1411.3 300.0 1412.4 301.4 1413.5 302.6 1414.7 303.7 1415.9 305.0 1417.1 306.5 1418.3 308.2 1419.5 309.8 1420.8 311.4 1422.2 312.7 1423.5 313.8 1424.9 314.8 1426.3 316.0 1427.6 317.6 1428.9 319.7 1430.2 322.1 1431.5 324.7 1432.9 327.1 1434.4 329.0 1435.9 330.2 1437.4 330.7 1438.9 330.8 1440.4 330.7 1441.8 330.9 1443.3 331.6 1444.7 332.9 1446.1 334.5 1447.5 336.3 1448.9 338.0 1450.3 339.4 1451.7 340.5 1453.2 341.5 1454.6 342.4 1456.2 343.5 1457.9 344.8 1459.7 346.1 1461.5 347.3 1463.4 348.0 1465.2 348.1 1467.0 347.7 1468.7 347.0 1470.4 346.4 1472.2 346.2 1474.1 346.7 1476.1 347.9 1478.3 349.5 1480.6 351.2 1482.9 352.5 1485.0 353.1 1486.9 352.9 1488.6 352.0 1490.1 350.8 1491.5 349.6 1492.8 348.7 1494.2 348.0 1495.5 347.7 1496.7 347.4 1497.7 347.0 1498.6 346.3 1499.4 345.4 1500.1 344.4 1500.8 343.5 1501.6 342.8 1502.5 342.4 1503.5 342.0 1504.4 341.4 1505.0 340.2 1505.2 338.2 1505.1 335.5 1504.6 332.1 1504.1 328.4 1503.7 324.8 1503.4 321.5 1503.5 318.6 1503.9 315.9 1504.4 313.3 1504.8 310.4 1505.0 306.9 1505.0 302.9 1504.8 298.3 1504.5 293.3 1504.2 288.0 1504.0 282.5 1503.9 276.8 1503.9 270.8 1503.8 264.3 1503.7 257.2 1503.4 249.6 1503.0 241.6 1502.7 233.5 1502.5 225.4 1502.5 217.4 1502.9 209.5 1503.4 201.7 1504.1 193.9 1504.6 185.9 1505.0 177.6 1505.0 169.1 1504.8 160.7 1504.3 152.6 1503.9 144.8 1503.6 137.5 1503.4 130.5 1503.5 123.9 1503.7 117.9 1504.0 112.5 1504.2 107.8 1504.3 103.7 1504.3 100.2 1504.3 97.1 1504.3 94.3 1504.3 91.6 1504.3 88.9 1504.2 86.3 1503.8 83.8 1503.2 81.8 1502.2 80.5 1500.8 79.9 1499.4 79.6 1497.9 79.4 1496.6 79.0 1495.5 78.1 1494.7 76.8 1494.0 75.1Z"/></clipPath>
<path d="M1493.3 73.4 1492.4 72.0 1491.3 71.2 1489.9 71.1 1488.3 71.5 1486.6 72.1 1484.9 72.8 1483.3 73.2 1481.7 73.4 1480.3 73.5 1478.8 73.5 1477.2 73.6 1475.5 73.9 1473.7 74.3 1471.8 74.6 1470.1 74.7 1468.5 74.5 1467.0 74.0 1465.7 73.3 1464.5 72.7 1463.4 72.6 1462.4 73.0 1461.5 74.1 1460.6 75.5 1459.8 77.1 1459.2 78.5 1458.7 79.4 1458.4 79.8 1458.1 79.8 1457.9 79.6 1457.7 79.5 1457.5 79.7 1457.5 80.4 1457.4 81.4 1457.4 82.5 1457.4 83.6 1457.4 84.6 1457.3 85.4 1457.1 86.1 1456.7 86.8 1456.0 87.6 1454.9 88.5 1453.6 89.4 1452.1 90.1 1450.5 90.5 1448.9 90.5 1447.3 89.9 1445.8 89.0 1444.3 88.0 1443.0 87.2 1441.8 87.0 1440.9 87.4 1440.1 88.2 1439.5 89.4 1439.0 90.6 1438.5 91.5 1438.1 92.2 1437.7 92.6 1437.3 92.8 1436.9 92.9 1436.5 93.2 1436.1 93.8 1435.7 94.4 1435.3 95.1 1435.0 95.7 1434.6 96.1 1434.3 96.4 1433.9 96.7 1433.6 97.2 1433.2 98.0 1432.9 99.1 1432.6 100.6 1432.4 102.1 1432.1 103.5 1431.8 104.6 1431.5 105.2 1431.1 105.4 1430.7 105.4 1430.2 105.3 1429.7 105.4 1429.2 105.9 1428.8 106.6 1428.3 107.6 1427.9 108.7 1427.4 109.7 1426.9 110.6 1426.3 111.3 1425.8 112.0 1425.2 112.7 1424.7 113.6 1424.2 114.6 1423.7 115.6 1423.2 116.6 1422.7 117.5 1422.1 118.1 1421.4 118.5 1420.7 118.8 1420.1 119.2 1419.4 119.9 1418.9 120.8 1418.5 122.1 1418.2 123.6 1417.9 125.1 1417.7 126.5 1417.3 127.6 1416.8 128.4 1416.2 128.9 1415.6 129.4 1415.0 129.8 1414.4 130.4 1413.8 131.1 1413.3 132.0 1412.8 132.8 1412.2 133.6 1411.6 134.2 1411.0 134.9 1410.3 135.5 1409.8 136.2 1409.3 137.1 1409.0 138.2 1408.7 139.4 1408.5 140.6 1408.3 141.6 1407.9 142.4 1407.4 143.0 1406.9 143.4 1406.2 143.8 1405.7 144.4 1405.3 145.1 1405.1 146.2 1405.0 147.4 1405.0 148.9 1405.0 150.3 1405.0 151.7 1404.9 153.1 1404.7 154.3 1404.4 155.4 1404.1 156.5 1403.8 157.6 1403.5 158.7 1403.2 159.7 1402.7 160.6 1402.2 161.3 1401.5 161.9 1400.7 162.4 1399.9 162.9 1399.2 163.4 1398.6 164.1 1398.3 164.9 1398.1 165.8 1398.0 166.8 1397.9 167.8 1397.7 168.7 1397.3 169.5 1396.7 170.2 1396.0 170.9 1395.2 171.7 1394.6 172.5 1394.1 173.3 1393.8 174.3 1393.7 175.4 1393.6 176.4 1393.4 177.4 1393.2 178.5 1393.0 179.5 1392.7 180.5 1392.5 181.5 1392.3 182.6 1392.2 183.8 1392.2 184.9 1392.0 186.1 1391.7 187.3 1391.2 188.5 1390.6 189.7 1389.8 191.0 1389.1 192.3 1388.6 193.6 1388.3 195.0 1388.3 196.4 1388.5 197.7 1388.8 199.0 1388.9 200.2 1388.9 201.5 1388.7 202.7 1388.3 204.0 1387.8 205.4 1387.4 206.8 1387.1 208.3 1386.9 209.8 1386.9 211.4 1386.8 213.1 1386.8 214.9 1386.7 217.0 1386.6 219.2 1386.5 221.4 1386.6 223.7 1386.8 225.9 1387.3 227.9 1387.9 229.8 1388.4 231.7 1388.9 233.6 1389.1 235.6 1389.2 237.8 1389.1 240.2 1389.0 242.6 1389.0 244.9 1389.3 247.0 1389.8 248.9 1390.6 250.5 1391.4 252.0 1392.3 253.5 1393.0 255.1 1393.6 256.9 1394.1 258.9 1394.6 261.0 1395.1 263.0 1395.7 264.9 1396.4 266.7 1397.0 268.5 1397.7 270.4 1398.3 272.4 1398.7 274.6 1399.2 276.9 1399.7 279.2 1400.3 281.3 1401.0 283.0 1402.0 284.2 1403.2 285.1 1404.3 285.9 1405.5 286.7 1406.5 287.9 1407.3 289.5 1408.1 291.6 1408.8 293.9 1409.5 296.2 1410.3 298.3 1411.3 300.0 1412.4 301.4 1413.5 302.6 1414.7 303.7 1415.9 305.0 1417.1 306.5 1418.3 308.2 1419.5 309.8 1420.8 311.4 1422.2 312.7 1423.5 313.8 1424.9 314.8 1426.3 316.0 1427.6 317.6 1428.9 319.7 1430.2 322.1 1431.5 324.7 1432.9 327.1 1434.4 329.0 1435.9 330.2 1437.4 330.7 1438.9 330.8 1440.4 330.7 1441.8 330.9 1443.3 331.6 1444.7 332.9 1446.1 334.5 1447.5 336.3 1448.9 338.0 1450.3 339.4 1451.7 340.5 1453.2 341.5 1454.6 342.4 1456.2 343.5 1457.9 344.8 1459.7 346.1 1461.5 347.3 1463.4 348.0 1465.2 348.1 1467.0 347.7 1468.7 347.0 1470.4 346.4 1472.2 346.2 1474.1 346.7 1476.1 347.9 1478.3 349.5 1480.6 351.2 1482.9 352.5 1485.0 353.1 1486.9 352.9 1488.6 352.0 1490.1 350.8 1491.5 349.6 1492.8 348.7 1494.2 348.0 1495.5 347.7 1496.7 347.4 1497.7 347.0 1498.6 346.3 1499.4 345.4 1500.1 344.4 1500.8 343.5 1501.6 342.8 1502.5 342.4 1503.5 342.0 1504.4 341.4 1505.0 340.2 1505.2 338.2 1505.1 335.5 1504.6 332.1 1504.1 328.4 1503.7 324.8 1503.4 321.5 1503.5 318.6 1503.9 315.9 1504.4 313.3 1504.8 310.4 1505.0 306.9 1505.0 302.9 1504.8 298.3 1504.5 293.3 1504.2 288.0 1504.0 282.5 1503.9 276.8 1503.9 270.8 1503.8 264.3 1503.7 257.2 1503.4 249.6 1503.0 241.6 1502.7 233.5 1502.5 225.4 1502.5 217.4 1502.9 209.5 1503.4 201.7 1504.1 193.9 1504.6 185.9 1505.0 177.6 1505.0 169.1 1504.8 160.7 1504.3 152.6 1503.9 144.8 1503.6 137.5 1503.4 130.5 1503.5 123.9 1503.7 117.9 1504.0 112.5 1504.2 107.8 1504.3 103.7 1504.3 100.2 1504.3 97.1 1504.3 94.3 1504.3 91.6 1504.3 88.9 1504.2 86.3 1503.8 83.8 1503.2 81.8 1502.2 80.5 1500.8 79.9 1499.4 79.6 1497.9 79.4 1496.6 79.0 1495.5 78.1 1494.7 76.8 1494.0 75.1Z" fill="url(#gbrain)"/>
<g clip-path="url(#cbt0)" filter="url(#fb2)"><ellipse cx="1408.4" cy="210.9" rx="19.2" ry="40.5" fill="#a8a39c" opacity="0.4"/><ellipse cx="1442.5" cy="129.9" rx="14.9" ry="25.6" fill="#a8a39c" opacity="0.25"/><ellipse cx="1416.9" cy="279.1" rx="14.9" ry="25.6" fill="#a8a39c" opacity="0.3"/><ellipse cx="1474.4" cy="317.5" rx="19.2" ry="17.1" fill="#a8a39c" opacity="0.25"/><ellipse cx="1455.3" cy="245.0" rx="17.1" ry="17.1" fill="#a8a39c" opacity="0.15"/></g>
<g clip-path="url(#cbt0)"><path d="M1487.7 85.2 1486.3 85.3 1485.3 84.7 1484.6 83.4 1484.0 81.8 1483.2 80.4 1482.3 79.4 1481.0 79.2 1479.5 79.5 1477.9 80.1 1476.3 80.6 1474.9 80.6 1473.5 80.1 1472.1 79.4 1470.7 78.8 1469.1 78.6 1467.3 79.2 1465.5 80.6 1463.7 82.5 1462.0 84.4 1460.7 85.9 1459.8 86.6 1459.1 86.5 1458.7 85.9 1458.4 85.1 1458.1 84.5 1457.8 84.5 1457.5 85.1 1457.1 86.0 1456.7 86.9 1456.4 87.4 1456.3 87.6 1456.3 87.4 1456.5 87.1 1456.6 87.3 1456.7 88.0 1456.6 89.5 1456.3 91.6 1455.8 93.9 1455.2 95.9 1454.4 97.3 1453.5 97.9 1452.5 97.7 1451.3 97.0 1449.9 96.4 1448.4 96.0 1446.9 96.0 1445.3 96.3 1443.9 96.7 1442.7 96.9 1441.7 96.7 1440.9 96.0 1440.1 95.0 1439.5 94.1 1439.0 93.7 1438.5 94.1 1438.2 95.2 1437.8 96.8 1437.5 98.6 1437.2 100.1 1436.8 101.2 1436.4 101.7 1436.1 101.9 1435.7 102.0 1435.4 102.4 1435.1 103.2 1434.8 104.3 1434.5 105.6 1434.3 106.7 1434.0 107.3 1433.6 107.3 1433.2 106.8 1432.8 106.2 1432.3 105.8 1432.0 105.9 1431.6 106.7 1431.4 108.0 1431.1 109.6 1430.9 111.2 1430.6 112.4 1430.2 113.3 1429.8 113.8 1429.3 114.1 1428.8 114.5 1428.3 115.3 1427.9 116.4 1427.5 117.8 1427.1 119.0 1426.7 120.0 1426.1 120.5 1425.5 120.4 1424.8 120.1 1424.0 119.9 1423.3 119.9 1422.7 120.4 1422.2 121.4 1421.9 122.8 1421.5 124.2 1421.2 125.5 1420.7 126.6 1420.2 127.3 1419.7 127.9 1419.2 128.5 1418.8 129.4 1418.5 130.6 1418.3 132.0 1418.2 133.5 1418.0 134.9 1417.6 135.8 1417.1 136.3 1416.3 136.4 1415.5 136.3 1414.6 136.3 1413.8 136.5 1413.1 137.1 1412.7 137.9 1412.3 138.9 1411.9 139.8 1411.5 140.6 1410.9 141.2 1410.3 141.7 1409.8 142.3 1409.4 143.0 1409.2 144.0 1409.2 145.3 1409.4 146.7 1409.6 148.1 1409.7 149.3 1409.5 150.3 1409.1 150.9 1408.5 151.4 1407.8 151.9 1407.2 152.6 1406.8 153.5 1406.6 154.7 1406.6 156.0 1406.5 157.3 1406.4 158.4 1406.0 159.4 1405.5 160.2 1404.8 160.9 1404.2 161.6 1403.7 162.4 1403.5 163.2 1403.5 164.1 1403.5 165.1 1403.5 166.0 1403.3 166.7 1402.9 167.3 1402.1 167.8 1401.3 168.3 1400.5 168.9 1399.9 169.5 1399.5 170.3 1399.2 171.1 1399.1 172.0 1398.8 172.9 1398.3 173.7 1397.7 174.4 1396.9 175.2 1396.1 176.0 1395.5 176.9 1395.3 177.8 1395.4 178.8 1395.8 179.9 1396.3 181.0 1396.6 182.0 1396.7 183.0 1396.4 184.0 1395.9 185.0 1395.3 186.1 1394.8 187.2 1394.5 188.3 1394.4 189.4 1394.3 190.6 1394.2 191.8 1393.9 193.0 1393.2 194.3 1392.3 195.7 1391.4 197.1 1390.6 198.5 1390.1 199.8 1390.0 201.1 1390.3 202.1 1390.9 203.1 1391.4 204.1 1391.7 205.2 1391.7 206.4 1391.5 207.8 1391.2 209.4 1390.9 211.0 1390.9 212.8 1391.2 214.5 1391.6 216.2 1392.0 217.9 1392.1 219.9 1392.0 222.1 1391.6 224.6 1391.0 227.2 1390.4 229.9 1390.0 232.4 1390.1 234.5 1390.6 236.3 1391.5 237.6 1392.4 238.9 1393.3 240.1 1393.9 241.6 1394.3 243.4 1394.6 245.4 1394.9 247.3 1395.4 249.1 1396.2 250.5 1397.1 251.6 1398.1 252.7 1398.9 253.9 1399.5 255.5 1399.8 257.7 1399.8 260.4 1399.7 263.4 1399.8 266.3 1400.0 268.8 1400.6 270.7 1401.4 272.0 1402.4 273.0 1403.4 274.0 1404.2 275.2 1404.9 276.8 1405.6 278.8 1406.2 280.7 1406.9 282.4 1407.9 283.5 1409.1 283.9 1410.4 284.0 1411.6 284.0 1412.7 284.5 1413.7 285.8 1414.4 287.9 1415.0 290.6 1415.6 293.6 1416.4 296.3 1417.3 298.5 1418.4 299.9 1419.6 301.0 1420.9 301.9 1422.1 303.1 1423.3 304.9 1424.4 307.1 1425.6 309.5 1426.8 311.6 1428.1 312.9 1429.4 313.4 1430.9 313.0 1432.3 312.2 1433.7 311.7 1435.1 312.0 1436.4 313.2 1437.7 315.5 1439.0 318.2 1440.4 320.9 1441.7 323.1 1443.1 324.5 1444.4 325.3 1445.7 325.8 1447.0 326.5 1448.3 327.8 1449.7 329.8 1451.1 332.2 1452.6 334.4 1454.0 336.0 1455.5 336.4 1456.9 335.6 1458.2 334.1 1459.6 332.4 1461.0 331.3 1462.6 331.1 1464.4 332.0 1466.4 333.7 1468.4 335.7 1470.4 337.2 1472.3 338.0 1473.9 338.0 1475.5 337.6 1477.2 337.3 1479.0 337.6 1481.1 338.7 1483.4 340.4 1485.7 342.3 1487.9 343.6 1489.7 343.9 1491.0 342.9 1491.7 340.7 1492.1 337.9 1492.4 335.3 1492.9 333.4 1493.6 332.4 1494.5 332.3 1495.6 332.5 1496.5 332.5 1497.3 331.8 1497.6 330.3 1497.8 328.1 1497.9 325.9 1498.1 324.1 1498.7 323.1 1499.5 322.8 1500.5 322.8 1501.5 322.6 1502.2 321.5 1502.4 319.1 1502.0 315.4 1501.3 310.7 1500.5 305.7 1499.8 300.8 1499.4 296.5 1499.2 292.6 1499.3 288.8 1499.4 284.8 1499.3 280.2 1499.0 275.0 1498.4 269.1 1497.8 262.9 1497.4 256.5 1497.4 250.2 1497.8 244.0 1498.6 237.7 1499.6 231.1 1500.4 224.1 1501.0 216.6 1501.0 208.8 1500.7 201.0 1500.1 193.5 1499.6 186.1 1499.3 178.5 1499.3 170.7 1499.5 162.8 1499.9 155.0 1500.0 147.3 1499.9 140.3 1499.4 134.0 1498.7 128.6 1498.1 123.9 1497.7 119.8 1497.8 115.6 1498.4 111.4 1499.3 107.0 1500.2 102.8 1500.9 99.2 1501.1 96.3 1500.8 94.1 1500.1 92.6 1499.2 91.3 1498.4 89.9 1497.6 88.3 1497.0 86.6 1496.4 84.9 1495.6 83.5 1494.5 82.8 1493.0 82.9 1491.3 83.6 1489.4 84.5ZM1486.7 89.9 1485.8 88.9 1484.9 88.0 1484.0 87.1 1482.9 86.7 1481.6 86.7 1480.1 87.4 1478.5 88.6 1476.7 90.2 1474.9 91.9 1473.2 93.6 1471.6 94.8 1470.1 95.6 1468.6 95.8 1467.3 95.5 1466.0 94.8 1464.8 94.0 1463.6 93.2 1462.5 92.7 1461.4 92.5 1460.4 92.7 1459.6 93.0 1458.9 93.4 1458.3 93.7 1457.9 93.7 1457.6 93.3 1457.3 92.8 1457.1 92.1 1456.9 91.6 1456.7 91.4 1456.5 91.7 1456.2 92.6 1456.0 94.2 1455.9 96.3 1455.7 98.6 1455.6 100.9 1455.5 102.8 1455.3 104.4 1455.1 105.4 1454.7 105.9 1454.2 106.0 1453.5 105.9 1452.5 105.8 1451.3 105.7 1450.0 105.8 1448.6 106.0 1447.2 106.3 1445.8 106.5 1444.6 106.4 1443.5 106.1 1442.5 105.4 1441.7 104.4 1441.0 103.4 1440.3 102.4 1439.8 101.6 1439.3 101.4 1438.9 101.7 1438.6 102.5 1438.4 103.8 1438.1 105.3 1437.9 106.9 1437.6 108.3 1437.3 109.4 1437.0 110.3 1436.8 110.9 1436.5 111.5 1436.2 112.0 1435.9 112.7 1435.7 113.6 1435.5 114.7 1435.3 115.9 1435.1 117.1 1434.9 118.2 1434.6 118.9 1434.3 119.2 1433.9 119.1 1433.5 118.7 1433.0 118.1 1432.4 117.5 1431.9 117.1 1431.4 117.0 1430.9 117.3 1430.5 118.0 1430.1 118.9 1429.8 120.1 1429.4 121.2 1429.0 122.3 1428.6 123.1 1428.2 123.8 1427.7 124.4 1427.2 124.9 1426.7 125.7 1426.3 126.6 1426.0 127.8 1425.8 129.2 1425.6 130.8 1425.4 132.4 1425.2 133.8 1424.9 134.9 1424.5 135.6 1424.0 136.0 1423.3 136.0 1422.5 135.9 1421.8 135.8 1421.0 135.7 1420.4 135.9 1419.8 136.4 1419.4 137.0 1419.0 137.9 1418.7 138.7 1418.3 139.6 1417.9 140.3 1417.4 140.9 1416.7 141.3 1416.1 141.7 1415.4 142.1 1414.9 142.7 1414.5 143.5 1414.3 144.5 1414.2 145.8 1414.3 147.2 1414.5 148.6 1414.7 149.9 1414.7 151.0 1414.6 151.9 1414.3 152.5 1413.8 152.9 1413.2 153.3 1412.6 153.6 1412.0 154.0 1411.6 154.6 1411.2 155.4 1411.0 156.3 1410.8 157.3 1410.7 158.4 1410.5 159.5 1410.2 160.4 1409.7 161.2 1409.2 162.0 1408.5 162.6 1407.9 163.3 1407.4 163.9 1406.9 164.6 1406.7 165.4 1406.7 166.3 1406.8 167.2 1406.9 168.1 1407.0 169.0 1407.0 169.8 1406.9 170.5 1406.6 171.2 1406.1 171.8 1405.5 172.3 1404.9 172.9 1404.4 173.5 1403.9 174.2 1403.7 175.0 1403.4 175.8 1403.3 176.6 1403.0 177.4 1402.7 178.2 1402.1 178.9 1401.4 179.6 1400.6 180.3 1399.7 181.0 1398.9 181.8 1398.3 182.6 1397.9 183.6 1397.8 184.6 1397.9 185.6 1398.2 186.7 1398.7 187.8 1399.0 188.9 1399.3 190.0 1399.4 191.1 1399.2 192.2 1398.9 193.3 1398.6 194.4 1398.3 195.5 1398.1 196.7 1398.0 197.8 1398.1 198.9 1398.2 199.9 1398.4 200.9 1398.4 201.9 1398.2 203.0 1397.8 204.1 1397.1 205.4 1396.3 206.9 1395.4 208.5 1394.5 210.3 1393.9 212.1 1393.5 214.1 1393.5 216.0 1393.7 217.8 1394.2 219.6 1394.8 221.3 1395.3 223.0 1395.8 224.7 1396.2 226.4 1396.5 228.1 1396.7 229.8 1396.9 231.6 1397.3 233.2 1397.8 234.7 1398.6 235.9 1399.4 237.1 1400.4 238.1 1401.3 239.1 1402.1 240.2 1402.6 241.6 1402.9 243.4 1402.9 245.4 1402.7 247.8 1402.5 250.4 1402.3 253.0 1402.3 255.4 1402.4 257.6 1402.8 259.6 1403.4 261.1 1404.2 262.5 1404.9 263.7 1405.7 265.0 1406.4 266.4 1407.0 267.9 1407.6 269.6 1408.1 271.4 1408.7 273.0 1409.5 274.4 1410.4 275.4 1411.5 276.0 1412.7 276.2 1414.0 276.2 1415.3 276.2 1416.4 276.3 1417.5 276.9 1418.3 278.0 1419.0 279.6 1419.6 281.7 1420.2 284.2 1420.8 286.7 1421.5 289.1 1422.4 291.2 1423.3 293.0 1424.4 294.5 1425.5 295.8 1426.7 297.1 1427.8 298.6 1428.9 300.4 1429.9 302.4 1431.0 304.6 1432.1 306.7 1433.3 308.6 1434.5 310.0 1435.8 310.8 1437.2 310.9 1438.6 310.4 1440.0 309.5 1441.3 308.6 1442.6 307.9 1443.8 307.7 1445.0 308.1 1446.1 309.1 1447.3 310.7 1448.4 312.6 1449.6 314.5 1450.8 316.1 1452.0 317.4 1453.3 318.3 1454.6 319.0 1455.9 319.5 1457.4 320.2 1458.9 321.3 1460.6 322.9 1462.4 324.9 1464.3 327.1 1466.2 329.4 1468.1 331.3 1470.0 332.5 1471.7 332.8 1473.2 332.3 1474.6 331.0 1475.8 329.2 1477.0 327.2 1478.3 325.3 1479.5 323.9 1480.9 323.1 1482.3 322.7 1483.8 322.8 1485.2 322.9 1486.5 323.0 1487.6 322.7 1488.5 322.1 1489.2 321.1 1489.7 320.0 1490.3 318.9 1490.8 318.1 1491.6 317.8 1492.5 318.0 1493.6 318.6 1494.8 319.3 1495.9 319.9 1497.0 320.2 1497.7 319.8 1498.1 318.5 1498.1 316.4 1497.8 313.5 1497.4 310.0 1496.8 306.3 1496.3 302.5 1496.0 298.8 1495.8 295.2 1495.7 291.9 1495.6 288.6 1495.5 285.0 1495.4 281.1 1495.0 276.8 1494.5 271.9 1494.0 266.8 1493.4 261.3 1492.9 255.8 1492.6 250.3 1492.6 244.7 1492.9 239.0 1493.5 233.2 1494.2 227.2 1495.0 220.9 1495.8 214.3 1496.4 207.5 1496.8 200.5 1496.9 193.6 1496.8 186.7 1496.5 179.6 1496.3 172.4 1496.1 165.2 1496.1 158.1 1496.2 151.1 1496.3 144.4 1496.5 138.0 1496.6 132.2 1496.4 127.3 1496.1 123.3 1495.6 120.2 1495.0 117.8 1494.3 116.0 1493.6 114.5 1493.1 113.0 1492.8 111.3 1492.7 109.2 1492.8 106.7 1493.0 103.8 1493.2 100.9 1493.2 98.1 1493.0 95.8 1492.5 94.1 1491.8 92.9 1490.8 92.2 1489.7 91.7 1488.6 91.2 1487.6 90.7ZM1480.1 103.9 1478.5 105.1 1477.0 106.2 1475.6 107.1 1474.4 107.6 1473.3 107.8 1472.3 107.5 1471.5 107.0 1470.6 106.3 1469.8 105.6 1468.9 105.0 1467.9 104.5 1466.7 104.3 1465.5 104.3 1464.1 104.4 1462.8 104.5 1461.6 104.5 1460.4 104.3 1459.4 103.9 1458.5 103.2 1457.9 102.3 1457.3 101.3 1456.9 100.4 1456.5 99.7 1456.1 99.5 1455.8 99.7 1455.4 100.5 1455.0 101.7 1454.5 103.3 1454.1 105.1 1453.6 107.0 1453.2 108.8 1453.0 110.5 1452.8 111.9 1452.8 113.0 1452.8 113.8 1452.8 114.4 1452.8 114.9 1452.6 115.3 1452.3 115.8 1451.8 116.3 1451.1 116.9 1450.1 117.5 1449.0 118.0 1447.8 118.3 1446.6 118.4 1445.4 118.1 1444.3 117.5 1443.2 116.6 1442.2 115.4 1441.4 114.2 1440.7 113.0 1440.1 112.0 1439.6 111.3 1439.2 111.1 1438.8 111.2 1438.5 111.8 1438.2 112.7 1437.9 113.9 1437.6 115.1 1437.3 116.3 1437.0 117.4 1436.7 118.3 1436.5 119.0 1436.2 119.7 1436.0 120.2 1435.7 120.9 1435.5 121.6 1435.3 122.5 1435.0 123.7 1434.8 124.9 1434.6 126.3 1434.5 127.6 1434.3 128.8 1434.1 129.8 1433.9 130.4 1433.6 130.7 1433.3 130.6 1432.9 130.2 1432.5 129.6 1432.0 129.0 1431.5 128.5 1431.0 128.1 1430.6 128.0 1430.1 128.2 1429.6 128.6 1429.2 129.3 1428.8 130.0 1428.4 130.9 1428.0 131.6 1427.6 132.3 1427.2 132.9 1426.8 133.5 1426.3 134.0 1425.8 134.5 1425.4 135.2 1425.0 136.1 1424.7 137.1 1424.4 138.4 1424.3 139.9 1424.1 141.5 1424.0 143.0 1423.9 144.5 1423.8 145.7 1423.6 146.7 1423.3 147.4 1422.9 147.9 1422.4 148.1 1421.8 148.1 1421.2 148.1 1420.6 148.1 1420.0 148.1 1419.4 148.3 1418.9 148.7 1418.4 149.1 1417.9 149.6 1417.5 150.2 1417.0 150.7 1416.5 151.1 1416.0 151.5 1415.5 151.8 1415.0 152.1 1414.4 152.3 1414.0 152.6 1413.6 153.1 1413.3 153.7 1413.2 154.6 1413.2 155.7 1413.3 156.9 1413.5 158.3 1413.7 159.7 1414.0 161.1 1414.2 162.5 1414.3 163.8 1414.3 164.9 1414.2 165.8 1414.0 166.7 1413.7 167.4 1413.4 168.0 1413.0 168.7 1412.6 169.3 1412.2 169.9 1411.9 170.4 1411.5 171.0 1411.1 171.5 1410.7 172.0 1410.2 172.4 1409.6 172.7 1408.9 173.0 1408.2 173.2 1407.3 173.5 1406.5 173.8 1405.7 174.1 1405.1 174.6 1404.5 175.1 1404.2 175.8 1404.0 176.6 1404.0 177.5 1404.2 178.4 1404.4 179.4 1404.7 180.4 1404.9 181.4 1405.0 182.3 1405.0 183.1 1405.0 183.9 1404.8 184.7 1404.6 185.5 1404.4 186.3 1404.2 187.1 1404.1 187.9 1404.1 188.8 1404.1 189.8 1404.1 190.7 1404.2 191.7 1404.1 192.6 1403.9 193.6 1403.6 194.5 1403.1 195.5 1402.4 196.5 1401.6 197.5 1400.7 198.5 1399.9 199.6 1399.1 200.6 1398.5 201.7 1398.1 202.7 1397.9 203.8 1397.9 204.8 1398.1 205.9 1398.3 207.0 1398.6 208.2 1398.8 209.4 1399.0 210.8 1399.1 212.3 1399.2 213.9 1399.2 215.6 1399.2 217.3 1399.4 219.0 1399.6 220.7 1400.0 222.2 1400.6 223.6 1401.2 224.8 1402.0 225.9 1402.7 227.0 1403.4 228.0 1403.9 229.2 1404.3 230.5 1404.5 232.0 1404.5 233.6 1404.4 235.5 1404.2 237.5 1404.1 239.6 1403.9 241.7 1403.9 243.7 1404.0 245.6 1404.3 247.3 1404.7 248.9 1405.2 250.3 1405.8 251.7 1406.4 253.1 1406.9 254.5 1407.3 256.0 1407.8 257.7 1408.2 259.3 1408.6 261.0 1409.0 262.6 1409.6 264.1 1410.3 265.2 1411.1 266.1 1412.1 266.6 1413.2 266.8 1414.3 266.9 1415.4 266.9 1416.4 266.9 1417.4 267.1 1418.3 267.7 1419.0 268.6 1419.7 269.9 1420.3 271.4 1420.9 273.3 1421.5 275.2 1422.2 277.1 1422.9 279.0 1423.7 280.7 1424.6 282.2 1425.5 283.5 1426.5 284.8 1427.5 286.2 1428.4 287.6 1429.4 289.3 1430.4 291.2 1431.3 293.3 1432.3 295.5 1433.3 297.7 1434.4 299.7 1435.6 301.3 1436.8 302.5 1437.9 303.2 1439.1 303.3 1440.3 302.9 1441.5 302.2 1442.6 301.4 1443.6 300.6 1444.6 300.1 1445.6 299.9 1446.5 300.1 1447.5 300.7 1448.6 301.7 1449.7 302.8 1450.8 303.9 1452.0 304.9 1453.2 305.7 1454.5 306.2 1455.8 306.5 1457.1 306.8 1458.4 307.0 1459.8 307.4 1461.3 308.1 1462.9 309.2 1464.6 310.8 1466.4 312.6 1468.2 314.7 1470.1 316.7 1472.1 318.6 1474.0 320.0 1475.8 320.8 1477.4 321.0 1478.8 320.5 1479.9 319.4 1480.8 317.9 1481.6 316.2 1482.2 314.5 1482.7 313.0 1483.2 311.7 1483.8 310.8 1484.4 310.1 1485.1 309.5 1485.6 308.9 1486.1 308.1 1486.5 307.0 1486.7 305.5 1486.7 303.6 1486.6 301.5 1486.4 299.2 1486.3 297.0 1486.1 295.0 1486.2 293.3 1486.4 292.0 1486.9 291.0 1487.5 290.2 1488.3 289.5 1489.2 288.5 1490.0 287.3 1490.6 285.5 1491.1 283.3 1491.3 280.4 1491.2 276.9 1491.0 273.0 1490.6 268.6 1490.2 264.0 1489.9 259.2 1489.6 254.2 1489.4 249.1 1489.4 243.7 1489.4 238.0 1489.5 232.0 1489.5 225.9 1489.4 219.5 1489.2 213.1 1488.8 206.7 1488.2 200.5 1487.6 194.7 1486.9 188.9 1486.3 183.1 1485.8 177.3 1485.5 171.4 1485.5 165.6 1485.8 159.7 1486.2 153.8 1486.8 148.0 1487.6 142.3 1488.2 137.2 1488.8 132.5 1489.3 128.4 1489.7 124.9 1489.9 122.0 1489.9 119.6 1489.8 117.5 1489.6 115.6 1489.5 113.8 1489.3 111.9 1489.2 109.8 1489.0 107.7 1488.7 105.7 1488.3 103.9 1487.8 102.5 1487.0 101.6 1486.0 101.1 1484.8 101.2 1483.3 101.8 1481.8 102.7ZM1477.6 111.4 1476.9 110.8 1476.0 110.5 1475.1 110.3 1474.2 110.1 1473.3 110.0 1472.4 109.8 1471.5 109.5 1470.7 109.1 1469.8 108.5 1468.9 108.0 1468.0 107.5 1466.9 107.1 1465.8 106.9 1464.5 107.1 1463.2 107.5 1461.9 108.3 1460.5 109.4 1459.3 110.7 1458.2 112.2 1457.2 113.7 1456.4 115.2 1455.7 116.5 1455.1 117.7 1454.7 118.6 1454.4 119.2 1454.1 119.6 1453.9 119.7 1453.7 119.8 1453.6 119.7 1453.4 119.7 1453.3 119.7 1453.3 119.9 1453.3 120.3 1453.3 120.8 1453.3 121.4 1453.3 122.0 1453.2 122.6 1453.1 123.1 1452.8 123.3 1452.4 123.3 1451.9 123.0 1451.1 122.4 1450.3 121.6 1449.2 120.6 1448.2 119.6 1447.0 118.7 1445.9 117.9 1444.8 117.3 1443.8 117.1 1443.0 117.2 1442.4 117.7 1441.9 118.4 1441.5 119.4 1441.2 120.5 1440.9 121.7 1440.7 122.8 1440.5 123.9 1440.3 124.9 1440.1 125.7 1439.9 126.3 1439.6 126.9 1439.4 127.4 1439.2 127.8 1438.9 128.3 1438.7 128.9 1438.6 129.5 1438.4 130.3 1438.2 131.2 1438.1 132.1 1437.9 133.0 1437.8 133.8 1437.6 134.6 1437.4 135.2 1437.2 135.6 1437.0 135.8 1436.7 135.7 1436.3 135.5 1435.9 135.1 1435.5 134.7 1435.0 134.2 1434.5 133.7 1434.0 133.4 1433.5 133.2 1433.0 133.3 1432.6 133.5 1432.2 134.0 1431.8 134.6 1431.5 135.3 1431.2 136.1 1430.9 137.0 1430.7 137.8 1430.4 138.6 1430.0 139.3 1429.7 140.0 1429.3 140.6 1429.0 141.3 1428.6 141.9 1428.3 142.6 1428.0 143.3 1427.7 144.1 1427.5 145.1 1427.4 146.1 1427.4 147.3 1427.4 148.4 1427.4 149.6 1427.4 150.7 1427.3 151.7 1427.2 152.5 1427.0 153.2 1426.7 153.7 1426.3 154.0 1425.7 154.2 1425.1 154.2 1424.5 154.2 1423.8 154.2 1423.1 154.2 1422.4 154.2 1421.8 154.4 1421.3 154.6 1420.9 155.0 1420.5 155.5 1420.2 156.0 1420.0 156.6 1419.8 157.1 1419.5 157.7 1419.2 158.2 1418.9 158.7 1418.6 159.1 1418.2 159.6 1417.8 160.1 1417.4 160.7 1417.1 161.3 1416.9 162.1 1416.8 163.0 1416.8 164.0 1416.9 165.0 1417.0 166.1 1417.3 167.2 1417.6 168.3 1417.9 169.3 1418.1 170.2 1418.2 171.0 1418.2 171.6 1418.1 172.2 1417.9 172.6 1417.5 173.0 1417.1 173.4 1416.6 173.7 1416.1 174.0 1415.6 174.4 1415.1 174.9 1414.7 175.3 1414.4 175.8 1414.1 176.4 1413.9 176.9 1413.7 177.5 1413.5 178.1 1413.2 178.7 1412.9 179.3 1412.5 179.8 1412.0 180.4 1411.4 181.0 1410.8 181.5 1410.1 182.1 1409.4 182.8 1408.7 183.4 1408.1 184.1 1407.6 184.9 1407.2 185.7 1407.0 186.5 1407.0 187.4 1407.1 188.2 1407.3 189.1 1407.5 190.0 1407.8 190.8 1408.2 191.7 1408.4 192.5 1408.6 193.4 1408.7 194.2 1408.8 195.1 1408.7 195.9 1408.6 196.7 1408.5 197.5 1408.4 198.3 1408.4 199.2 1408.4 200.0 1408.5 200.8 1408.7 201.7 1408.9 202.6 1409.2 203.5 1409.5 204.5 1409.7 205.7 1409.8 206.9 1409.8 208.3 1409.7 209.7 1409.4 211.4 1409.0 213.1 1408.5 214.9 1408.0 216.8 1407.4 218.7 1407.0 220.6 1406.6 222.5 1406.4 224.2 1406.4 225.8 1406.5 227.3 1406.8 228.7 1407.3 229.9 1407.8 231.1 1408.4 232.1 1408.9 233.2 1409.5 234.2 1410.0 235.4 1410.5 236.5 1410.9 237.8 1411.3 239.1 1411.7 240.4 1412.1 241.7 1412.6 243.0 1413.1 244.1 1413.8 245.0 1414.5 245.7 1415.3 246.2 1416.2 246.6 1417.1 246.8 1418.1 247.0 1419.0 247.2 1419.8 247.4 1420.5 247.9 1421.2 248.6 1421.7 249.5 1422.2 250.8 1422.5 252.3 1422.8 254.0 1423.1 255.9 1423.4 257.8 1423.7 259.7 1424.2 261.6 1424.7 263.3 1425.2 264.9 1425.9 266.3 1426.6 267.6 1427.4 268.8 1428.2 269.9 1429.1 271.1 1429.9 272.4 1430.7 273.8 1431.6 275.3 1432.4 276.9 1433.2 278.7 1434.1 280.4 1435.0 282.0 1435.9 283.5 1436.9 284.7 1437.9 285.6 1439.0 286.1 1440.1 286.2 1441.1 285.9 1442.2 285.2 1443.3 284.4 1444.3 283.5 1445.2 282.6 1446.1 281.8 1447.0 281.3 1447.8 281.2 1448.7 281.4 1449.6 281.9 1450.5 282.8 1451.4 283.8 1452.4 285.0 1453.5 286.2 1454.6 287.3 1455.8 288.3 1457.0 289.0 1458.2 289.6 1459.5 290.1 1460.7 290.4 1462.0 290.8 1463.2 291.2 1464.5 291.8 1465.8 292.6 1467.2 293.6 1468.7 295.0 1470.3 296.5 1472.0 298.1 1473.7 299.7 1475.4 301.1 1477.0 302.3 1478.4 303.0 1479.7 303.3 1480.7 303.0 1481.5 302.2 1482.0 301.0 1482.3 299.4 1482.5 297.6 1482.6 295.7 1482.7 293.7 1482.7 291.9 1482.7 290.1 1482.8 288.5 1483.0 287.0 1483.2 285.7 1483.4 284.5 1483.5 283.3 1483.7 281.9 1483.7 280.4 1483.6 278.6 1483.5 276.5 1483.3 274.2 1483.0 271.6 1482.7 268.8 1482.4 265.9 1482.2 263.1 1482.0 260.4 1481.9 257.8 1482.0 255.4 1482.2 253.1 1482.6 250.7 1483.1 248.3 1483.7 245.7 1484.3 242.7 1484.9 239.3 1485.5 235.3 1485.9 230.7 1486.2 225.7 1486.4 220.3 1486.4 214.6 1486.4 208.8 1486.2 203.1 1486.0 197.4 1485.8 192.0 1485.6 186.6 1485.5 181.0 1485.4 175.3 1485.4 169.6 1485.5 164.0 1485.6 158.5 1485.6 153.2 1485.6 148.3 1485.5 143.9 1485.3 140.2 1485.0 137.2 1484.6 134.8 1484.0 133.0 1483.5 131.6 1482.9 130.5 1482.3 129.7 1481.7 128.9 1481.3 128.0 1480.9 127.0 1480.6 125.7 1480.3 124.2 1480.2 122.5 1480.1 120.8 1480.0 119.1 1479.8 117.4 1479.6 115.8 1479.3 114.3 1478.8 113.1 1478.3 112.1ZM1469.3 127.4 1469.0 126.3 1468.7 125.1 1468.3 124.0 1467.9 122.9 1467.5 122.0 1466.9 121.3 1466.2 120.8 1465.4 120.6 1464.5 120.6 1463.5 120.9 1462.4 121.5 1461.1 122.4 1459.8 123.4 1458.5 124.5 1457.2 125.6 1456.0 126.8 1454.9 127.8 1453.9 128.7 1453.1 129.4 1452.4 130.0 1451.8 130.4 1451.3 130.7 1451.0 131.0 1450.7 131.2 1450.4 131.4 1450.2 131.8 1450.0 132.2 1449.8 132.7 1449.5 133.4 1449.3 134.2 1449.1 135.0 1448.9 135.9 1448.9 136.8 1448.8 137.5 1448.8 138.1 1448.9 138.5 1448.9 138.6 1448.8 138.5 1448.7 138.0 1448.5 137.4 1448.2 136.6 1447.6 135.6 1447.0 134.6 1446.2 133.6 1445.3 132.7 1444.4 132.0 1443.5 131.5 1442.6 131.3 1441.8 131.3 1441.1 131.5 1440.6 132.0 1440.1 132.5 1439.8 133.1 1439.5 133.8 1439.2 134.3 1439.0 134.8 1438.7 135.3 1438.5 135.6 1438.3 135.9 1438.1 136.2 1437.8 136.5 1437.6 136.9 1437.4 137.4 1437.2 138.1 1437.1 138.9 1436.9 139.8 1436.8 140.9 1436.6 142.1 1436.5 143.3 1436.4 144.5 1436.3 145.7 1436.2 146.8 1436.1 147.7 1435.9 148.4 1435.8 148.9 1435.6 149.2 1435.4 149.3 1435.1 149.2 1434.9 148.9 1434.6 148.6 1434.2 148.3 1433.9 147.9 1433.5 147.7 1433.1 147.5 1432.8 147.4 1432.4 147.5 1432.1 147.7 1431.7 148.0 1431.4 148.3 1431.1 148.8 1430.8 149.2 1430.5 149.6 1430.2 150.0 1429.8 150.3 1429.4 150.5 1429.0 150.7 1428.6 150.9 1428.2 151.0 1427.8 151.2 1427.4 151.5 1427.1 151.8 1426.8 152.3 1426.6 153.0 1426.4 153.8 1426.2 154.7 1426.2 155.7 1426.1 156.8 1426.1 157.9 1426.1 159.0 1426.1 160.1 1426.0 161.1 1425.9 161.9 1425.8 162.6 1425.6 163.2 1425.3 163.7 1425.0 164.0 1424.7 164.3 1424.3 164.6 1424.0 164.8 1423.7 165.0 1423.4 165.3 1423.1 165.7 1422.9 166.0 1422.7 166.5 1422.6 167.0 1422.4 167.5 1422.3 168.0 1422.2 168.5 1422.0 169.0 1421.8 169.4 1421.6 169.9 1421.3 170.3 1420.9 170.6 1420.5 171.0 1420.1 171.3 1419.7 171.6 1419.2 172.0 1418.7 172.3 1418.3 172.7 1417.9 173.1 1417.5 173.5 1417.2 174.0 1416.9 174.4 1416.7 175.0 1416.6 175.5 1416.5 176.1 1416.4 176.6 1416.4 177.2 1416.4 177.8 1416.4 178.4 1416.4 179.0 1416.4 179.6 1416.3 180.1 1416.1 180.6 1416.0 181.1 1415.8 181.6 1415.7 182.1 1415.5 182.6 1415.5 183.2 1415.4 183.8 1415.5 184.4 1415.5 185.0 1415.7 185.6 1415.8 186.2 1415.9 186.8 1416.1 187.4 1416.1 188.0 1416.1 188.5 1415.9 189.1 1415.7 189.7 1415.3 190.2 1414.8 190.8 1414.2 191.4 1413.6 192.1 1412.9 192.8 1412.2 193.5 1411.6 194.3 1411.0 195.0 1410.5 195.8 1410.1 196.6 1409.8 197.4 1409.7 198.2 1409.6 198.9 1409.6 199.7 1409.6 200.4 1409.6 201.1 1409.6 201.9 1409.6 202.8 1409.6 203.7 1409.6 204.7 1409.5 205.7 1409.4 206.9 1409.4 208.2 1409.3 209.5 1409.3 210.8 1409.4 212.1 1409.7 213.3 1410.0 214.4 1410.4 215.4 1410.9 216.3 1411.6 217.0 1412.3 217.7 1413.0 218.3 1413.7 218.8 1414.3 219.4 1414.9 220.0 1415.4 220.7 1415.8 221.5 1416.0 222.4 1416.2 223.5 1416.3 224.7 1416.3 226.0 1416.3 227.4 1416.2 228.9 1416.2 230.3 1416.3 231.8 1416.4 233.2 1416.6 234.5 1416.8 235.7 1417.1 236.8 1417.4 237.9 1417.8 238.9 1418.2 240.0 1418.5 241.0 1418.8 242.2 1419.1 243.4 1419.4 244.7 1419.7 246.2 1420.0 247.7 1420.2 249.3 1420.5 250.9 1420.9 252.4 1421.3 253.8 1421.8 255.0 1422.3 256.0 1423.0 256.8 1423.7 257.3 1424.5 257.6 1425.3 257.7 1426.2 257.6 1427.1 257.4 1428.0 257.2 1428.9 257.0 1429.7 256.9 1430.6 256.9 1431.3 257.2 1432.1 257.6 1432.8 258.2 1433.5 258.9 1434.2 259.8 1434.9 260.7 1435.7 261.6 1436.4 262.5 1437.2 263.2 1437.9 263.9 1438.7 264.4 1439.5 264.8 1440.3 265.1 1441.0 265.4 1441.8 265.7 1442.5 266.1 1443.2 266.7 1443.9 267.5 1444.7 268.6 1445.5 269.9 1446.3 271.5 1447.2 273.3 1448.1 275.3 1449.1 277.3 1450.2 279.3 1451.4 281.2 1452.6 282.8 1453.8 284.2 1455.0 285.3 1456.3 285.9 1457.4 286.2 1458.5 286.2 1459.5 285.8 1460.5 285.2 1461.4 284.5 1462.2 283.7 1463.1 282.9 1464.0 282.3 1465.0 281.7 1465.9 281.3 1466.9 281.0 1467.9 280.7 1468.8 280.5 1469.6 280.2 1470.3 279.8 1470.9 279.2 1471.4 278.5 1471.7 277.5 1471.9 276.3 1471.9 274.9 1471.9 273.4 1471.8 271.7 1471.7 270.1 1471.6 268.5 1471.5 267.0 1471.6 265.8 1471.7 264.9 1472.0 264.2 1472.3 263.8 1472.8 263.6 1473.3 263.4 1473.9 263.3 1474.6 263.1 1475.2 262.6 1475.8 261.9 1476.3 260.8 1476.6 259.4 1476.9 257.6 1477.0 255.5 1477.0 253.1 1476.9 250.3 1476.8 247.4 1476.6 244.3 1476.5 241.0 1476.5 237.5 1476.5 233.9 1476.6 230.0 1476.7 225.9 1476.9 221.6 1477.1 217.1 1477.3 212.5 1477.5 207.8 1477.6 203.0 1477.6 198.3 1477.4 193.7 1477.2 189.1 1476.8 184.4 1476.4 179.8 1475.8 175.3 1475.2 171.1 1474.6 167.1 1474.0 163.5 1473.5 160.3 1473.0 157.4 1472.7 154.8 1472.4 152.4 1472.4 150.3 1472.5 148.2 1472.6 146.2 1472.9 144.2 1473.2 142.4 1473.4 140.6 1473.6 138.9 1473.6 137.3 1473.6 135.8 1473.4 134.5 1473.1 133.4 1472.7 132.6 1472.2 131.9 1471.6 131.2 1471.1 130.7 1470.6 130.0 1470.1 129.3 1469.7 128.4Z" fill="none" stroke="#978f87" stroke-width="2.2" opacity="0.5" filter="url(#fb)"/></g>
<path d="M1493.3 73.4 1492.4 72.0 1491.3 71.2 1489.9 71.1 1488.3 71.5 1486.6 72.1 1484.9 72.8 1483.3 73.2 1481.7 73.4 1480.3 73.5 1478.8 73.5 1477.2 73.6 1475.5 73.9 1473.7 74.3 1471.8 74.6 1470.1 74.7 1468.5 74.5 1467.0 74.0 1465.7 73.3 1464.5 72.7 1463.4 72.6 1462.4 73.0 1461.5 74.1 1460.6 75.5 1459.8 77.1 1459.2 78.5 1458.7 79.4 1458.4 79.8 1458.1 79.8 1457.9 79.6 1457.7 79.5 1457.5 79.7 1457.5 80.4 1457.4 81.4 1457.4 82.5 1457.4 83.6 1457.4 84.6 1457.3 85.4 1457.1 86.1 1456.7 86.8 1456.0 87.6 1454.9 88.5 1453.6 89.4 1452.1 90.1 1450.5 90.5 1448.9 90.5 1447.3 89.9 1445.8 89.0 1444.3 88.0 1443.0 87.2 1441.8 87.0 1440.9 87.4 1440.1 88.2 1439.5 89.4 1439.0 90.6 1438.5 91.5 1438.1 92.2 1437.7 92.6 1437.3 92.8 1436.9 92.9 1436.5 93.2 1436.1 93.8 1435.7 94.4 1435.3 95.1 1435.0 95.7 1434.6 96.1 1434.3 96.4 1433.9 96.7 1433.6 97.2 1433.2 98.0 1432.9 99.1 1432.6 100.6 1432.4 102.1 1432.1 103.5 1431.8 104.6 1431.5 105.2 1431.1 105.4 1430.7 105.4 1430.2 105.3 1429.7 105.4 1429.2 105.9 1428.8 106.6 1428.3 107.6 1427.9 108.7 1427.4 109.7 1426.9 110.6 1426.3 111.3 1425.8 112.0 1425.2 112.7 1424.7 113.6 1424.2 114.6 1423.7 115.6 1423.2 116.6 1422.7 117.5 1422.1 118.1 1421.4 118.5 1420.7 118.8 1420.1 119.2 1419.4 119.9 1418.9 120.8 1418.5 122.1 1418.2 123.6 1417.9 125.1 1417.7 126.5 1417.3 127.6 1416.8 128.4 1416.2 128.9 1415.6 129.4 1415.0 129.8 1414.4 130.4 1413.8 131.1 1413.3 132.0 1412.8 132.8 1412.2 133.6 1411.6 134.2 1411.0 134.9 1410.3 135.5 1409.8 136.2 1409.3 137.1 1409.0 138.2 1408.7 139.4 1408.5 140.6 1408.3 141.6 1407.9 142.4 1407.4 143.0 1406.9 143.4 1406.2 143.8 1405.7 144.4 1405.3 145.1 1405.1 146.2 1405.0 147.4 1405.0 148.9 1405.0 150.3 1405.0 151.7 1404.9 153.1 1404.7 154.3 1404.4 155.4 1404.1 156.5 1403.8 157.6 1403.5 158.7 1403.2 159.7 1402.7 160.6 1402.2 161.3 1401.5 161.9 1400.7 162.4 1399.9 162.9 1399.2 163.4 1398.6 164.1 1398.3 164.9 1398.1 165.8 1398.0 166.8 1397.9 167.8 1397.7 168.7 1397.3 169.5 1396.7 170.2 1396.0 170.9 1395.2 171.7 1394.6 172.5 1394.1 173.3 1393.8 174.3 1393.7 175.4 1393.6 176.4 1393.4 177.4 1393.2 178.5 1393.0 179.5 1392.7 180.5 1392.5 181.5 1392.3 182.6 1392.2 183.8 1392.2 184.9 1392.0 186.1 1391.7 187.3 1391.2 188.5 1390.6 189.7 1389.8 191.0 1389.1 192.3 1388.6 193.6 1388.3 195.0 1388.3 196.4 1388.5 197.7 1388.8 199.0 1388.9 200.2 1388.9 201.5 1388.7 202.7 1388.3 204.0 1387.8 205.4 1387.4 206.8 1387.1 208.3 1386.9 209.8 1386.9 211.4 1386.8 213.1 1386.8 214.9 1386.7 217.0 1386.6 219.2 1386.5 221.4 1386.6 223.7 1386.8 225.9 1387.3 227.9 1387.9 229.8 1388.4 231.7 1388.9 233.6 1389.1 235.6 1389.2 237.8 1389.1 240.2 1389.0 242.6 1389.0 244.9 1389.3 247.0 1389.8 248.9 1390.6 250.5 1391.4 252.0 1392.3 253.5 1393.0 255.1 1393.6 256.9 1394.1 258.9 1394.6 261.0 1395.1 263.0 1395.7 264.9 1396.4 266.7 1397.0 268.5 1397.7 270.4 1398.3 272.4 1398.7 274.6 1399.2 276.9 1399.7 279.2 1400.3 281.3 1401.0 283.0 1402.0 284.2 1403.2 285.1 1404.3 285.9 1405.5 286.7 1406.5 287.9 1407.3 289.5 1408.1 291.6 1408.8 293.9 1409.5 296.2 1410.3 298.3 1411.3 300.0 1412.4 301.4 1413.5 302.6 1414.7 303.7 1415.9 305.0 1417.1 306.5 1418.3 308.2 1419.5 309.8 1420.8 311.4 1422.2 312.7 1423.5 313.8 1424.9 314.8 1426.3 316.0 1427.6 317.6 1428.9 319.7 1430.2 322.1 1431.5 324.7 1432.9 327.1 1434.4 329.0 1435.9 330.2 1437.4 330.7 1438.9 330.8 1440.4 330.7 1441.8 330.9 1443.3 331.6 1444.7 332.9 1446.1 334.5 1447.5 336.3 1448.9 338.0 1450.3 339.4 1451.7 340.5 1453.2 341.5 1454.6 342.4 1456.2 343.5 1457.9 344.8 1459.7 346.1 1461.5 347.3 1463.4 348.0 1465.2 348.1 1467.0 347.7 1468.7 347.0 1470.4 346.4 1472.2 346.2 1474.1 346.7 1476.1 347.9 1478.3 349.5 1480.6 351.2 1482.9 352.5 1485.0 353.1 1486.9 352.9 1488.6 352.0 1490.1 350.8 1491.5 349.6 1492.8 348.7 1494.2 348.0 1495.5 347.7 1496.7 347.4 1497.7 347.0 1498.6 346.3 1499.4 345.4 1500.1 344.4 1500.8 343.5 1501.6 342.8 1502.5 342.4 1503.5 342.0 1504.4 341.4 1505.0 340.2 1505.2 338.2 1505.1 335.5 1504.6 332.1 1504.1 328.4 1503.7 324.8 1503.4 321.5 1503.5 318.6 1503.9 315.9 1504.4 313.3 1504.8 310.4 1505.0 306.9 1505.0 302.9 1504.8 298.3 1504.5 293.3 1504.2 288.0 1504.0 282.5 1503.9 276.8 1503.9 270.8 1503.8 264.3 1503.7 257.2 1503.4 249.6 1503.0 241.6 1502.7 233.5 1502.5 225.4 1502.5 217.4 1502.9 209.5 1503.4 201.7 1504.1 193.9 1504.6 185.9 1505.0 177.6 1505.0 169.1 1504.8 160.7 1504.3 152.6 1503.9 144.8 1503.6 137.5 1503.4 130.5 1503.5 123.9 1503.7 117.9 1504.0 112.5 1504.2 107.8 1504.3 103.7 1504.3 100.2 1504.3 97.1 1504.3 94.3 1504.3 91.6 1504.3 88.9 1504.2 86.3 1503.8 83.8 1503.2 81.8 1502.2 80.5 1500.8 79.9 1499.4 79.6 1497.9 79.4 1496.6 79.0 1495.5 78.1 1494.7 76.8 1494.0 75.1Z" fill="none" stroke="#a29d96" stroke-width="1.2"/>
<clipPath id="cbt1"><path d="M1520.7 72.0 1521.7 71.1 1523.0 71.0 1524.5 71.6 1526.2 72.6 1527.8 73.7 1529.4 74.5 1530.8 74.9 1532.1 74.7 1533.2 74.2 1534.3 73.5 1535.5 73.0 1537.0 72.7 1538.5 72.7 1540.1 72.9 1541.7 73.1 1543.3 73.3 1544.7 73.3 1546.1 73.3 1547.3 73.4 1548.3 73.9 1549.3 74.6 1550.2 75.8 1550.9 77.0 1551.5 78.2 1552.0 79.0 1552.3 79.3 1552.5 79.0 1552.7 78.5 1552.8 78.1 1553.0 77.9 1553.2 78.3 1553.4 79.4 1553.5 81.0 1553.6 82.8 1553.6 84.5 1553.7 85.9 1553.8 86.9 1554.0 87.6 1554.4 88.1 1554.9 88.4 1555.8 88.7 1556.9 89.0 1558.2 89.3 1559.6 89.3 1561.1 89.0 1562.5 88.5 1564.0 87.8 1565.3 87.3 1566.5 87.1 1567.6 87.5 1568.4 88.3 1569.1 89.6 1569.6 90.9 1570.1 91.9 1570.5 92.6 1570.9 92.8 1571.3 92.6 1571.6 92.2 1572.0 91.9 1572.4 91.9 1572.8 92.3 1573.1 93.1 1573.4 94.1 1573.7 95.2 1574.0 96.2 1574.3 97.0 1574.6 97.7 1574.9 98.5 1575.2 99.3 1575.5 100.3 1575.8 101.4 1576.0 102.5 1576.3 103.4 1576.6 104.0 1577.0 104.2 1577.3 104.2 1577.7 104.1 1578.1 104.2 1578.5 104.7 1578.9 105.6 1579.3 106.9 1579.6 108.3 1580.0 109.7 1580.4 110.9 1580.8 111.8 1581.4 112.3 1581.9 112.6 1582.5 112.9 1583.0 113.3 1583.6 113.9 1584.0 114.7 1584.5 115.5 1585.0 116.4 1585.5 117.3 1586.0 118.0 1586.6 118.7 1587.1 119.5 1587.5 120.5 1587.9 121.7 1588.2 123.1 1588.5 124.5 1588.8 125.8 1589.2 126.9 1589.6 127.6 1590.2 128.0 1590.8 128.3 1591.5 128.5 1592.0 128.9 1592.6 129.6 1593.0 130.5 1593.3 131.7 1593.7 132.8 1594.0 133.9 1594.5 134.9 1595.0 135.6 1595.5 136.3 1596.1 136.9 1596.6 137.6 1597.0 138.4 1597.4 139.3 1597.7 140.2 1598.1 141.0 1598.5 141.7 1598.9 142.2 1599.4 142.8 1599.8 143.4 1600.2 144.2 1600.3 145.3 1600.4 146.6 1600.4 148.0 1600.3 149.5 1600.2 150.9 1600.3 152.2 1600.6 153.4 1600.9 154.3 1601.4 155.3 1601.8 156.2 1602.2 157.2 1602.5 158.2 1602.8 159.3 1603.1 160.3 1603.5 161.1 1603.9 161.9 1604.4 162.6 1604.9 163.2 1605.4 163.8 1605.9 164.5 1606.3 165.2 1606.5 166.1 1606.8 166.9 1607.1 167.8 1607.5 168.6 1608.1 169.3 1608.7 169.9 1609.4 170.6 1610.0 171.4 1610.5 172.3 1610.7 173.3 1610.7 174.3 1610.6 175.5 1610.5 176.6 1610.5 177.6 1610.7 178.6 1611.0 179.6 1611.4 180.6 1611.8 181.6 1612.2 182.6 1612.5 183.7 1612.7 184.8 1613.0 186.0 1613.3 187.2 1613.6 188.4 1614.1 189.7 1614.5 191.0 1614.9 192.3 1615.1 193.6 1615.1 195.0 1615.0 196.3 1614.9 197.6 1614.8 198.9 1614.8 200.2 1615.1 201.4 1615.6 202.8 1616.2 204.2 1616.8 205.6 1617.3 207.0 1617.5 208.5 1617.5 210.0 1617.3 211.5 1617.1 213.1 1616.8 214.8 1616.7 216.7 1616.7 218.8 1616.7 221.0 1616.6 223.3 1616.6 225.5 1616.4 227.7 1616.1 229.9 1615.9 232.0 1615.7 234.1 1615.6 236.2 1615.6 238.5 1615.6 240.8 1615.6 243.0 1615.3 245.1 1614.8 246.9 1614.0 248.5 1613.2 249.9 1612.3 251.2 1611.5 252.6 1611.0 254.3 1610.6 256.4 1610.3 258.7 1610.1 261.1 1609.9 263.5 1609.5 265.8 1609.0 267.8 1608.4 269.6 1607.7 271.3 1607.1 273.0 1606.4 274.8 1605.8 276.6 1605.2 278.5 1604.5 280.2 1603.8 281.7 1602.9 283.0 1602.0 284.1 1601.1 285.2 1600.2 286.6 1599.5 288.3 1598.9 290.5 1598.3 292.9 1597.7 295.4 1597.0 297.6 1596.2 299.4 1595.2 300.6 1594.1 301.4 1592.9 302.0 1591.7 302.6 1590.6 303.5 1589.5 304.8 1588.4 306.6 1587.4 308.7 1586.4 310.8 1585.3 312.7 1584.1 314.5 1582.9 316.1 1581.7 317.7 1580.5 319.4 1579.3 321.3 1578.1 323.3 1576.9 325.3 1575.6 326.9 1574.2 328.1 1572.9 328.7 1571.5 328.8 1570.2 328.8 1568.9 329.0 1567.6 329.7 1566.3 331.2 1565.0 333.2 1563.7 335.7 1562.4 338.1 1561.1 340.1 1559.8 341.5 1558.5 342.3 1557.3 342.6 1556.0 342.8 1554.6 343.0 1553.2 343.5 1551.7 344.2 1550.1 345.0 1548.4 345.8 1546.7 346.4 1545.1 346.6 1543.4 346.8 1541.7 347.1 1539.9 347.7 1538.1 348.7 1536.2 350.2 1534.2 351.7 1532.3 352.9 1530.4 353.4 1528.7 353.1 1527.2 352.0 1525.9 350.4 1524.7 348.7 1523.5 347.3 1522.3 346.6 1520.9 346.5 1519.5 346.9 1518.2 347.5 1516.9 348.0 1515.9 348.0 1515.0 347.5 1514.4 346.6 1513.8 345.4 1513.3 344.2 1512.7 343.0 1512.2 341.8 1511.7 340.3 1511.4 338.5 1511.3 336.2 1511.5 333.4 1511.7 330.3 1512.0 327.2 1512.1 324.4 1511.9 321.8 1511.6 319.6 1511.0 317.4 1510.4 315.0 1510.1 312.0 1510.0 308.3 1510.2 303.7 1510.7 298.5 1511.3 292.9 1511.9 287.1 1512.3 281.3 1512.5 275.6 1512.5 269.7 1512.4 263.5 1512.3 256.8 1512.2 249.6 1512.2 241.9 1512.2 233.9 1512.2 225.9 1512.1 217.8 1511.8 209.8 1511.5 201.8 1511.2 193.9 1511.0 185.9 1511.1 177.7 1511.3 169.3 1511.7 161.1 1512.1 153.1 1512.5 145.5 1512.6 138.0 1512.4 130.8 1512.0 123.8 1511.5 117.4 1511.0 111.6 1510.6 106.6 1510.5 102.4 1510.6 99.0 1510.8 96.3 1511.2 94.0 1511.5 91.8 1511.8 89.7 1512.1 87.5 1512.6 85.3 1513.1 83.4 1513.9 81.9 1514.9 80.8 1515.9 79.9 1516.9 79.1 1517.8 78.0 1518.6 76.7 1519.3 75.1 1519.9 73.5Z"/></clipPath>
<path d="M1520.7 72.0 1521.7 71.1 1523.0 71.0 1524.5 71.6 1526.2 72.6 1527.8 73.7 1529.4 74.5 1530.8 74.9 1532.1 74.7 1533.2 74.2 1534.3 73.5 1535.5 73.0 1537.0 72.7 1538.5 72.7 1540.1 72.9 1541.7 73.1 1543.3 73.3 1544.7 73.3 1546.1 73.3 1547.3 73.4 1548.3 73.9 1549.3 74.6 1550.2 75.8 1550.9 77.0 1551.5 78.2 1552.0 79.0 1552.3 79.3 1552.5 79.0 1552.7 78.5 1552.8 78.1 1553.0 77.9 1553.2 78.3 1553.4 79.4 1553.5 81.0 1553.6 82.8 1553.6 84.5 1553.7 85.9 1553.8 86.9 1554.0 87.6 1554.4 88.1 1554.9 88.4 1555.8 88.7 1556.9 89.0 1558.2 89.3 1559.6 89.3 1561.1 89.0 1562.5 88.5 1564.0 87.8 1565.3 87.3 1566.5 87.1 1567.6 87.5 1568.4 88.3 1569.1 89.6 1569.6 90.9 1570.1 91.9 1570.5 92.6 1570.9 92.8 1571.3 92.6 1571.6 92.2 1572.0 91.9 1572.4 91.9 1572.8 92.3 1573.1 93.1 1573.4 94.1 1573.7 95.2 1574.0 96.2 1574.3 97.0 1574.6 97.7 1574.9 98.5 1575.2 99.3 1575.5 100.3 1575.8 101.4 1576.0 102.5 1576.3 103.4 1576.6 104.0 1577.0 104.2 1577.3 104.2 1577.7 104.1 1578.1 104.2 1578.5 104.7 1578.9 105.6 1579.3 106.9 1579.6 108.3 1580.0 109.7 1580.4 110.9 1580.8 111.8 1581.4 112.3 1581.9 112.6 1582.5 112.9 1583.0 113.3 1583.6 113.9 1584.0 114.7 1584.5 115.5 1585.0 116.4 1585.5 117.3 1586.0 118.0 1586.6 118.7 1587.1 119.5 1587.5 120.5 1587.9 121.7 1588.2 123.1 1588.5 124.5 1588.8 125.8 1589.2 126.9 1589.6 127.6 1590.2 128.0 1590.8 128.3 1591.5 128.5 1592.0 128.9 1592.6 129.6 1593.0 130.5 1593.3 131.7 1593.7 132.8 1594.0 133.9 1594.5 134.9 1595.0 135.6 1595.5 136.3 1596.1 136.9 1596.6 137.6 1597.0 138.4 1597.4 139.3 1597.7 140.2 1598.1 141.0 1598.5 141.7 1598.9 142.2 1599.4 142.8 1599.8 143.4 1600.2 144.2 1600.3 145.3 1600.4 146.6 1600.4 148.0 1600.3 149.5 1600.2 150.9 1600.3 152.2 1600.6 153.4 1600.9 154.3 1601.4 155.3 1601.8 156.2 1602.2 157.2 1602.5 158.2 1602.8 159.3 1603.1 160.3 1603.5 161.1 1603.9 161.9 1604.4 162.6 1604.9 163.2 1605.4 163.8 1605.9 164.5 1606.3 165.2 1606.5 166.1 1606.8 166.9 1607.1 167.8 1607.5 168.6 1608.1 169.3 1608.7 169.9 1609.4 170.6 1610.0 171.4 1610.5 172.3 1610.7 173.3 1610.7 174.3 1610.6 175.5 1610.5 176.6 1610.5 177.6 1610.7 178.6 1611.0 179.6 1611.4 180.6 1611.8 181.6 1612.2 182.6 1612.5 183.7 1612.7 184.8 1613.0 186.0 1613.3 187.2 1613.6 188.4 1614.1 189.7 1614.5 191.0 1614.9 192.3 1615.1 193.6 1615.1 195.0 1615.0 196.3 1614.9 197.6 1614.8 198.9 1614.8 200.2 1615.1 201.4 1615.6 202.8 1616.2 204.2 1616.8 205.6 1617.3 207.0 1617.5 208.5 1617.5 210.0 1617.3 211.5 1617.1 213.1 1616.8 214.8 1616.7 216.7 1616.7 218.8 1616.7 221.0 1616.6 223.3 1616.6 225.5 1616.4 227.7 1616.1 229.9 1615.9 232.0 1615.7 234.1 1615.6 236.2 1615.6 238.5 1615.6 240.8 1615.6 243.0 1615.3 245.1 1614.8 246.9 1614.0 248.5 1613.2 249.9 1612.3 251.2 1611.5 252.6 1611.0 254.3 1610.6 256.4 1610.3 258.7 1610.1 261.1 1609.9 263.5 1609.5 265.8 1609.0 267.8 1608.4 269.6 1607.7 271.3 1607.1 273.0 1606.4 274.8 1605.8 276.6 1605.2 278.5 1604.5 280.2 1603.8 281.7 1602.9 283.0 1602.0 284.1 1601.1 285.2 1600.2 286.6 1599.5 288.3 1598.9 290.5 1598.3 292.9 1597.7 295.4 1597.0 297.6 1596.2 299.4 1595.2 300.6 1594.1 301.4 1592.9 302.0 1591.7 302.6 1590.6 303.5 1589.5 304.8 1588.4 306.6 1587.4 308.7 1586.4 310.8 1585.3 312.7 1584.1 314.5 1582.9 316.1 1581.7 317.7 1580.5 319.4 1579.3 321.3 1578.1 323.3 1576.9 325.3 1575.6 326.9 1574.2 328.1 1572.9 328.7 1571.5 328.8 1570.2 328.8 1568.9 329.0 1567.6 329.7 1566.3 331.2 1565.0 333.2 1563.7 335.7 1562.4 338.1 1561.1 340.1 1559.8 341.5 1558.5 342.3 1557.3 342.6 1556.0 342.8 1554.6 343.0 1553.2 343.5 1551.7 344.2 1550.1 345.0 1548.4 345.8 1546.7 346.4 1545.1 346.6 1543.4 346.8 1541.7 347.1 1539.9 347.7 1538.1 348.7 1536.2 350.2 1534.2 351.7 1532.3 352.9 1530.4 353.4 1528.7 353.1 1527.2 352.0 1525.9 350.4 1524.7 348.7 1523.5 347.3 1522.3 346.6 1520.9 346.5 1519.5 346.9 1518.2 347.5 1516.9 348.0 1515.9 348.0 1515.0 347.5 1514.4 346.6 1513.8 345.4 1513.3 344.2 1512.7 343.0 1512.2 341.8 1511.7 340.3 1511.4 338.5 1511.3 336.2 1511.5 333.4 1511.7 330.3 1512.0 327.2 1512.1 324.4 1511.9 321.8 1511.6 319.6 1511.0 317.4 1510.4 315.0 1510.1 312.0 1510.0 308.3 1510.2 303.7 1510.7 298.5 1511.3 292.9 1511.9 287.1 1512.3 281.3 1512.5 275.6 1512.5 269.7 1512.4 263.5 1512.3 256.8 1512.2 249.6 1512.2 241.9 1512.2 233.9 1512.2 225.9 1512.1 217.8 1511.8 209.8 1511.5 201.8 1511.2 193.9 1511.0 185.9 1511.1 177.7 1511.3 169.3 1511.7 161.1 1512.1 153.1 1512.5 145.5 1512.6 138.0 1512.4 130.8 1512.0 123.8 1511.5 117.4 1511.0 111.6 1510.6 106.6 1510.5 102.4 1510.6 99.0 1510.8 96.3 1511.2 94.0 1511.5 91.8 1511.8 89.7 1512.1 87.5 1512.6 85.3 1513.1 83.4 1513.9 81.9 1514.9 80.8 1515.9 79.9 1516.9 79.1 1517.8 78.0 1518.6 76.7 1519.3 75.1 1519.9 73.5Z" fill="url(#gbrain)"/>
<g clip-path="url(#cbt1)" filter="url(#fb2)"><ellipse cx="1596.3" cy="210.9" rx="19.2" ry="40.5" fill="#a8a39c" opacity="0.4"/><ellipse cx="1565.6" cy="129.9" rx="14.9" ry="25.6" fill="#a8a39c" opacity="0.25"/><ellipse cx="1588.6" cy="279.1" rx="14.9" ry="25.6" fill="#a8a39c" opacity="0.3"/><ellipse cx="1536.8" cy="317.5" rx="19.2" ry="17.1" fill="#a8a39c" opacity="0.25"/><ellipse cx="1554.1" cy="245.0" rx="17.1" ry="17.1" fill="#a8a39c" opacity="0.15"/></g>
<g clip-path="url(#cbt1)"><path d="M1523.7 79.3 1524.4 77.9 1525.5 77.4 1526.9 77.9 1528.6 79.2 1530.5 80.9 1532.2 82.5 1533.8 83.5 1535.0 83.7 1536.1 83.3 1537.1 82.6 1538.2 81.9 1539.5 81.7 1541.0 82.0 1542.6 82.7 1544.1 83.3 1545.6 83.5 1546.8 83.1 1547.8 82.1 1548.7 80.8 1549.4 79.7 1550.1 79.2 1550.8 79.6 1551.5 80.8 1552.2 82.6 1552.9 84.5 1553.4 86.1 1553.8 87.2 1554.0 87.6 1554.2 87.7 1554.5 87.9 1554.7 88.4 1554.8 89.4 1554.9 91.0 1555.0 92.6 1555.1 93.9 1555.0 94.6 1555.0 94.6 1555.0 94.0 1555.1 93.1 1555.5 92.4 1556.2 92.1 1557.3 92.5 1558.6 93.3 1560.1 94.5 1561.6 95.4 1563.0 96.0 1564.4 96.1 1565.6 95.9 1566.8 95.6 1567.7 95.7 1568.4 96.2 1569.1 97.3 1569.6 98.6 1570.0 99.8 1570.4 100.5 1570.8 100.5 1571.1 99.9 1571.4 99.0 1571.8 98.0 1572.2 97.5 1572.6 97.6 1572.9 98.5 1573.2 99.7 1573.4 101.1 1573.7 102.3 1574.0 103.1 1574.2 103.6 1574.5 103.9 1574.8 104.4 1575.1 105.2 1575.4 106.6 1575.6 108.3 1575.7 110.0 1575.9 111.5 1576.2 112.4 1576.5 112.6 1576.9 112.3 1577.3 111.8 1577.8 111.4 1578.2 111.4 1578.6 111.9 1579.0 112.8 1579.4 113.9 1579.8 114.8 1580.3 115.5 1580.8 115.8 1581.3 116.0 1581.9 116.3 1582.4 116.9 1582.7 118.0 1583.0 119.6 1583.3 121.5 1583.5 123.2 1583.8 124.7 1584.2 125.6 1584.7 126.1 1585.3 126.2 1586.0 126.2 1586.6 126.5 1587.1 127.0 1587.5 127.9 1587.8 128.9 1588.2 129.9 1588.6 130.7 1589.1 131.2 1589.6 131.5 1590.2 131.8 1590.8 132.2 1591.2 133.0 1591.4 134.2 1591.6 135.7 1591.7 137.3 1591.8 138.7 1592.1 139.7 1592.6 140.4 1593.2 140.7 1593.9 140.9 1594.6 141.2 1595.1 141.7 1595.5 142.5 1595.8 143.4 1596.0 144.3 1596.2 145.1 1596.6 145.7 1597.2 146.1 1597.8 146.4 1598.3 146.8 1598.7 147.5 1598.9 148.5 1598.9 149.9 1598.7 151.4 1598.4 153.0 1598.2 154.6 1598.2 155.9 1598.4 157.0 1598.7 157.9 1599.1 158.8 1599.4 159.8 1599.7 160.8 1599.8 161.9 1600.0 162.8 1600.3 163.6 1600.8 164.2 1601.5 164.6 1602.5 164.9 1603.5 165.1 1604.4 165.4 1605.1 165.9 1605.4 166.7 1605.4 167.6 1605.3 168.6 1605.2 169.6 1605.2 170.6 1605.5 171.4 1605.9 172.2 1606.3 172.9 1606.7 173.7 1606.9 174.6 1606.9 175.6 1606.9 176.6 1606.8 177.5 1607.0 178.5 1607.4 179.3 1608.1 180.1 1608.9 181.0 1609.8 181.9 1610.4 182.8 1610.8 183.9 1610.8 185.0 1610.7 186.1 1610.5 187.2 1610.4 188.4 1610.5 189.5 1610.9 190.7 1611.3 192.0 1611.7 193.2 1611.8 194.5 1611.8 195.7 1611.5 196.8 1611.2 197.9 1611.0 199.0 1611.1 200.2 1611.6 201.4 1612.3 202.8 1613.2 204.3 1613.9 205.8 1614.4 207.3 1614.6 208.7 1614.5 210.1 1614.2 211.6 1613.9 213.1 1613.8 214.9 1613.9 216.9 1614.0 219.1 1614.2 221.4 1614.1 223.6 1613.8 225.5 1613.1 227.1 1612.3 228.6 1611.5 229.9 1611.0 231.3 1610.7 233.1 1610.7 235.2 1611.0 237.7 1611.2 240.2 1611.3 242.5 1611.1 244.6 1610.7 246.3 1610.1 247.8 1609.4 249.3 1608.9 251.0 1608.6 253.1 1608.4 255.3 1608.2 257.7 1607.9 259.9 1607.3 261.6 1606.5 262.7 1605.4 263.4 1604.3 263.9 1603.3 264.5 1602.5 265.6 1602.0 267.3 1601.7 269.6 1601.4 272.2 1601.2 274.7 1600.7 276.9 1600.1 278.6 1599.3 279.9 1598.5 281.0 1597.7 282.4 1597.1 284.2 1596.5 286.5 1596.0 288.9 1595.4 291.3 1594.7 293.1 1593.7 294.1 1592.5 294.3 1591.2 294.1 1590.0 293.7 1588.8 293.9 1587.7 294.8 1586.8 296.5 1585.9 298.9 1585.1 301.4 1584.1 303.6 1583.0 305.4 1581.9 306.5 1580.7 307.5 1579.6 308.6 1578.5 310.2 1577.4 312.6 1576.3 315.5 1575.2 318.5 1574.0 321.1 1572.7 322.7 1571.4 323.3 1570.1 322.9 1568.9 322.0 1567.7 321.2 1566.5 321.1 1565.3 321.9 1564.1 323.4 1563.0 325.2 1561.8 326.8 1560.6 327.8 1559.5 328.2 1558.4 328.1 1557.2 328.2 1556.0 328.8 1554.6 330.4 1553.0 332.9 1551.2 335.9 1549.3 338.8 1547.5 340.9 1545.8 341.8 1544.2 341.5 1542.9 340.3 1541.6 338.8 1540.2 337.7 1538.8 337.3 1537.2 337.6 1535.5 338.3 1533.8 338.9 1532.2 338.9 1530.8 338.0 1529.6 336.5 1528.5 334.9 1527.4 333.7 1526.1 333.5 1524.6 334.3 1522.9 336.0 1521.2 338.1 1519.6 339.7 1518.4 340.4 1517.6 339.8 1517.3 338.1 1517.2 335.9 1517.1 333.6 1516.8 331.7 1516.4 330.4 1515.8 329.4 1515.3 328.3 1515.0 326.7 1515.1 324.1 1515.6 320.8 1516.2 316.9 1516.8 313.1 1517.1 309.8 1516.9 307.3 1516.4 305.4 1515.6 303.9 1514.8 302.2 1514.2 299.7 1514.1 296.3 1514.3 291.8 1514.7 286.8 1515.2 281.4 1515.5 276.0 1515.6 270.8 1515.4 265.6 1515.1 259.9 1514.9 253.5 1515.1 246.4 1515.6 238.7 1516.3 230.6 1517.1 222.6 1517.7 214.8 1518.0 207.4 1517.8 200.3 1517.2 193.3 1516.5 186.2 1515.7 178.5 1515.2 170.6 1515.0 162.6 1515.1 154.9 1515.2 147.5 1515.3 140.4 1515.2 133.5 1514.8 126.9 1514.3 120.9 1513.9 115.5 1513.8 111.0 1514.0 107.6 1514.7 105.3 1515.5 103.7 1516.4 102.5 1517.2 101.3 1517.5 99.5 1517.6 97.1 1517.5 94.3 1517.5 91.4 1517.7 89.0 1518.2 87.3 1519.1 86.3 1520.1 85.7 1521.2 85.1 1522.0 84.2 1522.7 82.8 1523.2 81.1ZM1529.4 98.0 1530.1 96.7 1530.6 95.3 1531.3 93.8 1532.0 92.6 1532.8 91.8 1533.8 91.4 1535.0 91.4 1536.1 91.6 1537.3 91.7 1538.4 91.6 1539.5 91.2 1540.6 90.5 1541.8 89.5 1543.0 88.6 1544.2 87.9 1545.5 87.6 1546.9 88.0 1548.2 89.0 1549.4 90.5 1550.6 92.5 1551.5 94.5 1552.3 96.4 1552.9 97.9 1553.4 98.9 1553.8 99.4 1554.0 99.4 1554.2 99.2 1554.4 99.0 1554.6 99.0 1554.9 99.2 1555.1 99.9 1555.2 100.7 1555.2 101.7 1555.2 102.5 1555.1 103.1 1555.1 103.2 1555.1 102.9 1555.2 102.2 1555.4 101.5 1555.8 100.8 1556.5 100.3 1557.5 100.3 1558.7 100.8 1560.0 101.7 1561.3 102.9 1562.6 104.3 1563.9 105.5 1565.0 106.5 1566.0 107.1 1566.8 107.5 1567.5 107.6 1568.1 107.7 1568.6 107.8 1569.0 108.1 1569.3 108.7 1569.6 109.6 1569.8 110.5 1570.1 111.4 1570.3 112.1 1570.7 112.4 1571.0 112.2 1571.4 111.7 1571.8 110.9 1572.3 110.0 1572.7 109.3 1573.0 108.9 1573.3 109.0 1573.6 109.7 1573.8 110.8 1574.0 112.1 1574.2 113.6 1574.3 115.0 1574.5 116.2 1574.7 117.1 1575.0 117.8 1575.2 118.3 1575.5 118.9 1575.8 119.6 1576.0 120.5 1576.3 121.8 1576.5 123.2 1576.7 124.6 1576.9 126.0 1577.2 127.1 1577.6 127.7 1578.0 128.0 1578.6 127.8 1579.3 127.3 1579.9 126.7 1580.6 126.3 1581.2 126.1 1581.8 126.2 1582.3 126.8 1582.7 127.7 1583.0 128.8 1583.4 129.9 1583.7 131.0 1584.1 131.9 1584.5 132.6 1585.0 133.2 1585.4 133.7 1585.8 134.3 1586.2 135.2 1586.4 136.3 1586.5 137.7 1586.6 139.3 1586.6 140.9 1586.6 142.5 1586.6 143.8 1586.9 144.8 1587.3 145.4 1587.8 145.6 1588.5 145.6 1589.3 145.5 1590.1 145.4 1590.9 145.4 1591.5 145.7 1592.0 146.2 1592.4 146.8 1592.7 147.6 1593.0 148.3 1593.3 149.0 1593.7 149.5 1594.1 150.0 1594.6 150.3 1595.1 150.8 1595.5 151.3 1595.7 152.1 1595.8 153.2 1595.7 154.5 1595.4 156.1 1595.1 157.8 1594.7 159.5 1594.4 161.0 1594.2 162.4 1594.3 163.6 1594.5 164.5 1594.9 165.2 1595.4 165.8 1595.9 166.3 1596.5 166.8 1596.9 167.4 1597.4 168.0 1597.7 168.6 1598.1 169.1 1598.6 169.6 1599.2 170.0 1599.9 170.4 1600.7 170.6 1601.6 170.9 1602.4 171.3 1603.1 171.7 1603.6 172.3 1603.8 173.1 1603.9 174.1 1603.7 175.2 1603.3 176.4 1603.0 177.5 1602.7 178.6 1602.5 179.6 1602.6 180.5 1602.8 181.3 1603.1 182.1 1603.4 182.9 1603.7 183.7 1603.9 184.6 1604.0 185.5 1604.1 186.5 1604.1 187.5 1604.1 188.5 1604.3 189.5 1604.7 190.4 1605.3 191.4 1606.1 192.4 1607.0 193.4 1608.0 194.4 1608.8 195.5 1609.4 196.7 1609.8 197.9 1609.8 199.1 1609.6 200.3 1609.3 201.4 1608.9 202.5 1608.6 203.6 1608.4 204.6 1608.4 205.8 1608.4 207.0 1608.6 208.2 1608.6 209.6 1608.6 211.0 1608.4 212.5 1608.1 214.1 1607.7 215.7 1607.2 217.3 1606.8 219.0 1606.5 220.8 1606.5 222.6 1606.7 224.6 1607.1 226.7 1607.7 228.9 1608.2 231.1 1608.6 233.3 1608.8 235.4 1608.7 237.3 1608.4 239.0 1607.9 240.5 1607.3 241.9 1606.6 243.3 1606.0 244.7 1605.5 246.2 1605.1 247.9 1604.7 249.6 1604.4 251.4 1604.0 253.1 1603.4 254.6 1602.7 255.9 1601.8 256.9 1600.7 257.7 1599.7 258.4 1598.8 259.2 1598.0 260.1 1597.4 261.4 1597.0 263.1 1596.8 265.1 1596.7 267.4 1596.6 269.9 1596.4 272.2 1596.1 274.4 1595.7 276.3 1595.1 277.8 1594.3 279.1 1593.5 280.3 1592.7 281.4 1592.0 282.7 1591.3 284.2 1590.6 285.9 1590.0 287.7 1589.3 289.5 1588.5 291.1 1587.5 292.3 1586.4 293.0 1585.2 293.4 1583.9 293.4 1582.7 293.2 1581.4 293.2 1580.2 293.4 1579.2 294.2 1578.2 295.4 1577.3 297.2 1576.4 299.3 1575.5 301.5 1574.5 303.7 1573.5 305.5 1572.5 307.0 1571.4 308.2 1570.2 309.2 1569.1 310.2 1568.0 311.3 1566.9 312.8 1565.8 314.7 1564.7 316.9 1563.6 319.2 1562.5 321.4 1561.4 323.2 1560.3 324.3 1559.2 324.7 1558.1 324.4 1557.0 323.5 1555.9 322.3 1554.7 321.1 1553.6 320.2 1552.3 319.9 1551.0 320.1 1549.6 320.9 1548.1 322.0 1546.5 323.1 1545.0 324.0 1543.5 324.6 1542.1 324.8 1540.8 324.7 1539.4 324.5 1538.1 324.4 1536.6 324.6 1535.0 325.4 1533.2 326.7 1531.4 328.3 1529.5 330.1 1527.7 331.7 1526.0 332.8 1524.7 333.2 1523.7 332.8 1523.0 331.6 1522.6 329.8 1522.4 327.7 1522.2 325.5 1522.0 323.5 1521.8 321.9 1521.4 320.6 1521.0 319.5 1520.6 318.5 1520.2 317.2 1519.9 315.7 1519.9 313.7 1520.0 311.3 1520.3 308.6 1520.5 305.8 1520.7 303.2 1520.7 300.8 1520.5 298.7 1520.1 297.0 1519.4 295.4 1518.7 293.8 1518.1 291.8 1517.6 289.3 1517.3 286.1 1517.3 282.1 1517.5 277.5 1517.9 272.3 1518.4 266.8 1518.8 261.1 1519.1 255.2 1519.3 249.0 1519.3 242.6 1519.3 236.1 1519.2 229.3 1519.2 222.3 1519.4 215.2 1519.7 208.2 1520.2 201.4 1520.7 194.9 1521.2 188.6 1521.6 182.0 1521.7 175.4 1521.6 168.6 1521.2 161.6 1520.6 154.5 1519.9 147.3 1519.2 140.3 1518.6 133.8 1518.2 128.1 1518.0 123.3 1517.9 119.4 1518.0 116.1 1518.1 113.4 1518.3 111.0 1518.4 108.6 1518.4 106.3 1518.4 103.9 1518.5 101.5 1518.7 99.3 1519.2 97.5 1519.9 96.4 1521.0 96.0 1522.3 96.3 1523.7 97.0 1525.1 97.9 1526.5 98.6 1527.7 99.0 1528.7 98.8ZM1531.9 100.3 1532.7 99.6 1533.6 99.4 1534.6 99.3 1535.7 99.4 1536.7 99.5 1537.7 99.5 1538.7 99.3 1539.6 99.0 1540.5 98.6 1541.5 98.2 1542.5 98.0 1543.7 98.2 1545.1 98.7 1546.5 99.6 1548.0 100.9 1549.5 102.5 1551.0 104.2 1552.3 105.9 1553.4 107.3 1554.3 108.4 1555.0 109.1 1555.5 109.3 1555.9 109.1 1556.2 108.7 1556.3 108.1 1556.5 107.6 1556.6 107.2 1556.7 107.0 1556.9 107.1 1557.1 107.4 1557.3 107.9 1557.4 108.5 1557.4 109.1 1557.3 109.5 1557.2 109.8 1557.1 109.8 1557.1 109.6 1557.1 109.3 1557.3 108.9 1557.7 108.7 1558.3 108.7 1559.2 108.9 1560.3 109.5 1561.5 110.4 1562.8 111.5 1564.0 112.8 1565.2 114.1 1566.3 115.3 1567.2 116.3 1568.0 117.0 1568.6 117.5 1569.1 117.7 1569.5 117.7 1569.9 117.7 1570.2 117.7 1570.5 117.8 1570.7 118.1 1571.0 118.6 1571.2 119.1 1571.5 119.8 1571.8 120.3 1572.0 120.8 1572.3 120.9 1572.5 120.8 1572.8 120.5 1573.1 120.0 1573.4 119.4 1573.7 118.8 1574.0 118.4 1574.2 118.3 1574.5 118.5 1574.8 119.2 1575.0 120.1 1575.2 121.3 1575.3 122.7 1575.5 124.1 1575.7 125.5 1575.9 126.6 1576.1 127.6 1576.4 128.4 1576.7 129.0 1577.0 129.5 1577.3 130.0 1577.7 130.7 1578.0 131.4 1578.3 132.3 1578.6 133.3 1578.9 134.4 1579.2 135.5 1579.4 136.5 1579.8 137.3 1580.1 137.9 1580.5 138.2 1581.0 138.2 1581.5 138.1 1582.1 137.8 1582.7 137.5 1583.3 137.4 1583.8 137.4 1584.3 137.6 1584.7 138.1 1585.1 138.8 1585.4 139.7 1585.6 140.7 1585.8 141.7 1586.1 142.6 1586.3 143.4 1586.7 144.1 1587.0 144.8 1587.4 145.3 1587.8 145.9 1588.2 146.5 1588.5 147.2 1588.8 148.1 1589.0 149.1 1589.1 150.2 1589.2 151.4 1589.3 152.6 1589.3 153.7 1589.4 154.7 1589.6 155.5 1589.8 156.0 1590.2 156.4 1590.6 156.6 1591.1 156.8 1591.6 156.9 1592.1 157.1 1592.6 157.4 1592.9 157.8 1593.2 158.4 1593.5 159.2 1593.6 160.1 1593.8 161.0 1593.9 162.0 1594.0 162.9 1594.3 163.8 1594.6 164.6 1594.9 165.3 1595.3 165.9 1595.7 166.5 1596.1 167.2 1596.4 167.8 1596.7 168.5 1596.8 169.3 1596.8 170.1 1596.8 171.0 1596.7 171.8 1596.6 172.7 1596.6 173.4 1596.6 174.2 1596.8 174.9 1597.1 175.4 1597.4 176.0 1597.9 176.5 1598.4 177.0 1598.9 177.5 1599.3 178.1 1599.6 178.7 1599.9 179.4 1600.1 180.1 1600.3 180.8 1600.5 181.6 1600.8 182.3 1601.1 183.0 1601.6 183.7 1602.1 184.4 1602.7 185.1 1603.3 185.8 1603.9 186.7 1604.4 187.5 1604.8 188.5 1605.0 189.5 1605.0 190.5 1604.9 191.6 1604.6 192.6 1604.3 193.7 1604.0 194.7 1603.7 195.7 1603.5 196.7 1603.4 197.7 1603.5 198.6 1603.6 199.6 1603.8 200.5 1604.0 201.5 1604.2 202.5 1604.3 203.5 1604.3 204.5 1604.2 205.5 1604.0 206.6 1603.9 207.8 1603.8 209.1 1603.9 210.6 1604.0 212.2 1604.3 214.0 1604.8 215.9 1605.3 218.0 1605.8 220.2 1606.3 222.3 1606.6 224.4 1606.8 226.4 1606.8 228.1 1606.5 229.7 1606.0 231.1 1605.5 232.3 1604.8 233.5 1604.1 234.5 1603.5 235.6 1602.9 236.8 1602.4 238.1 1602.0 239.4 1601.6 240.9 1601.2 242.3 1600.8 243.7 1600.3 245.0 1599.7 246.2 1599.1 247.2 1598.3 248.0 1597.6 248.7 1596.8 249.5 1596.2 250.3 1595.6 251.3 1595.2 252.6 1594.9 254.3 1594.7 256.2 1594.6 258.4 1594.5 260.8 1594.4 263.2 1594.2 265.5 1593.9 267.6 1593.4 269.4 1592.8 270.9 1592.2 272.1 1591.4 273.1 1590.7 273.9 1589.9 274.8 1589.1 275.7 1588.4 276.8 1587.6 278.1 1586.9 279.5 1586.1 280.9 1585.3 282.3 1584.5 283.5 1583.6 284.5 1582.6 285.1 1581.5 285.3 1580.5 285.2 1579.4 285.0 1578.3 284.7 1577.3 284.6 1576.4 284.7 1575.5 285.3 1574.6 286.3 1573.7 287.8 1572.8 289.7 1571.8 291.9 1570.9 294.1 1569.9 296.2 1568.9 298.0 1567.9 299.6 1566.9 300.9 1565.9 301.9 1564.9 302.8 1564.0 303.7 1563.0 304.7 1562.0 305.9 1561.0 307.4 1559.9 309.1 1558.8 310.9 1557.6 312.6 1556.3 314.1 1555.1 315.2 1553.8 315.7 1552.5 315.6 1551.3 315.0 1550.2 313.8 1549.2 312.3 1548.2 310.7 1547.2 309.2 1546.3 308.0 1545.2 307.2 1544.1 306.9 1542.9 307.1 1541.5 307.6 1540.0 308.2 1538.6 308.9 1537.2 309.4 1535.9 309.7 1534.7 309.7 1533.7 309.4 1532.8 308.9 1532.0 308.4 1531.2 308.2 1530.4 308.2 1529.5 308.5 1528.5 309.2 1527.4 310.2 1526.3 311.2 1525.2 312.0 1524.3 312.5 1523.5 312.4 1522.9 311.6 1522.7 310.1 1522.8 308.0 1523.1 305.4 1523.5 302.3 1524.1 299.0 1524.6 295.6 1525.1 292.3 1525.5 289.2 1525.7 286.2 1525.8 283.3 1525.8 280.5 1525.9 277.5 1525.9 274.4 1526.1 270.9 1526.3 267.1 1526.7 263.0 1527.1 258.6 1527.5 254.0 1527.8 249.3 1528.0 244.4 1527.9 239.4 1527.7 234.3 1527.3 229.1 1526.7 223.7 1526.0 218.1 1525.2 212.3 1524.5 206.2 1523.9 200.1 1523.5 193.9 1523.2 187.6 1523.2 181.0 1523.3 174.4 1523.6 167.9 1523.9 161.5 1524.1 155.5 1524.3 149.7 1524.5 144.3 1524.5 139.3 1524.6 134.8 1524.6 130.8 1524.6 127.4 1524.7 124.5 1524.9 122.2 1525.3 120.5 1525.8 119.2 1526.5 118.4 1527.2 117.7 1528.0 117.1 1528.7 116.3 1529.3 115.2 1529.7 113.9 1530.0 112.3 1530.2 110.5 1530.3 108.5 1530.4 106.4 1530.6 104.5 1530.9 102.8 1531.3 101.3ZM1534.7 111.5 1535.1 110.0 1535.5 108.7 1536.1 107.7 1536.8 107.0 1537.7 106.7 1538.6 106.9 1539.7 107.4 1540.8 108.2 1542.0 109.2 1543.2 110.3 1544.5 111.5 1545.7 112.6 1547.0 113.7 1548.2 114.5 1549.3 115.1 1550.4 115.6 1551.3 115.9 1552.2 116.1 1553.0 116.3 1553.7 116.6 1554.3 116.9 1554.8 117.4 1555.2 118.0 1555.6 118.8 1555.9 119.6 1556.2 120.5 1556.5 121.4 1556.7 122.1 1556.9 122.6 1557.0 122.8 1557.1 122.8 1557.2 122.6 1557.1 122.2 1557.0 121.7 1556.8 121.1 1556.7 120.5 1556.7 119.9 1556.8 119.5 1557.0 119.2 1557.3 119.1 1557.9 119.1 1558.7 119.3 1559.6 119.6 1560.6 120.0 1561.7 120.4 1562.7 120.9 1563.7 121.3 1564.6 121.6 1565.5 121.8 1566.1 122.1 1566.7 122.3 1567.1 122.5 1567.5 122.7 1567.9 123.0 1568.1 123.6 1568.4 124.3 1568.5 125.2 1568.7 126.3 1568.8 127.5 1569.0 128.8 1569.1 130.2 1569.3 131.4 1569.4 132.5 1569.5 133.4 1569.7 134.1 1569.9 134.4 1570.1 134.5 1570.4 134.4 1570.6 134.1 1570.9 133.7 1571.3 133.3 1571.6 132.9 1571.9 132.7 1572.2 132.6 1572.4 132.6 1572.7 132.9 1572.9 133.2 1573.2 133.6 1573.4 134.1 1573.7 134.6 1574.0 134.9 1574.3 135.2 1574.7 135.4 1575.1 135.5 1575.5 135.6 1575.9 135.7 1576.4 135.8 1576.8 136.1 1577.1 136.5 1577.5 137.1 1577.7 138.0 1577.9 139.1 1578.1 140.4 1578.2 141.8 1578.2 143.2 1578.3 144.7 1578.3 146.1 1578.4 147.3 1578.5 148.4 1578.7 149.3 1578.9 150.0 1579.2 150.5 1579.5 150.9 1579.8 151.2 1580.2 151.4 1580.6 151.7 1581.0 152.0 1581.4 152.3 1581.7 152.7 1582.0 153.2 1582.3 153.7 1582.6 154.2 1583.0 154.6 1583.4 155.0 1583.8 155.4 1584.3 155.6 1584.8 155.7 1585.4 155.8 1586.0 155.8 1586.6 155.8 1587.2 155.9 1587.7 156.0 1588.2 156.2 1588.6 156.6 1588.8 157.1 1589.0 157.8 1589.0 158.6 1589.0 159.6 1588.8 160.7 1588.7 161.8 1588.5 162.9 1588.3 164.1 1588.1 165.2 1587.9 166.3 1587.9 167.3 1587.9 168.2 1588.0 169.0 1588.1 169.8 1588.3 170.5 1588.4 171.1 1588.6 171.7 1588.8 172.3 1589.0 172.9 1589.2 173.4 1589.3 173.9 1589.4 174.5 1589.6 175.0 1589.7 175.5 1590.0 175.9 1590.3 176.3 1590.7 176.7 1591.2 177.1 1591.8 177.4 1592.5 177.7 1593.3 178.1 1594.0 178.4 1594.7 178.8 1595.4 179.3 1595.9 179.8 1596.3 180.4 1596.6 181.1 1596.8 181.8 1596.9 182.5 1596.9 183.2 1596.8 184.0 1596.8 184.8 1596.7 185.6 1596.7 186.3 1596.8 187.1 1596.9 187.9 1597.1 188.7 1597.3 189.6 1597.5 190.4 1597.6 191.3 1597.7 192.2 1597.6 193.1 1597.5 193.9 1597.3 194.8 1596.9 195.6 1596.6 196.4 1596.2 197.2 1595.8 197.9 1595.5 198.6 1595.4 199.4 1595.4 200.1 1595.5 201.0 1595.8 201.9 1596.2 202.9 1596.6 204.0 1597.2 205.3 1597.7 206.7 1598.2 208.2 1598.6 209.8 1598.9 211.4 1599.1 213.0 1599.2 214.7 1599.2 216.2 1599.2 217.8 1599.1 219.2 1598.9 220.7 1598.8 222.1 1598.7 223.5 1598.7 225.0 1598.6 226.5 1598.6 228.1 1598.6 229.6 1598.5 231.2 1598.3 232.7 1598.1 234.1 1597.7 235.4 1597.2 236.5 1596.5 237.4 1595.8 238.2 1594.9 238.8 1594.0 239.2 1593.1 239.7 1592.3 240.1 1591.5 240.6 1590.8 241.2 1590.2 241.9 1589.7 242.8 1589.3 244.0 1589.0 245.2 1588.8 246.6 1588.5 248.1 1588.3 249.6 1588.0 251.0 1587.6 252.3 1587.2 253.6 1586.7 254.7 1586.2 255.7 1585.7 256.7 1585.1 257.7 1584.6 258.7 1584.1 259.9 1583.6 261.3 1583.2 262.9 1582.8 264.7 1582.4 266.7 1582.0 268.9 1581.5 271.1 1581.0 273.2 1580.4 275.2 1579.7 277.0 1579.0 278.4 1578.1 279.5 1577.2 280.2 1576.2 280.6 1575.2 280.6 1574.2 280.5 1573.2 280.2 1572.2 280.0 1571.3 279.8 1570.3 279.8 1569.4 280.0 1568.5 280.5 1567.7 281.0 1566.8 281.7 1566.0 282.5 1565.1 283.2 1564.3 283.8 1563.5 284.2 1562.7 284.4 1561.9 284.5 1561.1 284.5 1560.3 284.4 1559.6 284.3 1558.7 284.4 1557.9 284.8 1557.0 285.5 1556.0 286.6 1554.9 288.1 1553.7 289.9 1552.5 292.0 1551.1 294.2 1549.8 296.4 1548.3 298.5 1546.9 300.3 1545.6 301.7 1544.3 302.7 1543.0 303.2 1541.8 303.3 1540.7 303.0 1539.6 302.4 1538.5 301.7 1537.5 300.9 1536.6 300.2 1535.6 299.5 1534.8 299.0 1533.9 298.6 1533.2 298.2 1532.5 297.9 1531.8 297.6 1531.3 297.0 1530.9 296.2 1530.6 295.0 1530.5 293.5 1530.5 291.6 1530.6 289.4 1530.8 287.0 1531.0 284.5 1531.3 282.1 1531.5 280.0 1531.7 278.1 1531.7 276.5 1531.6 275.2 1531.4 274.1 1531.0 273.3 1530.6 272.4 1530.1 271.5 1529.6 270.4 1529.1 269.0 1528.8 267.3 1528.5 265.2 1528.4 262.7 1528.3 259.8 1528.3 256.5 1528.4 252.9 1528.5 249.1 1528.5 245.1 1528.5 240.8 1528.4 236.2 1528.2 231.4 1528.0 226.3 1527.8 221.1 1527.5 215.7 1527.3 210.1 1527.1 204.5 1527.0 198.8 1527.1 193.3 1527.2 187.8 1527.5 182.2 1527.9 176.6 1528.4 171.1 1528.9 166.0 1529.5 161.2 1530.0 156.7 1530.4 152.7 1530.8 149.0 1531.1 145.7 1531.2 142.7 1531.2 139.9 1531.0 137.3 1530.8 134.8 1530.6 132.5 1530.4 130.3 1530.3 128.4 1530.3 126.6 1530.4 125.0 1530.6 123.5 1531.0 122.2 1531.4 121.1 1531.9 120.1 1532.4 119.2 1532.9 118.2 1533.3 117.2 1533.7 115.9 1534.1 114.6 1534.4 113.1ZM1542.0 123.9 1542.4 123.0 1542.8 122.0 1543.2 121.2 1543.7 120.5 1544.3 119.9 1544.9 119.6 1545.7 119.6 1546.5 119.8 1547.5 120.2 1548.5 120.9 1549.6 121.9 1550.7 123.0 1551.9 124.2 1553.1 125.5 1554.3 126.7 1555.3 127.8 1556.3 128.8 1557.2 129.6 1557.9 130.1 1558.5 130.5 1558.9 130.7 1559.3 130.8 1559.6 130.8 1559.8 130.8 1560.0 130.8 1560.2 130.9 1560.3 131.1 1560.5 131.4 1560.6 131.8 1560.8 132.3 1561.0 132.9 1561.0 133.4 1561.1 134.0 1561.1 134.5 1561.0 134.8 1561.0 134.9 1560.9 134.9 1560.9 134.6 1561.0 134.1 1561.2 133.4 1561.6 132.6 1562.1 131.7 1562.7 130.9 1563.4 130.1 1564.3 129.5 1565.2 129.1 1566.0 128.9 1566.8 129.0 1567.6 129.4 1568.2 130.0 1568.7 130.7 1569.1 131.5 1569.4 132.4 1569.7 133.2 1569.9 134.0 1570.1 134.6 1570.3 135.2 1570.5 135.7 1570.7 136.1 1570.9 136.5 1571.1 136.8 1571.3 137.3 1571.5 137.8 1571.6 138.4 1571.8 139.2 1571.9 140.1 1572.0 141.0 1572.1 142.0 1572.2 143.1 1572.4 144.0 1572.5 144.9 1572.6 145.7 1572.7 146.2 1572.9 146.6 1573.0 146.8 1573.2 146.8 1573.5 146.6 1573.7 146.3 1574.0 145.9 1574.3 145.4 1574.6 145.0 1574.9 144.6 1575.3 144.4 1575.6 144.2 1575.9 144.2 1576.3 144.4 1576.6 144.7 1576.9 145.1 1577.1 145.6 1577.4 146.2 1577.7 146.7 1577.9 147.3 1578.2 147.8 1578.5 148.3 1578.8 148.7 1579.1 149.1 1579.4 149.4 1579.7 149.8 1580.1 150.2 1580.3 150.7 1580.6 151.2 1580.8 151.9 1581.0 152.7 1581.1 153.6 1581.1 154.6 1581.2 155.6 1581.2 156.7 1581.2 157.8 1581.2 158.8 1581.2 159.7 1581.3 160.6 1581.4 161.3 1581.6 161.8 1581.9 162.2 1582.2 162.5 1582.5 162.7 1582.9 162.8 1583.3 162.9 1583.7 163.0 1584.1 163.1 1584.4 163.3 1584.7 163.5 1584.9 163.9 1585.2 164.2 1585.3 164.6 1585.5 165.1 1585.6 165.6 1585.8 166.1 1586.0 166.5 1586.2 167.0 1586.4 167.4 1586.7 167.8 1587.0 168.2 1587.3 168.7 1587.7 169.1 1588.0 169.6 1588.4 170.0 1588.7 170.5 1589.0 171.1 1589.3 171.6 1589.5 172.1 1589.7 172.7 1589.8 173.3 1589.8 173.8 1589.8 174.4 1589.8 175.0 1589.8 175.6 1589.7 176.2 1589.7 176.8 1589.6 177.4 1589.6 177.9 1589.7 178.4 1589.8 178.9 1589.9 179.4 1590.1 179.9 1590.3 180.3 1590.5 180.8 1590.6 181.3 1590.8 181.8 1590.9 182.3 1590.9 182.9 1590.9 183.4 1590.9 184.0 1590.9 184.5 1590.9 185.1 1590.9 185.6 1591.0 186.2 1591.2 186.7 1591.5 187.3 1591.8 187.9 1592.3 188.5 1592.8 189.1 1593.4 189.8 1594.0 190.5 1594.7 191.2 1595.3 192.0 1595.8 192.8 1596.2 193.7 1596.6 194.5 1596.8 195.3 1596.9 196.1 1597.0 196.9 1596.9 197.6 1596.8 198.3 1596.7 199.0 1596.5 199.7 1596.4 200.4 1596.3 201.2 1596.2 202.0 1596.1 203.0 1596.1 204.0 1596.1 205.1 1596.1 206.3 1596.0 207.5 1595.9 208.7 1595.8 209.9 1595.5 211.0 1595.2 212.1 1594.8 213.0 1594.3 213.8 1593.8 214.5 1593.3 215.1 1592.7 215.7 1592.2 216.4 1591.8 217.0 1591.4 217.8 1591.1 218.6 1590.9 219.6 1590.9 220.8 1590.9 222.1 1590.9 223.5 1591.1 225.1 1591.2 226.7 1591.3 228.4 1591.3 230.0 1591.3 231.6 1591.2 233.1 1591.1 234.5 1590.8 235.7 1590.5 236.9 1590.2 237.9 1589.9 238.9 1589.5 239.9 1589.1 241.0 1588.8 242.0 1588.4 243.2 1588.1 244.4 1587.8 245.7 1587.5 247.0 1587.2 248.4 1586.8 249.7 1586.4 251.0 1586.0 252.0 1585.4 252.9 1584.8 253.6 1584.2 254.0 1583.5 254.1 1582.7 254.1 1581.9 253.9 1581.1 253.6 1580.3 253.2 1579.5 252.9 1578.8 252.7 1578.1 252.7 1577.4 252.8 1576.7 253.3 1576.1 253.9 1575.5 254.8 1574.9 255.8 1574.3 257.0 1573.7 258.2 1573.1 259.5 1572.4 260.7 1571.8 261.8 1571.1 262.7 1570.4 263.6 1569.7 264.3 1569.0 264.9 1568.3 265.5 1567.6 266.1 1566.9 266.8 1566.2 267.7 1565.5 268.7 1564.8 270.0 1564.1 271.5 1563.3 273.2 1562.5 275.1 1561.6 277.0 1560.7 278.9 1559.7 280.6 1558.7 282.2 1557.6 283.4 1556.6 284.3 1555.5 284.9 1554.5 285.0 1553.6 284.7 1552.7 284.1 1551.8 283.2 1551.1 282.2 1550.4 281.0 1549.7 279.9 1549.0 278.9 1548.2 278.0 1547.4 277.3 1546.6 276.7 1545.8 276.4 1545.0 276.1 1544.2 275.9 1543.4 275.7 1542.8 275.3 1542.3 274.9 1541.8 274.3 1541.5 273.5 1541.3 272.5 1541.1 271.4 1541.0 270.2 1541.0 269.0 1540.9 267.7 1540.8 266.6 1540.7 265.7 1540.4 264.9 1540.1 264.5 1539.7 264.3 1539.2 264.3 1538.6 264.4 1538.0 264.6 1537.4 264.6 1536.8 264.5 1536.2 264.0 1535.7 263.2 1535.3 261.9 1535.1 260.3 1535.0 258.2 1535.0 255.8 1535.1 253.1 1535.3 250.1 1535.6 246.9 1535.8 243.5 1536.0 239.9 1536.2 236.3 1536.3 232.4 1536.4 228.4 1536.4 224.2 1536.3 219.8 1536.3 215.3 1536.2 210.7 1536.2 206.0 1536.3 201.3 1536.4 196.6 1536.6 192.2 1537.0 187.7 1537.3 183.2 1537.8 178.8 1538.3 174.4 1538.8 170.3 1539.3 166.5 1539.7 162.9 1540.0 159.6 1540.3 156.6 1540.4 153.8 1540.4 151.3 1540.3 148.8 1540.0 146.5 1539.6 144.2 1539.3 142.0 1538.9 139.8 1538.5 137.8 1538.2 135.9 1538.1 134.2 1538.1 132.5 1538.2 131.1 1538.5 129.9 1538.8 128.9 1539.2 128.2 1539.7 127.5 1540.2 126.9 1540.7 126.3 1541.2 125.6 1541.6 124.8Z" fill="none" stroke="#978f87" stroke-width="2.2" opacity="0.5" filter="url(#fb)"/></g>
<path d="M1520.7 72.0 1521.7 71.1 1523.0 71.0 1524.5 71.6 1526.2 72.6 1527.8 73.7 1529.4 74.5 1530.8 74.9 1532.1 74.7 1533.2 74.2 1534.3 73.5 1535.5 73.0 1537.0 72.7 1538.5 72.7 1540.1 72.9 1541.7 73.1 1543.3 73.3 1544.7 73.3 1546.1 73.3 1547.3 73.4 1548.3 73.9 1549.3 74.6 1550.2 75.8 1550.9 77.0 1551.5 78.2 1552.0 79.0 1552.3 79.3 1552.5 79.0 1552.7 78.5 1552.8 78.1 1553.0 77.9 1553.2 78.3 1553.4 79.4 1553.5 81.0 1553.6 82.8 1553.6 84.5 1553.7 85.9 1553.8 86.9 1554.0 87.6 1554.4 88.1 1554.9 88.4 1555.8 88.7 1556.9 89.0 1558.2 89.3 1559.6 89.3 1561.1 89.0 1562.5 88.5 1564.0 87.8 1565.3 87.3 1566.5 87.1 1567.6 87.5 1568.4 88.3 1569.1 89.6 1569.6 90.9 1570.1 91.9 1570.5 92.6 1570.9 92.8 1571.3 92.6 1571.6 92.2 1572.0 91.9 1572.4 91.9 1572.8 92.3 1573.1 93.1 1573.4 94.1 1573.7 95.2 1574.0 96.2 1574.3 97.0 1574.6 97.7 1574.9 98.5 1575.2 99.3 1575.5 100.3 1575.8 101.4 1576.0 102.5 1576.3 103.4 1576.6 104.0 1577.0 104.2 1577.3 104.2 1577.7 104.1 1578.1 104.2 1578.5 104.7 1578.9 105.6 1579.3 106.9 1579.6 108.3 1580.0 109.7 1580.4 110.9 1580.8 111.8 1581.4 112.3 1581.9 112.6 1582.5 112.9 1583.0 113.3 1583.6 113.9 1584.0 114.7 1584.5 115.5 1585.0 116.4 1585.5 117.3 1586.0 118.0 1586.6 118.7 1587.1 119.5 1587.5 120.5 1587.9 121.7 1588.2 123.1 1588.5 124.5 1588.8 125.8 1589.2 126.9 1589.6 127.6 1590.2 128.0 1590.8 128.3 1591.5 128.5 1592.0 128.9 1592.6 129.6 1593.0 130.5 1593.3 131.7 1593.7 132.8 1594.0 133.9 1594.5 134.9 1595.0 135.6 1595.5 136.3 1596.1 136.9 1596.6 137.6 1597.0 138.4 1597.4 139.3 1597.7 140.2 1598.1 141.0 1598.5 141.7 1598.9 142.2 1599.4 142.8 1599.8 143.4 1600.2 144.2 1600.3 145.3 1600.4 146.6 1600.4 148.0 1600.3 149.5 1600.2 150.9 1600.3 152.2 1600.6 153.4 1600.9 154.3 1601.4 155.3 1601.8 156.2 1602.2 157.2 1602.5 158.2 1602.8 159.3 1603.1 160.3 1603.5 161.1 1603.9 161.9 1604.4 162.6 1604.9 163.2 1605.4 163.8 1605.9 164.5 1606.3 165.2 1606.5 166.1 1606.8 166.9 1607.1 167.8 1607.5 168.6 1608.1 169.3 1608.7 169.9 1609.4 170.6 1610.0 171.4 1610.5 172.3 1610.7 173.3 1610.7 174.3 1610.6 175.5 1610.5 176.6 1610.5 177.6 1610.7 178.6 1611.0 179.6 1611.4 180.6 1611.8 181.6 1612.2 182.6 1612.5 183.7 1612.7 184.8 1613.0 186.0 1613.3 187.2 1613.6 188.4 1614.1 189.7 1614.5 191.0 1614.9 192.3 1615.1 193.6 1615.1 195.0 1615.0 196.3 1614.9 197.6 1614.8 198.9 1614.8 200.2 1615.1 201.4 1615.6 202.8 1616.2 204.2 1616.8 205.6 1617.3 207.0 1617.5 208.5 1617.5 210.0 1617.3 211.5 1617.1 213.1 1616.8 214.8 1616.7 216.7 1616.7 218.8 1616.7 221.0 1616.6 223.3 1616.6 225.5 1616.4 227.7 1616.1 229.9 1615.9 232.0 1615.7 234.1 1615.6 236.2 1615.6 238.5 1615.6 240.8 1615.6 243.0 1615.3 245.1 1614.8 246.9 1614.0 248.5 1613.2 249.9 1612.3 251.2 1611.5 252.6 1611.0 254.3 1610.6 256.4 1610.3 258.7 1610.1 261.1 1609.9 263.5 1609.5 265.8 1609.0 267.8 1608.4 269.6 1607.7 271.3 1607.1 273.0 1606.4 274.8 1605.8 276.6 1605.2 278.5 1604.5 280.2 1603.8 281.7 1602.9 283.0 1602.0 284.1 1601.1 285.2 1600.2 286.6 1599.5 288.3 1598.9 290.5 1598.3 292.9 1597.7 295.4 1597.0 297.6 1596.2 299.4 1595.2 300.6 1594.1 301.4 1592.9 302.0 1591.7 302.6 1590.6 303.5 1589.5 304.8 1588.4 306.6 1587.4 308.7 1586.4 310.8 1585.3 312.7 1584.1 314.5 1582.9 316.1 1581.7 317.7 1580.5 319.4 1579.3 321.3 1578.1 323.3 1576.9 325.3 1575.6 326.9 1574.2 328.1 1572.9 328.7 1571.5 328.8 1570.2 328.8 1568.9 329.0 1567.6 329.7 1566.3 331.2 1565.0 333.2 1563.7 335.7 1562.4 338.1 1561.1 340.1 1559.8 341.5 1558.5 342.3 1557.3 342.6 1556.0 342.8 1554.6 343.0 1553.2 343.5 1551.7 344.2 1550.1 345.0 1548.4 345.8 1546.7 346.4 1545.1 346.6 1543.4 346.8 1541.7 347.1 1539.9 347.7 1538.1 348.7 1536.2 350.2 1534.2 351.7 1532.3 352.9 1530.4 353.4 1528.7 353.1 1527.2 352.0 1525.9 350.4 1524.7 348.7 1523.5 347.3 1522.3 346.6 1520.9 346.5 1519.5 346.9 1518.2 347.5 1516.9 348.0 1515.9 348.0 1515.0 347.5 1514.4 346.6 1513.8 345.4 1513.3 344.2 1512.7 343.0 1512.2 341.8 1511.7 340.3 1511.4 338.5 1511.3 336.2 1511.5 333.4 1511.7 330.3 1512.0 327.2 1512.1 324.4 1511.9 321.8 1511.6 319.6 1511.0 317.4 1510.4 315.0 1510.1 312.0 1510.0 308.3 1510.2 303.7 1510.7 298.5 1511.3 292.9 1511.9 287.1 1512.3 281.3 1512.5 275.6 1512.5 269.7 1512.4 263.5 1512.3 256.8 1512.2 249.6 1512.2 241.9 1512.2 233.9 1512.2 225.9 1512.1 217.8 1511.8 209.8 1511.5 201.8 1511.2 193.9 1511.0 185.9 1511.1 177.7 1511.3 169.3 1511.7 161.1 1512.1 153.1 1512.5 145.5 1512.6 138.0 1512.4 130.8 1512.0 123.8 1511.5 117.4 1511.0 111.6 1510.6 106.6 1510.5 102.4 1510.6 99.0 1510.8 96.3 1511.2 94.0 1511.5 91.8 1511.8 89.7 1512.1 87.5 1512.6 85.3 1513.1 83.4 1513.9 81.9 1514.9 80.8 1515.9 79.9 1516.9 79.1 1517.8 78.0 1518.6 76.7 1519.3 75.1 1519.9 73.5Z" fill="none" stroke="#a29d96" stroke-width="1.2"/>
<circle cx="1494.5" cy="83.9" r="4.9" fill="url(#gsph)"/>
<circle cx="1517.1" cy="86.5" r="4.9" fill="url(#gsph)"/>
<circle cx="1454.4" cy="108.6" r="4.9" fill="url(#gsph)"/>
<circle cx="1555.4" cy="112.9" r="4.9" fill="url(#gsph)"/>
<circle cx="1444.6" cy="124.8" r="4.9" fill="url(#gsph)"/>
<circle cx="1434.8" cy="134.2" r="4.9" fill="url(#gsph)"/>
<circle cx="1566.1" cy="127.8" r="4.9" fill="url(#gsph)"/>
<circle cx="1575.5" cy="140.6" r="4.9" fill="url(#gsph)"/>
<circle cx="1471.4" cy="138.5" r="4.9" fill="url(#gsph)"/>
<circle cx="1538.4" cy="140.6" r="4.9" fill="url(#gsph)"/>
<circle cx="1497.9" cy="125.7" r="4.9" fill="url(#gsph)"/>
<circle cx="1512.8" cy="127.8" r="4.9" fill="url(#gsph)"/>
<circle cx="1431.8" cy="157.6" r="4.9" fill="url(#gsph)"/>
<circle cx="1442.5" cy="164.9" r="4.9" fill="url(#gsph)"/>
<circle cx="1497.9" cy="154.7" r="4.9" fill="url(#gsph)"/>
<circle cx="1512.8" cy="151.3" r="4.9" fill="url(#gsph)"/>
<circle cx="1566.1" cy="167.4" r="4.9" fill="url(#gsph)"/>
<circle cx="1576.7" cy="164.9" r="4.9" fill="url(#gsph)"/>
<circle cx="1544.8" cy="167.4" r="4.9" fill="url(#gsph)"/>
<circle cx="1462.9" cy="164.9" r="4.9" fill="url(#gsph)"/>
<circle cx="1517.1" cy="168.3" r="4.9" fill="url(#gsph)"/>
<circle cx="1525.6" cy="172.6" r="4.9" fill="url(#gsph)"/>
<circle cx="1571.2" cy="200.3" r="4.9" fill="url(#gsph)"/>
<circle cx="1581.0" cy="199.0" r="4.9" fill="url(#gsph)"/>
<circle cx="1425.4" cy="201.5" r="4.9" fill="url(#gsph)"/>
<circle cx="1437.3" cy="200.3" r="4.9" fill="url(#gsph)"/>
<circle cx="1570.3" cy="215.2" r="4.9" fill="url(#gsph)"/>
<circle cx="1582.3" cy="220.3" r="4.9" fill="url(#gsph)"/>
<circle cx="1437.3" cy="218.6" r="4.9" fill="url(#gsph)"/>
<circle cx="1420.3" cy="222.9" r="4.9" fill="url(#gsph)"/>
<circle cx="1427.5" cy="224.6" r="4.9" fill="url(#gsph)"/>
<circle cx="1433.1" cy="231.4" r="4.9" fill="url(#gsph)"/>
<circle cx="1574.6" cy="228.0" r="4.9" fill="url(#gsph)"/>
<circle cx="1588.2" cy="240.8" r="4.9" fill="url(#gsph)"/>
<circle cx="1583.1" cy="248.4" r="4.9" fill="url(#gsph)"/>
<circle cx="1416.0" cy="249.3" r="4.9" fill="url(#gsph)"/>
<circle cx="1422.0" cy="253.6" r="4.9" fill="url(#gsph)"/>
<circle cx="1495.7" cy="221.6" r="4.9" fill="url(#gsph)"/>
<circle cx="1512.8" cy="218.6" r="4.9" fill="url(#gsph)"/>
<circle cx="1491.5" cy="237.4" r="4.9" fill="url(#gsph)"/>
<circle cx="1515.8" cy="233.1" r="4.9" fill="url(#gsph)"/>
<circle cx="1497.0" cy="259.9" r="4.9" fill="url(#gsph)"/>
<circle cx="1514.9" cy="257.0" r="4.9" fill="url(#gsph)"/>
<circle cx="1456.1" cy="247.2" r="4.9" fill="url(#gsph)"/>
<circle cx="1553.3" cy="245.0" r="4.9" fill="url(#gsph)"/>
<circle cx="1438.2" cy="298.3" r="4.9" fill="url(#gsph)"/>
<circle cx="1573.8" cy="287.7" r="4.9" fill="url(#gsph)"/>
<circle cx="1489.4" cy="309.0" r="4.9" fill="url(#gsph)"/>
<circle cx="1494.5" cy="313.2" r="4.9" fill="url(#gsph)"/>
<circle cx="1515.8" cy="312.4" r="4.9" fill="url(#gsph)"/>
<circle cx="1522.6" cy="308.1" r="4.9" fill="url(#gsph)"/>
<circle cx="1551.2" cy="312.4" r="4.9" fill="url(#gsph)"/>
<path d="M1488.5 137.6L1521.3 136.3M1488.5 137.6L1485.1 171.7M1488.5 137.6L1451.0 184.5M1488.5 137.6L1465.9 183.2M1488.5 137.6L1541.4 183.2M1488.5 137.6L1556.3 185.4M1488.5 137.6L1521.3 211.8M1488.5 137.6L1539.7 215.2M1488.5 137.6L1490.2 281.3M1488.5 137.6L1519.2 279.1M1488.5 137.6L1467.2 295.3M1488.5 137.6L1542.6 294.0M1521.3 136.3L1465.9 183.2M1521.3 136.3L1541.4 183.2M1521.3 136.3L1556.3 185.4M1521.3 136.3L1534.1 189.6M1521.3 136.3L1521.3 211.8M1521.3 136.3L1539.7 215.2M1521.3 136.3L1490.2 281.3M1521.3 136.3L1519.2 279.1M1521.3 136.3L1467.2 295.3M1521.3 136.3L1542.6 294.0M1521.3 136.3L1460.4 317.5M1485.1 171.7L1465.9 183.2M1485.1 171.7L1541.4 183.2M1485.1 171.7L1534.1 189.6M1485.1 171.7L1521.3 211.8M1485.1 171.7L1539.7 215.2M1485.1 171.7L1490.2 281.3M1485.1 171.7L1519.2 279.1M1485.1 171.7L1467.2 295.3M1485.1 171.7L1542.6 294.0M1485.1 171.7L1525.6 285.5M1451.0 184.5L1465.9 183.2M1451.0 184.5L1541.4 183.2M1451.0 184.5L1556.3 185.4M1451.0 184.5L1534.1 189.6M1451.0 184.5L1485.9 213.1M1451.0 184.5L1468.9 215.2M1451.0 184.5L1539.7 215.2M1451.0 184.5L1490.2 281.3M1451.0 184.5L1519.2 279.1M1451.0 184.5L1467.2 295.3M1451.0 184.5L1542.6 294.0M1451.0 184.5L1460.4 317.5M1451.0 184.5L1525.6 285.5M1465.9 183.2L1541.4 183.2M1465.9 183.2L1556.3 185.4M1465.9 183.2L1485.9 213.1M1465.9 183.2L1468.9 215.2M1465.9 183.2L1521.3 211.8M1465.9 183.2L1490.2 281.3M1465.9 183.2L1519.2 279.1M1465.9 183.2L1467.2 295.3M1465.9 183.2L1542.6 294.0M1465.9 183.2L1460.4 317.5M1465.9 183.2L1525.6 285.5M1541.4 183.2L1556.3 185.4M1541.4 183.2L1468.9 215.2M1541.4 183.2L1539.7 215.2M1541.4 183.2L1490.2 281.3M1541.4 183.2L1542.6 294.0M1541.4 183.2L1525.6 285.5M1556.3 185.4L1485.9 213.1M1556.3 185.4L1468.9 215.2M1556.3 185.4L1521.3 211.8M1556.3 185.4L1539.7 215.2M1556.3 185.4L1490.2 281.3M1556.3 185.4L1467.2 295.3M1556.3 185.4L1542.6 294.0M1556.3 185.4L1460.4 317.5M1556.3 185.4L1525.6 285.5M1534.1 189.6L1468.9 215.2M1534.1 189.6L1521.3 211.8M1534.1 189.6L1539.7 215.2M1534.1 189.6L1519.2 279.1M1534.1 189.6L1467.2 295.3M1534.1 189.6L1542.6 294.0M1534.1 189.6L1460.4 317.5M1534.1 189.6L1525.6 285.5M1485.9 213.1L1468.9 215.2M1485.9 213.1L1521.3 211.8M1485.9 213.1L1539.7 215.2M1485.9 213.1L1490.2 281.3M1485.9 213.1L1519.2 279.1M1485.9 213.1L1542.6 294.0M1485.9 213.1L1460.4 317.5M1468.9 215.2L1521.3 211.8M1468.9 215.2L1490.2 281.3M1468.9 215.2L1519.2 279.1M1468.9 215.2L1467.2 295.3M1468.9 215.2L1542.6 294.0M1468.9 215.2L1460.4 317.5M1468.9 215.2L1525.6 285.5M1521.3 211.8L1519.2 279.1M1521.3 211.8L1467.2 295.3M1521.3 211.8L1542.6 294.0M1521.3 211.8L1460.4 317.5M1521.3 211.8L1525.6 285.5M1539.7 215.2L1490.2 281.3M1539.7 215.2L1467.2 295.3M1539.7 215.2L1542.6 294.0M1539.7 215.2L1525.6 285.5M1490.2 281.3L1467.2 295.3M1490.2 281.3L1460.4 317.5M1519.2 279.1L1467.2 295.3M1519.2 279.1L1542.6 294.0M1519.2 279.1L1460.4 317.5M1519.2 279.1L1525.6 285.5M1542.6 294.0L1460.4 317.5M1542.6 294.0L1525.6 285.5" stroke="#f7b3b5" stroke-width="1.6" fill="none" opacity="0.9"/>
<circle cx="1488.5" cy="137.6" r="8.5" fill="url(#rsph)"/>
<circle cx="1521.3" cy="136.3" r="8.5" fill="url(#rsph)"/>
<circle cx="1485.1" cy="171.7" r="7.7" fill="url(#rsph)"/>
<circle cx="1451.0" cy="184.5" r="7.7" fill="url(#rsph)"/>
<circle cx="1465.9" cy="183.2" r="7.2" fill="url(#rsph)"/>
<circle cx="1541.4" cy="183.2" r="6.8" fill="url(#rsph)"/>
<circle cx="1556.3" cy="185.4" r="7.2" fill="url(#rsph)"/>
<circle cx="1534.1" cy="189.6" r="6.0" fill="url(#rsph)"/>
<circle cx="1485.9" cy="213.1" r="7.2" fill="url(#rsph)"/>
<circle cx="1468.9" cy="215.2" r="6.4" fill="url(#rsph)"/>
<circle cx="1521.3" cy="211.8" r="7.2" fill="url(#rsph)"/>
<circle cx="1539.7" cy="215.2" r="6.4" fill="url(#rsph)"/>
<circle cx="1490.2" cy="281.3" r="7.2" fill="url(#rsph)"/>
<circle cx="1519.2" cy="279.1" r="7.2" fill="url(#rsph)"/>
<circle cx="1467.2" cy="295.3" r="8.5" fill="url(#rsph)"/>
<circle cx="1542.6" cy="294.0" r="8.5" fill="url(#rsph)"/>
<circle cx="1460.4" cy="317.5" r="7.2" fill="url(#rsph)"/>
<circle cx="1525.6" cy="285.5" r="5.1" fill="url(#rsph)"/>
<clipPath id="cbs"><path d="M1630.6 245.6 1629.4 243.9 1629.2 241.7 1629.7 239.2 1630.0 236.5 1630.0 233.8 1629.9 231.1 1630.2 228.2 1631.2 225.2 1632.8 222.3 1634.1 219.5 1634.5 216.8 1633.8 214.1 1632.5 211.2 1631.6 208.3 1631.6 205.3 1632.5 202.3 1633.8 199.3 1634.9 196.1 1635.9 192.8 1637.1 189.4 1639.2 185.9 1642.3 182.4 1645.8 178.9 1648.9 175.2 1651.1 171.2 1652.5 166.9 1653.5 162.4 1654.9 158.1 1656.9 154.3 1659.2 150.9 1661.5 147.7 1663.5 144.5 1665.4 141.3 1667.7 138.4 1670.7 136.2 1674.4 134.6 1678.3 133.3 1681.9 131.7 1684.7 129.6 1687.0 127.0 1689.4 124.3 1692.2 121.8 1695.4 119.8 1698.7 118.0 1701.9 115.9 1705.0 113.5 1708.0 111.2 1711.5 109.4 1715.4 108.4 1719.5 108.2 1723.7 108.2 1727.4 107.8 1730.8 106.8 1734.0 105.2 1737.3 103.8 1740.6 102.6 1744.0 101.7 1747.4 100.6 1750.6 98.9 1753.8 96.8 1757.0 94.7 1760.4 93.3 1764.0 92.8 1767.5 93.1 1771.0 93.4 1774.4 93.3 1777.8 92.5 1781.2 91.6 1784.5 91.1 1787.9 91.0 1791.2 91.0 1794.7 90.6 1798.3 89.5 1802.1 88.1 1805.9 87.0 1809.5 86.8 1812.9 87.8 1816.0 89.4 1819.0 91.0 1822.0 92.1 1825.2 92.8 1828.2 93.7 1831.0 95.0 1833.6 96.6 1836.2 98.1 1839.3 98.9 1842.7 99.0 1846.5 98.8 1850.2 99.0 1853.5 100.1 1856.2 102.1 1858.8 104.5 1861.5 106.7 1864.5 108.7 1867.5 110.7 1870.3 113.0 1872.6 115.8 1874.6 118.8 1877.0 121.4 1880.0 123.3 1883.7 124.6 1887.8 125.8 1891.5 127.3 1894.5 129.6 1896.9 132.3 1899.1 135.1 1901.5 137.9 1904.1 140.5 1906.4 143.4 1908.0 146.7 1908.9 150.5 1909.7 154.3 1911.0 158.0 1913.4 161.2 1916.7 164.1 1920.1 167.1 1923.0 170.4 1925.0 173.9 1926.5 177.4 1927.9 180.9 1929.7 184.3 1931.4 187.7 1932.4 191.2 1932.2 194.9 1931.2 198.6 1930.0 202.2 1929.6 205.6 1930.4 208.9 1931.9 212.1 1933.4 215.3 1934.3 218.5 1934.5 221.8 1934.6 225.0 1935.0 228.3 1935.8 231.5 1936.4 234.7 1935.9 237.7 1934.2 240.4 1931.6 242.7 1929.1 244.8 1927.4 246.9 1926.6 248.9 1926.3 251.0 1925.7 252.9 1924.6 254.6 1923.2 256.1 1922.1 257.7 1921.6 259.5 1921.6 261.4 1921.2 263.2 1919.8 264.7 1917.4 265.7 1914.4 266.3 1911.6 267.0 1909.6 267.9 1908.2 269.1 1907.0 270.4 1905.6 271.7 1903.7 272.9 1901.8 274.3 1900.5 276.0 1899.8 278.2 1899.4 280.7 1898.4 282.9 1896.4 284.8 1893.4 286.1 1890.1 287.2 1886.8 288.4 1884.0 289.9 1881.3 291.6 1878.4 293.3 1875.1 294.8 1871.5 296.2 1868.1 297.8 1865.1 300.0 1862.6 302.7 1860.0 305.5 1856.9 308.0 1853.1 309.6 1848.8 310.5 1844.3 311.2 1839.9 312.1 1835.5 313.2 1831.2 314.3 1826.6 315.1 1821.9 315.4 1817.2 315.6 1812.8 316.2 1808.8 317.5 1805.1 319.3 1801.3 321.2 1797.3 322.4 1793.2 322.8 1789.1 322.6 1785.0 322.3 1781.1 322.3 1777.2 322.3 1773.6 322.1 1770.1 321.3 1766.9 320.0 1764.0 318.8 1761.1 318.2 1758.2 318.4 1755.3 319.1 1752.4 319.8 1749.8 319.9 1747.4 319.3 1745.1 318.4 1743.0 317.5 1740.8 316.8 1738.7 315.9 1736.9 314.5 1735.5 312.3 1734.4 309.8 1733.4 307.3 1732.1 305.5 1730.6 304.3 1728.9 303.4 1727.3 302.4 1726.0 300.9 1725.0 299.1 1724.0 297.1 1723.0 295.2 1722.0 293.5 1721.1 291.5 1720.7 289.0 1720.7 286.1 1721.0 283.0 1721.2 280.2 1720.9 278.0 1720.4 276.4 1720.0 274.8 1719.8 273.2 1719.9 271.4 1720.0 269.5 1719.8 267.9 1719.3 266.6 1718.4 265.5 1717.5 264.4 1716.5 263.1 1715.7 261.7 1714.7 260.4 1713.4 259.4 1711.4 258.8 1708.8 258.6 1706.1 258.5 1703.3 258.3 1700.7 258.1 1697.8 257.9 1694.5 257.8 1690.6 258.0 1686.3 258.1 1682.2 258.1 1678.7 257.8 1675.8 257.2 1673.2 256.6 1670.4 256.1 1667.2 255.8 1663.9 255.7 1661.0 255.5 1658.7 255.2 1656.6 254.9 1654.1 254.8 1650.9 254.9 1647.2 255.3 1643.5 255.6 1640.8 255.6 1639.2 255.3 1638.6 254.6 1638.3 253.8 1637.7 253.2 1636.8 252.6 1636.0 252.1 1635.9 251.3 1636.3 250.4 1636.7 249.5 1636.3 248.6 1634.8 247.7 1632.7 246.8Z"/></clipPath>
<path d="M1630.6 245.6 1629.4 243.9 1629.2 241.7 1629.7 239.2 1630.0 236.5 1630.0 233.8 1629.9 231.1 1630.2 228.2 1631.2 225.2 1632.8 222.3 1634.1 219.5 1634.5 216.8 1633.8 214.1 1632.5 211.2 1631.6 208.3 1631.6 205.3 1632.5 202.3 1633.8 199.3 1634.9 196.1 1635.9 192.8 1637.1 189.4 1639.2 185.9 1642.3 182.4 1645.8 178.9 1648.9 175.2 1651.1 171.2 1652.5 166.9 1653.5 162.4 1654.9 158.1 1656.9 154.3 1659.2 150.9 1661.5 147.7 1663.5 144.5 1665.4 141.3 1667.7 138.4 1670.7 136.2 1674.4 134.6 1678.3 133.3 1681.9 131.7 1684.7 129.6 1687.0 127.0 1689.4 124.3 1692.2 121.8 1695.4 119.8 1698.7 118.0 1701.9 115.9 1705.0 113.5 1708.0 111.2 1711.5 109.4 1715.4 108.4 1719.5 108.2 1723.7 108.2 1727.4 107.8 1730.8 106.8 1734.0 105.2 1737.3 103.8 1740.6 102.6 1744.0 101.7 1747.4 100.6 1750.6 98.9 1753.8 96.8 1757.0 94.7 1760.4 93.3 1764.0 92.8 1767.5 93.1 1771.0 93.4 1774.4 93.3 1777.8 92.5 1781.2 91.6 1784.5 91.1 1787.9 91.0 1791.2 91.0 1794.7 90.6 1798.3 89.5 1802.1 88.1 1805.9 87.0 1809.5 86.8 1812.9 87.8 1816.0 89.4 1819.0 91.0 1822.0 92.1 1825.2 92.8 1828.2 93.7 1831.0 95.0 1833.6 96.6 1836.2 98.1 1839.3 98.9 1842.7 99.0 1846.5 98.8 1850.2 99.0 1853.5 100.1 1856.2 102.1 1858.8 104.5 1861.5 106.7 1864.5 108.7 1867.5 110.7 1870.3 113.0 1872.6 115.8 1874.6 118.8 1877.0 121.4 1880.0 123.3 1883.7 124.6 1887.8 125.8 1891.5 127.3 1894.5 129.6 1896.9 132.3 1899.1 135.1 1901.5 137.9 1904.1 140.5 1906.4 143.4 1908.0 146.7 1908.9 150.5 1909.7 154.3 1911.0 158.0 1913.4 161.2 1916.7 164.1 1920.1 167.1 1923.0 170.4 1925.0 173.9 1926.5 177.4 1927.9 180.9 1929.7 184.3 1931.4 187.7 1932.4 191.2 1932.2 194.9 1931.2 198.6 1930.0 202.2 1929.6 205.6 1930.4 208.9 1931.9 212.1 1933.4 215.3 1934.3 218.5 1934.5 221.8 1934.6 225.0 1935.0 228.3 1935.8 231.5 1936.4 234.7 1935.9 237.7 1934.2 240.4 1931.6 242.7 1929.1 244.8 1927.4 246.9 1926.6 248.9 1926.3 251.0 1925.7 252.9 1924.6 254.6 1923.2 256.1 1922.1 257.7 1921.6 259.5 1921.6 261.4 1921.2 263.2 1919.8 264.7 1917.4 265.7 1914.4 266.3 1911.6 267.0 1909.6 267.9 1908.2 269.1 1907.0 270.4 1905.6 271.7 1903.7 272.9 1901.8 274.3 1900.5 276.0 1899.8 278.2 1899.4 280.7 1898.4 282.9 1896.4 284.8 1893.4 286.1 1890.1 287.2 1886.8 288.4 1884.0 289.9 1881.3 291.6 1878.4 293.3 1875.1 294.8 1871.5 296.2 1868.1 297.8 1865.1 300.0 1862.6 302.7 1860.0 305.5 1856.9 308.0 1853.1 309.6 1848.8 310.5 1844.3 311.2 1839.9 312.1 1835.5 313.2 1831.2 314.3 1826.6 315.1 1821.9 315.4 1817.2 315.6 1812.8 316.2 1808.8 317.5 1805.1 319.3 1801.3 321.2 1797.3 322.4 1793.2 322.8 1789.1 322.6 1785.0 322.3 1781.1 322.3 1777.2 322.3 1773.6 322.1 1770.1 321.3 1766.9 320.0 1764.0 318.8 1761.1 318.2 1758.2 318.4 1755.3 319.1 1752.4 319.8 1749.8 319.9 1747.4 319.3 1745.1 318.4 1743.0 317.5 1740.8 316.8 1738.7 315.9 1736.9 314.5 1735.5 312.3 1734.4 309.8 1733.4 307.3 1732.1 305.5 1730.6 304.3 1728.9 303.4 1727.3 302.4 1726.0 300.9 1725.0 299.1 1724.0 297.1 1723.0 295.2 1722.0 293.5 1721.1 291.5 1720.7 289.0 1720.7 286.1 1721.0 283.0 1721.2 280.2 1720.9 278.0 1720.4 276.4 1720.0 274.8 1719.8 273.2 1719.9 271.4 1720.0 269.5 1719.8 267.9 1719.3 266.6 1718.4 265.5 1717.5 264.4 1716.5 263.1 1715.7 261.7 1714.7 260.4 1713.4 259.4 1711.4 258.8 1708.8 258.6 1706.1 258.5 1703.3 258.3 1700.7 258.1 1697.8 257.9 1694.5 257.8 1690.6 258.0 1686.3 258.1 1682.2 258.1 1678.7 257.8 1675.8 257.2 1673.2 256.6 1670.4 256.1 1667.2 255.8 1663.9 255.7 1661.0 255.5 1658.7 255.2 1656.6 254.9 1654.1 254.8 1650.9 254.9 1647.2 255.3 1643.5 255.6 1640.8 255.6 1639.2 255.3 1638.6 254.6 1638.3 253.8 1637.7 253.2 1636.8 252.6 1636.0 252.1 1635.9 251.3 1636.3 250.4 1636.7 249.5 1636.3 248.6 1634.8 247.7 1632.7 246.8Z" fill="url(#gbrain)"/>
<g clip-path="url(#cbs)" filter="url(#fb2)"><ellipse cx="1660.0" cy="225.0" rx="22" ry="30" fill="#a8a39c" opacity="0.3"/><ellipse cx="1700.0" cy="200.0" rx="20" ry="30" fill="#a8a39c" opacity="0.2"/><ellipse cx="1905.0" cy="230.0" rx="18" ry="30" fill="#a8a39c" opacity="0.3"/><ellipse cx="1760.0" cy="300.0" rx="40" ry="12" fill="#a8a39c" opacity="0.25"/><ellipse cx="1850.0" cy="290.0" rx="40" ry="12" fill="#a8a39c" opacity="0.25"/><ellipse cx="1690.0" cy="150.0" rx="25" ry="15" fill="#a8a39c" opacity="0.2"/></g>
<g clip-path="url(#cbs)"><path d="M1715.0 118.5C1713.5 124.6 1709.6 143.5 1706.0 155.0C1702.4 166.5 1695.6 182.1 1693.5 187.5M1745.0 107.5C1743.7 113.8 1739.8 132.9 1737.0 145.0C1734.2 157.1 1730.9 169.2 1728.5 180.0C1726.1 190.8 1723.5 205.0 1722.5 210.0M1775.0 98.0C1773.9 104.2 1771.0 123.0 1768.5 135.0C1766.0 147.0 1762.7 158.8 1760.0 170.0C1757.3 181.2 1753.8 197.1 1752.5 202.5M1802.5 92.5C1801.8 98.3 1800.6 115.8 1798.5 127.5C1796.4 139.2 1793.1 150.8 1790.0 162.5C1786.9 174.2 1781.7 191.7 1780.0 197.5M1830.0 96.0C1829.3 101.7 1827.9 118.5 1826.0 130.0C1824.1 141.5 1821.2 153.3 1818.5 165.0C1815.8 176.7 1811.4 194.2 1810.0 200.0M1860.0 107.5C1859.0 113.3 1856.3 130.8 1854.0 142.5C1851.7 154.2 1848.8 166.2 1846.0 177.5C1843.2 188.8 1838.9 204.6 1837.5 210.0M1887.5 127.5C1886.3 133.3 1883.0 150.8 1880.5 162.5C1878.0 174.2 1873.8 191.7 1872.5 197.5M1910.0 155.0C1908.8 160.8 1905.0 178.3 1902.5 190.0C1900.0 201.7 1896.2 219.2 1895.0 225.0M1724.0 277.5C1731.7 275.0 1754.0 265.8 1770.0 262.5C1786.0 259.2 1803.3 259.1 1820.0 258.0C1836.7 256.9 1855.4 256.5 1870.0 256.0C1884.6 255.5 1901.2 255.2 1907.5 255.0M1740.0 300.0C1748.3 298.6 1773.3 293.8 1790.0 291.5C1806.7 289.2 1824.6 288.7 1840.0 286.5C1855.4 284.3 1875.4 279.8 1882.5 278.5M1638.0 216.0C1643.8 215.2 1662.2 210.4 1672.5 211.5C1682.8 212.6 1695.4 220.7 1700.0 222.5M1645.5 182.5C1651.2 182.5 1669.2 180.7 1680.0 182.5C1690.8 184.3 1705.0 191.7 1710.0 193.5" fill="none" stroke="#f8f7f5" stroke-width="5" stroke-linecap="round" opacity="0.7" filter="url(#fb)"/><path d="M1700.0 125.0C1698.3 130.8 1694.2 149.2 1690.0 160.0C1685.8 170.8 1677.5 185.0 1675.0 190.0M1730.0 112.0C1728.7 118.3 1725.0 137.8 1722.0 150.0C1719.0 162.2 1714.8 174.2 1712.0 185.0C1709.2 195.8 1706.2 210.0 1705.0 215.0M1760.0 103.0C1758.7 109.2 1754.5 128.0 1752.0 140.0C1749.5 152.0 1747.0 164.2 1745.0 175.0C1743.0 185.8 1740.8 200.0 1740.0 205.0M1790.0 93.0C1789.2 99.2 1787.5 118.0 1785.0 130.0C1782.5 142.0 1778.3 153.3 1775.0 165.0C1771.7 176.7 1767.5 190.0 1765.0 200.0C1762.5 210.0 1760.8 220.8 1760.0 225.0M1815.0 92.0C1814.5 97.5 1813.7 113.7 1812.0 125.0C1810.3 136.3 1807.8 148.3 1805.0 160.0C1802.2 171.7 1796.7 189.2 1795.0 195.0M1845.0 100.0C1844.2 105.8 1842.2 123.3 1840.0 135.0C1837.8 146.7 1834.5 158.3 1832.0 170.0C1829.5 181.7 1826.2 199.2 1825.0 205.0M1875.0 115.0C1873.8 120.8 1870.5 138.3 1868.0 150.0C1865.5 161.7 1863.0 174.2 1860.0 185.0C1857.0 195.8 1851.7 210.0 1850.0 215.0M1900.0 140.0C1898.8 145.8 1895.5 163.3 1893.0 175.0C1890.5 186.7 1886.3 204.2 1885.0 210.0M1920.0 170.0C1918.7 175.8 1914.5 193.3 1912.0 205.0C1909.5 216.7 1906.2 234.2 1905.0 240.0M1636.0 200.0C1641.7 199.2 1659.3 194.2 1670.0 195.0C1680.7 195.8 1690.8 200.0 1700.0 205.0C1709.2 210.0 1720.8 221.7 1725.0 225.0M1640.0 232.0C1645.8 231.3 1665.0 226.7 1675.0 228.0C1685.0 229.3 1695.8 238.0 1700.0 240.0M1655.0 165.0C1660.8 165.8 1679.2 167.2 1690.0 170.0C1700.8 172.8 1715.0 180.0 1720.0 182.0M1718.0 265.0C1725.0 261.7 1744.7 249.5 1760.0 245.0C1775.3 240.5 1793.3 238.8 1810.0 238.0C1826.7 237.2 1845.0 237.7 1860.0 240.0C1875.0 242.3 1893.3 250.0 1900.0 252.0M1730.0 290.0C1738.3 288.3 1763.3 282.0 1780.0 280.0C1796.7 278.0 1813.3 279.3 1830.0 278.0C1846.7 276.7 1865.8 275.3 1880.0 272.0C1894.2 268.7 1909.2 260.3 1915.0 258.0M1750.0 310.0C1758.3 308.8 1783.3 305.5 1800.0 303.0C1816.7 300.5 1835.8 298.0 1850.0 295.0C1864.2 292.0 1879.2 286.7 1885.0 285.0" fill="none" stroke="#a09a93" stroke-width="2.6" stroke-linecap="round" opacity="0.5" filter="url(#fb)"/><path d="M1638.3 244.0 1636.2 242.5 1634.9 240.7 1634.6 238.4 1635.5 235.8 1637.3 232.9 1639.4 230.1 1641.1 227.2 1641.9 224.5 1641.7 221.9 1640.8 219.3 1639.6 216.8 1638.7 214.1 1638.3 211.4 1638.6 208.6 1639.2 205.9 1640.0 203.0 1640.8 200.1 1641.7 197.0 1642.8 193.9 1644.4 190.7 1646.7 187.5 1649.7 184.2 1653.0 180.9 1656.0 177.4 1658.3 173.7 1659.8 169.7 1660.4 165.4 1660.8 160.9 1661.4 156.6 1662.7 152.8 1664.9 149.7 1668.0 147.3 1671.5 145.3 1675.1 143.6 1678.3 141.8 1681.2 139.8 1683.6 137.6 1686.0 135.3 1688.5 133.1 1691.2 131.0 1694.0 129.0 1697.0 127.1 1699.8 124.9 1702.4 122.5 1705.1 120.0 1707.8 117.5 1711.0 115.6 1714.6 114.3 1718.6 113.9 1722.7 114.0 1726.8 114.4 1730.5 114.4 1733.9 113.7 1736.8 112.2 1739.6 110.1 1742.3 107.7 1745.2 105.5 1748.2 103.9 1751.5 102.8 1754.9 102.2 1758.2 101.7 1761.5 101.0 1764.8 100.3 1768.1 99.4 1771.3 98.8 1774.6 98.5 1777.8 98.6 1781.0 98.9 1784.1 99.1 1787.3 98.7 1790.5 97.7 1794.0 96.0 1797.6 94.1 1801.2 92.6 1804.8 91.9 1808.2 92.4 1811.2 93.9 1814.0 96.0 1816.6 98.1 1819.3 99.8 1822.1 100.9 1825.0 101.4 1828.1 101.6 1831.2 101.8 1834.2 102.3 1837.1 103.1 1839.9 104.1 1842.9 105.0 1846.0 105.7 1849.3 106.4 1852.6 107.3 1855.8 108.7 1858.4 110.7 1860.6 113.5 1862.3 116.8 1864.0 120.0 1865.9 122.8 1868.5 125.0 1871.8 126.3 1875.7 127.2 1879.8 128.0 1883.7 129.1 1887.0 130.9 1889.6 133.2 1891.5 136.0 1893.1 139.1 1894.7 142.1 1896.5 145.0 1898.5 147.9 1900.5 150.7 1902.2 153.8 1903.8 157.1 1905.2 160.5 1906.8 163.9 1908.8 167.1 1911.6 170.0 1915.0 172.9 1918.5 175.7 1921.6 178.7 1923.7 181.9 1924.4 185.4 1923.9 189.0 1922.6 192.8 1921.3 196.3 1920.6 199.8 1920.9 203.0 1922.0 206.1 1923.6 209.2 1925.3 212.3 1926.6 215.3 1927.3 218.4 1927.5 221.5 1927.6 224.6 1927.7 227.7 1927.9 230.7 1928.0 233.7 1927.5 236.6 1926.4 239.2 1924.4 241.5 1921.9 243.4 1919.3 245.2 1917.3 246.8 1916.3 248.6 1916.4 250.5 1917.1 252.6 1918.0 254.7 1918.4 256.6 1917.7 258.3 1916.0 259.6 1913.5 260.6 1910.8 261.5 1908.2 262.4 1906.2 263.3 1904.6 264.3 1903.2 265.4 1901.9 266.5 1900.4 267.6 1898.8 268.7 1897.2 270.0 1895.8 271.4 1894.8 273.3 1894.3 275.4 1893.8 277.7 1892.9 279.9 1891.2 281.8 1888.6 283.1 1885.1 284.0 1881.2 284.6 1877.4 285.2 1874.0 286.2 1871.3 287.8 1869.2 289.9 1867.2 292.5 1865.2 295.2 1862.7 297.6 1859.6 299.6 1856.1 301.3 1852.4 302.7 1848.7 304.1 1844.9 305.4 1841.2 306.7 1837.1 307.8 1832.9 308.7 1828.3 309.1 1823.7 309.2 1819.2 309.3 1814.9 309.8 1811.0 310.8 1807.3 312.5 1803.8 314.6 1800.3 316.6 1796.6 318.2 1792.7 318.9 1788.7 318.7 1784.7 317.7 1780.9 316.4 1777.3 315.2 1773.9 314.5 1770.6 314.2 1767.5 314.3 1764.6 314.5 1761.7 314.5 1759.0 314.4 1756.4 314.1 1753.9 313.9 1751.4 313.9 1748.9 314.0 1746.5 314.1 1744.2 313.8 1742.2 312.9 1740.5 311.2 1739.2 308.9 1738.2 306.2 1737.2 303.7 1736.1 301.7 1734.7 300.3 1733.1 299.6 1731.3 299.2 1729.5 298.7 1727.9 297.7 1726.8 296.2 1726.0 294.1 1725.5 291.6 1725.1 289.1 1724.8 286.7 1724.4 284.3 1724.0 282.1 1723.7 279.8 1723.5 277.5 1723.5 275.2 1723.6 273.1 1723.6 271.1 1723.5 269.5 1723.1 268.3 1722.4 267.3 1721.7 266.3 1721.1 265.1 1720.6 263.7 1720.3 262.1 1720.1 260.4 1719.6 258.8 1718.7 257.6 1717.3 256.7 1715.2 256.3 1712.6 256.3 1709.7 256.3 1706.7 256.4 1703.8 256.4 1700.9 256.3 1698.0 256.1 1694.9 255.9 1691.4 255.8 1687.6 255.8 1683.7 255.7 1680.3 255.4 1677.4 255.0 1675.2 254.3 1673.4 253.6 1671.6 253.0 1669.4 252.6 1666.5 252.6 1662.8 252.9 1658.6 253.3 1654.6 253.8 1651.3 254.1 1648.9 254.0 1647.6 253.6 1647.0 253.1 1646.6 252.4 1646.1 251.7 1645.4 251.1 1644.6 250.6 1643.9 250.0 1643.5 249.4 1643.3 248.7 1643.3 247.9 1642.9 247.0 1642.0 246.1 1640.3 245.1ZM1649.3 241.8 1650.9 239.8 1652.0 237.7 1652.3 235.6 1651.9 233.4 1651.2 231.2 1650.6 228.9 1650.2 226.5 1650.2 224.0 1650.3 221.5 1650.1 219.1 1649.5 216.7 1648.2 214.2 1646.9 211.7 1645.9 209.0 1645.8 206.3 1646.9 203.6 1649.1 201.0 1651.9 198.4 1654.8 195.8 1657.4 193.2 1659.5 190.2 1661.0 187.0 1662.4 183.5 1664.0 179.9 1665.8 176.4 1667.9 172.9 1670.1 169.5 1671.9 166.1 1673.2 162.5 1673.9 158.9 1674.5 155.2 1675.2 151.7 1676.6 148.7 1678.9 146.3 1682.0 144.5 1685.5 143.2 1689.1 142.2 1692.5 141.0 1695.5 139.6 1698.2 137.9 1700.8 136.0 1703.6 134.3 1706.5 132.8 1709.7 131.5 1712.9 130.3 1715.9 128.8 1718.6 126.9 1720.9 124.4 1723.1 121.7 1725.4 119.0 1728.0 116.8 1731.0 115.5 1734.4 115.0 1738.0 115.2 1741.6 115.6 1745.0 115.8 1748.2 115.6 1751.2 115.0 1754.2 114.3 1757.2 113.6 1760.2 113.0 1763.2 112.7 1766.2 112.3 1769.1 111.5 1772.0 110.1 1774.9 108.0 1777.8 105.5 1780.9 103.1 1784.0 101.3 1787.1 100.4 1790.2 100.6 1793.2 101.5 1796.2 102.8 1799.1 104.0 1802.0 104.9 1805.0 105.5 1807.9 106.0 1810.8 106.6 1813.5 107.6 1816.0 108.9 1818.5 110.2 1821.0 111.2 1823.7 111.5 1826.8 111.2 1830.2 110.4 1833.7 109.6 1837.0 109.3 1840.1 109.8 1842.7 111.2 1844.9 113.2 1846.9 115.6 1849.0 117.9 1851.3 120.0 1853.8 121.9 1856.4 123.8 1858.8 125.8 1860.9 128.1 1862.7 130.7 1864.4 133.3 1866.4 135.6 1868.9 137.4 1872.1 138.7 1875.9 139.5 1880.0 140.3 1883.8 141.5 1887.0 143.2 1889.3 145.5 1890.9 148.4 1892.2 151.4 1893.4 154.5 1894.8 157.5 1896.4 160.5 1898.2 163.5 1899.6 166.7 1900.5 170.1 1900.9 173.7 1901.2 177.2 1901.7 180.5 1902.9 183.5 1905.1 186.2 1908.0 188.8 1911.2 191.3 1914.2 194.1 1916.3 197.0 1917.4 200.1 1917.5 203.3 1917.2 206.4 1916.8 209.5 1916.7 212.4 1916.7 215.3 1916.7 218.2 1916.2 221.0 1915.1 223.8 1913.4 226.5 1911.5 229.1 1909.9 231.5 1909.1 234.0 1909.3 236.4 1910.5 239.0 1912.0 241.5 1913.3 243.9 1913.9 246.1 1913.4 247.9 1912.1 249.5 1910.4 250.8 1908.6 252.0 1907.1 253.3 1905.8 254.6 1904.5 255.9 1902.8 257.1 1900.6 258.0 1898.0 258.7 1895.1 259.1 1892.5 259.6 1890.7 260.4 1889.8 261.5 1889.7 263.1 1890.0 264.9 1890.3 266.8 1890.0 268.7 1889.0 270.4 1887.4 271.8 1885.5 273.2 1883.5 274.6 1881.7 276.2 1880.0 277.9 1878.1 279.5 1875.8 281.0 1872.8 282.1 1869.3 282.8 1865.5 283.2 1861.7 283.8 1858.3 284.8 1855.6 286.4 1853.3 288.5 1851.3 291.1 1849.2 293.7 1846.7 296.1 1843.8 298.0 1840.5 299.4 1836.9 300.6 1833.2 301.7 1829.5 303.0 1825.8 304.3 1821.9 305.6 1817.9 306.5 1813.7 306.8 1809.5 306.4 1805.3 305.7 1801.3 304.8 1797.6 304.4 1794.1 304.5 1790.8 305.4 1787.4 306.6 1784.1 308.0 1780.7 309.1 1777.3 309.7 1774.1 309.9 1771.0 309.8 1768.0 309.7 1765.2 309.8 1762.4 310.1 1759.8 310.2 1757.3 309.9 1755.1 309.0 1753.2 307.4 1751.5 305.4 1750.0 303.3 1748.5 301.5 1746.9 300.3 1745.1 299.7 1743.2 299.5 1741.2 299.3 1739.4 299.0 1737.8 298.2 1736.4 297.0 1735.2 295.7 1734.0 294.3 1732.7 293.1 1731.4 292.1 1730.2 290.8 1729.3 289.2 1728.7 287.0 1728.6 284.3 1728.8 281.2 1729.2 278.2 1729.4 275.4 1729.4 273.1 1728.9 271.4 1728.2 270.1 1727.4 269.0 1726.9 267.8 1726.7 266.4 1726.6 264.9 1726.7 263.3 1726.6 261.9 1726.2 260.7 1725.4 259.7 1724.3 258.9 1723.1 258.0 1721.9 257.1 1720.8 256.0 1719.9 254.9 1719.0 253.9 1717.8 253.0 1716.2 252.5 1713.9 252.3 1711.2 252.3 1708.2 252.4 1705.2 252.5 1702.1 252.4 1699.1 252.2 1695.8 252.1 1692.3 252.0 1688.4 252.1 1684.2 252.3 1680.0 252.5 1676.1 252.6 1673.1 252.4 1671.2 252.0 1670.2 251.3 1669.7 250.6 1669.2 250.0 1668.3 249.5 1666.8 249.3 1664.6 249.3 1662.3 249.4 1660.1 249.3 1658.2 249.1 1656.8 248.8 1655.5 248.4 1654.2 248.1 1652.5 247.8 1650.4 247.7 1648.3 247.5 1646.7 247.1 1645.9 246.3 1646.3 245.2 1647.5 243.6Z" fill="none" stroke="#a29c95" stroke-width="1.8" opacity="0.35" filter="url(#fb)"/></g>
<path d="M1630.6 245.6 1629.4 243.9 1629.2 241.7 1629.7 239.2 1630.0 236.5 1630.0 233.8 1629.9 231.1 1630.2 228.2 1631.2 225.2 1632.8 222.3 1634.1 219.5 1634.5 216.8 1633.8 214.1 1632.5 211.2 1631.6 208.3 1631.6 205.3 1632.5 202.3 1633.8 199.3 1634.9 196.1 1635.9 192.8 1637.1 189.4 1639.2 185.9 1642.3 182.4 1645.8 178.9 1648.9 175.2 1651.1 171.2 1652.5 166.9 1653.5 162.4 1654.9 158.1 1656.9 154.3 1659.2 150.9 1661.5 147.7 1663.5 144.5 1665.4 141.3 1667.7 138.4 1670.7 136.2 1674.4 134.6 1678.3 133.3 1681.9 131.7 1684.7 129.6 1687.0 127.0 1689.4 124.3 1692.2 121.8 1695.4 119.8 1698.7 118.0 1701.9 115.9 1705.0 113.5 1708.0 111.2 1711.5 109.4 1715.4 108.4 1719.5 108.2 1723.7 108.2 1727.4 107.8 1730.8 106.8 1734.0 105.2 1737.3 103.8 1740.6 102.6 1744.0 101.7 1747.4 100.6 1750.6 98.9 1753.8 96.8 1757.0 94.7 1760.4 93.3 1764.0 92.8 1767.5 93.1 1771.0 93.4 1774.4 93.3 1777.8 92.5 1781.2 91.6 1784.5 91.1 1787.9 91.0 1791.2 91.0 1794.7 90.6 1798.3 89.5 1802.1 88.1 1805.9 87.0 1809.5 86.8 1812.9 87.8 1816.0 89.4 1819.0 91.0 1822.0 92.1 1825.2 92.8 1828.2 93.7 1831.0 95.0 1833.6 96.6 1836.2 98.1 1839.3 98.9 1842.7 99.0 1846.5 98.8 1850.2 99.0 1853.5 100.1 1856.2 102.1 1858.8 104.5 1861.5 106.7 1864.5 108.7 1867.5 110.7 1870.3 113.0 1872.6 115.8 1874.6 118.8 1877.0 121.4 1880.0 123.3 1883.7 124.6 1887.8 125.8 1891.5 127.3 1894.5 129.6 1896.9 132.3 1899.1 135.1 1901.5 137.9 1904.1 140.5 1906.4 143.4 1908.0 146.7 1908.9 150.5 1909.7 154.3 1911.0 158.0 1913.4 161.2 1916.7 164.1 1920.1 167.1 1923.0 170.4 1925.0 173.9 1926.5 177.4 1927.9 180.9 1929.7 184.3 1931.4 187.7 1932.4 191.2 1932.2 194.9 1931.2 198.6 1930.0 202.2 1929.6 205.6 1930.4 208.9 1931.9 212.1 1933.4 215.3 1934.3 218.5 1934.5 221.8 1934.6 225.0 1935.0 228.3 1935.8 231.5 1936.4 234.7 1935.9 237.7 1934.2 240.4 1931.6 242.7 1929.1 244.8 1927.4 246.9 1926.6 248.9 1926.3 251.0 1925.7 252.9 1924.6 254.6 1923.2 256.1 1922.1 257.7 1921.6 259.5 1921.6 261.4 1921.2 263.2 1919.8 264.7 1917.4 265.7 1914.4 266.3 1911.6 267.0 1909.6 267.9 1908.2 269.1 1907.0 270.4 1905.6 271.7 1903.7 272.9 1901.8 274.3 1900.5 276.0 1899.8 278.2 1899.4 280.7 1898.4 282.9 1896.4 284.8 1893.4 286.1 1890.1 287.2 1886.8 288.4 1884.0 289.9 1881.3 291.6 1878.4 293.3 1875.1 294.8 1871.5 296.2 1868.1 297.8 1865.1 300.0 1862.6 302.7 1860.0 305.5 1856.9 308.0 1853.1 309.6 1848.8 310.5 1844.3 311.2 1839.9 312.1 1835.5 313.2 1831.2 314.3 1826.6 315.1 1821.9 315.4 1817.2 315.6 1812.8 316.2 1808.8 317.5 1805.1 319.3 1801.3 321.2 1797.3 322.4 1793.2 322.8 1789.1 322.6 1785.0 322.3 1781.1 322.3 1777.2 322.3 1773.6 322.1 1770.1 321.3 1766.9 320.0 1764.0 318.8 1761.1 318.2 1758.2 318.4 1755.3 319.1 1752.4 319.8 1749.8 319.9 1747.4 319.3 1745.1 318.4 1743.0 317.5 1740.8 316.8 1738.7 315.9 1736.9 314.5 1735.5 312.3 1734.4 309.8 1733.4 307.3 1732.1 305.5 1730.6 304.3 1728.9 303.4 1727.3 302.4 1726.0 300.9 1725.0 299.1 1724.0 297.1 1723.0 295.2 1722.0 293.5 1721.1 291.5 1720.7 289.0 1720.7 286.1 1721.0 283.0 1721.2 280.2 1720.9 278.0 1720.4 276.4 1720.0 274.8 1719.8 273.2 1719.9 271.4 1720.0 269.5 1719.8 267.9 1719.3 266.6 1718.4 265.5 1717.5 264.4 1716.5 263.1 1715.7 261.7 1714.7 260.4 1713.4 259.4 1711.4 258.8 1708.8 258.6 1706.1 258.5 1703.3 258.3 1700.7 258.1 1697.8 257.9 1694.5 257.8 1690.6 258.0 1686.3 258.1 1682.2 258.1 1678.7 257.8 1675.8 257.2 1673.2 256.6 1670.4 256.1 1667.2 255.8 1663.9 255.7 1661.0 255.5 1658.7 255.2 1656.6 254.9 1654.1 254.8 1650.9 254.9 1647.2 255.3 1643.5 255.6 1640.8 255.6 1639.2 255.3 1638.6 254.6 1638.3 253.8 1637.7 253.2 1636.8 252.6 1636.0 252.1 1635.9 251.3 1636.3 250.4 1636.7 249.5 1636.3 248.6 1634.8 247.7 1632.7 246.8Z" fill="none" stroke="#a29d96" stroke-width="1.2"/>
<circle cx="1741.3" cy="147.3" r="4.8" fill="url(#gsph)"/>
<circle cx="1778.0" cy="153.5" r="4.8" fill="url(#gsph)"/>
<circle cx="1800.1" cy="146.2" r="4.8" fill="url(#gsph)"/>
<circle cx="1805.6" cy="142.5" r="4.8" fill="url(#gsph)"/>
<circle cx="1805.6" cy="153.5" r="4.8" fill="url(#gsph)"/>
<circle cx="1836.8" cy="168.9" r="4.8" fill="url(#gsph)"/>
<circle cx="1790.9" cy="170.0" r="4.8" fill="url(#gsph)"/>
<circle cx="1767.0" cy="171.9" r="4.8" fill="url(#gsph)"/>
<circle cx="1741.3" cy="165.3" r="4.8" fill="url(#gsph)"/>
<circle cx="1726.6" cy="184.7" r="4.8" fill="url(#gsph)"/>
<circle cx="1689.1" cy="202.4" r="4.8" fill="url(#gsph)"/>
<circle cx="1673.3" cy="196.9" r="4.8" fill="url(#gsph)"/>
<circle cx="1730.3" cy="203.1" r="4.8" fill="url(#gsph)"/>
<circle cx="1800.1" cy="186.6" r="4.8" fill="url(#gsph)"/>
<circle cx="1829.5" cy="197.6" r="4.8" fill="url(#gsph)"/>
<circle cx="1803.8" cy="210.5" r="4.8" fill="url(#gsph)"/>
<circle cx="1848.6" cy="214.1" r="4.8" fill="url(#gsph)"/>
<circle cx="1873.6" cy="214.1" r="4.8" fill="url(#gsph)"/>
<circle cx="1883.9" cy="177.4" r="4.8" fill="url(#gsph)"/>
<circle cx="1883.9" cy="196.9" r="4.8" fill="url(#gsph)"/>
<circle cx="1874.3" cy="197.6" r="4.8" fill="url(#gsph)"/>
<circle cx="1887.5" cy="215.2" r="4.8" fill="url(#gsph)"/>
<circle cx="1697.2" cy="221.5" r="4.8" fill="url(#gsph)"/>
<circle cx="1693.5" cy="223.3" r="4.8" fill="url(#gsph)"/>
<circle cx="1714.8" cy="219.7" r="4.8" fill="url(#gsph)"/>
<circle cx="1699.0" cy="239.9" r="4.8" fill="url(#gsph)"/>
<circle cx="1642.1" cy="241.7" r="4.8" fill="url(#gsph)"/>
<circle cx="1649.4" cy="241.7" r="4.8" fill="url(#gsph)"/>
<circle cx="1682.5" cy="249.1" r="4.8" fill="url(#gsph)"/>
<circle cx="1695.3" cy="249.1" r="4.8" fill="url(#gsph)"/>
<circle cx="1702.7" cy="254.6" r="4.8" fill="url(#gsph)"/>
<circle cx="1710.0" cy="249.1" r="4.8" fill="url(#gsph)"/>
<circle cx="1741.3" cy="237.3" r="4.8" fill="url(#gsph)"/>
<circle cx="1785.4" cy="233.6" r="4.8" fill="url(#gsph)"/>
<circle cx="1763.3" cy="250.9" r="4.8" fill="url(#gsph)"/>
<circle cx="1767.0" cy="258.2" r="4.8" fill="url(#gsph)"/>
<circle cx="1813.7" cy="249.1" r="4.8" fill="url(#gsph)"/>
<circle cx="1814.8" cy="254.6" r="4.8" fill="url(#gsph)"/>
<circle cx="1836.8" cy="260.1" r="4.8" fill="url(#gsph)"/>
<circle cx="1825.8" cy="267.4" r="4.8" fill="url(#gsph)"/>
<circle cx="1737.6" cy="270.4" r="4.8" fill="url(#gsph)"/>
<circle cx="1765.2" cy="270.4" r="4.8" fill="url(#gsph)"/>
<circle cx="1770.7" cy="278.5" r="4.8" fill="url(#gsph)"/>
<circle cx="1735.8" cy="284.0" r="4.8" fill="url(#gsph)"/>
<circle cx="1787.2" cy="234.4" r="4.8" fill="url(#gsph)"/>
<path d="M1714.8 159.0L1762.6 226.3M1714.8 159.0L1799.0 248.3M1714.8 159.0L1865.5 152.8M1714.8 159.0L1909.2 223.3M1713.7 167.5L1762.6 226.3M1713.7 167.5L1799.0 248.3M1713.7 167.5L1787.2 243.5M1713.7 167.5L1865.5 152.8M1713.7 167.5L1857.0 230.7M1713.7 167.5L1909.2 223.3M1745.7 210.5L1755.2 227.0M1745.7 210.5L1799.0 248.3M1745.7 210.5L1852.3 173.7M1745.7 210.5L1857.0 230.7M1762.6 226.3L1755.2 227.0M1762.6 226.3L1787.2 243.5M1762.6 226.3L1846.8 161.6M1762.6 226.3L1865.5 152.8M1762.6 226.3L1852.3 173.7M1762.6 226.3L1869.9 232.5M1762.6 226.3L1857.0 230.7M1755.2 227.0L1799.0 248.3M1755.2 227.0L1787.2 243.5M1755.2 227.0L1865.5 152.8M1755.2 227.0L1852.3 173.7M1755.2 227.0L1909.2 223.3M1789.8 216.7L1799.0 248.3M1789.8 216.7L1787.2 243.5M1789.8 216.7L1865.5 152.8M1789.8 216.7L1852.3 173.7M1789.8 216.7L1869.9 232.5M1789.8 216.7L1909.2 223.3M1799.0 248.3L1787.2 243.5M1799.0 248.3L1852.3 173.7M1799.0 248.3L1869.9 232.5M1787.2 243.5L1846.8 161.6M1787.2 243.5L1852.3 173.7M1787.2 243.5L1869.9 232.5M1787.2 243.5L1909.2 223.3M1846.8 161.6L1852.3 173.7M1846.8 161.6L1857.0 230.7M1846.8 161.6L1909.2 223.3M1865.5 152.8L1852.3 173.7M1865.5 152.8L1869.9 232.5M1865.5 152.8L1857.0 230.7M1852.3 173.7L1857.0 230.7M1852.3 173.7L1909.2 223.3M1869.9 232.5L1857.0 230.7M1869.9 232.5L1909.2 223.3" stroke="#f7b3b5" stroke-width="1.7" fill="none" opacity="0.9"/>
<circle cx="1714.8" cy="159.0" r="8.1" fill="url(#rsph)"/>
<circle cx="1713.7" cy="167.5" r="5.9" fill="url(#rsph)"/>
<circle cx="1745.7" cy="210.5" r="8.1" fill="url(#rsph)"/>
<circle cx="1762.6" cy="226.3" r="8.8" fill="url(#rsph)"/>
<circle cx="1755.2" cy="227.0" r="5.9" fill="url(#rsph)"/>
<circle cx="1789.8" cy="216.7" r="8.1" fill="url(#rsph)"/>
<circle cx="1799.0" cy="248.3" r="8.8" fill="url(#rsph)"/>
<circle cx="1787.2" cy="243.5" r="6.6" fill="url(#rsph)"/>
<circle cx="1846.8" cy="161.6" r="7.0" fill="url(#rsph)"/>
<circle cx="1865.5" cy="152.8" r="8.1" fill="url(#rsph)"/>
<circle cx="1852.3" cy="173.7" r="7.0" fill="url(#rsph)"/>
<circle cx="1869.9" cy="232.5" r="7.7" fill="url(#rsph)"/>
<circle cx="1857.0" cy="230.7" r="5.9" fill="url(#rsph)"/>
<circle cx="1909.2" cy="223.3" r="8.1" fill="url(#rsph)"/>
<rect x="1426.60" y="413.30" width="24.88" height="17.40" fill="#d9d9d9" stroke="#6f6f6f" stroke-width="0.8"/>
<rect x="1451.48" y="408.95" width="30.30" height="21.75" fill="#d9d9d9" stroke="#6f6f6f" stroke-width="0.8"/>
<rect x="1481.77" y="387.20" width="30.30" height="43.50" fill="#d9d9d9" stroke="#6f6f6f" stroke-width="0.8"/>
<rect x="1512.07" y="378.50" width="30.30" height="52.20" fill="#d9d9d9" stroke="#6f6f6f" stroke-width="0.8"/>
<rect x="1542.36" y="408.95" width="30.30" height="21.75" fill="#d9d9d9" stroke="#6f6f6f" stroke-width="0.8"/>
<rect x="1572.66" y="400.25" width="30.30" height="30.45" fill="#d9d9d9" stroke="#6f6f6f" stroke-width="0.8"/>
<rect x="1602.96" y="404.60" width="30.30" height="26.10" fill="#d9d9d9" stroke="#6f6f6f" stroke-width="0.8"/>
<rect x="1633.25" y="391.55" width="30.30" height="39.15" fill="#d9d9d9" stroke="#6f6f6f" stroke-width="0.8"/>
<rect x="1663.55" y="408.95" width="30.30" height="21.75" fill="#d9d9d9" stroke="#6f6f6f" stroke-width="0.8"/>
<rect x="1693.84" y="413.30" width="30.30" height="17.40" fill="#d9d9d9" stroke="#6f6f6f" stroke-width="0.8"/>
<rect x="1724.14" y="417.65" width="30.30" height="13.05" fill="#d9d9d9" stroke="#6f6f6f" stroke-width="0.8"/>
<rect x="1754.44" y="413.30" width="30.30" height="17.40" fill="#d9d9d9" stroke="#6f6f6f" stroke-width="0.8"/>
<rect x="1784.73" y="417.65" width="30.30" height="13.05" fill="#d9d9d9" stroke="#6f6f6f" stroke-width="0.8"/>
<rect x="1815.03" y="413.30" width="30.30" height="17.40" fill="#d9d9d9" stroke="#6f6f6f" stroke-width="0.8"/>
<rect x="1845.32" y="426.35" width="30.30" height="4.35" fill="#d9d9d9" stroke="#6f6f6f" stroke-width="0.8"/>
<line x1="1426.6" y1="374.6" x2="1426.6" y2="430.7" stroke="#8c8c8c" stroke-width="1.2"/>
<line x1="1426.6" y1="430.7" x2="1886.2" y2="430.7" stroke="#8c8c8c" stroke-width="1.2"/>
<line x1="1432.0" y1="426.7" x2="1432.0" y2="430.7" stroke="#8c8c8c" stroke-width="1.2"/>
<text x="1432.0" y="453.0" font-size="17.5" text-anchor="middle" fill="#000" >5</text>
<line x1="1486.1" y1="426.7" x2="1486.1" y2="430.7" stroke="#8c8c8c" stroke-width="1.2"/>
<text x="1486.1" y="453.0" font-size="17.5" text-anchor="middle" fill="#000" >10</text>
<line x1="1540.2" y1="426.7" x2="1540.2" y2="430.7" stroke="#8c8c8c" stroke-width="1.2"/>
<text x="1540.2" y="453.0" font-size="17.5" text-anchor="middle" fill="#000" >15</text>
<line x1="1594.3" y1="426.7" x2="1594.3" y2="430.7" stroke="#8c8c8c" stroke-width="1.2"/>
<text x="1594.3" y="453.0" font-size="17.5" text-anchor="middle" fill="#000" >20</text>
<line x1="1648.4" y1="426.7" x2="1648.4" y2="430.7" stroke="#8c8c8c" stroke-width="1.2"/>
<text x="1648.4" y="453.0" font-size="17.5" text-anchor="middle" fill="#000" >25</text>
<line x1="1702.5" y1="426.7" x2="1702.5" y2="430.7" stroke="#8c8c8c" stroke-width="1.2"/>
<text x="1702.5" y="453.0" font-size="17.5" text-anchor="middle" fill="#000" >30</text>
<line x1="1756.6" y1="426.7" x2="1756.6" y2="430.7" stroke="#8c8c8c" stroke-width="1.2"/>
<text x="1756.6" y="453.0" font-size="17.5" text-anchor="middle" fill="#000" >35</text>
<line x1="1810.7" y1="426.7" x2="1810.7" y2="430.7" stroke="#8c8c8c" stroke-width="1.2"/>
<text x="1810.7" y="453.0" font-size="17.5" text-anchor="middle" fill="#000" >40</text>
<line x1="1864.8" y1="426.7" x2="1864.8" y2="430.7" stroke="#8c8c8c" stroke-width="1.2"/>
<text x="1864.8" y="453.0" font-size="17.5" text-anchor="middle" fill="#000" >45</text>
<line x1="1426.6" y1="430.7" x2="1430.6" y2="430.7" stroke="#8c8c8c" stroke-width="1.2"/>
<text x="1420.0" y="436.7" font-size="17.5" text-anchor="end" fill="#000" >0</text>
<line x1="1426.6" y1="408.9" x2="1430.6" y2="408.9" stroke="#8c8c8c" stroke-width="1.2"/>
<text x="1420.0" y="414.9" font-size="17.5" text-anchor="end" fill="#000" >5</text>
<line x1="1426.6" y1="387.2" x2="1430.6" y2="387.2" stroke="#8c8c8c" stroke-width="1.2"/>
<text transform="translate(1395.0,401.6) rotate(-90)" x="0" y="0" font-size="19.3" text-anchor="middle" fill="#000">Frequency</text>
<clipPath id="cC"><rect x="1426.4" y="454" width="459.6999999999998" height="149.79999999999995"/></clipPath>
<line x1="1426.4" y1="584.7" x2="1886.1" y2="584.7" stroke="#8a8a8a" stroke-width="1" stroke-dasharray="1.5 2.9"/>
<polyline points="1426.60,584.70 1432.00,583.90 1442.80,583.90 1453.60,582.70 1464.40,581.90 1475.20,581.29 1486.00,577.49 1496.80,575.88 1507.60,568.87 1518.40,563.46 1529.20,558.65 1540.00,550.40 1550.80,548.24 1561.60,539.54 1572.40,535.89 1583.20,538.02 1594.00,540.22 1604.80,537.10 1615.60,529.68 1626.40,529.68 1637.20,529.68 1648.00,542.71 1658.80,534.05 1669.60,523.39 1680.40,523.39 1691.20,523.39 1702.00,523.39 1712.80,504.56 1723.60,528.20 1734.40,533.41 1745.20,539.62 1756.00,541.99 1766.80,584.70 1777.60,584.70 1788.40,604.74" fill="none" stroke="#5aa5ef" stroke-width="2.2" stroke-linejoin="round" clip-path="url(#cC)"/>
<circle cx="1432.00" cy="583.90" r="4.3" fill="#b4d5f6" stroke="#88bdf2" stroke-width="1.2"/>
<circle cx="1442.80" cy="583.90" r="4.3" fill="#b4d5f6" stroke="#88bdf2" stroke-width="1.2"/>
<circle cx="1453.60" cy="582.70" r="4.3" fill="#b4d5f6" stroke="#88bdf2" stroke-width="1.2"/>
<circle cx="1464.40" cy="581.90" r="4.3" fill="#b4d5f6" stroke="#88bdf2" stroke-width="1.2"/>
<circle cx="1475.20" cy="581.29" r="4.3" fill="#b4d5f6" stroke="#88bdf2" stroke-width="1.2"/>
<circle cx="1486.00" cy="577.49" r="4.3" fill="#b4d5f6" stroke="#88bdf2" stroke-width="1.2"/>
<circle cx="1496.80" cy="575.88" r="4.3" fill="#b4d5f6" stroke="#88bdf2" stroke-width="1.2"/>
<circle cx="1507.60" cy="568.87" r="4.3" fill="#b4d5f6" stroke="#88bdf2" stroke-width="1.2"/>
<circle cx="1518.40" cy="563.46" r="4.3" fill="#b4d5f6" stroke="#88bdf2" stroke-width="1.2"/>
<circle cx="1529.20" cy="558.65" r="4.3" fill="#b4d5f6" stroke="#88bdf2" stroke-width="1.2"/>
<circle cx="1540.00" cy="550.40" r="4.3" fill="#b4d5f6" stroke="#88bdf2" stroke-width="1.2"/>
<circle cx="1550.80" cy="548.24" r="4.3" fill="#b4d5f6" stroke="#88bdf2" stroke-width="1.2"/>
<circle cx="1561.60" cy="539.54" r="4.3" fill="#b4d5f6" stroke="#88bdf2" stroke-width="1.2"/>
<circle cx="1572.40" cy="535.89" r="4.3" fill="#b4d5f6" stroke="#88bdf2" stroke-width="1.2"/>
<circle cx="1583.20" cy="538.02" r="4.3" fill="#b4d5f6" stroke="#88bdf2" stroke-width="1.2"/>
<circle cx="1594.00" cy="540.22" r="4.3" fill="#b4d5f6" stroke="#88bdf2" stroke-width="1.2"/>
<circle cx="1604.80" cy="537.10" r="4.3" fill="#b4d5f6" stroke="#88bdf2" stroke-width="1.2"/>
<circle cx="1615.60" cy="529.68" r="4.3" fill="#b4d5f6" stroke="#88bdf2" stroke-width="1.2"/>
<circle cx="1626.40" cy="529.68" r="4.3" fill="#b4d5f6" stroke="#88bdf2" stroke-width="1.2"/>
<circle cx="1637.20" cy="529.68" r="4.3" fill="#b4d5f6" stroke="#88bdf2" stroke-width="1.2"/>
<circle cx="1648.00" cy="542.71" r="4.3" fill="#b4d5f6" stroke="#88bdf2" stroke-width="1.2"/>
<circle cx="1658.80" cy="534.05" r="4.3" fill="#b4d5f6" stroke="#88bdf2" stroke-width="1.2"/>
<circle cx="1669.60" cy="523.39" r="4.3" fill="#b4d5f6" stroke="#88bdf2" stroke-width="1.2"/>
<circle cx="1680.40" cy="523.39" r="4.3" fill="#b4d5f6" stroke="#88bdf2" stroke-width="1.2"/>
<circle cx="1691.20" cy="523.39" r="4.3" fill="#b4d5f6" stroke="#88bdf2" stroke-width="1.2"/>
<circle cx="1702.00" cy="523.39" r="4.3" fill="#b4d5f6" stroke="#88bdf2" stroke-width="1.2"/>
<circle cx="1712.80" cy="504.56" r="4.3" fill="#b4d5f6" stroke="#88bdf2" stroke-width="1.2"/>
<circle cx="1723.60" cy="528.20" r="4.3" fill="#b4d5f6" stroke="#88bdf2" stroke-width="1.2"/>
<circle cx="1734.40" cy="533.41" r="4.3" fill="#b4d5f6" stroke="#88bdf2" stroke-width="1.2"/>
<circle cx="1745.20" cy="539.62" r="4.3" fill="#b4d5f6" stroke="#88bdf2" stroke-width="1.2"/>
<circle cx="1756.00" cy="541.99" r="4.3" fill="#b4d5f6" stroke="#88bdf2" stroke-width="1.2"/>
<polyline points="1426.60,584.70 1489.24,584.70 1496.80,581.29 1507.60,579.69 1518.40,576.69 1529.20,576.00 1540.00,568.27 1550.80,564.26 1561.60,565.07 1572.40,560.26 1583.20,561.22 1594.00,556.65 1604.80,556.65 1615.60,549.04 1626.40,549.04 1637.20,549.04 1648.00,544.63 1658.80,541.99 1669.60,543.43 1680.40,543.43 1691.20,551.44 1702.00,551.44 1712.80,531.81 1723.60,540.22 1734.40,541.02 1745.20,530.20 1756.00,502.56 1766.80,481.72 1777.60,481.72 1788.40,491.74 1799.20,497.75 1810.00,497.75 1820.80,506.56 1831.60,515.38" fill="none" stroke="#f20a0a" stroke-width="2.6" stroke-linejoin="round" clip-path="url(#cC)"/>
<circle cx="1496.80" cy="581.29" r="4.1" fill="#f36666" stroke="#f00505" stroke-width="1.3"/>
<circle cx="1507.60" cy="579.69" r="4.1" fill="#f36666" stroke="#f00505" stroke-width="1.3"/>
<circle cx="1518.40" cy="576.69" r="4.1" fill="#f36666" stroke="#f00505" stroke-width="1.3"/>
<circle cx="1529.20" cy="576.00" r="4.1" fill="#f36666" stroke="#f00505" stroke-width="1.3"/>
<circle cx="1540.00" cy="568.27" r="4.1" fill="#f36666" stroke="#f00505" stroke-width="1.3"/>
<circle cx="1550.80" cy="564.26" r="4.1" fill="#f36666" stroke="#f00505" stroke-width="1.3"/>
<circle cx="1561.60" cy="565.07" r="4.1" fill="#f36666" stroke="#f00505" stroke-width="1.3"/>
<circle cx="1572.40" cy="560.26" r="4.1" fill="#f36666" stroke="#f00505" stroke-width="1.3"/>
<circle cx="1583.20" cy="561.22" r="4.1" fill="#f36666" stroke="#f00505" stroke-width="1.3"/>
<circle cx="1594.00" cy="556.65" r="4.1" fill="#f36666" stroke="#f00505" stroke-width="1.3"/>
<circle cx="1604.80" cy="556.65" r="4.1" fill="#f36666" stroke="#f00505" stroke-width="1.3"/>
<circle cx="1615.60" cy="549.04" r="4.1" fill="#f36666" stroke="#f00505" stroke-width="1.3"/>
<circle cx="1626.40" cy="549.04" r="4.1" fill="#f36666" stroke="#f00505" stroke-width="1.3"/>
<circle cx="1637.20" cy="549.04" r="4.1" fill="#f36666" stroke="#f00505" stroke-width="1.3"/>
<circle cx="1648.00" cy="544.63" r="4.1" fill="#f36666" stroke="#f00505" stroke-width="1.3"/>
<circle cx="1658.80" cy="541.99" r="4.1" fill="#f36666" stroke="#f00505" stroke-width="1.3"/>
<circle cx="1669.60" cy="543.43" r="4.1" fill="#f36666" stroke="#f00505" stroke-width="1.3"/>
<circle cx="1680.40" cy="543.43" r="4.1" fill="#f36666" stroke="#f00505" stroke-width="1.3"/>
<circle cx="1691.20" cy="551.44" r="4.1" fill="#f36666" stroke="#f00505" stroke-width="1.3"/>
<circle cx="1702.00" cy="551.44" r="4.1" fill="#f36666" stroke="#f00505" stroke-width="1.3"/>
<circle cx="1712.80" cy="531.81" r="4.1" fill="#f36666" stroke="#f00505" stroke-width="1.3"/>
<circle cx="1723.60" cy="540.22" r="4.1" fill="#f36666" stroke="#f00505" stroke-width="1.3"/>
<circle cx="1734.40" cy="541.02" r="4.1" fill="#f36666" stroke="#f00505" stroke-width="1.3"/>
<circle cx="1745.20" cy="530.20" r="4.1" fill="#f36666" stroke="#f00505" stroke-width="1.3"/>
<circle cx="1756.00" cy="502.56" r="4.1" fill="#f36666" stroke="#f00505" stroke-width="1.3"/>
<circle cx="1766.80" cy="481.72" r="4.1" fill="#f36666" stroke="#f00505" stroke-width="1.3"/>
<circle cx="1777.60" cy="481.72" r="4.1" fill="#f36666" stroke="#f00505" stroke-width="1.3"/>
<circle cx="1788.40" cy="491.74" r="4.1" fill="#f36666" stroke="#f00505" stroke-width="1.3"/>
<line x1="1426.4" y1="464.0" x2="1426.4" y2="603.8" stroke="#8c8c8c" stroke-width="1.2"/>
<line x1="1886.1" y1="464.0" x2="1886.1" y2="603.8" stroke="#8c8c8c" stroke-width="1.2"/>
<line x1="1426.4" y1="603.8" x2="1886.1" y2="603.8" stroke="#8c8c8c" stroke-width="1.2"/>
<line x1="1432.0" y1="599.3" x2="1432.0" y2="603.8" stroke="#8c8c8c" stroke-width="1.2"/>
<text x="1432.0" y="627.6" font-size="17.5" text-anchor="middle" fill="#000" >5</text>
<line x1="1486.0" y1="599.3" x2="1486.0" y2="603.8" stroke="#8c8c8c" stroke-width="1.2"/>
<text x="1486.0" y="627.6" font-size="17.5" text-anchor="middle" fill="#000" >10</text>
<line x1="1540.0" y1="599.3" x2="1540.0" y2="603.8" stroke="#8c8c8c" stroke-width="1.2"/>
<text x="1540.0" y="627.6" font-size="17.5" text-anchor="middle" fill="#000" >15</text>
<line x1="1594.0" y1="599.3" x2="1594.0" y2="603.8" stroke="#8c8c8c" stroke-width="1.2"/>
<text x="1594.0" y="627.6" font-size="17.5" text-anchor="middle" fill="#000" >20</text>
<line x1="1648.0" y1="599.3" x2="1648.0" y2="603.8" stroke="#8c8c8c" stroke-width="1.2"/>
<text x="1648.0" y="627.6" font-size="17.5" text-anchor="middle" fill="#000" >25</text>
<line x1="1702.0" y1="599.3" x2="1702.0" y2="603.8" stroke="#8c8c8c" stroke-width="1.2"/>
<text x="1702.0" y="627.6" font-size="17.5" text-anchor="middle" fill="#000" >30</text>
<line x1="1756.0" y1="599.3" x2="1756.0" y2="603.8" stroke="#8c8c8c" stroke-width="1.2"/>
<text x="1756.0" y="627.6" font-size="17.5" text-anchor="middle" fill="#000" >35</text>
<line x1="1810.0" y1="599.3" x2="1810.0" y2="603.8" stroke="#8c8c8c" stroke-width="1.2"/>
<text x="1810.0" y="627.6" font-size="17.5" text-anchor="middle" fill="#000" >40</text>
<line x1="1864.0" y1="599.3" x2="1864.0" y2="603.8" stroke="#8c8c8c" stroke-width="1.2"/>
<text x="1864.0" y="627.6" font-size="17.5" text-anchor="middle" fill="#000" >45</text>
<line x1="1426.4" y1="584.7" x2="1430.9" y2="584.7" stroke="#8c8c8c" stroke-width="1.2"/>
<text x="1419.4" y="590.7" font-size="17.5" text-anchor="end" fill="#000" >1</text>
<line x1="1426.4" y1="544.6" x2="1430.9" y2="544.6" stroke="#8c8c8c" stroke-width="1.2"/>
<text x="1419.4" y="550.6" font-size="17.5" text-anchor="end" fill="#000" >1.1</text>
<line x1="1426.4" y1="504.6" x2="1430.9" y2="504.6" stroke="#8c8c8c" stroke-width="1.2"/>
<text x="1419.4" y="510.6" font-size="17.5" text-anchor="end" fill="#000" >1.2</text>
<line x1="1426.4" y1="464.5" x2="1430.9" y2="464.5" stroke="#8c8c8c" stroke-width="1.2"/>
<text x="1419.4" y="470.5" font-size="17.5" text-anchor="end" fill="#000" >1.3</text>
<line x1="1881.6" y1="463.9" x2="1886.1" y2="463.9" stroke="#8c8c8c" stroke-width="1.2"/>
<text x="1889.1" y="469.9" font-size="17.5" text-anchor="start" fill="#000" >58.48</text>
<line x1="1881.6" y1="505.0" x2="1886.1" y2="505.0" stroke="#8c8c8c" stroke-width="1.2"/>
<text x="1889.1" y="511.0" font-size="17.5" text-anchor="start" fill="#000" >55.12</text>
<line x1="1881.6" y1="544.2" x2="1886.1" y2="544.2" stroke="#8c8c8c" stroke-width="1.2"/>
<text x="1889.1" y="550.2" font-size="17.5" text-anchor="start" fill="#000" >51.76</text>
<line x1="1881.6" y1="584.3" x2="1886.1" y2="584.3" stroke="#8c8c8c" stroke-width="1.2"/>
<text x="1889.1" y="590.3" font-size="17.5" text-anchor="start" fill="#000" >48.40</text>
<line x1="1441.9" y1="486.1" x2="1474.4" y2="486.1" stroke="#f20a0a" stroke-width="2.6"/>
<line x1="1441.9" y1="506.1" x2="1474.4" y2="506.1" stroke="#5aa5ef" stroke-width="2.2"/>
<text x="1477.9" y="488.2" font-size="14.2" fill="#000" font-family="Liberation Serif, serif">&#934;<tspan font-family="Liberation Sans, Arial, sans-serif" font-size="11.6" dy="6.5">norm</tspan></text>
<text x="1477.9" y="511.2" font-size="12.6" text-anchor="start" fill="#000" >d</text>
<text transform="translate(1382.4,532.0) rotate(-90)" x="0" y="0" font-size="19.5" text-anchor="middle" fill="#000"><tspan font-family="Liberation Serif, serif">&#934;</tspan><tspan font-size="16" dy="8.8">norm</tspan></text>
<text x="1656.0" y="651.4" font-size="19.6" text-anchor="middle" fill="#000" >Degree, k</text>
<text transform="translate(1941.3,536.5) rotate(90)" x="0" y="0" font-size="14.2" text-anchor="middle" fill="#000">Connection distance, d(mm)</text>
</svg>
</body></html>
